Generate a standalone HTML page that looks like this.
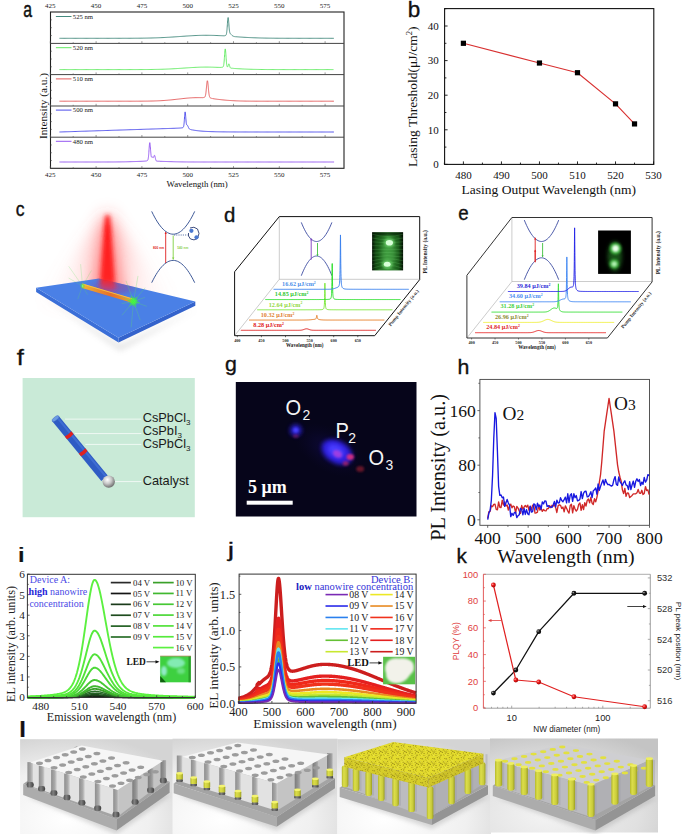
<!DOCTYPE html>
<html><head><meta charset="utf-8"><style>
html,body{margin:0;padding:0;background:#fff;}
svg{display:block;}
</style></head><body>
<svg width="685" height="834" viewBox="0 0 685 834">
<rect width="685" height="834" fill="#fff"/>
<rect x="50.5" y="12.0" width="293.5" height="156.3" fill="none" stroke="#222" stroke-width="1.1"/>
<line x1="50.50" y1="43.40" x2="344.00" y2="43.40" stroke="#444" stroke-width="1.0" />
<line x1="50.50" y1="74.60" x2="344.00" y2="74.60" stroke="#444" stroke-width="1.0" />
<line x1="50.50" y1="106.00" x2="344.00" y2="106.00" stroke="#444" stroke-width="1.0" />
<line x1="50.50" y1="137.20" x2="344.00" y2="137.20" stroke="#444" stroke-width="1.0" />
<line x1="50.30" y1="43.40" x2="50.30" y2="41.20" stroke="#555" stroke-width="0.6" />
<line x1="73.20" y1="43.40" x2="73.20" y2="42.20" stroke="#555" stroke-width="0.6" />
<line x1="96.10" y1="43.40" x2="96.10" y2="41.20" stroke="#555" stroke-width="0.6" />
<line x1="119.00" y1="43.40" x2="119.00" y2="42.20" stroke="#555" stroke-width="0.6" />
<line x1="141.90" y1="43.40" x2="141.90" y2="41.20" stroke="#555" stroke-width="0.6" />
<line x1="164.80" y1="43.40" x2="164.80" y2="42.20" stroke="#555" stroke-width="0.6" />
<line x1="187.70" y1="43.40" x2="187.70" y2="41.20" stroke="#555" stroke-width="0.6" />
<line x1="210.60" y1="43.40" x2="210.60" y2="42.20" stroke="#555" stroke-width="0.6" />
<line x1="233.50" y1="43.40" x2="233.50" y2="41.20" stroke="#555" stroke-width="0.6" />
<line x1="256.40" y1="43.40" x2="256.40" y2="42.20" stroke="#555" stroke-width="0.6" />
<line x1="279.30" y1="43.40" x2="279.30" y2="41.20" stroke="#555" stroke-width="0.6" />
<line x1="302.20" y1="43.40" x2="302.20" y2="42.20" stroke="#555" stroke-width="0.6" />
<line x1="325.10" y1="43.40" x2="325.10" y2="41.20" stroke="#555" stroke-width="0.6" />
<line x1="50.50" y1="19.85" x2="52.00" y2="19.85" stroke="#555" stroke-width="0.6" />
<line x1="50.50" y1="27.70" x2="52.00" y2="27.70" stroke="#555" stroke-width="0.6" />
<line x1="50.50" y1="35.55" x2="52.00" y2="35.55" stroke="#555" stroke-width="0.6" />
<line x1="50.30" y1="74.60" x2="50.30" y2="72.40" stroke="#555" stroke-width="0.6" />
<line x1="73.20" y1="74.60" x2="73.20" y2="73.40" stroke="#555" stroke-width="0.6" />
<line x1="96.10" y1="74.60" x2="96.10" y2="72.40" stroke="#555" stroke-width="0.6" />
<line x1="119.00" y1="74.60" x2="119.00" y2="73.40" stroke="#555" stroke-width="0.6" />
<line x1="141.90" y1="74.60" x2="141.90" y2="72.40" stroke="#555" stroke-width="0.6" />
<line x1="164.80" y1="74.60" x2="164.80" y2="73.40" stroke="#555" stroke-width="0.6" />
<line x1="187.70" y1="74.60" x2="187.70" y2="72.40" stroke="#555" stroke-width="0.6" />
<line x1="210.60" y1="74.60" x2="210.60" y2="73.40" stroke="#555" stroke-width="0.6" />
<line x1="233.50" y1="74.60" x2="233.50" y2="72.40" stroke="#555" stroke-width="0.6" />
<line x1="256.40" y1="74.60" x2="256.40" y2="73.40" stroke="#555" stroke-width="0.6" />
<line x1="279.30" y1="74.60" x2="279.30" y2="72.40" stroke="#555" stroke-width="0.6" />
<line x1="302.20" y1="74.60" x2="302.20" y2="73.40" stroke="#555" stroke-width="0.6" />
<line x1="325.10" y1="74.60" x2="325.10" y2="72.40" stroke="#555" stroke-width="0.6" />
<line x1="50.50" y1="51.20" x2="52.00" y2="51.20" stroke="#555" stroke-width="0.6" />
<line x1="50.50" y1="59.00" x2="52.00" y2="59.00" stroke="#555" stroke-width="0.6" />
<line x1="50.50" y1="66.80" x2="52.00" y2="66.80" stroke="#555" stroke-width="0.6" />
<line x1="50.30" y1="106.00" x2="50.30" y2="103.80" stroke="#555" stroke-width="0.6" />
<line x1="73.20" y1="106.00" x2="73.20" y2="104.80" stroke="#555" stroke-width="0.6" />
<line x1="96.10" y1="106.00" x2="96.10" y2="103.80" stroke="#555" stroke-width="0.6" />
<line x1="119.00" y1="106.00" x2="119.00" y2="104.80" stroke="#555" stroke-width="0.6" />
<line x1="141.90" y1="106.00" x2="141.90" y2="103.80" stroke="#555" stroke-width="0.6" />
<line x1="164.80" y1="106.00" x2="164.80" y2="104.80" stroke="#555" stroke-width="0.6" />
<line x1="187.70" y1="106.00" x2="187.70" y2="103.80" stroke="#555" stroke-width="0.6" />
<line x1="210.60" y1="106.00" x2="210.60" y2="104.80" stroke="#555" stroke-width="0.6" />
<line x1="233.50" y1="106.00" x2="233.50" y2="103.80" stroke="#555" stroke-width="0.6" />
<line x1="256.40" y1="106.00" x2="256.40" y2="104.80" stroke="#555" stroke-width="0.6" />
<line x1="279.30" y1="106.00" x2="279.30" y2="103.80" stroke="#555" stroke-width="0.6" />
<line x1="302.20" y1="106.00" x2="302.20" y2="104.80" stroke="#555" stroke-width="0.6" />
<line x1="325.10" y1="106.00" x2="325.10" y2="103.80" stroke="#555" stroke-width="0.6" />
<line x1="50.50" y1="82.45" x2="52.00" y2="82.45" stroke="#555" stroke-width="0.6" />
<line x1="50.50" y1="90.30" x2="52.00" y2="90.30" stroke="#555" stroke-width="0.6" />
<line x1="50.50" y1="98.15" x2="52.00" y2="98.15" stroke="#555" stroke-width="0.6" />
<line x1="50.30" y1="137.20" x2="50.30" y2="135.00" stroke="#555" stroke-width="0.6" />
<line x1="73.20" y1="137.20" x2="73.20" y2="136.00" stroke="#555" stroke-width="0.6" />
<line x1="96.10" y1="137.20" x2="96.10" y2="135.00" stroke="#555" stroke-width="0.6" />
<line x1="119.00" y1="137.20" x2="119.00" y2="136.00" stroke="#555" stroke-width="0.6" />
<line x1="141.90" y1="137.20" x2="141.90" y2="135.00" stroke="#555" stroke-width="0.6" />
<line x1="164.80" y1="137.20" x2="164.80" y2="136.00" stroke="#555" stroke-width="0.6" />
<line x1="187.70" y1="137.20" x2="187.70" y2="135.00" stroke="#555" stroke-width="0.6" />
<line x1="210.60" y1="137.20" x2="210.60" y2="136.00" stroke="#555" stroke-width="0.6" />
<line x1="233.50" y1="137.20" x2="233.50" y2="135.00" stroke="#555" stroke-width="0.6" />
<line x1="256.40" y1="137.20" x2="256.40" y2="136.00" stroke="#555" stroke-width="0.6" />
<line x1="279.30" y1="137.20" x2="279.30" y2="135.00" stroke="#555" stroke-width="0.6" />
<line x1="302.20" y1="137.20" x2="302.20" y2="136.00" stroke="#555" stroke-width="0.6" />
<line x1="325.10" y1="137.20" x2="325.10" y2="135.00" stroke="#555" stroke-width="0.6" />
<line x1="50.50" y1="113.80" x2="52.00" y2="113.80" stroke="#555" stroke-width="0.6" />
<line x1="50.50" y1="121.60" x2="52.00" y2="121.60" stroke="#555" stroke-width="0.6" />
<line x1="50.50" y1="129.40" x2="52.00" y2="129.40" stroke="#555" stroke-width="0.6" />
<line x1="50.30" y1="168.30" x2="50.30" y2="166.10" stroke="#555" stroke-width="0.6" />
<line x1="73.20" y1="168.30" x2="73.20" y2="167.10" stroke="#555" stroke-width="0.6" />
<line x1="96.10" y1="168.30" x2="96.10" y2="166.10" stroke="#555" stroke-width="0.6" />
<line x1="119.00" y1="168.30" x2="119.00" y2="167.10" stroke="#555" stroke-width="0.6" />
<line x1="141.90" y1="168.30" x2="141.90" y2="166.10" stroke="#555" stroke-width="0.6" />
<line x1="164.80" y1="168.30" x2="164.80" y2="167.10" stroke="#555" stroke-width="0.6" />
<line x1="187.70" y1="168.30" x2="187.70" y2="166.10" stroke="#555" stroke-width="0.6" />
<line x1="210.60" y1="168.30" x2="210.60" y2="167.10" stroke="#555" stroke-width="0.6" />
<line x1="233.50" y1="168.30" x2="233.50" y2="166.10" stroke="#555" stroke-width="0.6" />
<line x1="256.40" y1="168.30" x2="256.40" y2="167.10" stroke="#555" stroke-width="0.6" />
<line x1="279.30" y1="168.30" x2="279.30" y2="166.10" stroke="#555" stroke-width="0.6" />
<line x1="302.20" y1="168.30" x2="302.20" y2="167.10" stroke="#555" stroke-width="0.6" />
<line x1="325.10" y1="168.30" x2="325.10" y2="166.10" stroke="#555" stroke-width="0.6" />
<line x1="50.50" y1="144.97" x2="52.00" y2="144.97" stroke="#555" stroke-width="0.6" />
<line x1="50.50" y1="152.75" x2="52.00" y2="152.75" stroke="#555" stroke-width="0.6" />
<line x1="50.50" y1="160.53" x2="52.00" y2="160.53" stroke="#555" stroke-width="0.6" />
<text x="50.3" y="7.6" style="font-family:'Liberation Serif',serif;font-size:7.0px;font-weight:normal" fill="#222" text-anchor="middle" >425</text>
<text x="50.3" y="177.4" style="font-family:'Liberation Serif',serif;font-size:7.0px;font-weight:normal" fill="#222" text-anchor="middle" >425</text>
<text x="96.1" y="7.6" style="font-family:'Liberation Serif',serif;font-size:7.0px;font-weight:normal" fill="#222" text-anchor="middle" >450</text>
<text x="96.1" y="177.4" style="font-family:'Liberation Serif',serif;font-size:7.0px;font-weight:normal" fill="#222" text-anchor="middle" >450</text>
<text x="141.9" y="7.6" style="font-family:'Liberation Serif',serif;font-size:7.0px;font-weight:normal" fill="#222" text-anchor="middle" >475</text>
<text x="141.9" y="177.4" style="font-family:'Liberation Serif',serif;font-size:7.0px;font-weight:normal" fill="#222" text-anchor="middle" >475</text>
<text x="187.7" y="7.6" style="font-family:'Liberation Serif',serif;font-size:7.0px;font-weight:normal" fill="#222" text-anchor="middle" >500</text>
<text x="187.7" y="177.4" style="font-family:'Liberation Serif',serif;font-size:7.0px;font-weight:normal" fill="#222" text-anchor="middle" >500</text>
<text x="233.5" y="7.6" style="font-family:'Liberation Serif',serif;font-size:7.0px;font-weight:normal" fill="#222" text-anchor="middle" >525</text>
<text x="233.5" y="177.4" style="font-family:'Liberation Serif',serif;font-size:7.0px;font-weight:normal" fill="#222" text-anchor="middle" >525</text>
<text x="279.3" y="7.6" style="font-family:'Liberation Serif',serif;font-size:7.0px;font-weight:normal" fill="#222" text-anchor="middle" >550</text>
<text x="279.3" y="177.4" style="font-family:'Liberation Serif',serif;font-size:7.0px;font-weight:normal" fill="#222" text-anchor="middle" >550</text>
<text x="325.1" y="7.6" style="font-family:'Liberation Serif',serif;font-size:7.0px;font-weight:normal" fill="#222" text-anchor="middle" >575</text>
<text x="325.1" y="177.4" style="font-family:'Liberation Serif',serif;font-size:7.0px;font-weight:normal" fill="#222" text-anchor="middle" >575</text>
<text x="197.1" y="186.6" style="font-family:'Liberation Serif',serif;font-size:8.8px;font-weight:normal" fill="#111" text-anchor="middle" >Wavelength (nm)</text>
<text transform="translate(47.4,106) rotate(-90)" style="font-family:'Liberation Serif',serif;font-size:11.3px" fill="#111" text-anchor="middle">Intensity (a.u.)</text>
<line x1="55.90" y1="16.50" x2="71.50" y2="16.50" stroke="#2f7d6f" stroke-width="0.9" />
<text x="72.8" y="18.8" style="font-family:'Liberation Serif',serif;font-size:6.7px;font-weight:normal" fill="#222" text-anchor="start" >525 nm</text>
<path d="M59.46,38.30 L60.38,38.30 L61.29,38.30 L62.21,38.30 L63.12,38.30 L64.04,38.30 L64.96,38.30 L65.87,38.30 L66.79,38.30 L67.70,38.30 L68.62,38.30 L69.54,38.30 L70.45,38.30 L71.37,38.30 L72.28,38.30 L73.20,38.30 L74.12,38.30 L75.03,38.30 L75.95,38.30 L76.86,38.30 L77.78,38.30 L78.70,38.30 L79.61,38.30 L80.53,38.30 L81.44,38.30 L82.36,38.30 L83.28,38.30 L84.19,38.30 L85.11,38.30 L86.02,38.30 L86.94,38.30 L87.86,38.30 L88.77,38.30 L89.69,38.30 L90.60,38.30 L91.52,38.30 L92.44,38.30 L93.35,38.30 L94.27,38.30 L95.18,38.30 L96.10,38.30 L97.02,38.30 L97.93,38.30 L98.85,38.30 L99.76,38.30 L100.68,38.30 L101.60,38.30 L102.51,38.30 L103.43,38.30 L104.34,38.30 L105.26,38.30 L106.18,38.30 L107.09,38.30 L108.01,38.30 L108.92,38.30 L109.84,38.30 L110.76,38.30 L111.67,38.30 L112.59,38.30 L113.50,38.30 L114.42,38.29 L115.34,38.29 L116.25,38.29 L117.17,38.29 L118.08,38.29 L119.00,38.29 L119.92,38.29 L120.83,38.29 L121.75,38.29 L122.66,38.28 L123.58,38.28 L124.50,38.28 L125.41,38.28 L126.33,38.28 L127.24,38.27 L128.16,38.27 L129.08,38.27 L129.99,38.26 L130.91,38.26 L131.82,38.25 L132.74,38.25 L133.66,38.24 L134.57,38.24 L135.49,38.23 L136.40,38.22 L137.32,38.22 L138.24,38.21 L139.15,38.20 L140.07,38.19 L140.98,38.18 L141.90,38.17 L142.82,38.16 L143.73,38.14 L144.65,38.13 L145.56,38.11 L146.48,38.10 L147.40,38.08 L148.31,38.06 L149.23,38.04 L150.14,38.02 L151.06,38.00 L151.98,37.97 L152.89,37.95 L153.81,37.92 L154.72,37.89 L155.64,37.86 L156.56,37.83 L157.47,37.80 L158.39,37.76 L159.30,37.73 L160.22,37.69 L161.14,37.65 L162.05,37.61 L162.97,37.57 L163.88,37.52 L164.80,37.47 L165.72,37.43 L166.63,37.38 L167.55,37.32 L168.46,37.27 L169.38,37.22 L170.30,37.16 L171.21,37.10 L172.13,37.05 L173.04,36.99 L173.96,36.93 L174.88,36.86 L175.79,36.80 L176.71,36.74 L177.62,36.67 L178.54,36.61 L179.46,36.54 L180.37,36.48 L181.29,36.41 L182.20,36.35 L183.12,36.28 L184.04,36.22 L184.95,36.16 L185.87,36.09 L186.78,36.03 L187.70,35.97 L188.62,35.91 L189.53,35.86 L190.45,35.80 L191.36,35.75 L192.28,35.70 L193.20,35.65 L194.11,35.60 L195.03,35.56 L195.94,35.52 L196.86,35.48 L197.78,35.45 L198.69,35.42 L199.61,35.39 L200.52,35.36 L201.44,35.34 L202.36,35.32 L203.27,35.31 L204.19,35.30 L205.10,35.29 L206.02,35.29 L206.94,35.29 L207.85,35.30 L208.77,35.31 L209.68,35.32 L210.60,35.33 L211.52,35.35 L212.43,35.38 L213.35,35.40 L214.26,35.43 L215.18,35.46 L216.10,35.50 L217.01,35.53 L217.93,35.57 L218.84,35.61 L219.76,35.65 L220.68,35.68 L221.59,35.71 L222.51,35.74 L223.42,35.75 L223.52,35.75 L223.61,35.75 L223.70,35.74 L223.79,35.74 L223.88,35.74 L223.97,35.74 L224.07,35.73 L224.16,35.73 L224.25,35.72 L224.34,35.72 L224.43,35.71 L224.52,35.71 L224.61,35.70 L224.71,35.69 L224.80,35.68 L224.89,35.67 L224.98,35.65 L225.07,35.64 L225.16,35.62 L225.26,35.60 L225.35,35.57 L225.44,35.54 L225.53,35.51 L225.62,35.46 L225.71,35.40 L225.81,35.33 L225.90,35.24 L225.99,35.12 L226.08,34.97 L226.17,34.78 L226.26,34.54 L226.36,34.24 L226.45,33.87 L226.54,33.41 L226.63,32.86 L226.72,32.21 L226.81,31.44 L226.90,30.56 L227.00,29.56 L227.09,28.45 L227.18,27.26 L227.27,25.99 L227.36,24.68 L227.45,23.36 L227.55,22.07 L227.64,20.86 L227.73,19.78 L227.82,18.87 L227.91,18.17 L228.00,17.71 L228.10,17.52 L228.19,17.60 L228.28,17.94 L228.37,18.52 L228.46,19.32 L228.55,20.30 L228.65,21.40 L228.74,22.58 L228.83,23.80 L228.92,25.01 L229.01,26.19 L229.10,27.29 L229.19,28.31 L229.29,29.23 L229.38,30.05 L229.47,30.75 L229.56,31.35 L229.65,31.85 L229.74,32.27 L229.84,32.61 L229.93,32.89 L230.02,33.11 L230.11,33.29 L230.20,33.45 L230.29,33.57 L230.39,33.69 L230.48,33.79 L230.57,33.88 L230.66,33.97 L230.75,34.06 L230.84,34.14 L230.94,34.23 L231.03,34.32 L231.12,34.41 L231.21,34.51 L231.30,34.60 L231.39,34.70 L231.48,34.79 L231.58,34.89 L231.67,34.99 L231.76,35.08 L231.85,35.18 L231.94,35.27 L232.03,35.36 L232.13,35.44 L232.22,35.53 L232.31,35.61 L232.40,35.68 L232.49,35.76 L232.58,35.83 L232.68,35.89 L232.77,35.96 L232.86,36.01 L232.95,36.07 L233.04,36.12 L233.13,36.17 L233.23,36.21 L233.32,36.25 L233.41,36.29 L233.50,36.32 L233.59,36.35 L233.68,36.38 L233.77,36.41 L233.87,36.43 L233.96,36.46 L234.05,36.48 L234.14,36.50 L234.23,36.52 L234.32,36.53 L234.42,36.55 L234.51,36.56 L234.60,36.58 L234.69,36.59 L234.78,36.60 L234.87,36.61 L234.97,36.62 L235.06,36.63 L235.15,36.64 L235.24,36.65 L235.33,36.66 L235.42,36.67 L235.52,36.68 L235.61,36.69 L235.70,36.70 L235.79,36.70 L236.71,36.78 L237.62,36.85 L238.54,36.92 L239.45,36.99 L240.37,37.05 L241.29,37.11 L242.20,37.17 L243.12,37.23 L244.03,37.28 L244.95,37.34 L245.87,37.39 L246.78,37.44 L247.70,37.49 L248.61,37.54 L249.53,37.58 L250.45,37.62 L251.36,37.66 L252.28,37.70 L253.19,37.74 L254.11,37.78 L255.03,37.81 L255.94,37.84 L256.86,37.87 L257.77,37.90 L258.69,37.93 L259.61,37.96 L260.52,37.98 L261.44,38.01 L262.35,38.03 L263.27,38.05 L264.19,38.07 L265.10,38.09 L266.02,38.10 L266.93,38.12 L267.85,38.13 L268.77,38.15 L269.68,38.16 L270.60,38.17 L271.51,38.18 L272.43,38.19 L273.35,38.20 L274.26,38.21 L275.18,38.22 L276.09,38.23 L277.01,38.23 L277.93,38.24 L278.84,38.25 L279.76,38.25 L280.67,38.26 L281.59,38.26 L282.51,38.26 L283.42,38.27 L284.34,38.27 L285.25,38.27 L286.17,38.28 L287.09,38.28 L288.00,38.28 L288.92,38.28 L289.83,38.28 L290.75,38.29 L291.67,38.29 L292.58,38.29 L293.50,38.29 L294.41,38.29 L295.33,38.29 L296.25,38.29 L297.16,38.29 L298.08,38.29 L298.99,38.30 L299.91,38.30 L300.83,38.30 L301.74,38.30 L302.66,38.30 L303.57,38.30 L304.49,38.30 L305.41,38.30 L306.32,38.30 L307.24,38.30 L308.15,38.30 L309.07,38.30 L309.99,38.30 L310.90,38.30 L311.82,38.30 L312.73,38.30 L313.65,38.30 L314.57,38.30 L315.48,38.30 L316.40,38.30 L317.31,38.30 L318.23,38.30 L319.15,38.30 L320.06,38.30 L320.98,38.30 L321.89,38.30 L322.81,38.30 L323.73,38.30 L324.64,38.30 L325.56,38.30 L326.47,38.30 L327.39,38.30 L328.31,38.30 L329.22,38.30 L330.14,38.30 L331.05,38.30 L331.97,38.30 L332.89,38.30 L333.80,38.30" stroke="#2f7d6f" stroke-width="0.85" fill="none" stroke-linejoin="round" />
<line x1="55.90" y1="47.70" x2="71.50" y2="47.70" stroke="#4fe84f" stroke-width="0.9" />
<text x="72.8" y="50.0" style="font-family:'Liberation Serif',serif;font-size:6.7px;font-weight:normal" fill="#222" text-anchor="start" >520 nm</text>
<path d="M59.46,69.60 L60.38,69.60 L61.29,69.60 L62.21,69.60 L63.12,69.60 L64.04,69.60 L64.96,69.60 L65.87,69.60 L66.79,69.60 L67.70,69.60 L68.62,69.60 L69.54,69.60 L70.45,69.60 L71.37,69.60 L72.28,69.60 L73.20,69.60 L74.12,69.60 L75.03,69.60 L75.95,69.60 L76.86,69.60 L77.78,69.60 L78.70,69.60 L79.61,69.60 L80.53,69.60 L81.44,69.60 L82.36,69.60 L83.28,69.60 L84.19,69.60 L85.11,69.60 L86.02,69.60 L86.94,69.60 L87.86,69.60 L88.77,69.60 L89.69,69.60 L90.60,69.60 L91.52,69.60 L92.44,69.60 L93.35,69.60 L94.27,69.60 L95.18,69.60 L96.10,69.60 L97.02,69.60 L97.93,69.60 L98.85,69.60 L99.76,69.60 L100.68,69.60 L101.60,69.60 L102.51,69.60 L103.43,69.60 L104.34,69.60 L105.26,69.60 L106.18,69.60 L107.09,69.60 L108.01,69.60 L108.92,69.60 L109.84,69.60 L110.76,69.60 L111.67,69.60 L112.59,69.60 L113.50,69.60 L114.42,69.60 L115.34,69.60 L116.25,69.60 L117.17,69.60 L118.08,69.60 L119.00,69.60 L119.92,69.60 L120.83,69.60 L121.75,69.60 L122.66,69.60 L123.58,69.60 L124.50,69.60 L125.41,69.60 L126.33,69.60 L127.24,69.60 L128.16,69.59 L129.08,69.59 L129.99,69.59 L130.91,69.59 L131.82,69.59 L132.74,69.59 L133.66,69.59 L134.57,69.59 L135.49,69.58 L136.40,69.58 L137.32,69.58 L138.24,69.58 L139.15,69.57 L140.07,69.57 L140.98,69.57 L141.90,69.56 L142.82,69.56 L143.73,69.55 L144.65,69.55 L145.56,69.54 L146.48,69.54 L147.40,69.53 L148.31,69.52 L149.23,69.51 L150.14,69.50 L151.06,69.49 L151.98,69.48 L152.89,69.46 L153.81,69.45 L154.72,69.43 L155.64,69.42 L156.56,69.40 L157.47,69.38 L158.39,69.36 L159.30,69.34 L160.22,69.31 L161.14,69.29 L162.05,69.26 L162.97,69.23 L163.88,69.20 L164.80,69.17 L165.72,69.13 L166.63,69.10 L167.55,69.06 L168.46,69.02 L169.38,68.98 L170.30,68.93 L171.21,68.88 L172.13,68.84 L173.04,68.79 L173.96,68.74 L174.88,68.68 L175.79,68.63 L176.71,68.57 L177.62,68.51 L178.54,68.45 L179.46,68.39 L180.37,68.33 L181.29,68.27 L182.20,68.21 L183.12,68.14 L184.04,68.08 L184.95,68.02 L185.87,67.95 L186.78,67.89 L187.70,67.83 L188.62,67.77 L189.53,67.71 L190.45,67.65 L191.36,67.59 L192.28,67.54 L193.20,67.49 L194.11,67.44 L195.03,67.39 L195.94,67.34 L196.86,67.30 L197.78,67.26 L198.69,67.23 L199.61,67.20 L200.52,67.17 L201.44,67.15 L202.36,67.13 L203.27,67.11 L204.19,67.10 L205.10,67.09 L206.02,67.09 L206.94,67.09 L207.85,67.10 L208.77,67.10 L209.68,67.12 L210.60,67.13 L211.52,67.16 L212.43,67.18 L213.35,67.21 L214.26,67.24 L215.18,67.27 L216.10,67.30 L217.01,67.33 L217.93,67.37 L218.84,67.39 L219.76,67.41 L220.68,67.41 L220.77,67.41 L220.86,67.41 L220.95,67.41 L221.04,67.40 L221.13,67.40 L221.23,67.40 L221.32,67.39 L221.41,67.39 L221.50,67.38 L221.59,67.37 L221.68,67.36 L221.78,67.36 L221.87,67.35 L221.96,67.34 L222.05,67.32 L222.14,67.31 L222.23,67.29 L222.32,67.27 L222.42,67.25 L222.51,67.23 L222.60,67.20 L222.69,67.16 L222.78,67.11 L222.87,67.06 L222.97,66.98 L223.06,66.89 L223.15,66.77 L223.24,66.62 L223.33,66.43 L223.42,66.18 L223.52,65.88 L223.61,65.49 L223.70,65.02 L223.79,64.46 L223.88,63.78 L223.97,62.99 L224.07,62.08 L224.16,61.05 L224.25,59.92 L224.34,58.68 L224.43,57.38 L224.52,56.03 L224.61,54.68 L224.71,53.36 L224.80,52.13 L224.89,51.04 L224.98,50.14 L225.07,49.45 L225.16,49.03 L225.26,48.90 L225.35,49.05 L225.44,49.48 L225.53,50.17 L225.62,51.09 L225.71,52.20 L225.81,53.44 L225.90,54.76 L225.99,56.13 L226.08,57.49 L226.17,58.81 L226.26,60.05 L226.36,61.20 L226.45,62.24 L226.54,63.16 L226.63,63.96 L226.72,64.64 L226.81,65.22 L226.90,65.69 L227.00,66.07 L227.09,66.36 L227.18,66.59 L227.27,66.75 L227.36,66.85 L227.45,66.90 L227.55,66.89 L227.64,66.84 L227.73,66.74 L227.82,66.59 L227.91,66.39 L228.00,66.16 L228.10,65.89 L228.19,65.59 L228.28,65.27 L228.37,64.96 L228.46,64.66 L228.55,64.38 L228.65,64.15 L228.74,63.98 L228.83,63.89 L228.92,63.86 L229.01,63.92 L229.10,64.06 L229.19,64.27 L229.29,64.54 L229.38,64.85 L229.47,65.20 L229.56,65.56 L229.65,65.91 L229.74,66.26 L229.84,66.58 L229.93,66.87 L230.02,67.13 L230.11,67.35 L230.20,67.53 L230.29,67.68 L230.39,67.80 L230.48,67.90 L230.57,67.97 L230.66,68.03 L230.75,68.07 L230.84,68.11 L230.94,68.13 L231.03,68.15 L231.12,68.17 L231.21,68.18 L231.30,68.20 L231.39,68.21 L231.48,68.22 L231.58,68.23 L231.67,68.24 L231.76,68.25 L231.85,68.25 L231.94,68.26 L232.03,68.27 L232.13,68.28 L232.22,68.29 L232.31,68.30 L232.40,68.30 L232.49,68.31 L232.58,68.32 L232.68,68.33 L232.77,68.34 L232.86,68.34 L232.95,68.35 L233.04,68.36 L233.13,68.37 L233.23,68.37 L233.32,68.38 L233.41,68.39 L233.50,68.40 L233.59,68.40 L233.68,68.41 L233.77,68.42 L233.87,68.42 L233.96,68.43 L234.05,68.44 L234.14,68.45 L234.23,68.45 L234.32,68.46 L234.42,68.47 L234.51,68.47 L235.42,68.54 L236.34,68.60 L237.26,68.66 L238.17,68.72 L239.09,68.77 L240.00,68.82 L240.92,68.87 L241.84,68.92 L242.75,68.97 L243.67,69.01 L244.58,69.05 L245.50,69.09 L246.42,69.13 L247.33,69.16 L248.25,69.20 L249.16,69.23 L250.08,69.26 L251.00,69.29 L251.91,69.31 L252.83,69.34 L253.74,69.36 L254.66,69.38 L255.58,69.40 L256.49,69.42 L257.41,69.43 L258.32,69.45 L259.24,69.46 L260.16,69.48 L261.07,69.49 L261.99,69.50 L262.90,69.51 L263.82,69.52 L264.74,69.53 L265.65,69.53 L266.57,69.54 L267.48,69.55 L268.40,69.55 L269.32,69.56 L270.23,69.56 L271.15,69.57 L272.06,69.57 L272.98,69.57 L273.90,69.58 L274.81,69.58 L275.73,69.58 L276.64,69.58 L277.56,69.59 L278.48,69.59 L279.39,69.59 L280.31,69.59 L281.22,69.59 L282.14,69.59 L283.06,69.59 L283.97,69.59 L284.89,69.59 L285.80,69.60 L286.72,69.60 L287.64,69.60 L288.55,69.60 L289.47,69.60 L290.38,69.60 L291.30,69.60 L292.22,69.60 L293.13,69.60 L294.05,69.60 L294.96,69.60 L295.88,69.60 L296.80,69.60 L297.71,69.60 L298.63,69.60 L299.54,69.60 L300.46,69.60 L301.38,69.60 L302.29,69.60 L303.21,69.60 L304.12,69.60 L305.04,69.60 L305.96,69.60 L306.87,69.60 L307.79,69.60 L308.70,69.60 L309.62,69.60 L310.54,69.60 L311.45,69.60 L312.37,69.60 L313.28,69.60 L314.20,69.60 L315.12,69.60 L316.03,69.60 L316.95,69.60 L317.86,69.60 L318.78,69.60 L319.70,69.60 L320.61,69.60 L321.53,69.60 L322.44,69.60 L323.36,69.60 L324.28,69.60 L325.19,69.60 L326.11,69.60 L327.02,69.60 L327.94,69.60 L328.86,69.60 L329.77,69.60 L330.69,69.60 L331.60,69.60 L332.52,69.60 L333.44,69.60" stroke="#4fe84f" stroke-width="0.85" fill="none" stroke-linejoin="round" />
<line x1="55.90" y1="78.90" x2="71.50" y2="78.90" stroke="#e04848" stroke-width="0.9" />
<text x="72.8" y="81.2" style="font-family:'Liberation Serif',serif;font-size:6.7px;font-weight:normal" fill="#222" text-anchor="start" >510 nm</text>
<path d="M59.46,101.20 L60.38,101.20 L61.29,101.20 L62.21,101.20 L63.12,101.20 L64.04,101.20 L64.96,101.20 L65.87,101.20 L66.79,101.20 L67.70,101.20 L68.62,101.20 L69.54,101.20 L70.45,101.20 L71.37,101.20 L72.28,101.20 L73.20,101.20 L74.12,101.20 L75.03,101.20 L75.95,101.20 L76.86,101.20 L77.78,101.20 L78.70,101.20 L79.61,101.20 L80.53,101.20 L81.44,101.20 L82.36,101.20 L83.28,101.20 L84.19,101.20 L85.11,101.20 L86.02,101.20 L86.94,101.20 L87.86,101.20 L88.77,101.20 L89.69,101.20 L90.60,101.20 L91.52,101.20 L92.44,101.20 L93.35,101.20 L94.27,101.20 L95.18,101.20 L96.10,101.20 L97.02,101.20 L97.93,101.20 L98.85,101.20 L99.76,101.20 L100.68,101.20 L101.60,101.20 L102.51,101.20 L103.43,101.20 L104.34,101.20 L105.26,101.20 L106.18,101.20 L107.09,101.20 L108.01,101.20 L108.92,101.20 L109.84,101.20 L110.76,101.20 L111.67,101.20 L112.59,101.20 L113.50,101.20 L114.42,101.20 L115.34,101.20 L116.25,101.20 L117.17,101.20 L118.08,101.20 L119.00,101.20 L119.92,101.20 L120.83,101.20 L121.75,101.20 L122.66,101.20 L123.58,101.20 L124.50,101.20 L125.41,101.20 L126.33,101.20 L127.24,101.20 L128.16,101.20 L129.08,101.20 L129.99,101.19 L130.91,101.19 L131.82,101.19 L132.74,101.19 L133.66,101.19 L134.57,101.19 L135.49,101.19 L136.40,101.18 L137.32,101.18 L138.24,101.18 L139.15,101.17 L140.07,101.17 L140.98,101.17 L141.90,101.16 L142.82,101.15 L143.73,101.15 L144.65,101.14 L145.56,101.13 L146.48,101.12 L147.40,101.11 L148.31,101.09 L149.23,101.08 L150.14,101.06 L151.06,101.04 L151.98,101.02 L152.89,101.00 L153.81,100.98 L154.72,100.95 L155.64,100.92 L156.56,100.89 L157.47,100.85 L158.39,100.81 L159.30,100.77 L160.22,100.72 L161.14,100.67 L162.05,100.62 L162.97,100.56 L163.88,100.50 L164.80,100.44 L165.72,100.37 L166.63,100.30 L167.55,100.22 L168.46,100.14 L169.38,100.06 L170.30,99.97 L171.21,99.88 L172.13,99.79 L173.04,99.69 L173.96,99.59 L174.88,99.49 L175.79,99.39 L176.71,99.28 L177.62,99.18 L178.54,99.07 L179.46,98.96 L180.37,98.86 L181.29,98.75 L182.20,98.65 L183.12,98.55 L184.04,98.45 L184.95,98.35 L185.87,98.26 L186.78,98.18 L187.70,98.10 L188.62,98.02 L189.53,97.95 L190.45,97.89 L191.36,97.83 L192.28,97.78 L193.20,97.74 L194.11,97.71 L195.03,97.68 L195.94,97.66 L196.86,97.65 L197.78,97.64 L198.69,97.64 L199.61,97.64 L200.52,97.65 L201.44,97.65 L202.36,97.64 L202.45,97.63 L202.54,97.63 L202.63,97.63 L202.72,97.62 L202.81,97.62 L202.91,97.62 L203.00,97.61 L203.09,97.61 L203.18,97.60 L203.27,97.59 L203.36,97.58 L203.46,97.58 L203.55,97.57 L203.64,97.56 L203.73,97.54 L203.82,97.53 L203.91,97.51 L204.00,97.50 L204.10,97.47 L204.19,97.45 L204.28,97.42 L204.37,97.38 L204.46,97.34 L204.55,97.28 L204.65,97.21 L204.74,97.13 L204.83,97.03 L204.92,96.91 L205.01,96.75 L205.10,96.57 L205.20,96.35 L205.29,96.09 L205.38,95.78 L205.47,95.42 L205.56,95.00 L205.65,94.51 L205.75,93.96 L205.84,93.33 L205.93,92.64 L206.02,91.88 L206.11,91.05 L206.20,90.16 L206.29,89.23 L206.39,88.26 L206.48,87.27 L206.57,86.27 L206.66,85.29 L206.75,84.36 L206.84,83.48 L206.94,82.69 L207.03,82.01 L207.12,81.46 L207.21,81.06 L207.30,80.81 L207.39,80.73 L207.49,80.83 L207.58,81.09 L207.67,81.51 L207.76,82.08 L207.85,82.78 L207.94,83.58 L208.04,84.48 L208.13,85.43 L208.22,86.42 L208.31,87.44 L208.40,88.45 L208.49,89.43 L208.58,90.39 L208.68,91.29 L208.77,92.13 L208.86,92.91 L208.95,93.62 L209.04,94.26 L209.13,94.83 L209.23,95.34 L209.32,95.78 L209.41,96.16 L209.50,96.48 L209.59,96.76 L209.68,97.00 L209.78,97.19 L209.87,97.36 L209.96,97.50 L210.05,97.62 L210.14,97.72 L210.23,97.80 L210.33,97.88 L210.42,97.94 L210.51,97.99 L210.60,98.04 L210.69,98.08 L210.78,98.12 L210.87,98.15 L210.97,98.18 L211.06,98.21 L211.15,98.24 L211.24,98.27 L211.33,98.30 L211.42,98.32 L211.52,98.34 L211.61,98.37 L211.70,98.39 L211.79,98.41 L211.88,98.43 L211.97,98.45 L212.07,98.47 L212.16,98.49 L212.25,98.51 L212.34,98.53 L212.43,98.54 L212.52,98.56 L212.62,98.58 L212.71,98.59 L212.80,98.61 L212.89,98.63 L212.98,98.64 L213.90,98.79 L214.81,98.93 L215.73,99.06 L216.65,99.18 L217.56,99.30 L218.48,99.41 L219.39,99.52 L220.31,99.62 L221.23,99.72 L222.14,99.82 L223.06,99.92 L223.97,100.01 L224.89,100.09 L225.81,100.18 L226.72,100.26 L227.64,100.33 L228.55,100.40 L229.47,100.47 L230.39,100.53 L231.30,100.59 L232.22,100.65 L233.13,100.70 L234.05,100.75 L234.97,100.79 L235.88,100.83 L236.80,100.87 L237.71,100.90 L238.63,100.93 L239.55,100.96 L240.46,100.99 L241.38,101.01 L242.29,101.03 L243.21,101.05 L244.13,101.07 L245.04,101.09 L245.96,101.10 L246.87,101.11 L247.79,101.12 L248.71,101.13 L249.62,101.14 L250.54,101.15 L251.45,101.16 L252.37,101.16 L253.29,101.17 L254.20,101.17 L255.12,101.18 L256.03,101.18 L256.95,101.18 L257.87,101.18 L258.78,101.19 L259.70,101.19 L260.61,101.19 L261.53,101.19 L262.45,101.19 L263.36,101.19 L264.28,101.19 L265.19,101.19 L266.11,101.20 L267.03,101.20 L267.94,101.20 L268.86,101.20 L269.77,101.20 L270.69,101.20 L271.61,101.20 L272.52,101.20 L273.44,101.20 L274.35,101.20 L275.27,101.20 L276.19,101.20 L277.10,101.20 L278.02,101.20 L278.93,101.20 L279.85,101.20 L280.77,101.20 L281.68,101.20 L282.60,101.20 L283.51,101.20 L284.43,101.20 L285.35,101.20 L286.26,101.20 L287.18,101.20 L288.09,101.20 L289.01,101.20 L289.93,101.20 L290.84,101.20 L291.76,101.20 L292.67,101.20 L293.59,101.20 L294.51,101.20 L295.42,101.20 L296.34,101.20 L297.25,101.20 L298.17,101.20 L299.09,101.20 L300.00,101.20 L300.92,101.20 L301.83,101.20 L302.75,101.20 L303.67,101.20 L304.58,101.20 L305.50,101.20 L306.41,101.20 L307.33,101.20 L308.25,101.20 L309.16,101.20 L310.08,101.20 L310.99,101.20 L311.91,101.20 L312.83,101.20 L313.74,101.20 L314.66,101.20 L315.57,101.20 L316.49,101.20 L317.41,101.20 L318.32,101.20 L319.24,101.20 L320.15,101.20 L321.07,101.20 L321.99,101.20 L322.90,101.20 L323.82,101.20 L324.73,101.20 L325.65,101.20 L326.57,101.20 L327.48,101.20 L328.40,101.20 L329.31,101.20 L330.23,101.20 L331.15,101.20 L332.06,101.20 L332.98,101.20 L333.89,101.20" stroke="#e04848" stroke-width="0.85" fill="none" stroke-linejoin="round" />
<line x1="55.90" y1="110.10" x2="71.50" y2="110.10" stroke="#3838e8" stroke-width="0.9" />
<text x="72.8" y="112.4" style="font-family:'Liberation Serif',serif;font-size:6.7px;font-weight:normal" fill="#222" text-anchor="start" >500 nm</text>
<path d="M59.46,132.00 L60.38,131.97 L61.29,131.94 L62.21,131.91 L63.12,131.88 L64.04,131.85 L64.96,131.82 L65.87,131.79 L66.79,131.76 L67.70,131.74 L68.62,131.71 L69.54,131.68 L70.45,131.65 L71.37,131.62 L72.28,131.59 L73.20,131.56 L74.12,131.53 L75.03,131.50 L75.95,131.47 L76.86,131.44 L77.78,131.41 L78.70,131.38 L79.61,131.35 L80.53,131.32 L81.44,131.29 L82.36,131.26 L83.28,131.24 L84.19,131.21 L85.11,131.18 L86.02,131.15 L86.94,131.12 L87.86,131.09 L88.77,131.06 L89.69,131.03 L90.60,131.00 L91.52,130.97 L92.44,130.94 L93.35,130.91 L94.27,130.88 L95.18,130.85 L96.10,130.82 L97.02,130.79 L97.93,130.76 L98.85,130.73 L99.76,130.71 L100.68,130.68 L101.60,130.65 L102.51,130.62 L103.43,130.59 L104.34,130.56 L105.26,130.53 L106.18,130.50 L107.09,130.47 L108.01,130.44 L108.92,130.41 L109.84,130.38 L110.76,130.35 L111.67,130.32 L112.59,130.29 L113.50,130.26 L114.42,130.23 L115.34,130.21 L116.25,130.18 L117.17,130.15 L118.08,130.12 L119.00,130.09 L119.92,130.06 L120.83,130.03 L121.75,130.00 L122.66,129.97 L123.58,129.94 L124.50,129.91 L125.41,129.88 L126.33,129.85 L127.24,129.82 L128.16,129.79 L129.08,129.76 L129.99,129.73 L130.91,129.70 L131.82,129.68 L132.74,129.65 L133.66,129.62 L134.57,129.59 L135.49,129.56 L136.40,129.53 L137.32,129.50 L138.24,129.47 L139.15,129.44 L140.07,129.41 L140.98,129.38 L141.90,129.35 L142.82,129.32 L143.73,129.29 L144.65,129.26 L145.56,129.23 L146.48,129.20 L147.40,129.17 L148.31,129.15 L149.23,129.12 L150.14,129.09 L151.06,129.06 L151.98,129.03 L152.89,129.00 L153.81,128.97 L154.72,128.94 L155.64,128.91 L156.56,128.88 L157.47,128.85 L158.39,128.82 L159.30,128.79 L160.22,128.76 L161.14,128.73 L162.05,128.70 L162.97,128.67 L163.88,128.64 L164.80,128.61 L165.72,128.58 L166.63,128.55 L167.55,128.52 L168.46,128.49 L169.38,128.46 L170.30,128.43 L171.21,128.40 L172.13,128.37 L173.04,128.33 L173.96,128.30 L174.88,128.27 L175.79,128.23 L176.71,128.20 L177.62,128.16 L178.54,128.12 L179.46,128.07 L180.37,128.00 L180.46,128.00 L180.56,127.99 L180.65,127.98 L180.74,127.97 L180.83,127.97 L180.92,127.96 L181.01,127.95 L181.10,127.94 L181.20,127.93 L181.29,127.92 L181.38,127.91 L181.47,127.90 L181.56,127.88 L181.65,127.87 L181.75,127.86 L181.84,127.84 L181.93,127.83 L182.02,127.81 L182.11,127.80 L182.20,127.78 L182.30,127.76 L182.39,127.74 L182.48,127.71 L182.57,127.69 L182.66,127.66 L182.75,127.62 L182.85,127.58 L182.94,127.54 L183.03,127.48 L183.12,127.40 L183.21,127.30 L183.30,127.18 L183.39,127.02 L183.49,126.81 L183.58,126.53 L183.67,126.18 L183.76,125.74 L183.85,125.19 L183.94,124.52 L184.04,123.73 L184.13,122.80 L184.22,121.75 L184.31,120.58 L184.40,119.32 L184.49,118.01 L184.59,116.69 L184.68,115.42 L184.77,114.26 L184.86,113.26 L184.95,112.52 L185.04,112.06 L185.14,111.90 L185.23,112.04 L185.32,112.49 L185.41,113.20 L185.50,114.13 L185.59,115.22 L185.68,116.41 L185.78,117.63 L185.87,118.84 L185.96,119.98 L186.05,121.02 L186.14,121.93 L186.23,122.71 L186.33,123.36 L186.42,123.87 L186.51,124.26 L186.60,124.55 L186.69,124.75 L186.78,124.90 L186.88,124.99 L186.97,125.06 L187.06,125.11 L187.15,125.16 L187.24,125.21 L187.33,125.28 L187.43,125.37 L187.52,125.47 L187.61,125.60 L187.70,125.76 L187.79,125.93 L187.88,126.11 L187.97,126.32 L188.07,126.53 L188.16,126.75 L188.25,126.97 L188.34,127.19 L188.43,127.40 L188.52,127.61 L188.62,127.80 L188.71,127.99 L188.80,128.16 L188.89,128.32 L188.98,128.46 L189.07,128.60 L189.17,128.71 L189.26,128.82 L189.35,128.91 L189.44,128.99 L189.53,129.06 L189.62,129.13 L189.72,129.18 L189.81,129.23 L189.90,129.28 L189.99,129.32 L190.08,129.35 L190.17,129.39 L190.26,129.42 L190.36,129.45 L190.45,129.47 L190.54,129.50 L190.63,129.52 L190.72,129.55 L190.81,129.57 L190.91,129.59 L191.00,129.62 L191.09,129.64 L191.18,129.66 L191.27,129.68 L191.36,129.70 L191.46,129.72 L191.55,129.74 L191.64,129.76 L191.73,129.78 L191.82,129.80 L191.91,129.82 L192.01,129.84 L192.10,129.86 L192.19,129.88 L192.28,129.90 L192.37,129.91 L192.46,129.93 L192.55,129.95 L192.65,129.97 L192.74,129.98 L192.83,130.00 L193.75,130.17 L194.66,130.32 L195.58,130.45 L196.49,130.58 L197.41,130.69 L198.33,130.80 L199.24,130.90 L200.16,130.99 L201.07,131.07 L201.99,131.14 L202.91,131.21 L203.82,131.27 L204.74,131.33 L205.65,131.39 L206.57,131.43 L207.49,131.48 L208.40,131.52 L209.32,131.56 L210.23,131.59 L211.15,131.63 L212.07,131.66 L212.98,131.68 L213.90,131.71 L214.81,131.73 L215.73,131.75 L216.65,131.77 L217.56,131.79 L218.48,131.81 L219.39,131.82 L220.31,131.84 L221.23,131.85 L222.14,131.86 L223.06,131.87 L223.97,131.88 L224.89,131.89 L225.81,131.90 L226.72,131.91 L227.64,131.92 L228.55,131.92 L229.47,131.93 L230.39,131.93 L231.30,131.94 L232.22,131.94 L233.13,131.95 L234.05,131.95 L234.97,131.96 L235.88,131.96 L236.80,131.96 L237.71,131.97 L238.63,131.97 L239.55,131.97 L240.46,131.97 L241.38,131.98 L242.29,131.98 L243.21,131.98 L244.13,131.98 L245.04,131.98 L245.96,131.98 L246.87,131.98 L247.79,131.99 L248.71,131.99 L249.62,131.99 L250.54,131.99 L251.45,131.99 L252.37,131.99 L253.29,131.99 L254.20,131.99 L255.12,131.99 L256.03,131.99 L256.95,131.99 L257.87,131.99 L258.78,131.99 L259.70,132.00 L260.61,132.00 L261.53,132.00 L262.45,132.00 L263.36,132.00 L264.28,132.00 L265.19,132.00 L266.11,132.00 L267.03,132.00 L267.94,132.00 L268.86,132.00 L269.77,132.00 L270.69,132.00 L271.61,132.00 L272.52,132.00 L273.44,132.00 L274.35,132.00 L275.27,132.00 L276.19,132.00 L277.10,132.00 L278.02,132.00 L278.93,132.00 L279.85,132.00 L280.77,132.00 L281.68,132.00 L282.60,132.00 L283.51,132.00 L284.43,132.00 L285.35,132.00 L286.26,132.00 L287.18,132.00 L288.09,132.00 L289.01,132.00 L289.93,132.00 L290.84,132.00 L291.76,132.00 L292.67,132.00 L293.59,132.00 L294.51,132.00 L295.42,132.00 L296.34,132.00 L297.25,132.00 L298.17,132.00 L299.09,132.00 L300.00,132.00 L300.92,132.00 L301.83,132.00 L302.75,132.00 L303.67,132.00 L304.58,132.00 L305.50,132.00 L306.41,132.00 L307.33,132.00 L308.25,132.00 L309.16,132.00 L310.08,132.00 L310.99,132.00 L311.91,132.00 L312.83,132.00 L313.74,132.00 L314.66,132.00 L315.57,132.00 L316.49,132.00 L317.41,132.00 L318.32,132.00 L319.24,132.00 L320.15,132.00 L321.07,132.00 L321.99,132.00 L322.90,132.00 L323.82,132.00 L324.73,132.00 L325.65,132.00 L326.57,132.00 L327.48,132.00 L328.40,132.00 L329.31,132.00 L330.23,132.00 L331.15,132.00 L332.06,132.00 L332.98,132.00 L333.89,132.00" stroke="#3838e8" stroke-width="0.85" fill="none" stroke-linejoin="round" />
<line x1="55.90" y1="141.30" x2="71.50" y2="141.30" stroke="#8844ee" stroke-width="0.9" />
<text x="72.8" y="143.6" style="font-family:'Liberation Serif',serif;font-size:6.7px;font-weight:normal" fill="#222" text-anchor="start" >480 nm</text>
<path d="M59.46,162.00 L60.38,162.00 L61.29,162.00 L62.21,162.00 L63.12,162.00 L64.04,162.00 L64.96,162.00 L65.87,162.00 L66.79,162.00 L67.70,162.00 L68.62,162.00 L69.54,162.00 L70.45,162.00 L71.37,162.00 L72.28,162.00 L73.20,162.00 L74.12,162.00 L75.03,162.00 L75.95,162.00 L76.86,162.00 L77.78,162.00 L78.70,162.00 L79.61,162.00 L80.53,162.00 L81.44,162.00 L82.36,162.00 L83.28,162.00 L84.19,162.00 L85.11,162.00 L86.02,162.00 L86.94,162.00 L87.86,162.00 L88.77,162.00 L89.69,162.00 L90.60,162.00 L91.52,162.00 L92.44,162.00 L93.35,162.00 L94.27,162.00 L95.18,162.00 L96.10,162.00 L97.02,162.00 L97.93,162.00 L98.85,162.00 L99.76,162.00 L100.68,162.00 L101.60,162.00 L102.51,161.99 L103.43,161.99 L104.34,161.99 L105.26,161.99 L106.18,161.99 L107.09,161.99 L108.01,161.99 L108.92,161.98 L109.84,161.98 L110.76,161.98 L111.67,161.98 L112.59,161.97 L113.50,161.97 L114.42,161.96 L115.34,161.96 L116.25,161.95 L117.17,161.94 L118.08,161.93 L119.00,161.92 L119.92,161.91 L120.83,161.90 L121.75,161.89 L122.66,161.87 L123.58,161.86 L124.50,161.84 L125.41,161.82 L126.33,161.80 L127.24,161.78 L128.16,161.76 L129.08,161.73 L129.99,161.71 L130.91,161.68 L131.82,161.65 L132.74,161.62 L133.66,161.59 L134.57,161.56 L135.49,161.53 L136.40,161.49 L137.32,161.46 L138.24,161.42 L139.15,161.39 L140.07,161.35 L140.98,161.32 L141.90,161.28 L142.82,161.24 L143.73,161.19 L144.65,161.13 L144.74,161.12 L144.83,161.11 L144.92,161.10 L145.01,161.10 L145.11,161.09 L145.20,161.08 L145.29,161.07 L145.38,161.06 L145.47,161.05 L145.56,161.04 L145.66,161.03 L145.75,161.02 L145.84,161.01 L145.93,161.00 L146.02,160.98 L146.11,160.97 L146.21,160.95 L146.30,160.94 L146.39,160.92 L146.48,160.90 L146.57,160.89 L146.66,160.86 L146.75,160.84 L146.85,160.82 L146.94,160.79 L147.03,160.76 L147.12,160.72 L147.21,160.68 L147.30,160.63 L147.40,160.56 L147.49,160.48 L147.58,160.39 L147.67,160.27 L147.76,160.11 L147.85,159.92 L147.95,159.67 L148.04,159.36 L148.13,158.98 L148.22,158.52 L148.31,157.96 L148.40,157.30 L148.50,156.52 L148.59,155.63 L148.68,154.62 L148.77,153.50 L148.86,152.30 L148.95,151.02 L149.04,149.70 L149.14,148.37 L149.23,147.08 L149.32,145.87 L149.41,144.80 L149.50,143.90 L149.59,143.22 L149.69,142.79 L149.78,142.63 L149.87,142.75 L149.96,143.14 L150.05,143.77 L150.14,144.62 L150.24,145.64 L150.33,146.77 L150.42,147.99 L150.51,149.22 L150.60,150.44 L150.69,151.60 L150.79,152.67 L150.88,153.64 L150.97,154.48 L151.06,155.20 L151.15,155.78 L151.24,156.24 L151.33,156.59 L151.43,156.85 L151.52,157.01 L151.61,157.11 L151.70,157.15 L151.79,157.16 L151.88,157.15 L151.98,157.12 L152.07,157.10 L152.16,157.08 L152.25,157.08 L152.34,157.09 L152.43,157.12 L152.53,157.18 L152.62,157.24 L152.71,157.32 L152.80,157.40 L152.89,157.47 L152.98,157.54 L153.08,157.59 L153.17,157.61 L153.26,157.59 L153.35,157.54 L153.44,157.45 L153.53,157.31 L153.62,157.13 L153.72,156.92 L153.81,156.67 L153.90,156.42 L153.99,156.16 L154.08,155.91 L154.17,155.69 L154.27,155.52 L154.36,155.40 L154.45,155.34 L154.54,155.36 L154.63,155.45 L154.72,155.62 L154.82,155.86 L154.91,156.16 L155.00,156.51 L155.09,156.90 L155.18,157.32 L155.27,157.75 L155.37,158.17 L155.46,158.59 L155.55,158.98 L155.64,159.33 L155.73,159.66 L155.82,159.94 L155.91,160.19 L156.01,160.40 L156.10,160.57 L156.19,160.71 L156.28,160.83 L156.37,160.92 L156.46,160.99 L156.56,161.04 L156.65,161.08 L156.74,161.12 L156.83,161.14 L156.92,161.16 L157.01,161.17 L157.11,161.18 L157.20,161.19 L157.29,161.19 L157.38,161.20 L157.47,161.20 L157.56,161.21 L157.66,161.21 L157.75,161.22 L157.84,161.22 L157.93,161.22 L158.02,161.23 L158.11,161.23 L158.20,161.23 L158.30,161.24 L158.39,161.24 L158.48,161.24 L158.57,161.25 L158.66,161.25 L158.75,161.25 L158.85,161.26 L158.94,161.26 L159.03,161.26 L159.12,161.27 L159.21,161.27 L159.30,161.27 L159.40,161.28 L159.49,161.28 L159.58,161.28 L159.67,161.29 L159.76,161.29 L159.85,161.29 L159.95,161.30 L160.04,161.30 L160.95,161.33 L161.87,161.36 L162.78,161.40 L163.70,161.43 L164.62,161.46 L165.53,161.49 L166.45,161.52 L167.36,161.56 L168.28,161.59 L169.20,161.62 L170.11,161.65 L171.03,161.67 L171.94,161.70 L172.86,161.73 L173.78,161.75 L174.69,161.78 L175.61,161.80 L176.52,161.82 L177.44,161.84 L178.36,161.85 L179.27,161.87 L180.19,161.88 L181.10,161.90 L182.02,161.91 L182.94,161.92 L183.85,161.93 L184.77,161.94 L185.68,161.95 L186.60,161.95 L187.52,161.96 L188.43,161.97 L189.35,161.97 L190.26,161.98 L191.18,161.98 L192.10,161.98 L193.01,161.98 L193.93,161.99 L194.84,161.99 L195.76,161.99 L196.68,161.99 L197.59,161.99 L198.51,161.99 L199.42,161.99 L200.34,162.00 L201.26,162.00 L202.17,162.00 L203.09,162.00 L204.00,162.00 L204.92,162.00 L205.84,162.00 L206.75,162.00 L207.67,162.00 L208.58,162.00 L209.50,162.00 L210.42,162.00 L211.33,162.00 L212.25,162.00 L213.16,162.00 L214.08,162.00 L215.00,162.00 L215.91,162.00 L216.83,162.00 L217.74,162.00 L218.66,162.00 L219.58,162.00 L220.49,162.00 L221.41,162.00 L222.32,162.00 L223.24,162.00 L224.16,162.00 L225.07,162.00 L225.99,162.00 L226.90,162.00 L227.82,162.00 L228.74,162.00 L229.65,162.00 L230.57,162.00 L231.48,162.00 L232.40,162.00 L233.32,162.00 L234.23,162.00 L235.15,162.00 L236.06,162.00 L236.98,162.00 L237.90,162.00 L238.81,162.00 L239.73,162.00 L240.64,162.00 L241.56,162.00 L242.48,162.00 L243.39,162.00 L244.31,162.00 L245.22,162.00 L246.14,162.00 L247.06,162.00 L247.97,162.00 L248.89,162.00 L249.80,162.00 L250.72,162.00 L251.64,162.00 L252.55,162.00 L253.47,162.00 L254.38,162.00 L255.30,162.00 L256.22,162.00 L257.13,162.00 L258.05,162.00 L258.96,162.00 L259.88,162.00 L260.80,162.00 L261.71,162.00 L262.63,162.00 L263.54,162.00 L264.46,162.00 L265.38,162.00 L266.29,162.00 L267.21,162.00 L268.12,162.00 L269.04,162.00 L269.96,162.00 L270.87,162.00 L271.79,162.00 L272.70,162.00 L273.62,162.00 L274.54,162.00 L275.45,162.00 L276.37,162.00 L277.28,162.00 L278.20,162.00 L279.12,162.00 L280.03,162.00 L280.95,162.00 L281.86,162.00 L282.78,162.00 L283.70,162.00 L284.61,162.00 L285.53,162.00 L286.44,162.00 L287.36,162.00 L288.28,162.00 L289.19,162.00 L290.11,162.00 L291.02,162.00 L291.94,162.00 L292.86,162.00 L293.77,162.00 L294.69,162.00 L295.60,162.00 L296.52,162.00 L297.44,162.00 L298.35,162.00 L299.27,162.00 L300.18,162.00 L301.10,162.00 L302.02,162.00 L302.93,162.00 L303.85,162.00 L304.76,162.00 L305.68,162.00 L306.60,162.00 L307.51,162.00 L308.43,162.00 L309.34,162.00 L310.26,162.00 L311.18,162.00 L312.09,162.00 L313.01,162.00 L313.92,162.00 L314.84,162.00 L315.76,162.00 L316.67,162.00 L317.59,162.00 L318.50,162.00 L319.42,162.00 L320.34,162.00 L321.25,162.00 L322.17,162.00 L323.08,162.00 L324.00,162.00 L324.92,162.00 L325.83,162.00 L326.75,162.00 L327.66,162.00 L328.58,162.00 L329.50,162.00 L330.41,162.00 L331.33,162.00 L332.24,162.00 L333.16,162.00 L334.08,162.00" stroke="#8844ee" stroke-width="0.85" fill="none" stroke-linejoin="round" />
<rect x="444.6" y="8.6" width="209.19999999999993" height="155.8" fill="none" stroke="#111" stroke-width="1.1"/>
<line x1="444.38" y1="164.40" x2="444.38" y2="162.60" stroke="#111" stroke-width="0.9" />
<line x1="463.40" y1="164.40" x2="463.40" y2="161.40" stroke="#111" stroke-width="0.9" />
<line x1="482.41" y1="164.40" x2="482.41" y2="162.60" stroke="#111" stroke-width="0.9" />
<line x1="501.43" y1="164.40" x2="501.43" y2="161.40" stroke="#111" stroke-width="0.9" />
<line x1="520.44" y1="164.40" x2="520.44" y2="162.60" stroke="#111" stroke-width="0.9" />
<line x1="539.46" y1="164.40" x2="539.46" y2="161.40" stroke="#111" stroke-width="0.9" />
<line x1="558.48" y1="164.40" x2="558.48" y2="162.60" stroke="#111" stroke-width="0.9" />
<line x1="577.49" y1="164.40" x2="577.49" y2="161.40" stroke="#111" stroke-width="0.9" />
<line x1="596.50" y1="164.40" x2="596.50" y2="162.60" stroke="#111" stroke-width="0.9" />
<line x1="615.52" y1="164.40" x2="615.52" y2="161.40" stroke="#111" stroke-width="0.9" />
<line x1="634.53" y1="164.40" x2="634.53" y2="162.60" stroke="#111" stroke-width="0.9" />
<line x1="653.55" y1="164.40" x2="653.55" y2="161.40" stroke="#111" stroke-width="0.9" />
<line x1="444.60" y1="164.40" x2="447.60" y2="164.40" stroke="#111" stroke-width="0.9" />
<line x1="444.60" y1="147.10" x2="446.40" y2="147.10" stroke="#111" stroke-width="0.9" />
<line x1="444.60" y1="129.80" x2="447.60" y2="129.80" stroke="#111" stroke-width="0.9" />
<line x1="444.60" y1="112.50" x2="446.40" y2="112.50" stroke="#111" stroke-width="0.9" />
<line x1="444.60" y1="95.20" x2="447.60" y2="95.20" stroke="#111" stroke-width="0.9" />
<line x1="444.60" y1="77.90" x2="446.40" y2="77.90" stroke="#111" stroke-width="0.9" />
<line x1="444.60" y1="60.60" x2="447.60" y2="60.60" stroke="#111" stroke-width="0.9" />
<line x1="444.60" y1="43.30" x2="446.40" y2="43.30" stroke="#111" stroke-width="0.9" />
<line x1="444.60" y1="26.00" x2="447.60" y2="26.00" stroke="#111" stroke-width="0.9" />
<line x1="444.60" y1="8.70" x2="446.40" y2="8.70" stroke="#111" stroke-width="0.9" />
<text x="463.4" y="179.0" style="font-family:'Liberation Serif',serif;font-size:11px;font-weight:normal" fill="#111" text-anchor="middle" >480</text>
<text x="501.4" y="179.0" style="font-family:'Liberation Serif',serif;font-size:11px;font-weight:normal" fill="#111" text-anchor="middle" >490</text>
<text x="539.5" y="179.0" style="font-family:'Liberation Serif',serif;font-size:11px;font-weight:normal" fill="#111" text-anchor="middle" >500</text>
<text x="577.5" y="179.0" style="font-family:'Liberation Serif',serif;font-size:11px;font-weight:normal" fill="#111" text-anchor="middle" >510</text>
<text x="615.5" y="179.0" style="font-family:'Liberation Serif',serif;font-size:11px;font-weight:normal" fill="#111" text-anchor="middle" >520</text>
<text x="653.5" y="179.0" style="font-family:'Liberation Serif',serif;font-size:11px;font-weight:normal" fill="#111" text-anchor="middle" >530</text>
<text x="438.8" y="168.2" style="font-family:'Liberation Serif',serif;font-size:11px;font-weight:normal" fill="#111" text-anchor="end" >0</text>
<text x="438.8" y="133.6" style="font-family:'Liberation Serif',serif;font-size:11px;font-weight:normal" fill="#111" text-anchor="end" >10</text>
<text x="438.8" y="99.0" style="font-family:'Liberation Serif',serif;font-size:11px;font-weight:normal" fill="#111" text-anchor="end" >20</text>
<text x="438.8" y="64.4" style="font-family:'Liberation Serif',serif;font-size:11px;font-weight:normal" fill="#111" text-anchor="end" >30</text>
<text x="438.8" y="29.8" style="font-family:'Liberation Serif',serif;font-size:11px;font-weight:normal" fill="#111" text-anchor="end" >40</text>
<text x="548.8" y="194.2" style="font-family:'Liberation Serif',serif;font-size:13.5px;font-weight:normal" fill="#111" text-anchor="middle" >Lasing Output Wavelength (nm)</text>
<text transform="translate(416.8,96.7) rotate(-90)" style="font-family:'Liberation Serif',serif;font-size:13.5px" fill="#111" text-anchor="middle">Lasing Threshold(μJ/cm<tspan dy="-5" style="font-size:8.5px">2</tspan><tspan dy="5">)</tspan></text>
<path d="M463.40,43.30 L539.46,63.02 L577.49,72.71 L615.52,103.85 L634.53,123.92" stroke="#d83030" stroke-width="1.1" fill="none" stroke-linejoin="round" />
<rect x="460.80" y="40.70" width="5.2" height="5.2" fill="#000"/>
<rect x="536.86" y="60.42" width="5.2" height="5.2" fill="#000"/>
<rect x="574.89" y="70.11" width="5.2" height="5.2" fill="#000"/>
<rect x="612.92" y="101.25" width="5.2" height="5.2" fill="#000"/>
<rect x="631.93" y="121.32" width="5.2" height="5.2" fill="#000"/>
<defs>
<filter id="blur1" x="-50%" y="-50%" width="200%" height="200%"><feGaussianBlur stdDeviation="1"/></filter>
<filter id="blur2" x="-50%" y="-50%" width="200%" height="200%"><feGaussianBlur stdDeviation="2"/></filter>
<filter id="blur3" x="-50%" y="-50%" width="200%" height="200%"><feGaussianBlur stdDeviation="3"/></filter>
<filter id="blur5" x="-50%" y="-50%" width="200%" height="200%"><feGaussianBlur stdDeviation="5"/></filter>
<filter id="blur8" x="-50%" y="-50%" width="200%" height="200%"><feGaussianBlur stdDeviation="8"/></filter>
<linearGradient id="beamH" x1="0" y1="0" x2="1" y2="0">
 <stop offset="0" stop-color="#ff3030" stop-opacity="0"/>
 <stop offset="0.3" stop-color="#ff5050" stop-opacity="0.25"/>
 <stop offset="0.5" stop-color="#ff2020" stop-opacity="0.6"/>
 <stop offset="0.7" stop-color="#ff5050" stop-opacity="0.25"/>
 <stop offset="1" stop-color="#ff3030" stop-opacity="0"/>
</linearGradient>
<radialGradient id="greenGlow"><stop offset="0" stop-color="#a0ffa0"/><stop offset="0.3" stop-color="#40ff40" stop-opacity="0.9"/><stop offset="1" stop-color="#40ff40" stop-opacity="0"/></radialGradient>
<linearGradient id="wireC" x1="0" y1="0" x2="1" y2="0"><stop offset="0" stop-color="#f0b030"/><stop offset="0.5" stop-color="#e87020"/><stop offset="1" stop-color="#f0a020"/></linearGradient>
<radialGradient id="slabTint" cx="0.5" cy="0.5" r="0.5"><stop offset="0" stop-color="#a04070" stop-opacity="0.55"/><stop offset="1" stop-color="#a04070" stop-opacity="0"/></radialGradient>
</defs>
<defs>
<linearGradient id="coreV" x1="0" y1="0" x2="0" y2="1"><stop offset="0" stop-color="#ff2424" stop-opacity="0.9"/><stop offset="0.15" stop-color="#ff1818"/><stop offset="0.85" stop-color="#ff2020" stop-opacity="0.95"/><stop offset="1" stop-color="#e03060" stop-opacity="0.5"/></linearGradient>
<linearGradient id="hazeH" x1="0" y1="0" x2="1" y2="0">
 <stop offset="0" stop-color="#ff8080" stop-opacity="0"/>
 <stop offset="0.25" stop-color="#ff9898" stop-opacity="0.12"/>
 <stop offset="0.42" stop-color="#ff6060" stop-opacity="0.35"/>
 <stop offset="0.5" stop-color="#ff3030" stop-opacity="0.6"/>
 <stop offset="0.58" stop-color="#ff6060" stop-opacity="0.35"/>
 <stop offset="0.75" stop-color="#ff9898" stop-opacity="0.12"/>
 <stop offset="1" stop-color="#ff8080" stop-opacity="0"/>
</linearGradient>
<linearGradient id="wireG" x1="0" y1="0" x2="1" y2="0"><stop offset="0" stop-color="#f0b432"/><stop offset="0.55" stop-color="#e6702a"/><stop offset="1" stop-color="#f0a030"/></linearGradient>
<radialGradient id="purp" cx="0.5" cy="0.5" r="0.5"><stop offset="0" stop-color="#a04890" stop-opacity="0.8"/><stop offset="0.55" stop-color="#8050a8" stop-opacity="0.5"/><stop offset="1" stop-color="#7060c0" stop-opacity="0"/></radialGradient>
<radialGradient id="gg2"><stop offset="0" stop-color="#e0ffe0"/><stop offset="0.25" stop-color="#50ff50" stop-opacity="0.95"/><stop offset="1" stop-color="#30e030" stop-opacity="0"/></radialGradient>
</defs>
<path d="M40,294 L120,346 L198,308 L120,350 Z" fill="#888" opacity="0.35" filter="url(#blur3)"/>
<path d="M107.5,212 L40,305 L175,305 Z" fill="url(#hazeH)" filter="url(#blur8)"/>
<path d="M107.5,216 L86,296 L129,296 Z" fill="#ff4040" opacity="0.22" filter="url(#blur5)"/>
<path d="M36.1,287.7 L118.5,337.7 L118.5,342.5 L36.1,292 Z" fill="#3b6fd8"/>
<path d="M118.5,337.7 L195.3,301.6 L195.3,305.8 L118.5,342.5 Z" fill="#3463cc"/>
<path d="M36.1,287.7 L99,278.6 L195.3,301.6 L118.5,337.7 Z" fill="#4a80e6"/>
<clipPath id="slabClip"><path d="M36.1,287.7 L99,278.6 L195.3,301.6 L118.5,337.7 Z"/></clipPath>
<g clip-path="url(#slabClip)"><ellipse cx="113" cy="287" rx="28" ry="11" fill="url(#purp)"/></g>
<path d="M105,216 Q107.5,213.5 110,216 L115.5,289 Q107.5,293.5 99.5,289 Z" fill="url(#coreV)" filter="url(#blur2)"/>
<path d="M82.4,283.6 L134,298.9 L133.6,303.3 L82,288 Z" fill="url(#wireG)"/>
<path d="M82.4,284.0 L134,299.3" stroke="#f8c848" stroke-width="1.0" opacity="0.85"/>
<line x1="82.5" y1="286" x2="68.7" y2="266.3" stroke="#60e060" stroke-width="0.5" opacity="0.45"/>
<line x1="82.5" y1="286" x2="80.6" y2="264.1" stroke="#60e060" stroke-width="0.5" opacity="0.45"/>
<line x1="82.5" y1="286" x2="91.5" y2="270.4" stroke="#60e060" stroke-width="0.5" opacity="0.45"/>
<line x1="82.5" y1="286" x2="68.6" y2="278.0" stroke="#60e060" stroke-width="0.5" opacity="0.45"/>
<line x1="82.5" y1="286" x2="77.7" y2="299.2" stroke="#60e060" stroke-width="0.5" opacity="0.45"/>
<line x1="82.5" y1="286" x2="87.5" y2="294.7" stroke="#60e060" stroke-width="0.5" opacity="0.45"/>
<line x1="133.5" y1="301.5" x2="126.0" y2="280.8" stroke="#60e060" stroke-width="0.5" opacity="0.55"/>
<line x1="133.5" y1="301.5" x2="138.0" y2="275.9" stroke="#60e060" stroke-width="0.5" opacity="0.55"/>
<line x1="133.5" y1="301.5" x2="145.1" y2="287.7" stroke="#60e060" stroke-width="0.5" opacity="0.55"/>
<line x1="133.5" y1="301.5" x2="144.8" y2="297.4" stroke="#60e060" stroke-width="0.5" opacity="0.55"/>
<line x1="133.5" y1="301.5" x2="146.7" y2="306.3" stroke="#60e060" stroke-width="0.5" opacity="0.55"/>
<line x1="133.5" y1="301.5" x2="140.3" y2="320.3" stroke="#60e060" stroke-width="0.5" opacity="0.55"/>
<line x1="133.5" y1="301.5" x2="131.2" y2="327.4" stroke="#60e060" stroke-width="0.5" opacity="0.55"/>
<line x1="133.5" y1="301.5" x2="121.9" y2="315.3" stroke="#60e060" stroke-width="0.5" opacity="0.55"/>
<line x1="133.5" y1="301.5" x2="121.7" y2="303.6" stroke="#60e060" stroke-width="0.5" opacity="0.55"/>
<line x1="133.5" y1="301.5" x2="120.3" y2="296.7" stroke="#60e060" stroke-width="0.5" opacity="0.55"/>
<line x1="133.5" y1="301.5" x2="124.1" y2="298.1" stroke="#60e060" stroke-width="0.5" opacity="0.55"/>
<circle cx="82.5" cy="286" r="3" fill="url(#gg2)" opacity="0.7"/>
<circle cx="133.5" cy="301.5" r="5" fill="url(#gg2)"/>
<line x1="133.5" y1="301.5" x2="139.4" y2="302.5" stroke="#40f040" stroke-width="0.9" opacity="0.8"/>
<line x1="133.5" y1="301.5" x2="136.6" y2="304.1" stroke="#40f040" stroke-width="0.9" opacity="0.8"/>
<line x1="133.5" y1="301.5" x2="135.6" y2="307.1" stroke="#40f040" stroke-width="0.9" opacity="0.8"/>
<line x1="133.5" y1="301.5" x2="132.8" y2="305.4" stroke="#40f040" stroke-width="0.9" opacity="0.8"/>
<line x1="133.5" y1="301.5" x2="129.6" y2="306.1" stroke="#40f040" stroke-width="0.9" opacity="0.8"/>
<line x1="133.5" y1="301.5" x2="129.7" y2="302.9" stroke="#40f040" stroke-width="0.9" opacity="0.8"/>
<line x1="133.5" y1="301.5" x2="127.6" y2="300.5" stroke="#40f040" stroke-width="0.9" opacity="0.8"/>
<line x1="133.5" y1="301.5" x2="130.4" y2="298.9" stroke="#40f040" stroke-width="0.9" opacity="0.8"/>
<line x1="133.5" y1="301.5" x2="131.4" y2="295.9" stroke="#40f040" stroke-width="0.9" opacity="0.8"/>
<line x1="133.5" y1="301.5" x2="134.2" y2="297.6" stroke="#40f040" stroke-width="0.9" opacity="0.8"/>
<line x1="133.5" y1="301.5" x2="137.4" y2="296.9" stroke="#40f040" stroke-width="0.9" opacity="0.8"/>
<line x1="133.5" y1="301.5" x2="137.3" y2="300.1" stroke="#40f040" stroke-width="0.9" opacity="0.8"/>
<path d="M151.70,211.40 L153.13,214.34 L154.57,217.07 L156.00,219.61 L157.43,221.94 L158.87,224.07 L160.30,225.99 L161.73,227.71 L163.17,229.23 L164.60,230.55 L166.03,231.67 L167.47,232.58 L168.90,233.29 L170.33,233.79 L171.77,234.10 L173.20,234.20 L174.63,234.10 L176.07,233.79 L177.50,233.29 L178.93,232.58 L180.37,231.67 L181.80,230.55 L183.23,229.23 L184.67,227.71 L186.10,225.99 L187.53,224.07 L188.97,221.94 L190.40,219.61 L191.83,217.07 L193.27,214.34 L194.70,211.40" stroke="#3f5a98" stroke-width="1.0" fill="none" stroke-linejoin="round" />
<path d="M151.70,282.70 L153.13,279.83 L154.57,277.15 L156.00,274.67 L157.43,272.39 L158.87,270.31 L160.30,268.43 L161.73,266.74 L163.17,265.26 L164.60,263.97 L166.03,262.88 L167.47,261.99 L168.90,261.29 L170.33,260.80 L171.77,260.50 L173.20,260.40 L174.63,260.50 L176.07,260.80 L177.50,261.29 L178.93,261.99 L180.37,262.88 L181.80,263.97 L183.23,265.26 L184.67,266.74 L186.10,268.43 L187.53,270.31 L188.97,272.39 L190.40,274.67 L191.83,277.15 L193.27,279.83 L194.70,282.70" stroke="#3f5a98" stroke-width="1.0" fill="none" stroke-linejoin="round" />
<line x1="165.7" y1="263" x2="165.7" y2="232" stroke="#e02020" stroke-width="0.9"/>
<path d="M164.57999999999998,233.92 L165.7,232 L166.82,233.92 Z" fill="#e02020"/>
<line x1="173.2" y1="235.5" x2="173.2" y2="259.5" stroke="#80d040" stroke-width="0.9"/>
<path d="M172.07999999999998,257.58 L173.2,259.5 L174.32,257.58 Z" fill="#80d040"/>
<line x1="174" y1="235" x2="187.6" y2="235" stroke="#3f5a98" stroke-width="0.8" stroke-dasharray="1.2,1"/>
<path d="M190,228 Q194,226 197.5,229 Q200.5,233 197.5,238.5 Q194,241 190.5,239 Q187.5,236 188.5,233" fill="none" stroke="#2a3a70" stroke-width="0.9"/>
<circle cx="191.4" cy="230.8" r="2.1" fill="#4a78d0"/><circle cx="196.5" cy="237.3" r="2.1" fill="#4a78d0"/>
<text x="158.5" y="248.8" style="font-family:'Liberation Sans',sans-serif;font-size:3.2px;font-weight:bold" fill="#e02020" text-anchor="middle" >800 nm</text>
<text x="182.8" y="248.8" style="font-family:'Liberation Sans',sans-serif;font-size:3.2px;font-weight:bold" fill="#90d050" text-anchor="middle" >540 nm</text>
<line x1="279.30" y1="216.60" x2="279.30" y2="279.30" stroke="#aaa" stroke-width="0.6" />
<line x1="279.30" y1="279.30" x2="419.70" y2="279.30" stroke="#aaa" stroke-width="0.6" />
<line x1="279.30" y1="279.30" x2="234.60" y2="335.70" stroke="#aaa" stroke-width="0.6" />
<path d="M419.70,279.60 L419.70,216.60 L279.30,216.60 L234.60,271.80 L234.60,335.70 L374.70,335.70 L419.70,279.60" stroke="#111" stroke-width="1.0" fill="none" stroke-linejoin="round" />
<line x1="237.30" y1="335.70" x2="237.30" y2="337.20" stroke="#111" stroke-width="0.6" />
<text x="237.3" y="342.0" style="font-family:'Liberation Serif',serif;font-size:4.2px;font-weight:bold" fill="#222" text-anchor="middle" >400</text>
<line x1="261.40" y1="335.70" x2="261.40" y2="337.20" stroke="#111" stroke-width="0.6" />
<text x="261.4" y="342.0" style="font-family:'Liberation Serif',serif;font-size:4.2px;font-weight:bold" fill="#222" text-anchor="middle" >450</text>
<line x1="285.50" y1="335.70" x2="285.50" y2="337.20" stroke="#111" stroke-width="0.6" />
<text x="285.5" y="342.0" style="font-family:'Liberation Serif',serif;font-size:4.2px;font-weight:bold" fill="#222" text-anchor="middle" >500</text>
<line x1="309.60" y1="335.70" x2="309.60" y2="337.20" stroke="#111" stroke-width="0.6" />
<text x="309.6" y="342.0" style="font-family:'Liberation Serif',serif;font-size:4.2px;font-weight:bold" fill="#222" text-anchor="middle" >550</text>
<line x1="333.70" y1="335.70" x2="333.70" y2="337.20" stroke="#111" stroke-width="0.6" />
<text x="333.7" y="342.0" style="font-family:'Liberation Serif',serif;font-size:4.2px;font-weight:bold" fill="#222" text-anchor="middle" >600</text>
<line x1="357.80" y1="335.70" x2="357.80" y2="337.20" stroke="#111" stroke-width="0.6" />
<text x="357.8" y="342.0" style="font-family:'Liberation Serif',serif;font-size:4.2px;font-weight:bold" fill="#222" text-anchor="middle" >650</text>
<text x="304.8" y="346.9" style="font-family:'Liberation Serif',serif;font-size:5.1px;font-weight:bold" fill="#222" text-anchor="middle" >Wavelength (nm)</text>
<path d="M301.30,222.40 L302.32,224.86 L303.34,227.15 L304.36,229.28 L305.38,231.23 L306.40,233.01 L307.42,234.62 L308.44,236.07 L309.46,237.34 L310.48,238.44 L311.50,239.38 L312.52,240.14 L313.54,240.74 L314.56,241.16 L315.58,241.42 L316.60,241.50 L317.62,241.42 L318.64,241.16 L319.66,240.74 L320.68,240.14 L321.70,239.38 L322.72,238.44 L323.74,237.34 L324.76,236.07 L325.78,234.62 L326.80,233.01 L327.82,231.23 L328.84,229.28 L329.86,227.15 L330.88,224.86 L331.90,222.40" stroke="#3a4aa0" stroke-width="0.9" fill="none" stroke-linejoin="round" />
<path d="M301.30,275.70 L302.32,273.16 L303.34,270.80 L304.36,268.61 L305.38,266.59 L306.40,264.76 L307.42,263.09 L308.44,261.60 L309.46,260.29 L310.48,259.15 L311.50,258.19 L312.52,257.40 L313.54,256.79 L314.56,256.35 L315.58,256.09 L316.60,256.00 L317.62,256.09 L318.64,256.35 L319.66,256.79 L320.68,257.40 L321.70,258.19 L322.72,259.15 L323.74,260.29 L324.76,261.60 L325.78,263.09 L326.80,264.76 L327.82,266.59 L328.84,268.61 L329.86,270.80 L330.88,273.16 L331.90,275.70" stroke="#3a4aa0" stroke-width="0.9" fill="none" stroke-linejoin="round" />
<line x1="311.2" y1="259.6" x2="311.2" y2="238.5" stroke="#7a3ac0" stroke-width="0.9"/>
<path d="M310.15,240.3 L311.2,238.5 L312.25,240.3 Z" fill="#7a3ac0"/>
<line x1="317.5" y1="243" x2="317.5" y2="256" stroke="#40c040" stroke-width="0.9"/>
<path d="M316.45,254.2 L317.5,256 L318.55,254.2 Z" fill="#40c040"/>
<defs><linearGradient id="dimg" x1="0" y1="0" x2="1" y2="0"><stop offset="0" stop-color="#041004"/><stop offset="0.12" stop-color="#124a12"/><stop offset="0.5" stop-color="#2e862e"/><stop offset="0.85" stop-color="#1a5a1a"/><stop offset="1" stop-color="#031003"/></linearGradient>
<clipPath id="dclip"><rect x="372.1" y="232.2" width="31" height="38.2"/></clipPath></defs>
<rect x="372.1" y="232.2" width="31.0" height="38.19999999999999" fill="url(#dimg)"/>
<g clip-path="url(#dclip)">
<rect x="372.1" y="232.2" width="31.0" height="3" fill="#020802" opacity="0.7" filter="url(#blur1)"/>
<ellipse cx="388.6" cy="253.2" rx="7" ry="17" fill="#50b050" opacity="0.55" filter="url(#blur2)"/>
<path d="M372.1,234.2 Q387.6,238.7 403.1,234.2" stroke="#80e080" stroke-width="0.55" fill="none" opacity="0.35"/>
<path d="M372.1,238.0 Q387.6,241.3 403.1,238.0" stroke="#80e080" stroke-width="0.55" fill="none" opacity="0.35"/>
<path d="M372.1,241.8 Q387.6,243.9 403.1,241.8" stroke="#80e080" stroke-width="0.55" fill="none" opacity="0.35"/>
<path d="M372.1,245.6 Q387.6,246.5 403.1,245.6" stroke="#80e080" stroke-width="0.55" fill="none" opacity="0.35"/>
<path d="M372.1,249.4 Q387.6,249.1 403.1,249.4" stroke="#80e080" stroke-width="0.55" fill="none" opacity="0.35"/>
<path d="M372.1,253.2 Q387.6,251.7 403.1,253.2" stroke="#80e080" stroke-width="0.55" fill="none" opacity="0.35"/>
<path d="M372.1,257.0 Q387.6,254.3 403.1,257.0" stroke="#80e080" stroke-width="0.55" fill="none" opacity="0.35"/>
<path d="M372.1,260.8 Q387.6,256.9 403.1,260.8" stroke="#80e080" stroke-width="0.55" fill="none" opacity="0.35"/>
<path d="M372.1,264.6 Q387.6,259.5 403.1,264.6" stroke="#80e080" stroke-width="0.55" fill="none" opacity="0.35"/>
<path d="M372.1,268.4 Q387.6,262.1 403.1,268.4" stroke="#80e080" stroke-width="0.55" fill="none" opacity="0.35"/>
<path d="M372.1,272.2 Q387.6,264.7 403.1,272.2" stroke="#80e080" stroke-width="0.55" fill="none" opacity="0.35"/>
<ellipse cx="389.40000000000003" cy="242.79999999999998" rx="5.2" ry="4.2" fill="#70d070" opacity="0.8" filter="url(#blur1)"/>
<ellipse cx="387.20000000000005" cy="264.3" rx="5.2" ry="4.0" fill="#70d070" opacity="0.8" filter="url(#blur1)"/>
<ellipse cx="389.40000000000003" cy="242.79999999999998" rx="3.6" ry="2.8" fill="#d8ffd8"/>
<ellipse cx="387.20000000000005" cy="264.3" rx="3.4" ry="2.5" fill="#d8ffd8"/>
</g>
<text transform="translate(427.0,251.79999999999998) rotate(-90)" style="font-family:'Liberation Serif',serif;font-size:5.6px;font-weight:bold" fill="#222" text-anchor="middle">PL Intensity  (a.u.)</text>
<text transform="translate(404.8,308.8) rotate(308.7)" style="font-family:'Liberation Serif',serif;font-size:5.0px;font-weight:bold" fill="#333" text-anchor="middle">Pump Intensity (a.u.)</text>
<path d="M240.80,330.30 L241.50,330.30 L242.20,330.30 L242.90,330.30 L243.60,330.30 L244.30,330.30 L245.00,330.30 L245.70,330.30 L246.40,330.30 L247.10,330.30 L247.80,330.30 L248.50,330.30 L249.20,330.30 L249.90,330.30 L250.60,330.30 L251.30,330.30 L252.00,330.30 L252.70,330.30 L253.40,330.30 L254.10,330.30 L254.80,330.30 L255.50,330.30 L256.20,330.30 L256.90,330.30 L257.60,330.30 L258.30,330.30 L259.00,330.30 L259.70,330.30 L260.40,330.30 L261.10,330.30 L261.80,330.30 L262.50,330.30 L263.20,330.30 L263.90,330.30 L264.60,330.30 L265.30,330.30 L266.00,330.30 L266.70,330.30 L267.40,330.30 L268.10,330.30 L268.80,330.30 L269.50,330.30 L270.20,330.30 L270.90,330.30 L271.60,330.30 L272.30,330.30 L273.00,330.30 L273.70,330.30 L274.40,330.30 L275.10,330.30 L275.80,330.30 L276.50,330.30 L277.20,330.30 L277.90,330.30 L278.60,330.30 L279.30,330.30 L280.00,330.30 L280.70,330.30 L281.40,330.30 L282.10,330.30 L282.80,330.30 L283.50,330.30 L284.20,330.30 L284.90,330.30 L285.60,330.30 L286.30,330.30 L287.00,330.30 L287.70,330.30 L288.40,330.30 L289.10,330.30 L289.80,330.30 L290.50,330.30 L291.20,330.30 L291.90,330.30 L292.60,330.30 L293.30,330.30 L294.00,330.30 L294.70,330.30 L295.40,330.30 L296.10,330.30 L296.80,330.30 L297.50,330.30 L298.20,330.30 L298.90,330.29 L299.60,330.28 L300.30,330.25 L301.00,330.19 L301.70,330.10 L302.40,329.95 L303.10,329.75 L303.80,329.50 L304.50,329.24 L305.20,329.01 L305.90,328.85 L306.60,328.80 L307.30,328.88 L308.00,329.06 L308.70,329.31 L309.40,329.57 L310.10,329.80 L310.80,329.99 L311.50,330.12 L312.20,330.21 L312.90,330.26 L313.60,330.28 L314.30,330.29 L315.00,330.30 L315.70,330.30 L316.40,330.30 L317.10,330.30 L317.80,330.30 L318.50,330.30 L319.20,330.30 L319.90,330.30 L320.60,330.30 L321.30,330.30 L322.00,330.30 L322.70,330.30 L323.40,330.30 L324.10,330.30 L324.80,330.30 L325.50,330.30 L326.20,330.30 L326.90,330.30 L327.60,330.30 L328.30,330.30 L329.00,330.30 L329.70,330.30 L330.40,330.30 L331.10,330.30 L331.80,330.30 L332.50,330.30 L333.20,330.30 L333.90,330.30 L334.60,330.30 L335.30,330.30 L336.00,330.30 L336.70,330.30 L337.40,330.30 L338.10,330.30 L338.80,330.30 L339.50,330.30 L340.20,330.30 L340.90,330.30 L341.60,330.30 L342.30,330.30 L343.00,330.30 L343.70,330.30 L344.40,330.30 L345.10,330.30 L345.80,330.30 L346.50,330.30 L347.20,330.30 L347.90,330.30 L348.60,330.30 L349.30,330.30 L350.00,330.30 L350.70,330.30 L351.40,330.30 L352.10,330.30 L352.80,330.30 L353.50,330.30 L354.20,330.30 L354.90,330.30 L355.60,330.30 L356.30,330.30 L357.00,330.30 L357.70,330.30 L358.40,330.30 L359.10,330.30 L359.80,330.30 L360.50,330.30 L361.20,330.30 L361.90,330.30 L362.60,330.30 L363.30,330.30 L364.00,330.30 L364.70,330.30 L365.40,330.30 L366.10,330.30 L366.80,330.30 L367.50,330.30 L368.20,330.30 L368.90,330.30 L369.60,330.30 L370.30,330.30 L371.00,330.30 L371.70,330.30 L372.40,330.30 L373.10,330.30 L373.80,330.30 L374.50,330.30 L375.20,330.30 L375.90,330.30" stroke="#e02828" stroke-width="1.0" fill="none" stroke-linejoin="round" />
<text x="253.3" y="327.0" style="font-family:'Liberation Serif',serif;font-size:6.2px;font-weight:bold" fill="#e02020">8.28 μJ/cm<tspan dy="-2.2" style="font-size:3.8px">2</tspan></text>
<path d="M249.00,320.05 L249.70,320.05 L250.40,320.05 L251.10,320.05 L251.80,320.05 L252.50,320.05 L253.20,320.05 L253.90,320.05 L254.60,320.05 L255.30,320.05 L256.00,320.05 L256.70,320.05 L257.40,320.05 L258.10,320.05 L258.80,320.05 L259.50,320.05 L260.20,320.05 L260.90,320.05 L261.60,320.05 L262.30,320.05 L263.00,320.05 L263.70,320.05 L264.40,320.05 L265.10,320.05 L265.80,320.05 L266.50,320.05 L267.20,320.05 L267.90,320.05 L268.60,320.05 L269.30,320.05 L270.00,320.05 L270.70,320.05 L271.40,320.05 L272.10,320.05 L272.80,320.05 L273.50,320.05 L274.20,320.05 L274.90,320.05 L275.60,320.05 L276.30,320.05 L277.00,320.05 L277.70,320.05 L278.40,320.05 L279.10,320.05 L279.80,320.05 L280.50,320.05 L281.20,320.05 L281.90,320.05 L282.60,320.05 L283.30,320.05 L284.00,320.05 L284.70,320.05 L285.40,320.05 L286.10,320.05 L286.80,320.05 L287.50,320.05 L288.20,320.05 L288.90,320.05 L289.60,320.05 L290.30,320.05 L291.00,320.05 L291.70,320.05 L292.40,320.05 L293.10,320.05 L293.80,320.05 L294.50,320.05 L295.20,320.05 L295.90,320.05 L296.60,320.05 L297.30,320.05 L298.00,320.05 L298.70,320.05 L299.40,320.05 L300.10,320.05 L300.80,320.05 L301.50,320.05 L302.20,320.04 L302.90,320.04 L303.60,320.04 L304.30,320.04 L305.00,320.03 L305.70,320.02 L306.40,320.00 L307.10,319.98 L307.80,319.95 L308.50,319.92 L309.20,319.87 L309.90,319.82 L310.60,319.75 L311.30,319.68 L312.00,319.61 L312.70,319.53 L313.40,319.46 L314.10,319.38 L314.80,319.27 L314.88,319.26 L314.96,319.24 L315.04,319.22 L315.12,319.20 L315.20,319.17 L315.28,319.15 L315.36,319.12 L315.44,319.08 L315.52,319.04 L315.60,318.99 L315.68,318.93 L315.76,318.87 L315.84,318.78 L315.92,318.69 L316.00,318.57 L316.08,318.42 L316.16,318.24 L316.24,318.01 L316.32,317.73 L316.40,317.38 L316.48,316.96 L316.56,316.49 L316.64,315.99 L316.72,315.56 L316.80,315.32 L316.88,315.34 L316.96,315.61 L317.04,316.06 L317.12,316.57 L317.20,317.05 L317.28,317.47 L317.36,317.82 L317.44,318.10 L317.52,318.33 L317.60,318.52 L317.68,318.67 L317.76,318.79 L317.84,318.90 L317.92,318.99 L318.00,319.06 L318.08,319.12 L318.16,319.18 L318.24,319.23 L318.32,319.27 L318.40,319.31 L318.48,319.34 L318.56,319.37 L318.64,319.40 L318.72,319.43 L318.80,319.45 L318.88,319.47 L318.96,319.49 L319.04,319.51 L319.12,319.53 L319.20,319.54 L319.28,319.56 L319.98,319.68 L320.68,319.76 L321.38,319.83 L322.08,319.89 L322.78,319.93 L323.48,319.97 L324.18,319.99 L324.88,320.01 L325.58,320.02 L326.28,320.03 L326.98,320.04 L327.68,320.04 L328.38,320.04 L329.08,320.04 L329.78,320.04 L330.48,320.05 L331.18,320.05 L331.88,320.05 L332.58,320.05 L333.28,320.05 L333.98,320.05 L334.68,320.05 L335.38,320.05 L336.08,320.05 L336.78,320.05 L337.48,320.05 L338.18,320.05 L338.88,320.05 L339.58,320.05 L340.28,320.05 L340.98,320.05 L341.68,320.05 L342.38,320.05 L343.08,320.05 L343.78,320.05 L344.48,320.05 L345.18,320.05 L345.88,320.05 L346.58,320.05 L347.28,320.05 L347.98,320.05 L348.68,320.05 L349.38,320.05 L350.08,320.05 L350.78,320.05 L351.48,320.05 L352.18,320.05 L352.88,320.05 L353.58,320.05 L354.28,320.05 L354.98,320.05 L355.68,320.05 L356.38,320.05 L357.08,320.05 L357.78,320.05 L358.48,320.05 L359.18,320.05 L359.88,320.05 L360.58,320.05 L361.28,320.05 L361.98,320.05 L362.68,320.05 L363.38,320.05 L364.08,320.05 L364.78,320.05 L365.48,320.05 L366.18,320.05 L366.88,320.05 L367.58,320.05 L368.28,320.05 L368.98,320.05 L369.68,320.05 L370.38,320.05 L371.08,320.05 L371.78,320.05 L372.48,320.05 L373.18,320.05 L373.88,320.05 L374.58,320.05 L375.28,320.05 L375.98,320.05 L376.68,320.05 L377.38,320.05 L378.08,320.05 L378.78,320.05 L379.48,320.05 L380.18,320.05 L380.88,320.05 L381.58,320.05 L382.28,320.05 L382.98,320.05 L383.68,320.05 L384.38,320.05" stroke="#e8802a" stroke-width="1.0" fill="none" stroke-linejoin="round" />
<text x="260.7" y="316.8" style="font-family:'Liberation Serif',serif;font-size:6.2px;font-weight:bold" fill="#e08030">10.32 μJ/cm<tspan dy="-2.2" style="font-size:3.8px">2</tspan></text>
<path d="M257.20,309.80 L257.90,309.80 L258.60,309.80 L259.30,309.80 L260.00,309.80 L260.70,309.80 L261.40,309.80 L262.10,309.80 L262.80,309.80 L263.50,309.80 L264.20,309.80 L264.90,309.80 L265.60,309.80 L266.30,309.80 L267.00,309.80 L267.70,309.80 L268.40,309.80 L269.10,309.80 L269.80,309.80 L270.50,309.80 L271.20,309.80 L271.90,309.80 L272.60,309.80 L273.30,309.80 L274.00,309.80 L274.70,309.80 L275.40,309.80 L276.10,309.80 L276.80,309.80 L277.50,309.80 L278.20,309.80 L278.90,309.80 L279.60,309.80 L280.30,309.80 L281.00,309.80 L281.70,309.80 L282.40,309.80 L283.10,309.80 L283.80,309.80 L284.50,309.80 L285.20,309.80 L285.90,309.80 L286.60,309.80 L287.30,309.80 L288.00,309.80 L288.70,309.80 L289.40,309.80 L290.10,309.80 L290.80,309.80 L291.50,309.80 L292.20,309.80 L292.90,309.80 L293.60,309.80 L294.30,309.80 L295.00,309.80 L295.70,309.80 L296.40,309.80 L297.10,309.80 L297.80,309.80 L298.50,309.80 L299.20,309.80 L299.90,309.80 L300.60,309.80 L301.30,309.80 L302.00,309.80 L302.70,309.80 L303.40,309.80 L304.10,309.80 L304.80,309.80 L305.50,309.79 L306.20,309.79 L306.90,309.79 L307.60,309.79 L308.30,309.79 L309.00,309.79 L309.70,309.79 L310.40,309.79 L311.10,309.79 L311.80,309.79 L312.50,309.79 L313.20,309.79 L313.90,309.78 L314.60,309.78 L315.30,309.78 L316.00,309.78 L316.70,309.77 L317.40,309.77 L318.10,309.76 L318.80,309.75 L319.50,309.73 L320.20,309.71 L320.90,309.68 L321.60,309.63 L322.30,309.52 L323.00,309.28 L323.08,309.23 L323.16,309.18 L323.24,309.12 L323.32,309.05 L323.40,308.97 L323.48,308.88 L323.56,308.77 L323.64,308.64 L323.72,308.48 L323.80,308.30 L323.88,308.06 L323.96,307.78 L324.04,307.41 L324.12,306.95 L324.20,306.34 L324.28,305.53 L324.36,304.42 L324.44,302.88 L324.52,300.69 L324.60,297.57 L324.68,293.30 L324.76,288.13 L324.84,283.78 L324.92,283.11 L325.00,286.68 L325.08,291.87 L325.16,296.48 L325.24,299.91 L325.32,302.33 L325.40,304.03 L325.48,305.25 L325.56,306.13 L325.64,306.79 L325.72,307.29 L325.80,307.68 L325.88,307.99 L325.96,308.23 L326.04,308.43 L326.12,308.60 L326.20,308.74 L326.28,308.85 L326.36,308.95 L326.44,309.03 L326.52,309.10 L326.60,309.17 L326.68,309.22 L326.76,309.27 L326.84,309.31 L326.92,309.35 L327.00,309.38 L327.08,309.41 L327.16,309.44 L327.24,309.46 L327.32,309.48 L328.02,309.61 L328.72,309.67 L329.42,309.71 L330.12,309.73 L330.82,309.75 L331.52,309.76 L332.22,309.76 L332.92,309.77 L333.62,309.78 L334.32,309.78 L335.02,309.78 L335.72,309.78 L336.42,309.79 L337.12,309.79 L337.82,309.79 L338.52,309.79 L339.22,309.79 L339.92,309.79 L340.62,309.79 L341.32,309.79 L342.02,309.79 L342.72,309.79 L343.42,309.79 L344.12,309.79 L344.82,309.80 L345.52,309.80 L346.22,309.80 L346.92,309.80 L347.62,309.80 L348.32,309.80 L349.02,309.80 L349.72,309.80 L350.42,309.80 L351.12,309.80 L351.82,309.80 L352.52,309.80 L353.22,309.80 L353.92,309.80 L354.62,309.80 L355.32,309.80 L356.02,309.80 L356.72,309.80 L357.42,309.80 L358.12,309.80 L358.82,309.80 L359.52,309.80 L360.22,309.80 L360.92,309.80 L361.62,309.80 L362.32,309.80 L363.02,309.80 L363.72,309.80 L364.42,309.80 L365.12,309.80 L365.82,309.80 L366.52,309.80 L367.22,309.80 L367.92,309.80 L368.62,309.80 L369.32,309.80 L370.02,309.80 L370.72,309.80 L371.42,309.80 L372.12,309.80 L372.82,309.80 L373.52,309.80 L374.22,309.80 L374.92,309.80 L375.62,309.80 L376.32,309.80 L377.02,309.80 L377.72,309.80 L378.42,309.80 L379.12,309.80 L379.82,309.80 L380.52,309.80 L381.22,309.80 L381.92,309.80 L382.62,309.80 L383.32,309.80 L384.02,309.80 L384.72,309.80 L385.42,309.80 L386.12,309.80 L386.82,309.80 L387.52,309.80 L388.22,309.80 L388.92,309.80 L389.62,309.80 L390.32,309.80 L391.02,309.80 L391.72,309.80 L392.42,309.80" stroke="#80e840" stroke-width="1.0" fill="none" stroke-linejoin="round" />
<text x="268.7" y="306.5" style="font-family:'Liberation Serif',serif;font-size:6.2px;font-weight:bold" fill="#90d840">12.64 μJ/cm<tspan dy="-2.2" style="font-size:3.8px">2</tspan></text>
<path d="M265.40,299.55 L266.10,299.55 L266.80,299.55 L267.50,299.55 L268.20,299.55 L268.90,299.55 L269.60,299.55 L270.30,299.55 L271.00,299.55 L271.70,299.55 L272.40,299.55 L273.10,299.55 L273.80,299.55 L274.50,299.55 L275.20,299.55 L275.90,299.55 L276.60,299.55 L277.30,299.55 L278.00,299.55 L278.70,299.55 L279.40,299.55 L280.10,299.55 L280.80,299.55 L281.50,299.55 L282.20,299.55 L282.90,299.55 L283.60,299.55 L284.30,299.55 L285.00,299.55 L285.70,299.55 L286.40,299.55 L287.10,299.55 L287.80,299.55 L288.50,299.55 L289.20,299.55 L289.90,299.55 L290.60,299.55 L291.30,299.55 L292.00,299.55 L292.70,299.55 L293.40,299.55 L294.10,299.55 L294.80,299.55 L295.50,299.55 L296.20,299.55 L296.90,299.55 L297.60,299.55 L298.30,299.55 L299.00,299.55 L299.70,299.55 L300.40,299.55 L301.10,299.55 L301.80,299.55 L302.50,299.55 L303.20,299.55 L303.90,299.55 L304.60,299.55 L305.30,299.55 L306.00,299.55 L306.70,299.55 L307.40,299.55 L308.10,299.55 L308.80,299.55 L309.50,299.55 L310.20,299.54 L310.90,299.54 L311.60,299.54 L312.30,299.54 L313.00,299.54 L313.70,299.54 L314.40,299.54 L315.10,299.54 L315.80,299.54 L316.50,299.54 L317.20,299.54 L317.90,299.54 L318.60,299.54 L319.30,299.53 L320.00,299.53 L320.70,299.53 L321.40,299.53 L322.10,299.52 L322.80,299.52 L323.50,299.52 L324.20,299.51 L324.90,299.50 L325.60,299.49 L326.30,299.48 L327.00,299.46 L327.70,299.42 L328.40,299.37 L329.10,299.29 L329.80,299.12 L330.50,298.70 L330.58,298.62 L330.66,298.52 L330.74,298.41 L330.82,298.29 L330.90,298.13 L330.98,297.96 L331.06,297.74 L331.14,297.48 L331.22,297.16 L331.30,296.76 L331.38,296.25 L331.46,295.60 L331.54,294.75 L331.62,293.62 L331.70,292.07 L331.78,289.90 L331.86,286.82 L331.94,282.45 L332.02,276.48 L332.10,269.42 L332.18,263.83 L332.26,263.52 L332.34,268.76 L332.42,275.84 L332.50,281.95 L332.58,286.47 L332.66,289.65 L332.74,291.89 L332.82,293.49 L332.90,294.66 L332.98,295.53 L333.06,296.20 L333.14,296.71 L333.22,297.12 L333.30,297.45 L333.38,297.72 L333.46,297.94 L333.54,298.12 L333.62,298.27 L333.70,298.40 L333.78,298.52 L333.86,298.61 L333.94,298.69 L334.02,298.77 L334.10,298.83 L334.18,298.89 L334.26,298.94 L334.34,298.98 L334.42,299.02 L334.50,299.06 L334.58,299.09 L334.66,299.12 L335.36,299.29 L336.06,299.38 L336.76,299.43 L337.46,299.46 L338.16,299.48 L338.86,299.49 L339.56,299.50 L340.26,299.51 L340.96,299.52 L341.66,299.52 L342.36,299.52 L343.06,299.53 L343.76,299.53 L344.46,299.53 L345.16,299.53 L345.86,299.54 L346.56,299.54 L347.26,299.54 L347.96,299.54 L348.66,299.54 L349.36,299.54 L350.06,299.54 L350.76,299.54 L351.46,299.54 L352.16,299.54 L352.86,299.54 L353.56,299.54 L354.26,299.54 L354.96,299.55 L355.66,299.55 L356.36,299.55 L357.06,299.55 L357.76,299.55 L358.46,299.55 L359.16,299.55 L359.86,299.55 L360.56,299.55 L361.26,299.55 L361.96,299.55 L362.66,299.55 L363.36,299.55 L364.06,299.55 L364.76,299.55 L365.46,299.55 L366.16,299.55 L366.86,299.55 L367.56,299.55 L368.26,299.55 L368.96,299.55 L369.66,299.55 L370.36,299.55 L371.06,299.55 L371.76,299.55 L372.46,299.55 L373.16,299.55 L373.86,299.55 L374.56,299.55 L375.26,299.55 L375.96,299.55 L376.66,299.55 L377.36,299.55 L378.06,299.55 L378.76,299.55 L379.46,299.55 L380.16,299.55 L380.86,299.55 L381.56,299.55 L382.26,299.55 L382.96,299.55 L383.66,299.55 L384.36,299.55 L385.06,299.55 L385.76,299.55 L386.46,299.55 L387.16,299.55 L387.86,299.55 L388.56,299.55 L389.26,299.55 L389.96,299.55 L390.66,299.55 L391.36,299.55 L392.06,299.55 L392.76,299.55 L393.46,299.55 L394.16,299.55 L394.86,299.55 L395.56,299.55 L396.26,299.55 L396.96,299.55 L397.66,299.55 L398.36,299.55 L399.06,299.55 L399.76,299.55 L400.46,299.55" stroke="#30e030" stroke-width="1.0" fill="none" stroke-linejoin="round" />
<text x="274.8" y="296.2" style="font-family:'Liberation Serif',serif;font-size:6.2px;font-weight:bold" fill="#30c830">14.85 μJ/cm<tspan dy="-2.2" style="font-size:3.8px">2</tspan></text>
<path d="M273.60,289.30 L274.30,289.30 L275.00,289.30 L275.70,289.30 L276.40,289.30 L277.10,289.30 L277.80,289.30 L278.50,289.30 L279.20,289.30 L279.90,289.30 L280.60,289.30 L281.30,289.30 L282.00,289.30 L282.70,289.30 L283.40,289.30 L284.10,289.30 L284.80,289.30 L285.50,289.30 L286.20,289.30 L286.90,289.30 L287.60,289.30 L288.30,289.30 L289.00,289.30 L289.70,289.30 L290.40,289.30 L291.10,289.30 L291.80,289.30 L292.50,289.30 L293.20,289.30 L293.90,289.30 L294.60,289.30 L295.30,289.30 L296.00,289.30 L296.70,289.30 L297.40,289.30 L298.10,289.30 L298.80,289.30 L299.50,289.30 L300.20,289.30 L300.90,289.30 L301.60,289.30 L302.30,289.30 L303.00,289.30 L303.70,289.30 L304.40,289.30 L305.10,289.30 L305.80,289.30 L306.50,289.30 L307.20,289.30 L307.90,289.30 L308.60,289.30 L309.30,289.30 L310.00,289.30 L310.70,289.29 L311.40,289.29 L312.10,289.29 L312.80,289.29 L313.50,289.29 L314.20,289.29 L314.90,289.29 L315.60,289.29 L316.30,289.29 L317.00,289.29 L317.70,289.29 L318.40,289.29 L319.10,289.29 L319.80,289.29 L320.50,289.29 L321.20,289.29 L321.90,289.29 L322.60,289.29 L323.30,289.28 L324.00,289.28 L324.70,289.28 L325.40,289.28 L326.10,289.28 L326.80,289.28 L327.50,289.27 L328.20,289.27 L328.90,289.26 L329.60,289.24 L330.30,289.22 L331.00,289.17 L331.70,289.11 L332.40,289.01 L333.10,288.87 L333.80,288.69 L334.50,288.47 L335.20,288.22 L335.90,287.95 L336.60,287.68 L337.30,287.41 L338.00,287.08 L338.70,286.45 L338.78,286.33 L338.86,286.19 L338.94,286.03 L339.02,285.84 L339.10,285.62 L339.18,285.36 L339.26,285.05 L339.34,284.67 L339.42,284.20 L339.50,283.63 L339.58,282.91 L339.66,282.00 L339.74,280.82 L339.82,279.27 L339.90,277.20 L339.98,274.38 L340.06,270.49 L340.14,265.10 L340.22,257.81 L340.30,248.74 L340.38,239.72 L340.46,234.93 L340.54,237.66 L340.62,245.97 L340.70,255.38 L340.78,263.31 L340.86,269.29 L340.94,273.63 L341.02,276.78 L341.10,279.09 L341.18,280.83 L341.26,282.15 L341.34,283.18 L341.42,283.99 L341.50,284.64 L341.58,285.18 L341.66,285.62 L341.74,285.99 L341.82,286.31 L341.90,286.57 L341.98,286.81 L342.06,287.01 L342.14,287.19 L342.22,287.34 L342.30,287.48 L342.38,287.61 L342.46,287.72 L342.54,287.82 L342.62,287.92 L342.70,288.00 L342.78,288.08 L342.86,288.15 L342.94,288.22 L343.64,288.63 L344.34,288.86 L345.04,289.01 L345.74,289.10 L346.44,289.15 L347.14,289.19 L347.84,289.21 L348.54,289.23 L349.24,289.24 L349.94,289.25 L350.64,289.26 L351.34,289.26 L352.04,289.27 L352.74,289.27 L353.44,289.27 L354.14,289.28 L354.84,289.28 L355.54,289.28 L356.24,289.28 L356.94,289.28 L357.64,289.28 L358.34,289.29 L359.04,289.29 L359.74,289.29 L360.44,289.29 L361.14,289.29 L361.84,289.29 L362.54,289.29 L363.24,289.29 L363.94,289.29 L364.64,289.29 L365.34,289.29 L366.04,289.29 L366.74,289.29 L367.44,289.29 L368.14,289.29 L368.84,289.29 L369.54,289.29 L370.24,289.29 L370.94,289.30 L371.64,289.30 L372.34,289.30 L373.04,289.30 L373.74,289.30 L374.44,289.30 L375.14,289.30 L375.84,289.30 L376.54,289.30 L377.24,289.30 L377.94,289.30 L378.64,289.30 L379.34,289.30 L380.04,289.30 L380.74,289.30 L381.44,289.30 L382.14,289.30 L382.84,289.30 L383.54,289.30 L384.24,289.30 L384.94,289.30 L385.64,289.30 L386.34,289.30 L387.04,289.30 L387.74,289.30 L388.44,289.30 L389.14,289.30 L389.84,289.30 L390.54,289.30 L391.24,289.30 L391.94,289.30 L392.64,289.30 L393.34,289.30 L394.04,289.30 L394.74,289.30 L395.44,289.30 L396.14,289.30 L396.84,289.30 L397.54,289.30 L398.24,289.30 L398.94,289.30 L399.64,289.30 L400.34,289.30 L401.04,289.30 L401.74,289.30 L402.44,289.30 L403.14,289.30 L403.84,289.30 L404.54,289.30 L405.24,289.30 L405.94,289.30 L406.64,289.30 L407.34,289.30 L408.04,289.30 L408.74,289.30" stroke="#3c82ee" stroke-width="1.0" fill="none" stroke-linejoin="round" />
<text x="282.1" y="286.0" style="font-family:'Liberation Serif',serif;font-size:6.2px;font-weight:bold" fill="#4a8ee8">16.62 μJ/cm<tspan dy="-2.2" style="font-size:3.8px">2</tspan></text>
<line x1="511.90" y1="217.50" x2="511.90" y2="281.50" stroke="#aaa" stroke-width="0.6" />
<line x1="511.90" y1="281.50" x2="652.10" y2="281.50" stroke="#aaa" stroke-width="0.6" />
<line x1="511.90" y1="281.50" x2="466.90" y2="338.00" stroke="#aaa" stroke-width="0.6" />
<path d="M652.10,281.90 L652.10,217.50 L511.90,217.50 L466.90,275.30 L466.90,338.00 L607.40,338.00 L652.10,281.90" stroke="#333" stroke-width="1.0" fill="none" stroke-linejoin="round" />
<line x1="471.60" y1="338.00" x2="471.60" y2="339.50" stroke="#333" stroke-width="0.6" />
<text x="471.6" y="344.3" style="font-family:'Liberation Serif',serif;font-size:4.2px;font-weight:bold" fill="#222" text-anchor="middle" >400</text>
<line x1="495.05" y1="338.00" x2="495.05" y2="339.50" stroke="#333" stroke-width="0.6" />
<text x="495.1" y="344.3" style="font-family:'Liberation Serif',serif;font-size:4.2px;font-weight:bold" fill="#222" text-anchor="middle" >450</text>
<line x1="518.50" y1="338.00" x2="518.50" y2="339.50" stroke="#333" stroke-width="0.6" />
<text x="518.5" y="344.3" style="font-family:'Liberation Serif',serif;font-size:4.2px;font-weight:bold" fill="#222" text-anchor="middle" >500</text>
<line x1="541.95" y1="338.00" x2="541.95" y2="339.50" stroke="#333" stroke-width="0.6" />
<text x="542.0" y="344.3" style="font-family:'Liberation Serif',serif;font-size:4.2px;font-weight:bold" fill="#222" text-anchor="middle" >550</text>
<line x1="565.40" y1="338.00" x2="565.40" y2="339.50" stroke="#333" stroke-width="0.6" />
<text x="565.4" y="344.3" style="font-family:'Liberation Serif',serif;font-size:4.2px;font-weight:bold" fill="#222" text-anchor="middle" >600</text>
<line x1="588.85" y1="338.00" x2="588.85" y2="339.50" stroke="#333" stroke-width="0.6" />
<text x="588.9" y="344.3" style="font-family:'Liberation Serif',serif;font-size:4.2px;font-weight:bold" fill="#222" text-anchor="middle" >650</text>
<text x="537.0" y="349.2" style="font-family:'Liberation Serif',serif;font-size:5.1px;font-weight:bold" fill="#222" text-anchor="middle" >Wavelength (nm)</text>
<path d="M524.30,220.10 L525.45,222.86 L526.59,225.43 L527.74,227.80 L528.89,229.99 L530.03,231.99 L531.18,233.80 L532.33,235.41 L533.47,236.84 L534.62,238.08 L535.77,239.12 L536.91,239.98 L538.06,240.64 L539.21,241.12 L540.35,241.40 L541.50,241.50 L542.65,241.40 L543.79,241.12 L544.94,240.64 L546.09,239.98 L547.23,239.12 L548.38,238.08 L549.53,236.84 L550.67,235.41 L551.82,233.80 L552.97,231.99 L554.11,229.99 L555.26,227.80 L556.41,225.43 L557.55,222.86 L558.70,220.10" stroke="#3a4aa0" stroke-width="0.9" fill="none" stroke-linejoin="round" />
<path d="M524.30,279.70 L525.45,276.88 L526.59,274.25 L527.74,271.82 L528.89,269.58 L530.03,267.53 L531.18,265.68 L532.33,264.03 L533.47,262.57 L534.62,261.30 L535.77,260.23 L536.91,259.36 L538.06,258.68 L539.21,258.19 L540.35,257.90 L541.50,257.80 L542.65,257.90 L543.79,258.19 L544.94,258.68 L546.09,259.36 L547.23,260.23 L548.38,261.30 L549.53,262.57 L550.67,264.03 L551.82,265.68 L552.97,267.53 L554.11,269.58 L555.26,271.82 L556.41,274.25 L557.55,276.88 L558.70,279.70" stroke="#3a4aa0" stroke-width="0.9" fill="none" stroke-linejoin="round" />
<line x1="535.2" y1="262.2" x2="535.2" y2="237.7" stroke="#e02020" stroke-width="0.9"/>
<path d="M534.1500000000001,239.5 L535.2,237.7 L536.25,239.5 Z" fill="#e02020"/>
<line x1="535.2" y1="262.2" x2="535.2" y2="249.95" stroke="#e02020" stroke-width="0.9"/>
<path d="M534.1500000000001,251.75 L535.2,249.95 L536.25,251.75 Z" fill="#e02020"/>
<line x1="542.6" y1="243" x2="542.6" y2="257" stroke="#40c040" stroke-width="0.9"/>
<path d="M541.5500000000001,255.2 L542.6,257 L543.65,255.2 Z" fill="#40c040"/>
<rect x="598.1" y="230.5" width="32.799999999999955" height="43.39999999999998" fill="#000"/>
<ellipse cx="614.8" cy="256.5" rx="7" ry="15" fill="#2a8a2a" opacity="0.6" filter="url(#blur2)"/>
<circle cx="615.5" cy="248.5" r="6" fill="#40c040" opacity="0.8" filter="url(#blur1)"/>
<circle cx="614.2" cy="264.0" r="5" fill="#40c040" opacity="0.7" filter="url(#blur1)"/>
<circle cx="615.5" cy="248.5" r="3.4" fill="#e8ffe8" filter="url(#blur1)"/>
<circle cx="614.2" cy="264.0" r="2.8" fill="#b0f0b0" filter="url(#blur1)"/>
<text transform="translate(659.8,252.7) rotate(-90)" style="font-family:'Liberation Serif',serif;font-size:5.6px;font-weight:bold" fill="#222" text-anchor="middle">PL Intensity  (a.u.)</text>
<text transform="translate(637.4,311.1) rotate(308.5)" style="font-family:'Liberation Serif',serif;font-size:5.0px;font-weight:bold" fill="#333" text-anchor="middle">Pump Intensity (a.u.)</text>
<path d="M475.10,332.70 L475.80,332.70 L476.50,332.70 L477.20,332.70 L477.90,332.70 L478.60,332.70 L479.30,332.70 L480.00,332.70 L480.70,332.70 L481.40,332.70 L482.10,332.70 L482.80,332.70 L483.50,332.70 L484.20,332.70 L484.90,332.70 L485.60,332.70 L486.30,332.70 L487.00,332.70 L487.70,332.70 L488.40,332.70 L489.10,332.70 L489.80,332.70 L490.50,332.70 L491.20,332.70 L491.90,332.70 L492.60,332.70 L493.30,332.70 L494.00,332.70 L494.70,332.70 L495.40,332.70 L496.10,332.70 L496.80,332.70 L497.50,332.70 L498.20,332.70 L498.90,332.70 L499.60,332.70 L500.30,332.70 L501.00,332.70 L501.70,332.70 L502.40,332.70 L503.10,332.70 L503.80,332.70 L504.50,332.70 L505.20,332.70 L505.90,332.70 L506.60,332.70 L507.30,332.70 L508.00,332.70 L508.70,332.70 L509.40,332.70 L510.10,332.70 L510.80,332.70 L511.50,332.70 L512.20,332.70 L512.90,332.70 L513.60,332.70 L514.30,332.70 L515.00,332.70 L515.70,332.70 L516.40,332.70 L517.10,332.70 L517.80,332.70 L518.50,332.70 L519.20,332.70 L519.90,332.70 L520.60,332.70 L521.30,332.70 L522.00,332.70 L522.70,332.70 L523.40,332.70 L524.10,332.70 L524.80,332.70 L525.50,332.70 L526.20,332.70 L526.90,332.70 L527.60,332.69 L528.30,332.68 L529.00,332.67 L529.70,332.65 L530.40,332.61 L531.10,332.55 L531.80,332.45 L532.50,332.32 L533.20,332.15 L533.90,331.93 L534.60,331.68 L535.30,331.40 L536.00,331.12 L536.70,330.86 L537.40,330.66 L538.10,330.53 L538.80,330.50 L539.50,330.57 L540.20,330.73 L540.90,330.95 L541.60,331.22 L542.30,331.51 L543.00,331.78 L543.70,332.02 L544.40,332.22 L545.10,332.38 L545.80,332.49 L546.50,332.57 L547.20,332.62 L547.90,332.66 L548.60,332.68 L549.30,332.69 L550.00,332.69 L550.70,332.70 L551.40,332.70 L552.10,332.70 L552.80,332.70 L553.50,332.70 L554.20,332.70 L554.90,332.70 L555.60,332.70 L556.30,332.70 L557.00,332.70 L557.70,332.70 L558.40,332.70 L559.10,332.70 L559.80,332.70 L560.50,332.70 L561.20,332.70 L561.90,332.70 L562.60,332.70 L563.30,332.70 L564.00,332.70 L564.70,332.70 L565.40,332.70 L566.10,332.70 L566.80,332.70 L567.50,332.70 L568.20,332.70 L568.90,332.70 L569.60,332.70 L570.30,332.70 L571.00,332.70 L571.70,332.70 L572.40,332.70 L573.10,332.70 L573.80,332.70 L574.50,332.70 L575.20,332.70 L575.90,332.70 L576.60,332.70 L577.30,332.70 L578.00,332.70 L578.70,332.70 L579.40,332.70 L580.10,332.70 L580.80,332.70 L581.50,332.70 L582.20,332.70 L582.90,332.70 L583.60,332.70 L584.30,332.70 L585.00,332.70 L585.70,332.70 L586.40,332.70 L587.10,332.70 L587.80,332.70 L588.50,332.70 L589.20,332.70 L589.90,332.70 L590.60,332.70 L591.30,332.70 L592.00,332.70 L592.70,332.70 L593.40,332.70 L594.10,332.70 L594.80,332.70 L595.50,332.70 L596.20,332.70 L596.90,332.70 L597.60,332.70 L598.30,332.70 L599.00,332.70 L599.70,332.70 L600.40,332.70 L601.10,332.70 L601.80,332.70 L602.50,332.70 L603.20,332.70 L603.90,332.70 L604.60,332.70 L605.30,332.70 L606.00,332.70" stroke="#e83030" stroke-width="1.0" fill="none" stroke-linejoin="round" />
<text x="486.2" y="329.0" style="font-family:'Liberation Serif',serif;font-size:6.2px;font-weight:bold" fill="#e02828">24.84 μJ/cm<tspan dy="-2.2" style="font-size:3.8px">2</tspan></text>
<path d="M483.30,322.40 L484.00,322.40 L484.70,322.40 L485.40,322.40 L486.10,322.40 L486.80,322.40 L487.50,322.40 L488.20,322.40 L488.90,322.40 L489.60,322.40 L490.30,322.40 L491.00,322.40 L491.70,322.40 L492.40,322.40 L493.10,322.40 L493.80,322.40 L494.50,322.40 L495.20,322.40 L495.90,322.40 L496.60,322.40 L497.30,322.40 L498.00,322.40 L498.70,322.40 L499.40,322.40 L500.10,322.40 L500.80,322.40 L501.50,322.40 L502.20,322.40 L502.90,322.40 L503.60,322.40 L504.30,322.40 L505.00,322.40 L505.70,322.40 L506.40,322.40 L507.10,322.40 L507.80,322.40 L508.50,322.40 L509.20,322.40 L509.90,322.40 L510.60,322.40 L511.30,322.40 L512.00,322.40 L512.70,322.40 L513.40,322.40 L514.10,322.40 L514.80,322.40 L515.50,322.40 L516.20,322.40 L516.90,322.40 L517.60,322.40 L518.30,322.40 L519.00,322.40 L519.70,322.40 L520.40,322.40 L521.10,322.40 L521.80,322.40 L522.50,322.40 L523.20,322.40 L523.90,322.40 L524.60,322.40 L525.30,322.40 L526.00,322.40 L526.70,322.40 L527.40,322.40 L528.10,322.40 L528.80,322.40 L529.50,322.40 L530.20,322.40 L530.90,322.40 L531.60,322.40 L532.30,322.40 L533.00,322.40 L533.70,322.40 L534.40,322.39 L535.10,322.39 L535.80,322.38 L536.50,322.37 L537.20,322.34 L537.90,322.31 L538.60,322.25 L539.30,322.17 L540.00,322.06 L540.70,321.90 L541.40,321.70 L542.10,321.46 L542.80,321.17 L543.50,320.85 L544.20,320.51 L544.90,320.18 L545.60,319.88 L546.30,319.63 L547.00,319.47 L547.70,319.40 L548.40,319.44 L549.10,319.57 L549.80,319.80 L550.50,320.08 L551.20,320.41 L551.90,320.75 L552.60,321.07 L553.30,321.37 L554.00,321.63 L554.70,321.85 L555.40,322.01 L556.10,322.14 L556.80,322.23 L557.50,322.29 L558.20,322.34 L558.90,322.36 L559.60,322.38 L560.30,322.39 L561.00,322.39 L561.70,322.40 L562.40,322.40 L563.10,322.40 L563.80,322.40 L564.50,322.40 L565.20,322.40 L565.90,322.40 L566.60,322.40 L567.30,322.40 L568.00,322.40 L568.70,322.40 L569.40,322.40 L570.10,322.40 L570.80,322.40 L571.50,322.40 L572.20,322.40 L572.90,322.40 L573.60,322.40 L574.30,322.40 L575.00,322.40 L575.70,322.40 L576.40,322.40 L577.10,322.40 L577.80,322.40 L578.50,322.40 L579.20,322.40 L579.90,322.40 L580.60,322.40 L581.30,322.40 L582.00,322.40 L582.70,322.40 L583.40,322.40 L584.10,322.40 L584.80,322.40 L585.50,322.40 L586.20,322.40 L586.90,322.40 L587.60,322.40 L588.30,322.40 L589.00,322.40 L589.70,322.40 L590.40,322.40 L591.10,322.40 L591.80,322.40 L592.50,322.40 L593.20,322.40 L593.90,322.40 L594.60,322.40 L595.30,322.40 L596.00,322.40 L596.70,322.40 L597.40,322.40 L598.10,322.40 L598.80,322.40 L599.50,322.40 L600.20,322.40 L600.90,322.40 L601.60,322.40 L602.30,322.40 L603.00,322.40 L603.70,322.40 L604.40,322.40 L605.10,322.40 L605.80,322.40 L606.50,322.40 L607.20,322.40 L607.90,322.40 L608.60,322.40 L609.30,322.40 L610.00,322.40 L610.70,322.40 L611.40,322.40 L612.10,322.40 L612.80,322.40 L613.50,322.40 L614.20,322.40" stroke="#f0f040" stroke-width="1.0" fill="none" stroke-linejoin="round" />
<text x="495.0" y="318.7" style="font-family:'Liberation Serif',serif;font-size:6.2px;font-weight:bold" fill="#8a8a30">26.96 μJ/cm<tspan dy="-2.2" style="font-size:3.8px">2</tspan></text>
<path d="M491.50,312.10 L492.20,312.10 L492.90,312.10 L493.60,312.10 L494.30,312.10 L495.00,312.10 L495.70,312.10 L496.40,312.10 L497.10,312.10 L497.80,312.10 L498.50,312.10 L499.20,312.10 L499.90,312.10 L500.60,312.10 L501.30,312.10 L502.00,312.10 L502.70,312.10 L503.40,312.10 L504.10,312.10 L504.80,312.10 L505.50,312.10 L506.20,312.10 L506.90,312.10 L507.60,312.10 L508.30,312.10 L509.00,312.10 L509.70,312.10 L510.40,312.10 L511.10,312.10 L511.80,312.10 L512.50,312.10 L513.20,312.10 L513.90,312.10 L514.60,312.10 L515.30,312.10 L516.00,312.10 L516.70,312.10 L517.40,312.10 L518.10,312.10 L518.80,312.10 L519.50,312.10 L520.20,312.10 L520.90,312.10 L521.60,312.10 L522.30,312.10 L523.00,312.10 L523.70,312.10 L524.40,312.10 L525.10,312.10 L525.80,312.10 L526.50,312.10 L527.20,312.10 L527.90,312.10 L528.60,312.10 L529.30,312.10 L530.00,312.10 L530.70,312.10 L531.40,312.10 L532.10,312.10 L532.80,312.10 L533.50,312.10 L534.20,312.10 L534.90,312.10 L535.60,312.10 L536.30,312.10 L537.00,312.10 L537.70,312.09 L538.40,312.09 L539.10,312.09 L539.80,312.09 L540.50,312.09 L541.20,312.09 L541.90,312.09 L542.60,312.08 L543.30,312.07 L544.00,312.06 L544.70,312.02 L545.40,311.97 L546.10,311.88 L546.80,311.75 L547.50,311.56 L548.20,311.30 L548.90,310.95 L549.60,310.53 L550.30,310.04 L551.00,309.52 L551.70,309.01 L552.40,308.56 L553.10,308.22 L553.80,308.02 L554.50,307.99 L555.20,308.10 L555.90,308.30 L556.60,308.44 L556.68,308.44 L556.76,308.42 L556.84,308.40 L556.92,308.37 L557.00,308.32 L557.08,308.25 L557.16,308.16 L557.24,308.04 L557.32,307.88 L557.40,307.67 L557.48,307.40 L557.56,307.04 L557.64,306.56 L557.72,305.92 L557.80,305.05 L557.88,303.84 L557.96,302.16 L558.04,299.78 L558.12,296.47 L558.20,292.12 L558.28,287.28 L558.36,283.81 L558.44,284.03 L558.52,287.80 L558.60,292.77 L558.68,297.15 L558.76,300.49 L558.84,302.91 L558.92,304.66 L559.00,305.94 L559.08,306.90 L559.16,307.63 L559.24,308.20 L559.32,308.66 L559.40,309.03 L559.48,309.33 L559.56,309.59 L559.64,309.81 L559.72,309.99 L559.80,310.16 L559.88,310.30 L559.96,310.43 L560.04,310.54 L560.12,310.64 L560.20,310.73 L560.28,310.82 L560.36,310.90 L560.44,310.97 L560.52,311.03 L560.60,311.09 L560.68,311.15 L560.76,311.20 L561.46,311.54 L562.16,311.75 L562.86,311.88 L563.56,311.96 L564.26,312.00 L564.96,312.03 L565.66,312.05 L566.36,312.06 L567.06,312.07 L567.76,312.07 L568.46,312.08 L569.16,312.08 L569.86,312.08 L570.56,312.09 L571.26,312.09 L571.96,312.09 L572.66,312.09 L573.36,312.09 L574.06,312.09 L574.76,312.09 L575.46,312.09 L576.16,312.09 L576.86,312.09 L577.56,312.09 L578.26,312.09 L578.96,312.09 L579.66,312.10 L580.36,312.10 L581.06,312.10 L581.76,312.10 L582.46,312.10 L583.16,312.10 L583.86,312.10 L584.56,312.10 L585.26,312.10 L585.96,312.10 L586.66,312.10 L587.36,312.10 L588.06,312.10 L588.76,312.10 L589.46,312.10 L590.16,312.10 L590.86,312.10 L591.56,312.10 L592.26,312.10 L592.96,312.10 L593.66,312.10 L594.36,312.10 L595.06,312.10 L595.76,312.10 L596.46,312.10 L597.16,312.10 L597.86,312.10 L598.56,312.10 L599.26,312.10 L599.96,312.10 L600.66,312.10 L601.36,312.10 L602.06,312.10 L602.76,312.10 L603.46,312.10 L604.16,312.10 L604.86,312.10 L605.56,312.10 L606.26,312.10 L606.96,312.10 L607.66,312.10 L608.36,312.10 L609.06,312.10 L609.76,312.10 L610.46,312.10 L611.16,312.10 L611.86,312.10 L612.56,312.10 L613.26,312.10 L613.96,312.10 L614.66,312.10 L615.36,312.10 L616.06,312.10 L616.76,312.10 L617.46,312.10 L618.16,312.10 L618.86,312.10 L619.56,312.10 L620.26,312.10 L620.96,312.10 L621.66,312.10 L622.36,312.10" stroke="#40e040" stroke-width="1.0" fill="none" stroke-linejoin="round" />
<text x="500.5" y="308.4" style="font-family:'Liberation Serif',serif;font-size:6.2px;font-weight:bold" fill="#40d040">31.28 μJ/cm<tspan dy="-2.2" style="font-size:3.8px">2</tspan></text>
<path d="M499.70,301.80 L500.40,301.80 L501.10,301.80 L501.80,301.80 L502.50,301.80 L503.20,301.80 L503.90,301.80 L504.60,301.80 L505.30,301.80 L506.00,301.80 L506.70,301.80 L507.40,301.80 L508.10,301.80 L508.80,301.80 L509.50,301.80 L510.20,301.80 L510.90,301.80 L511.60,301.80 L512.30,301.80 L513.00,301.80 L513.70,301.80 L514.40,301.80 L515.10,301.80 L515.80,301.80 L516.50,301.80 L517.20,301.80 L517.90,301.80 L518.60,301.80 L519.30,301.80 L520.00,301.80 L520.70,301.80 L521.40,301.80 L522.10,301.80 L522.80,301.80 L523.50,301.80 L524.20,301.80 L524.90,301.80 L525.60,301.80 L526.30,301.80 L527.00,301.80 L527.70,301.80 L528.40,301.80 L529.10,301.80 L529.80,301.80 L530.50,301.80 L531.20,301.80 L531.90,301.80 L532.60,301.80 L533.30,301.80 L534.00,301.80 L534.70,301.80 L535.40,301.80 L536.10,301.80 L536.80,301.80 L537.50,301.80 L538.20,301.80 L538.90,301.80 L539.60,301.80 L540.30,301.80 L541.00,301.79 L541.70,301.79 L542.40,301.79 L543.10,301.79 L543.80,301.79 L544.50,301.79 L545.20,301.79 L545.90,301.79 L546.60,301.79 L547.30,301.79 L548.00,301.79 L548.70,301.79 L549.40,301.79 L550.10,301.79 L550.80,301.78 L551.50,301.78 L552.20,301.78 L552.90,301.76 L553.60,301.75 L554.30,301.72 L555.00,301.67 L555.70,301.60 L556.40,301.49 L557.10,301.33 L557.80,301.13 L558.50,300.88 L559.20,300.58 L559.90,300.25 L560.60,299.91 L561.30,299.60 L562.00,299.33 L562.70,299.13 L563.40,299.01 L564.10,298.92 L564.80,298.73 L564.88,298.69 L564.96,298.64 L565.04,298.58 L565.12,298.51 L565.20,298.43 L565.28,298.33 L565.36,298.21 L565.44,298.06 L565.52,297.89 L565.60,297.67 L565.68,297.41 L565.76,297.09 L565.84,296.68 L565.92,296.17 L566.00,295.51 L566.08,294.66 L566.16,293.53 L566.24,292.02 L566.32,289.95 L566.40,287.08 L566.48,283.06 L566.56,277.49 L566.64,270.24 L566.72,262.32 L566.80,256.94 L566.88,257.71 L566.96,264.07 L567.04,272.11 L567.12,279.10 L567.20,284.38 L567.28,288.19 L567.36,290.93 L567.44,292.94 L567.52,294.42 L567.60,295.55 L567.68,296.43 L567.76,297.12 L567.84,297.67 L567.92,298.13 L568.00,298.50 L568.08,298.82 L568.16,299.09 L568.24,299.32 L568.32,299.52 L568.40,299.69 L568.48,299.85 L568.56,299.98 L568.64,300.10 L568.72,300.22 L568.80,300.31 L568.88,300.41 L568.96,300.49 L569.04,300.56 L569.12,300.63 L569.20,300.70 L569.90,301.11 L570.60,301.35 L571.30,301.50 L572.00,301.60 L572.70,301.66 L573.40,301.70 L574.10,301.72 L574.80,301.74 L575.50,301.75 L576.20,301.76 L576.90,301.77 L577.60,301.77 L578.30,301.77 L579.00,301.78 L579.70,301.78 L580.40,301.78 L581.10,301.78 L581.80,301.78 L582.50,301.79 L583.20,301.79 L583.90,301.79 L584.60,301.79 L585.30,301.79 L586.00,301.79 L586.70,301.79 L587.40,301.79 L588.10,301.79 L588.80,301.79 L589.50,301.79 L590.20,301.79 L590.90,301.79 L591.60,301.79 L592.30,301.79 L593.00,301.79 L593.70,301.80 L594.40,301.80 L595.10,301.80 L595.80,301.80 L596.50,301.80 L597.20,301.80 L597.90,301.80 L598.60,301.80 L599.30,301.80 L600.00,301.80 L600.70,301.80 L601.40,301.80 L602.10,301.80 L602.80,301.80 L603.50,301.80 L604.20,301.80 L604.90,301.80 L605.60,301.80 L606.30,301.80 L607.00,301.80 L607.70,301.80 L608.40,301.80 L609.10,301.80 L609.80,301.80 L610.50,301.80 L611.20,301.80 L611.90,301.80 L612.60,301.80 L613.30,301.80 L614.00,301.80 L614.70,301.80 L615.40,301.80 L616.10,301.80 L616.80,301.80 L617.50,301.80 L618.20,301.80 L618.90,301.80 L619.60,301.80 L620.30,301.80 L621.00,301.80 L621.70,301.80 L622.40,301.80 L623.10,301.80 L623.80,301.80 L624.50,301.80 L625.20,301.80 L625.90,301.80 L626.60,301.80 L627.30,301.80 L628.00,301.80 L628.70,301.80 L629.40,301.80 L630.10,301.80 L630.80,301.80" stroke="#4a8ef4" stroke-width="1.0" fill="none" stroke-linejoin="round" />
<text x="509.0" y="298.1" style="font-family:'Liberation Serif',serif;font-size:6.2px;font-weight:bold" fill="#4a8ef0">34.60 μJ/cm<tspan dy="-2.2" style="font-size:3.8px">2</tspan></text>
<path d="M507.90,291.50 L508.60,291.50 L509.30,291.50 L510.00,291.50 L510.70,291.50 L511.40,291.50 L512.10,291.50 L512.80,291.50 L513.50,291.50 L514.20,291.50 L514.90,291.50 L515.60,291.50 L516.30,291.50 L517.00,291.50 L517.70,291.50 L518.40,291.50 L519.10,291.50 L519.80,291.50 L520.50,291.50 L521.20,291.50 L521.90,291.50 L522.60,291.50 L523.30,291.50 L524.00,291.50 L524.70,291.50 L525.40,291.50 L526.10,291.50 L526.80,291.50 L527.50,291.50 L528.20,291.50 L528.90,291.50 L529.60,291.50 L530.30,291.50 L531.00,291.50 L531.70,291.50 L532.40,291.50 L533.10,291.50 L533.80,291.50 L534.50,291.50 L535.20,291.50 L535.90,291.50 L536.60,291.50 L537.30,291.50 L538.00,291.50 L538.70,291.50 L539.40,291.50 L540.10,291.50 L540.80,291.50 L541.50,291.50 L542.20,291.50 L542.90,291.50 L543.60,291.49 L544.30,291.49 L545.00,291.49 L545.70,291.49 L546.40,291.49 L547.10,291.49 L547.80,291.49 L548.50,291.49 L549.20,291.49 L549.90,291.49 L550.60,291.49 L551.30,291.49 L552.00,291.49 L552.70,291.49 L553.40,291.49 L554.10,291.49 L554.80,291.49 L555.50,291.49 L556.20,291.49 L556.90,291.48 L557.60,291.48 L558.30,291.48 L559.00,291.48 L559.70,291.48 L560.40,291.47 L561.10,291.46 L561.80,291.45 L562.50,291.42 L563.20,291.38 L563.90,291.29 L564.60,291.15 L565.30,290.93 L566.00,290.61 L566.70,290.18 L567.40,289.64 L568.10,289.03 L568.80,288.41 L569.50,287.84 L570.20,287.41 L570.90,287.15 L571.60,287.05 L572.30,287.00 L572.38,286.98 L572.46,286.96 L572.54,286.93 L572.62,286.90 L572.70,286.85 L572.78,286.79 L572.86,286.72 L572.94,286.63 L573.02,286.53 L573.10,286.39 L573.18,286.23 L573.26,286.02 L573.34,285.77 L573.42,285.45 L573.50,285.06 L573.58,284.56 L573.66,283.94 L573.74,283.13 L573.82,282.09 L573.90,280.72 L573.98,278.89 L574.06,276.40 L574.14,272.96 L574.22,268.15 L574.30,261.41 L574.38,252.30 L574.46,241.24 L574.54,231.23 L574.62,227.84 L574.70,233.65 L574.78,244.56 L574.86,255.37 L574.94,263.96 L575.02,270.25 L575.10,274.77 L575.18,278.05 L575.26,280.46 L575.34,282.28 L575.42,283.67 L575.50,284.76 L575.58,285.63 L575.66,286.34 L575.74,286.92 L575.82,287.40 L575.90,287.81 L575.98,288.16 L576.06,288.46 L576.14,288.72 L576.22,288.95 L576.30,289.15 L576.38,289.33 L576.46,289.49 L576.54,289.64 L576.62,289.77 L576.70,289.88 L576.78,289.99 L576.86,290.09 L576.94,290.18 L577.02,290.26 L577.72,290.77 L578.42,291.04 L579.12,291.20 L579.82,291.29 L580.52,291.35 L581.22,291.38 L581.92,291.41 L582.62,291.42 L583.32,291.44 L584.02,291.44 L584.72,291.45 L585.42,291.46 L586.12,291.46 L586.82,291.47 L587.52,291.47 L588.22,291.47 L588.92,291.48 L589.62,291.48 L590.32,291.48 L591.02,291.48 L591.72,291.48 L592.42,291.48 L593.12,291.49 L593.82,291.49 L594.52,291.49 L595.22,291.49 L595.92,291.49 L596.62,291.49 L597.32,291.49 L598.02,291.49 L598.72,291.49 L599.42,291.49 L600.12,291.49 L600.82,291.49 L601.52,291.49 L602.22,291.49 L602.92,291.49 L603.62,291.49 L604.32,291.49 L605.02,291.49 L605.72,291.49 L606.42,291.50 L607.12,291.50 L607.82,291.50 L608.52,291.50 L609.22,291.50 L609.92,291.50 L610.62,291.50 L611.32,291.50 L612.02,291.50 L612.72,291.50 L613.42,291.50 L614.12,291.50 L614.82,291.50 L615.52,291.50 L616.22,291.50 L616.92,291.50 L617.62,291.50 L618.32,291.50 L619.02,291.50 L619.72,291.50 L620.42,291.50 L621.12,291.50 L621.82,291.50 L622.52,291.50 L623.22,291.50 L623.92,291.50 L624.62,291.50 L625.32,291.50 L626.02,291.50 L626.72,291.50 L627.42,291.50 L628.12,291.50 L628.82,291.50 L629.52,291.50 L630.22,291.50 L630.92,291.50 L631.62,291.50 L632.32,291.50 L633.02,291.50 L633.72,291.50 L634.42,291.50 L635.12,291.50 L635.82,291.50 L636.52,291.50 L637.22,291.50 L637.92,291.50 L638.62,291.50" stroke="#2828e8" stroke-width="1.0" fill="none" stroke-linejoin="round" />
<text x="516.7" y="287.8" style="font-family:'Liberation Serif',serif;font-size:6.2px;font-weight:bold" fill="#2a2ad8">39.84 μJ/cm<tspan dy="-2.2" style="font-size:3.8px">2</tspan></text>
<defs>
<radialGradient id="sphere" cx="0.4" cy="0.35" r="0.65"><stop offset="0" stop-color="#ffffff"/><stop offset="0.5" stop-color="#c8c8c8"/><stop offset="1" stop-color="#707070"/></radialGradient>
<radialGradient id="blueSpot"><stop offset="0" stop-color="#5050ff"/><stop offset="0.45" stop-color="#3020e0" stop-opacity="0.8"/><stop offset="1" stop-color="#2010a0" stop-opacity="0"/></radialGradient>
<radialGradient id="redSpot"><stop offset="0" stop-color="#ff3060" stop-opacity="0.9"/><stop offset="1" stop-color="#c02040" stop-opacity="0"/></radialGradient>
<radialGradient id="haze"><stop offset="0" stop-color="#2a1a90" stop-opacity="0.5"/><stop offset="0.5" stop-color="#1a1070" stop-opacity="0.25"/><stop offset="1" stop-color="#100840" stop-opacity="0"/></radialGradient>
<linearGradient id="wireF" x1="0" y1="0" x2="1" y2="0"><stop offset="0" stop-color="#2a55b8"/><stop offset="0.45" stop-color="#3a6ad0"/><stop offset="1" stop-color="#2448a8"/></linearGradient>
</defs>
<rect x="22.6" y="378" width="172.2" height="139.2" fill="#c9ead7"/>
<line x1="65.00" y1="419.10" x2="141.30" y2="419.10" stroke="#f4fbf6" stroke-width="0.9" />
<line x1="74.70" y1="433.60" x2="141.30" y2="433.60" stroke="#f4fbf6" stroke-width="0.9" />
<line x1="85.30" y1="444.40" x2="141.30" y2="444.40" stroke="#f4fbf6" stroke-width="0.9" />
<line x1="115.00" y1="481.60" x2="141.30" y2="481.60" stroke="#f4fbf6" stroke-width="0.9" />
<g transform="translate(55.5,418.7) rotate(50.53)">
<rect x="0" y="-4.2" width="77.1" height="8.4" fill="#2f5cc4"/>
<rect x="0" y="-3.2" width="77.1" height="2.2" fill="#4a78dc" opacity="0.6"/>
<path d="M19.7,-4.2 L23.3,-4.2 Q24.3,0 23.3,4.2 L19.7,4.2 Q20.7,0 19.7,-4.2 Z" fill="#e02020"/>
<path d="M41.7,-4.2 L45.3,-4.2 Q46.3,0 45.3,4.2 L41.7,4.2 Q42.7,0 41.7,-4.2 Z" fill="#e02020"/>
<ellipse cx="0" cy="0" rx="1.8" ry="4.2" fill="#6c9be2" stroke="#3a64c0" stroke-width="0.4"/>
</g>
<circle cx="108.7" cy="481.6" r="6.2" fill="url(#sphere)"/>
<text x="142.7" y="422.3" style="font-family:'Liberation Sans',sans-serif;font-size:12.8px" fill="#1a1a1a">CsPbCl<tspan dy="3" style="font-size:8px">3</tspan></text>
<text x="142.7" y="435.0" style="font-family:'Liberation Sans',sans-serif;font-size:12.8px" fill="#1a1a1a">CsPbI<tspan dy="3" style="font-size:8px">3</tspan></text>
<text x="142.7" y="448.4" style="font-family:'Liberation Sans',sans-serif;font-size:12.8px" fill="#1a1a1a">CsPbCl<tspan dy="3" style="font-size:8px">3</tspan></text>
<text x="142.7" y="484.8" style="font-family:'Liberation Sans',sans-serif;font-size:12.8px" fill="#1a1a1a">Catalyst</text>
<rect x="235.8" y="382" width="180.7" height="134.5" fill="#06051a"/>
<ellipse cx="330" cy="450" rx="40" ry="22" fill="url(#haze)" opacity="0.6" transform="rotate(30 330 450)"/>
<circle cx="295.8" cy="430.3" r="6" fill="#2a20d8" opacity="0.85" filter="url(#blur2)"/>
<circle cx="295.8" cy="430.1" r="2.6" fill="#4a40ff" filter="url(#blur1)"/>
<ellipse cx="295.8" cy="436" rx="3" ry="1.8" fill="#a02070" opacity="0.5" filter="url(#blur1)"/>
<ellipse cx="337" cy="452" rx="16.5" ry="11" fill="#3020f0" opacity="0.9" transform="rotate(30 337 452)" filter="url(#blur2)"/>
<ellipse cx="336" cy="451" rx="9" ry="6" fill="#4a3cff" transform="rotate(30 336 451)" filter="url(#blur2)"/>
<ellipse cx="337.5" cy="454" rx="5" ry="3.5" fill="#c040d8" opacity="0.7" transform="rotate(30 337.5 454)" filter="url(#blur1)"/>
<ellipse cx="350.3" cy="457" rx="3.8" ry="3" fill="#e83080" opacity="0.85" filter="url(#blur1)"/>
<ellipse cx="345.7" cy="463.4" rx="3" ry="2.4" fill="#d02860" opacity="0.6" filter="url(#blur1)"/>
<ellipse cx="360.2" cy="468.9" rx="4" ry="3" fill="#a02030" opacity="0.6" filter="url(#blur1)"/>
<text transform="translate(285.4,415) scale(0.9,1)" style="font-family:'Liberation Sans',sans-serif;font-size:22.3px" fill="#f4f4f4">O</text>
<text transform="translate(302.6,420.4) scale(0.9,1)" style="font-family:'Liberation Sans',sans-serif;font-size:15.5px" fill="#f4f4f4">2</text>
<text transform="translate(335.4,437.7) scale(0.9,1)" style="font-family:'Liberation Sans',sans-serif;font-size:22.3px" fill="#f4f4f4">P</text>
<text transform="translate(348.2,442.9) scale(0.9,1)" style="font-family:'Liberation Sans',sans-serif;font-size:15.5px" fill="#f4f4f4">2</text>
<text transform="translate(368.4,464.8) scale(0.9,1)" style="font-family:'Liberation Sans',sans-serif;font-size:22.3px" fill="#f4f4f4">O</text>
<text transform="translate(385.4,470.0) scale(0.9,1)" style="font-family:'Liberation Sans',sans-serif;font-size:15.5px" fill="#f4f4f4">3</text>
<text x="248.1" y="493" style="font-family:'Liberation Serif',serif;font-size:18px;font-weight:bold" fill="#fff">5 μm</text>
<rect x="246.7" y="500.7" width="46" height="4" fill="#fff"/>
<rect x="479.9" y="379.4" width="169.60000000000002" height="145.89999999999998" fill="none" stroke="#444" stroke-width="0.9"/>
<line x1="477.40" y1="519.80" x2="479.90" y2="519.80" stroke="#444" stroke-width="0.8" />
<line x1="478.40" y1="492.50" x2="479.90" y2="492.50" stroke="#444" stroke-width="0.8" />
<line x1="477.40" y1="465.20" x2="479.90" y2="465.20" stroke="#444" stroke-width="0.8" />
<line x1="478.40" y1="437.90" x2="479.90" y2="437.90" stroke="#444" stroke-width="0.8" />
<line x1="477.40" y1="410.60" x2="479.90" y2="410.60" stroke="#444" stroke-width="0.8" />
<line x1="478.40" y1="383.30" x2="479.90" y2="383.30" stroke="#444" stroke-width="0.8" />
<line x1="487.70" y1="525.30" x2="487.70" y2="527.80" stroke="#444" stroke-width="0.8" />
<line x1="507.93" y1="525.30" x2="507.93" y2="526.80" stroke="#444" stroke-width="0.8" />
<line x1="528.15" y1="525.30" x2="528.15" y2="527.80" stroke="#444" stroke-width="0.8" />
<line x1="548.38" y1="525.30" x2="548.38" y2="526.80" stroke="#444" stroke-width="0.8" />
<line x1="568.60" y1="525.30" x2="568.60" y2="527.80" stroke="#444" stroke-width="0.8" />
<line x1="588.83" y1="525.30" x2="588.83" y2="526.80" stroke="#444" stroke-width="0.8" />
<line x1="609.05" y1="525.30" x2="609.05" y2="527.80" stroke="#444" stroke-width="0.8" />
<line x1="629.27" y1="525.30" x2="629.27" y2="526.80" stroke="#444" stroke-width="0.8" />
<line x1="649.50" y1="525.30" x2="649.50" y2="527.80" stroke="#444" stroke-width="0.8" />
<text x="475.8" y="525.8" style="font-family:'Liberation Serif',serif;font-size:17.6px;font-weight:normal" fill="#111" text-anchor="end" >0</text>
<text x="475.8" y="471.2" style="font-family:'Liberation Serif',serif;font-size:17.6px;font-weight:normal" fill="#111" text-anchor="end" >80</text>
<text x="475.8" y="416.6" style="font-family:'Liberation Serif',serif;font-size:17.6px;font-weight:normal" fill="#111" text-anchor="end" >160</text>
<text x="487.7" y="544.2" style="font-family:'Liberation Serif',serif;font-size:17.6px;font-weight:normal" fill="#111" text-anchor="middle" >400</text>
<text x="528.1" y="544.2" style="font-family:'Liberation Serif',serif;font-size:17.6px;font-weight:normal" fill="#111" text-anchor="middle" >500</text>
<text x="568.6" y="544.2" style="font-family:'Liberation Serif',serif;font-size:17.6px;font-weight:normal" fill="#111" text-anchor="middle" >600</text>
<text x="609.0" y="544.2" style="font-family:'Liberation Serif',serif;font-size:17.6px;font-weight:normal" fill="#111" text-anchor="middle" >700</text>
<text x="649.5" y="544.2" style="font-family:'Liberation Serif',serif;font-size:17.6px;font-weight:normal" fill="#111" text-anchor="middle" >800</text>
<text x="566.0" y="562.9" style="font-family:'Liberation Serif',serif;font-size:19.8px;font-weight:normal" fill="#111" text-anchor="middle" >Wavelength (nm)</text>
<text transform="translate(445.3,467.4) rotate(-90)" style="font-family:'Liberation Serif',serif;font-size:20.3px" fill="#111" text-anchor="middle">PL Intensity (a.u.)</text>
<text x="502.6" y="419.6" style="font-family:'Liberation Serif',serif;font-size:19.3px" fill="#111">O<tspan style="font-size:15.5px">2</tspan></text>
<text x="614.0" y="409.8" style="font-family:'Liberation Serif',serif;font-size:19.3px" fill="#111">O<tspan style="font-size:15.5px">3</tspan></text>
<path d="M487.70,518.43 L488.91,511.61 L490.13,511.48 L491.34,505.92 L492.55,506.66 L493.77,504.36 L494.98,504.08 L496.19,509.37 L497.41,509.80 L498.62,501.86 L499.83,507.31 L501.05,507.48 L502.26,500.14 L503.48,505.09 L504.69,501.93 L505.90,505.92 L507.12,504.91 L508.33,510.13 L509.54,506.04 L510.76,504.18 L511.97,507.75 L513.18,505.94 L514.40,506.88 L515.61,512.95 L516.82,506.43 L518.04,508.06 L519.25,510.86 L520.46,513.47 L521.68,505.52 L522.89,509.31 L524.11,506.98 L525.32,505.48 L526.53,507.09 L527.75,505.14 L528.96,510.20 L530.17,506.35 L531.39,509.78 L532.60,505.12 L533.81,505.69 L535.03,513.18 L536.24,512.85 L537.45,512.10 L538.67,504.98 L539.88,510.07 L541.09,508.27 L542.31,511.41 L543.52,509.47 L544.73,510.64 L545.95,510.95 L547.16,508.68 L548.38,508.66 L549.59,505.58 L550.80,507.67 L552.02,505.28 L553.23,505.95 L554.44,504.63 L555.66,507.66 L556.87,512.48 L558.08,505.79 L559.30,504.77 L560.51,505.31 L561.72,508.49 L562.94,507.08 L564.15,511.85 L565.36,505.89 L566.58,508.33 L567.79,511.06 L569.00,513.15 L570.22,505.57 L571.43,504.24 L572.64,512.82 L573.86,505.73 L575.07,509.04 L576.29,511.10 L577.50,509.31 L578.71,504.35 L579.93,502.94 L581.14,510.44 L582.35,504.57 L583.57,509.59 L584.78,502.73 L585.99,506.02 L587.21,500.34 L588.42,498.97 L589.63,502.82 L590.85,497.29 L592.06,503.05 L593.27,504.46 L594.49,498.64 L595.70,501.85 L596.91,497.34 L598.13,490.82 L599.34,482.26 L600.56,474.58 L601.77,461.79 L602.98,446.43 L604.20,431.07 L605.41,422.88 L606.62,414.69 L607.84,406.50 L609.05,398.31 L610.26,406.50 L611.48,414.69 L612.69,422.88 L613.90,431.07 L615.12,442.34 L616.33,453.60 L617.54,464.86 L618.76,472.02 L619.97,477.14 L621.18,481.21 L622.40,489.85 L623.61,493.62 L624.83,488.41 L626.04,496.38 L627.25,492.90 L628.47,493.08 L629.68,497.63 L630.89,496.43 L632.11,495.45 L633.32,493.86 L634.53,493.91 L635.75,493.84 L636.96,492.85 L638.17,489.38 L639.39,493.12 L640.60,493.43 L641.81,490.26 L643.03,494.46 L644.24,493.45 L645.46,486.57 L646.67,490.52 L647.88,489.85 L649.10,494.57" stroke="#d02828" stroke-width="1.35" fill="none" stroke-linejoin="round" />
<path d="M487.70,519.66 L488.91,512.97 L490.13,510.16 L491.34,500.30 L492.55,475.67 L493.77,438.57 L494.98,412.60 L496.19,418.39 L497.41,451.02 L498.62,486.36 L499.83,495.38 L501.05,494.93 L502.26,497.81 L503.48,497.02 L504.69,506.44 L505.90,503.12 L507.12,499.41 L508.33,503.08 L509.54,505.05 L510.76,516.67 L511.97,513.27 L513.18,515.40 L514.40,512.56 L515.61,512.27 L516.82,517.63 L518.04,515.68 L519.25,514.75 L520.46,508.34 L521.68,509.45 L522.89,514.92 L524.11,508.50 L525.32,514.46 L526.53,509.56 L527.75,513.92 L528.96,514.77 L530.17,506.10 L531.39,512.07 L532.60,511.65 L533.81,503.96 L535.03,504.66 L536.24,509.87 L537.45,503.09 L538.67,506.76 L539.88,505.08 L541.09,509.24 L542.31,501.85 L543.52,503.88 L544.73,500.89 L545.95,501.23 L547.16,506.55 L548.38,505.60 L549.59,507.11 L550.80,506.94 L552.02,507.35 L553.23,504.74 L554.44,501.50 L555.66,506.87 L556.87,500.06 L558.08,502.96 L559.30,502.86 L560.51,497.65 L561.72,500.48 L562.94,501.66 L564.15,499.68 L565.36,497.15 L566.58,502.94 L567.79,493.77 L569.00,502.47 L570.22,495.13 L571.43,493.83 L572.64,501.33 L573.86,493.78 L575.07,497.70 L576.29,495.56 L577.50,500.90 L578.71,500.44 L579.93,499.05 L581.14,491.55 L582.35,498.69 L583.57,493.24 L584.78,491.47 L585.99,491.25 L587.21,496.86 L588.42,496.65 L589.63,494.63 L590.85,491.69 L592.06,497.52 L593.27,490.85 L594.49,489.84 L595.70,487.97 L596.91,494.20 L598.13,483.87 L599.34,490.40 L600.56,486.38 L601.77,483.08 L602.98,479.89 L604.20,485.16 L605.41,479.32 L606.62,482.68 L607.84,484.65 L609.05,484.35 L610.26,485.43 L611.48,486.12 L612.69,485.19 L613.90,479.77 L615.12,476.58 L616.33,484.30 L617.54,485.37 L618.76,476.88 L619.97,481.69 L621.18,483.39 L622.40,485.48 L623.61,482.55 L624.83,480.81 L626.04,484.82 L627.25,485.63 L628.47,489.60 L629.68,481.56 L630.89,489.59 L632.11,484.78 L633.32,481.08 L634.53,487.43 L635.75,481.28 L636.96,478.78 L638.17,481.43 L639.39,479.51 L640.60,485.61 L641.81,482.07 L643.03,484.39 L644.24,477.33 L645.46,482.18 L646.67,480.25 L647.88,474.63 L649.10,475.62" stroke="#1818e0" stroke-width="1.35" fill="none" stroke-linejoin="round" />
<defs>
<radialGradient id="ballR" cx="0.35" cy="0.35" r="0.7"><stop offset="0" stop-color="#ffb0b0"/><stop offset="0.35" stop-color="#f02020"/><stop offset="1" stop-color="#a00000"/></radialGradient>
<radialGradient id="ballK" cx="0.35" cy="0.35" r="0.7"><stop offset="0" stop-color="#c0c0c0"/><stop offset="0.35" stop-color="#202020"/><stop offset="1" stop-color="#000"/></radialGradient>
<radialGradient id="ledA" cx="0.45" cy="0.4" r="0.6"><stop offset="0" stop-color="#a0f0d0"/><stop offset="0.5" stop-color="#60e080"/><stop offset="1" stop-color="#30b030"/></radialGradient>
</defs>
<path d="M27.62,697.50 L28.40,697.50 L29.17,697.50 L29.94,697.50 L30.71,697.50 L31.49,697.50 L32.26,697.50 L33.03,697.50 L33.80,697.50 L34.58,697.50 L35.35,697.50 L36.12,697.50 L36.90,697.49 L37.67,697.49 L38.44,697.49 L39.21,697.49 L39.99,697.49 L40.76,697.49 L41.53,697.49 L42.31,697.49 L43.08,697.49 L43.85,697.49 L44.62,697.49 L45.40,697.49 L46.17,697.49 L46.94,697.49 L47.72,697.49 L48.49,697.49 L49.26,697.49 L50.03,697.49 L50.81,697.49 L51.58,697.49 L52.35,697.49 L53.12,697.49 L53.90,697.49 L54.67,697.49 L55.44,697.49 L56.22,697.49 L56.99,697.49 L57.76,697.49 L58.53,697.49 L59.31,697.49 L60.08,697.49 L60.85,697.49 L61.63,697.48 L62.40,697.48 L63.17,697.48 L63.94,697.48 L64.72,697.48 L65.49,697.48 L66.26,697.48 L67.04,697.48 L67.81,697.47 L68.58,697.47 L69.35,697.47 L70.13,697.47 L70.90,697.46 L71.67,697.46 L72.44,697.45 L73.22,697.45 L73.99,697.44 L74.76,697.44 L75.54,697.43 L76.31,697.42 L77.08,697.41 L77.85,697.40 L78.63,697.39 L79.40,697.38 L80.17,697.36 L80.95,697.35 L81.72,697.33 L82.49,697.32 L83.26,697.30 L84.04,697.28 L84.81,697.26 L85.58,697.24 L86.36,697.23 L87.13,697.21 L87.90,697.19 L88.67,697.17 L89.45,697.15 L90.22,697.14 L90.99,697.12 L91.76,697.11 L92.54,697.10 L93.31,697.09 L94.08,697.09 L94.86,697.09 L95.63,697.09 L96.40,697.09 L97.17,697.10 L97.95,697.11 L98.72,697.12 L99.49,697.13 L100.27,697.14 L101.04,697.15 L101.81,697.16 L102.58,697.18 L103.36,697.19 L104.13,697.21 L104.90,697.22 L105.68,697.24 L106.45,697.25 L107.22,697.27 L107.99,697.28 L108.77,697.29 L109.54,697.31 L110.31,697.32 L111.08,697.33 L111.86,697.35 L112.63,697.36 L113.40,697.37 L114.18,697.38 L114.95,697.39 L115.72,697.40 L116.49,697.41 L117.27,697.41 L118.04,697.42 L118.81,697.43 L119.59,697.43 L120.36,697.44 L121.13,697.44 L121.90,697.45 L122.68,697.45 L123.45,697.46 L124.22,697.46 L125.00,697.46 L125.77,697.47 L126.54,697.47 L127.31,697.47 L128.09,697.47 L128.86,697.47 L129.63,697.48 L130.40,697.48 L131.18,697.48 L131.95,697.48 L132.72,697.48 L133.50,697.48 L134.27,697.48 L135.04,697.48 L135.81,697.48 L136.59,697.48 L137.36,697.49 L138.13,697.49 L138.91,697.49 L139.68,697.49 L140.45,697.49 L141.22,697.49 L142.00,697.49 L142.77,697.49 L143.54,697.49 L144.32,697.49 L145.09,697.49 L145.86,697.49 L146.63,697.49 L147.41,697.49 L148.18,697.49 L148.95,697.49 L149.72,697.49 L150.50,697.49 L151.27,697.49 L152.04,697.49 L152.82,697.49 L153.59,697.49 L154.36,697.49 L155.13,697.49 L155.91,697.49 L156.68,697.49 L157.45,697.49 L158.23,697.49 L159.00,697.49 L159.77,697.49 L160.54,697.49 L161.32,697.49 L162.09,697.49 L162.86,697.49 L163.64,697.49 L164.41,697.49 L165.18,697.49 L165.95,697.49 L166.73,697.49 L167.50,697.49 L168.27,697.49 L169.04,697.49 L169.82,697.50 L170.59,697.50 L171.36,697.50 L172.14,697.50 L172.91,697.50 L173.68,697.50 L174.45,697.50 L175.23,697.50 L176.00,697.50 L176.77,697.50 L177.55,697.50 L178.32,697.50 L179.09,697.50 L179.86,697.50 L180.64,697.50 L181.41,697.50 L182.18,697.50 L182.96,697.50 L183.73,697.50 L184.50,697.50 L185.27,697.50 L186.05,697.50 L186.82,697.50 L187.59,697.50 L188.36,697.50 L189.14,697.50 L189.91,697.50 L190.68,697.50 L191.46,697.50 L192.23,697.50 L193.00,697.50 L193.77,697.50 L194.55,697.50" stroke="#2a2a2a" stroke-width="1.5" fill="none" stroke-linejoin="round" />
<path d="M27.62,697.49 L28.40,697.49 L29.17,697.49 L29.94,697.49 L30.71,697.49 L31.49,697.49 L32.26,697.49 L33.03,697.49 L33.80,697.49 L34.58,697.49 L35.35,697.49 L36.12,697.49 L36.90,697.49 L37.67,697.49 L38.44,697.49 L39.21,697.49 L39.99,697.49 L40.76,697.49 L41.53,697.48 L42.31,697.48 L43.08,697.48 L43.85,697.48 L44.62,697.48 L45.40,697.48 L46.17,697.48 L46.94,697.48 L47.72,697.48 L48.49,697.48 L49.26,697.48 L50.03,697.48 L50.81,697.48 L51.58,697.48 L52.35,697.48 L53.12,697.48 L53.90,697.48 L54.67,697.47 L55.44,697.47 L56.22,697.47 L56.99,697.47 L57.76,697.47 L58.53,697.47 L59.31,697.47 L60.08,697.47 L60.85,697.46 L61.63,697.46 L62.40,697.46 L63.17,697.46 L63.94,697.46 L64.72,697.45 L65.49,697.45 L66.26,697.45 L67.04,697.44 L67.81,697.44 L68.58,697.43 L69.35,697.42 L70.13,697.42 L70.90,697.41 L71.67,697.40 L72.44,697.39 L73.22,697.37 L73.99,697.36 L74.76,697.34 L75.54,697.32 L76.31,697.30 L77.08,697.28 L77.85,697.25 L78.63,697.22 L79.40,697.19 L80.17,697.16 L80.95,697.12 L81.72,697.09 L82.49,697.04 L83.26,697.00 L84.04,696.96 L84.81,696.91 L85.58,696.86 L86.36,696.81 L87.13,696.76 L87.90,696.72 L88.67,696.67 L89.45,696.63 L90.22,696.59 L90.99,696.55 L91.76,696.52 L92.54,696.50 L93.31,696.48 L94.08,696.47 L94.86,696.47 L95.63,696.48 L96.40,696.48 L97.17,696.50 L97.95,696.52 L98.72,696.54 L99.49,696.56 L100.27,696.59 L101.04,696.62 L101.81,696.66 L102.58,696.69 L103.36,696.73 L104.13,696.76 L104.90,696.80 L105.68,696.84 L106.45,696.88 L107.22,696.91 L107.99,696.95 L108.77,696.99 L109.54,697.02 L110.31,697.05 L111.08,697.09 L111.86,697.12 L112.63,697.15 L113.40,697.17 L114.18,697.20 L114.95,697.22 L115.72,697.25 L116.49,697.27 L117.27,697.29 L118.04,697.30 L118.81,697.32 L119.59,697.34 L120.36,697.35 L121.13,697.36 L121.90,697.37 L122.68,697.38 L123.45,697.39 L124.22,697.40 L125.00,697.41 L125.77,697.42 L126.54,697.42 L127.31,697.43 L128.09,697.43 L128.86,697.44 L129.63,697.44 L130.40,697.44 L131.18,697.45 L131.95,697.45 L132.72,697.45 L133.50,697.45 L134.27,697.46 L135.04,697.46 L135.81,697.46 L136.59,697.46 L137.36,697.46 L138.13,697.46 L138.91,697.47 L139.68,697.47 L140.45,697.47 L141.22,697.47 L142.00,697.47 L142.77,697.47 L143.54,697.47 L144.32,697.47 L145.09,697.47 L145.86,697.47 L146.63,697.48 L147.41,697.48 L148.18,697.48 L148.95,697.48 L149.72,697.48 L150.50,697.48 L151.27,697.48 L152.04,697.48 L152.82,697.48 L153.59,697.48 L154.36,697.48 L155.13,697.48 L155.91,697.48 L156.68,697.48 L157.45,697.48 L158.23,697.48 L159.00,697.48 L159.77,697.48 L160.54,697.48 L161.32,697.48 L162.09,697.48 L162.86,697.49 L163.64,697.49 L164.41,697.49 L165.18,697.49 L165.95,697.49 L166.73,697.49 L167.50,697.49 L168.27,697.49 L169.04,697.49 L169.82,697.49 L170.59,697.49 L171.36,697.49 L172.14,697.49 L172.91,697.49 L173.68,697.49 L174.45,697.49 L175.23,697.49 L176.00,697.49 L176.77,697.49 L177.55,697.49 L178.32,697.49 L179.09,697.49 L179.86,697.49 L180.64,697.49 L181.41,697.49 L182.18,697.49 L182.96,697.49 L183.73,697.49 L184.50,697.49 L185.27,697.49 L186.05,697.49 L186.82,697.49 L187.59,697.49 L188.36,697.49 L189.14,697.49 L189.91,697.49 L190.68,697.49 L191.46,697.49 L192.23,697.49 L193.00,697.49 L193.77,697.49 L194.55,697.49" stroke="#141414" stroke-width="1.5" fill="none" stroke-linejoin="round" />
<path d="M27.62,697.48 L28.40,697.48 L29.17,697.48 L29.94,697.48 L30.71,697.48 L31.49,697.48 L32.26,697.48 L33.03,697.48 L33.80,697.48 L34.58,697.48 L35.35,697.48 L36.12,697.48 L36.90,697.48 L37.67,697.48 L38.44,697.48 L39.21,697.48 L39.99,697.47 L40.76,697.47 L41.53,697.47 L42.31,697.47 L43.08,697.47 L43.85,697.47 L44.62,697.47 L45.40,697.47 L46.17,697.47 L46.94,697.47 L47.72,697.47 L48.49,697.46 L49.26,697.46 L50.03,697.46 L50.81,697.46 L51.58,697.46 L52.35,697.46 L53.12,697.46 L53.90,697.46 L54.67,697.45 L55.44,697.45 L56.22,697.45 L56.99,697.45 L57.76,697.45 L58.53,697.44 L59.31,697.44 L60.08,697.44 L60.85,697.44 L61.63,697.43 L62.40,697.43 L63.17,697.42 L63.94,697.42 L64.72,697.41 L65.49,697.41 L66.26,697.40 L67.04,697.39 L67.81,697.38 L68.58,697.37 L69.35,697.36 L70.13,697.35 L70.90,697.33 L71.67,697.32 L72.44,697.30 L73.22,697.27 L73.99,697.25 L74.76,697.22 L75.54,697.18 L76.31,697.14 L77.08,697.10 L77.85,697.06 L78.63,697.00 L79.40,696.95 L80.17,696.89 L80.95,696.82 L81.72,696.75 L82.49,696.68 L83.26,696.60 L84.04,696.52 L84.81,696.44 L85.58,696.35 L86.36,696.26 L87.13,696.18 L87.90,696.09 L88.67,696.01 L89.45,695.93 L90.22,695.86 L90.99,695.80 L91.76,695.74 L92.54,695.70 L93.31,695.67 L94.08,695.65 L94.86,695.65 L95.63,695.66 L96.40,695.67 L97.17,695.70 L97.95,695.73 L98.72,695.77 L99.49,695.81 L100.27,695.86 L101.04,695.92 L101.81,695.98 L102.58,696.04 L103.36,696.11 L104.13,696.17 L104.90,696.24 L105.68,696.31 L106.45,696.38 L107.22,696.44 L107.99,696.51 L108.77,696.57 L109.54,696.64 L110.31,696.70 L111.08,696.75 L111.86,696.81 L112.63,696.86 L113.40,696.91 L114.18,696.96 L114.95,697.00 L115.72,697.04 L116.49,697.08 L117.27,697.11 L118.04,697.15 L118.81,697.18 L119.59,697.20 L120.36,697.23 L121.13,697.25 L121.90,697.27 L122.68,697.29 L123.45,697.31 L124.22,697.32 L125.00,697.33 L125.77,697.35 L126.54,697.36 L127.31,697.37 L128.09,697.38 L128.86,697.38 L129.63,697.39 L130.40,697.40 L131.18,697.40 L131.95,697.41 L132.72,697.41 L133.50,697.42 L134.27,697.42 L135.04,697.42 L135.81,697.43 L136.59,697.43 L137.36,697.43 L138.13,697.44 L138.91,697.44 L139.68,697.44 L140.45,697.44 L141.22,697.44 L142.00,697.45 L142.77,697.45 L143.54,697.45 L144.32,697.45 L145.09,697.45 L145.86,697.45 L146.63,697.46 L147.41,697.46 L148.18,697.46 L148.95,697.46 L149.72,697.46 L150.50,697.46 L151.27,697.46 L152.04,697.46 L152.82,697.46 L153.59,697.46 L154.36,697.47 L155.13,697.47 L155.91,697.47 L156.68,697.47 L157.45,697.47 L158.23,697.47 L159.00,697.47 L159.77,697.47 L160.54,697.47 L161.32,697.47 L162.09,697.47 L162.86,697.47 L163.64,697.47 L164.41,697.47 L165.18,697.47 L165.95,697.48 L166.73,697.48 L167.50,697.48 L168.27,697.48 L169.04,697.48 L169.82,697.48 L170.59,697.48 L171.36,697.48 L172.14,697.48 L172.91,697.48 L173.68,697.48 L174.45,697.48 L175.23,697.48 L176.00,697.48 L176.77,697.48 L177.55,697.48 L178.32,697.48 L179.09,697.48 L179.86,697.48 L180.64,697.48 L181.41,697.48 L182.18,697.48 L182.96,697.48 L183.73,697.48 L184.50,697.48 L185.27,697.48 L186.05,697.48 L186.82,697.49 L187.59,697.49 L188.36,697.49 L189.14,697.49 L189.91,697.49 L190.68,697.49 L191.46,697.49 L192.23,697.49 L193.00,697.49 L193.77,697.49 L194.55,697.49" stroke="#1a3a1a" stroke-width="1.5" fill="none" stroke-linejoin="round" />
<path d="M27.62,697.47 L28.40,697.47 L29.17,697.47 L29.94,697.47 L30.71,697.47 L31.49,697.47 L32.26,697.47 L33.03,697.47 L33.80,697.47 L34.58,697.47 L35.35,697.47 L36.12,697.47 L36.90,697.46 L37.67,697.46 L38.44,697.46 L39.21,697.46 L39.99,697.46 L40.76,697.46 L41.53,697.46 L42.31,697.46 L43.08,697.46 L43.85,697.45 L44.62,697.45 L45.40,697.45 L46.17,697.45 L46.94,697.45 L47.72,697.45 L48.49,697.44 L49.26,697.44 L50.03,697.44 L50.81,697.44 L51.58,697.44 L52.35,697.44 L53.12,697.43 L53.90,697.43 L54.67,697.43 L55.44,697.42 L56.22,697.42 L56.99,697.42 L57.76,697.42 L58.53,697.41 L59.31,697.41 L60.08,697.40 L60.85,697.40 L61.63,697.39 L62.40,697.39 L63.17,697.38 L63.94,697.37 L64.72,697.37 L65.49,697.36 L66.26,697.35 L67.04,697.33 L67.81,697.32 L68.58,697.30 L69.35,697.29 L70.13,697.27 L70.90,697.24 L71.67,697.21 L72.44,697.18 L73.22,697.15 L73.99,697.10 L74.76,697.06 L75.54,697.01 L76.31,696.95 L77.08,696.88 L77.85,696.81 L78.63,696.73 L79.40,696.64 L80.17,696.55 L80.95,696.45 L81.72,696.34 L82.49,696.22 L83.26,696.10 L84.04,695.98 L84.81,695.84 L85.58,695.71 L86.36,695.58 L87.13,695.44 L87.90,695.31 L88.67,695.18 L89.45,695.06 L90.22,694.95 L90.99,694.85 L91.76,694.77 L92.54,694.70 L93.31,694.65 L94.08,694.63 L94.86,694.62 L95.63,694.63 L96.40,694.66 L97.17,694.69 L97.95,694.74 L98.72,694.81 L99.49,694.88 L100.27,694.96 L101.04,695.04 L101.81,695.14 L102.58,695.23 L103.36,695.33 L104.13,695.44 L104.90,695.54 L105.68,695.65 L106.45,695.75 L107.22,695.86 L107.99,695.96 L108.77,696.06 L109.54,696.16 L110.31,696.25 L111.08,696.34 L111.86,696.43 L112.63,696.51 L113.40,696.58 L114.18,696.66 L114.95,696.72 L115.72,696.79 L116.49,696.85 L117.27,696.90 L118.04,696.95 L118.81,697.00 L119.59,697.04 L120.36,697.08 L121.13,697.11 L121.90,697.14 L122.68,697.17 L123.45,697.20 L124.22,697.22 L125.00,697.24 L125.77,697.26 L126.54,697.28 L127.31,697.29 L128.09,697.31 L128.86,697.32 L129.63,697.33 L130.40,697.34 L131.18,697.35 L131.95,697.36 L132.72,697.37 L133.50,697.37 L134.27,697.38 L135.04,697.38 L135.81,697.39 L136.59,697.39 L137.36,697.40 L138.13,697.40 L138.91,697.40 L139.68,697.41 L140.45,697.41 L141.22,697.41 L142.00,697.42 L142.77,697.42 L143.54,697.42 L144.32,697.42 L145.09,697.43 L145.86,697.43 L146.63,697.43 L147.41,697.43 L148.18,697.43 L148.95,697.44 L149.72,697.44 L150.50,697.44 L151.27,697.44 L152.04,697.44 L152.82,697.44 L153.59,697.45 L154.36,697.45 L155.13,697.45 L155.91,697.45 L156.68,697.45 L157.45,697.45 L158.23,697.45 L159.00,697.45 L159.77,697.45 L160.54,697.46 L161.32,697.46 L162.09,697.46 L162.86,697.46 L163.64,697.46 L164.41,697.46 L165.18,697.46 L165.95,697.46 L166.73,697.46 L167.50,697.46 L168.27,697.46 L169.04,697.46 L169.82,697.47 L170.59,697.47 L171.36,697.47 L172.14,697.47 L172.91,697.47 L173.68,697.47 L174.45,697.47 L175.23,697.47 L176.00,697.47 L176.77,697.47 L177.55,697.47 L178.32,697.47 L179.09,697.47 L179.86,697.47 L180.64,697.47 L181.41,697.47 L182.18,697.47 L182.96,697.47 L183.73,697.48 L184.50,697.48 L185.27,697.48 L186.05,697.48 L186.82,697.48 L187.59,697.48 L188.36,697.48 L189.14,697.48 L189.91,697.48 L190.68,697.48 L191.46,697.48 L192.23,697.48 L193.00,697.48 L193.77,697.48 L194.55,697.48" stroke="#1e4c1e" stroke-width="1.5" fill="none" stroke-linejoin="round" />
<path d="M27.62,697.46 L28.40,697.46 L29.17,697.46 L29.94,697.46 L30.71,697.46 L31.49,697.45 L32.26,697.45 L33.03,697.45 L33.80,697.45 L34.58,697.45 L35.35,697.45 L36.12,697.45 L36.90,697.45 L37.67,697.44 L38.44,697.44 L39.21,697.44 L39.99,697.44 L40.76,697.44 L41.53,697.44 L42.31,697.44 L43.08,697.43 L43.85,697.43 L44.62,697.43 L45.40,697.43 L46.17,697.42 L46.94,697.42 L47.72,697.42 L48.49,697.42 L49.26,697.41 L50.03,697.41 L50.81,697.41 L51.58,697.41 L52.35,697.40 L53.12,697.40 L53.90,697.40 L54.67,697.39 L55.44,697.39 L56.22,697.38 L56.99,697.38 L57.76,697.37 L58.53,697.37 L59.31,697.36 L60.08,697.36 L60.85,697.35 L61.63,697.34 L62.40,697.33 L63.17,697.32 L63.94,697.31 L64.72,697.30 L65.49,697.29 L66.26,697.27 L67.04,697.25 L67.81,697.23 L68.58,697.21 L69.35,697.18 L70.13,697.15 L70.90,697.11 L71.67,697.07 L72.44,697.02 L73.22,696.97 L73.99,696.91 L74.76,696.84 L75.54,696.76 L76.31,696.67 L77.08,696.57 L77.85,696.46 L78.63,696.34 L79.40,696.21 L80.17,696.07 L80.95,695.92 L81.72,695.76 L82.49,695.58 L83.26,695.40 L84.04,695.21 L84.81,695.02 L85.58,694.82 L86.36,694.61 L87.13,694.41 L87.90,694.21 L88.67,694.02 L89.45,693.84 L90.22,693.67 L90.99,693.52 L91.76,693.40 L92.54,693.30 L93.31,693.23 L94.08,693.19 L94.86,693.18 L95.63,693.20 L96.40,693.24 L97.17,693.29 L97.95,693.37 L98.72,693.46 L99.49,693.56 L100.27,693.68 L101.04,693.81 L101.81,693.95 L102.58,694.10 L103.36,694.25 L104.13,694.41 L104.90,694.57 L105.68,694.72 L106.45,694.88 L107.22,695.04 L107.99,695.19 L108.77,695.34 L109.54,695.49 L110.31,695.63 L111.08,695.76 L111.86,695.89 L112.63,696.01 L113.40,696.12 L114.18,696.23 L114.95,696.33 L115.72,696.43 L116.49,696.52 L117.27,696.60 L118.04,696.67 L118.81,696.74 L119.59,696.81 L120.36,696.86 L121.13,696.92 L121.90,696.97 L122.68,697.01 L123.45,697.05 L124.22,697.08 L125.00,697.11 L125.77,697.14 L126.54,697.17 L127.31,697.19 L128.09,697.21 L128.86,697.23 L129.63,697.25 L130.40,697.26 L131.18,697.28 L131.95,697.29 L132.72,697.30 L133.50,697.31 L134.27,697.32 L135.04,697.32 L135.81,697.33 L136.59,697.34 L137.36,697.35 L138.13,697.35 L138.91,697.36 L139.68,697.36 L140.45,697.37 L141.22,697.37 L142.00,697.37 L142.77,697.38 L143.54,697.38 L144.32,697.39 L145.09,697.39 L145.86,697.39 L146.63,697.40 L147.41,697.40 L148.18,697.40 L148.95,697.40 L149.72,697.41 L150.50,697.41 L151.27,697.41 L152.04,697.41 L152.82,697.42 L153.59,697.42 L154.36,697.42 L155.13,697.42 L155.91,697.42 L156.68,697.43 L157.45,697.43 L158.23,697.43 L159.00,697.43 L159.77,697.43 L160.54,697.43 L161.32,697.43 L162.09,697.44 L162.86,697.44 L163.64,697.44 L164.41,697.44 L165.18,697.44 L165.95,697.44 L166.73,697.44 L167.50,697.44 L168.27,697.45 L169.04,697.45 L169.82,697.45 L170.59,697.45 L171.36,697.45 L172.14,697.45 L172.91,697.45 L173.68,697.45 L174.45,697.45 L175.23,697.45 L176.00,697.46 L176.77,697.46 L177.55,697.46 L178.32,697.46 L179.09,697.46 L179.86,697.46 L180.64,697.46 L181.41,697.46 L182.18,697.46 L182.96,697.46 L183.73,697.46 L184.50,697.46 L185.27,697.46 L186.05,697.46 L186.82,697.47 L187.59,697.47 L188.36,697.47 L189.14,697.47 L189.91,697.47 L190.68,697.47 L191.46,697.47 L192.23,697.47 L193.00,697.47 L193.77,697.47 L194.55,697.47" stroke="#246224" stroke-width="1.5" fill="none" stroke-linejoin="round" />
<path d="M27.62,697.44 L28.40,697.44 L29.17,697.44 L29.94,697.44 L30.71,697.44 L31.49,697.44 L32.26,697.43 L33.03,697.43 L33.80,697.43 L34.58,697.43 L35.35,697.43 L36.12,697.43 L36.90,697.42 L37.67,697.42 L38.44,697.42 L39.21,697.42 L39.99,697.41 L40.76,697.41 L41.53,697.41 L42.31,697.41 L43.08,697.40 L43.85,697.40 L44.62,697.40 L45.40,697.40 L46.17,697.39 L46.94,697.39 L47.72,697.39 L48.49,697.38 L49.26,697.38 L50.03,697.37 L50.81,697.37 L51.58,697.37 L52.35,697.36 L53.12,697.36 L53.90,697.35 L54.67,697.35 L55.44,697.34 L56.22,697.33 L56.99,697.33 L57.76,697.32 L58.53,697.31 L59.31,697.30 L60.08,697.29 L60.85,697.28 L61.63,697.27 L62.40,697.26 L63.17,697.25 L63.94,697.23 L64.72,697.21 L65.49,697.19 L66.26,697.17 L67.04,697.14 L67.81,697.12 L68.58,697.08 L69.35,697.04 L70.13,697.00 L70.90,696.94 L71.67,696.89 L72.44,696.82 L73.22,696.74 L73.99,696.65 L74.76,696.55 L75.54,696.44 L76.31,696.31 L77.08,696.17 L77.85,696.02 L78.63,695.85 L79.40,695.66 L80.17,695.46 L80.95,695.24 L81.72,695.01 L82.49,694.76 L83.26,694.50 L84.04,694.23 L84.81,693.95 L85.58,693.67 L86.36,693.38 L87.13,693.09 L87.90,692.81 L88.67,692.53 L89.45,692.27 L90.22,692.03 L90.99,691.82 L91.76,691.64 L92.54,691.50 L93.31,691.40 L94.08,691.34 L94.86,691.33 L95.63,691.36 L96.40,691.41 L97.17,691.49 L97.95,691.60 L98.72,691.73 L99.49,691.88 L100.27,692.05 L101.04,692.23 L101.81,692.43 L102.58,692.64 L103.36,692.86 L104.13,693.08 L104.90,693.31 L105.68,693.53 L106.45,693.76 L107.22,693.98 L107.99,694.20 L108.77,694.41 L109.54,694.62 L110.31,694.82 L111.08,695.01 L111.86,695.20 L112.63,695.37 L113.40,695.53 L114.18,695.69 L114.95,695.84 L115.72,695.97 L116.49,696.10 L117.27,696.21 L118.04,696.32 L118.81,696.42 L119.59,696.51 L120.36,696.59 L121.13,696.67 L121.90,696.74 L122.68,696.80 L123.45,696.85 L124.22,696.90 L125.00,696.95 L125.77,696.99 L126.54,697.03 L127.31,697.06 L128.09,697.09 L128.86,697.11 L129.63,697.14 L130.40,697.16 L131.18,697.18 L131.95,697.20 L132.72,697.21 L133.50,697.23 L134.27,697.24 L135.04,697.25 L135.81,697.26 L136.59,697.27 L137.36,697.28 L138.13,697.29 L138.91,697.30 L139.68,697.30 L140.45,697.31 L141.22,697.32 L142.00,697.32 L142.77,697.33 L143.54,697.33 L144.32,697.34 L145.09,697.34 L145.86,697.35 L146.63,697.35 L147.41,697.35 L148.18,697.36 L148.95,697.36 L149.72,697.37 L150.50,697.37 L151.27,697.37 L152.04,697.38 L152.82,697.38 L153.59,697.38 L154.36,697.39 L155.13,697.39 L155.91,697.39 L156.68,697.39 L157.45,697.40 L158.23,697.40 L159.00,697.40 L159.77,697.40 L160.54,697.40 L161.32,697.41 L162.09,697.41 L162.86,697.41 L163.64,697.41 L164.41,697.41 L165.18,697.42 L165.95,697.42 L166.73,697.42 L167.50,697.42 L168.27,697.42 L169.04,697.42 L169.82,697.43 L170.59,697.43 L171.36,697.43 L172.14,697.43 L172.91,697.43 L173.68,697.43 L174.45,697.43 L175.23,697.44 L176.00,697.44 L176.77,697.44 L177.55,697.44 L178.32,697.44 L179.09,697.44 L179.86,697.44 L180.64,697.44 L181.41,697.44 L182.18,697.44 L182.96,697.45 L183.73,697.45 L184.50,697.45 L185.27,697.45 L186.05,697.45 L186.82,697.45 L187.59,697.45 L188.36,697.45 L189.14,697.45 L189.91,697.45 L190.68,697.45 L191.46,697.45 L192.23,697.46 L193.00,697.46 L193.77,697.46 L194.55,697.46" stroke="#2a6e2a" stroke-width="1.5" fill="none" stroke-linejoin="round" />
<path d="M27.62,697.42 L28.40,697.42 L29.17,697.42 L29.94,697.41 L30.71,697.41 L31.49,697.41 L32.26,697.41 L33.03,697.41 L33.80,697.40 L34.58,697.40 L35.35,697.40 L36.12,697.40 L36.90,697.39 L37.67,697.39 L38.44,697.39 L39.21,697.38 L39.99,697.38 L40.76,697.38 L41.53,697.37 L42.31,697.37 L43.08,697.37 L43.85,697.36 L44.62,697.36 L45.40,697.35 L46.17,697.35 L46.94,697.34 L47.72,697.34 L48.49,697.33 L49.26,697.33 L50.03,697.32 L50.81,697.32 L51.58,697.31 L52.35,697.31 L53.12,697.30 L53.90,697.29 L54.67,697.28 L55.44,697.27 L56.22,697.27 L56.99,697.26 L57.76,697.25 L58.53,697.24 L59.31,697.22 L60.08,697.21 L60.85,697.20 L61.63,697.18 L62.40,697.16 L63.17,697.14 L63.94,697.12 L64.72,697.10 L65.49,697.07 L66.26,697.04 L67.04,697.00 L67.81,696.96 L68.58,696.91 L69.35,696.86 L70.13,696.80 L70.90,696.72 L71.67,696.64 L72.44,696.54 L73.22,696.44 L73.99,696.31 L74.76,696.17 L75.54,696.02 L76.31,695.84 L77.08,695.64 L77.85,695.43 L78.63,695.19 L79.40,694.93 L80.17,694.65 L80.95,694.34 L81.72,694.01 L82.49,693.67 L83.26,693.31 L84.04,692.93 L84.81,692.53 L85.58,692.13 L86.36,691.73 L87.13,691.32 L87.90,690.93 L88.67,690.54 L89.45,690.18 L90.22,689.85 L90.99,689.55 L91.76,689.30 L92.54,689.09 L93.31,688.95 L94.08,688.88 L94.86,688.86 L95.63,688.90 L96.40,688.97 L97.17,689.08 L97.95,689.23 L98.72,689.42 L99.49,689.63 L100.27,689.87 L101.04,690.13 L101.81,690.41 L102.58,690.70 L103.36,691.00 L104.13,691.31 L104.90,691.63 L105.68,691.95 L106.45,692.26 L107.22,692.57 L107.99,692.88 L108.77,693.18 L109.54,693.47 L110.31,693.75 L111.08,694.02 L111.86,694.28 L112.63,694.52 L113.40,694.75 L114.18,694.97 L114.95,695.17 L115.72,695.36 L116.49,695.54 L117.27,695.70 L118.04,695.85 L118.81,695.99 L119.59,696.11 L120.36,696.23 L121.13,696.34 L121.90,696.43 L122.68,696.52 L123.45,696.60 L124.22,696.67 L125.00,696.73 L125.77,696.79 L126.54,696.84 L127.31,696.88 L128.09,696.92 L128.86,696.96 L129.63,696.99 L130.40,697.02 L131.18,697.05 L131.95,697.07 L132.72,697.10 L133.50,697.12 L134.27,697.13 L135.04,697.15 L135.81,697.16 L136.59,697.18 L137.36,697.19 L138.13,697.20 L138.91,697.21 L139.68,697.22 L140.45,697.23 L141.22,697.24 L142.00,697.25 L142.77,697.26 L143.54,697.26 L144.32,697.27 L145.09,697.28 L145.86,697.28 L146.63,697.29 L147.41,697.30 L148.18,697.30 L148.95,697.31 L149.72,697.31 L150.50,697.32 L151.27,697.32 L152.04,697.33 L152.82,697.33 L153.59,697.34 L154.36,697.34 L155.13,697.34 L155.91,697.35 L156.68,697.35 L157.45,697.35 L158.23,697.36 L159.00,697.36 L159.77,697.36 L160.54,697.37 L161.32,697.37 L162.09,697.37 L162.86,697.38 L163.64,697.38 L164.41,697.38 L165.18,697.38 L165.95,697.39 L166.73,697.39 L167.50,697.39 L168.27,697.39 L169.04,697.39 L169.82,697.40 L170.59,697.40 L171.36,697.40 L172.14,697.40 L172.91,697.40 L173.68,697.41 L174.45,697.41 L175.23,697.41 L176.00,697.41 L176.77,697.41 L177.55,697.41 L178.32,697.42 L179.09,697.42 L179.86,697.42 L180.64,697.42 L181.41,697.42 L182.18,697.42 L182.96,697.42 L183.73,697.43 L184.50,697.43 L185.27,697.43 L186.05,697.43 L186.82,697.43 L187.59,697.43 L188.36,697.43 L189.14,697.43 L189.91,697.43 L190.68,697.44 L191.46,697.44 L192.23,697.44 L193.00,697.44 L193.77,697.44 L194.55,697.44" stroke="#3aa02a" stroke-width="1.9" fill="none" stroke-linejoin="round" />
<path d="M27.62,697.39 L28.40,697.39 L29.17,697.39 L29.94,697.39 L30.71,697.38 L31.49,697.38 L32.26,697.38 L33.03,697.38 L33.80,697.37 L34.58,697.37 L35.35,697.37 L36.12,697.36 L36.90,697.36 L37.67,697.36 L38.44,697.35 L39.21,697.35 L39.99,697.34 L40.76,697.34 L41.53,697.33 L42.31,697.33 L43.08,697.33 L43.85,697.32 L44.62,697.31 L45.40,697.31 L46.17,697.30 L46.94,697.30 L47.72,697.29 L48.49,697.28 L49.26,697.28 L50.03,697.27 L50.81,697.26 L51.58,697.25 L52.35,697.24 L53.12,697.24 L53.90,697.23 L54.67,697.22 L55.44,697.21 L56.22,697.19 L56.99,697.18 L57.76,697.17 L58.53,697.15 L59.31,697.14 L60.08,697.12 L60.85,697.10 L61.63,697.08 L62.40,697.06 L63.17,697.03 L63.94,697.01 L64.72,696.97 L65.49,696.94 L66.26,696.90 L67.04,696.85 L67.81,696.79 L68.58,696.73 L69.35,696.66 L70.13,696.58 L70.90,696.48 L71.67,696.37 L72.44,696.25 L73.22,696.11 L73.99,695.94 L74.76,695.76 L75.54,695.56 L76.31,695.33 L77.08,695.07 L77.85,694.79 L78.63,694.47 L79.40,694.13 L80.17,693.76 L80.95,693.36 L81.72,692.94 L82.49,692.48 L83.26,692.01 L84.04,691.51 L84.81,691.00 L85.58,690.47 L86.36,689.94 L87.13,689.41 L87.90,688.89 L88.67,688.39 L89.45,687.91 L90.22,687.48 L90.99,687.09 L91.76,686.76 L92.54,686.49 L93.31,686.31 L94.08,686.21 L94.86,686.19 L95.63,686.23 L96.40,686.33 L97.17,686.48 L97.95,686.68 L98.72,686.91 L99.49,687.19 L100.27,687.50 L101.04,687.85 L101.81,688.21 L102.58,688.59 L103.36,688.99 L104.13,689.40 L104.90,689.81 L105.68,690.23 L106.45,690.64 L107.22,691.05 L107.99,691.45 L108.77,691.84 L109.54,692.22 L110.31,692.59 L111.08,692.94 L111.86,693.28 L112.63,693.60 L113.40,693.90 L114.18,694.18 L114.95,694.45 L115.72,694.70 L116.49,694.93 L117.27,695.14 L118.04,695.34 L118.81,695.52 L119.59,695.69 L120.36,695.84 L121.13,695.97 L121.90,696.10 L122.68,696.21 L123.45,696.32 L124.22,696.41 L125.00,696.49 L125.77,696.57 L126.54,696.63 L127.31,696.69 L128.09,696.75 L128.86,696.79 L129.63,696.84 L130.40,696.88 L131.18,696.91 L131.95,696.94 L132.72,696.97 L133.50,697.00 L134.27,697.02 L135.04,697.04 L135.81,697.06 L136.59,697.08 L137.36,697.09 L138.13,697.11 L138.91,697.12 L139.68,697.14 L140.45,697.15 L141.22,697.16 L142.00,697.17 L142.77,697.18 L143.54,697.19 L144.32,697.20 L145.09,697.21 L145.86,697.22 L146.63,697.23 L147.41,697.23 L148.18,697.24 L148.95,697.25 L149.72,697.25 L150.50,697.26 L151.27,697.27 L152.04,697.27 L152.82,697.28 L153.59,697.28 L154.36,697.29 L155.13,697.29 L155.91,697.30 L156.68,697.30 L157.45,697.31 L158.23,697.31 L159.00,697.32 L159.77,697.32 L160.54,697.33 L161.32,697.33 L162.09,697.33 L162.86,697.34 L163.64,697.34 L164.41,697.34 L165.18,697.35 L165.95,697.35 L166.73,697.35 L167.50,697.36 L168.27,697.36 L169.04,697.36 L169.82,697.36 L170.59,697.37 L171.36,697.37 L172.14,697.37 L172.91,697.37 L173.68,697.38 L174.45,697.38 L175.23,697.38 L176.00,697.38 L176.77,697.39 L177.55,697.39 L178.32,697.39 L179.09,697.39 L179.86,697.39 L180.64,697.40 L181.41,697.40 L182.18,697.40 L182.96,697.40 L183.73,697.40 L184.50,697.40 L185.27,697.41 L186.05,697.41 L186.82,697.41 L187.59,697.41 L188.36,697.41 L189.14,697.41 L189.91,697.41 L190.68,697.42 L191.46,697.42 L192.23,697.42 L193.00,697.42 L193.77,697.42 L194.55,697.42" stroke="#40b830" stroke-width="1.9" fill="none" stroke-linejoin="round" />
<path d="M27.62,697.34 L28.40,697.33 L29.17,697.33 L29.94,697.33 L30.71,697.32 L31.49,697.32 L32.26,697.31 L33.03,697.31 L33.80,697.30 L34.58,697.30 L35.35,697.29 L36.12,697.29 L36.90,697.28 L37.67,697.28 L38.44,697.27 L39.21,697.26 L39.99,697.26 L40.76,697.25 L41.53,697.24 L42.31,697.24 L43.08,697.23 L43.85,697.22 L44.62,697.21 L45.40,697.20 L46.17,697.20 L46.94,697.19 L47.72,697.18 L48.49,697.17 L49.26,697.16 L50.03,697.14 L50.81,697.13 L51.58,697.12 L52.35,697.11 L53.12,697.09 L53.90,697.08 L54.67,697.06 L55.44,697.04 L56.22,697.03 L56.99,697.01 L57.76,696.99 L58.53,696.97 L59.31,696.94 L60.08,696.92 L60.85,696.89 L61.63,696.85 L62.40,696.82 L63.17,696.78 L63.94,696.74 L64.72,696.69 L65.49,696.63 L66.26,696.57 L67.04,696.49 L67.81,696.41 L68.58,696.31 L69.35,696.20 L70.13,696.07 L70.90,695.93 L71.67,695.76 L72.44,695.57 L73.22,695.35 L73.99,695.10 L74.76,694.81 L75.54,694.50 L76.31,694.14 L77.08,693.74 L77.85,693.31 L78.63,692.82 L79.40,692.30 L80.17,691.72 L80.95,691.11 L81.72,690.45 L82.49,689.75 L83.26,689.01 L84.04,688.24 L84.81,687.45 L85.58,686.64 L86.36,685.82 L87.13,685.00 L87.90,684.20 L88.67,683.42 L89.45,682.69 L90.22,682.01 L90.99,681.41 L91.76,680.90 L92.54,680.49 L93.31,680.20 L94.08,680.05 L94.86,680.02 L95.63,680.09 L96.40,680.24 L97.17,680.47 L97.95,680.77 L98.72,681.14 L99.49,681.57 L100.27,682.05 L101.04,682.58 L101.81,683.14 L102.58,683.74 L103.36,684.35 L104.13,684.98 L104.90,685.62 L105.68,686.26 L106.45,686.90 L107.22,687.53 L107.99,688.15 L108.77,688.76 L109.54,689.34 L110.31,689.91 L111.08,690.45 L111.86,690.97 L112.63,691.47 L113.40,691.93 L114.18,692.37 L114.95,692.78 L115.72,693.17 L116.49,693.52 L117.27,693.85 L118.04,694.16 L118.81,694.44 L119.59,694.70 L120.36,694.93 L121.13,695.14 L121.90,695.34 L122.68,695.51 L123.45,695.67 L124.22,695.81 L125.00,695.94 L125.77,696.06 L126.54,696.16 L127.31,696.25 L128.09,696.33 L128.86,696.41 L129.63,696.48 L130.40,696.54 L131.18,696.59 L131.95,696.64 L132.72,696.68 L133.50,696.72 L134.27,696.76 L135.04,696.79 L135.81,696.82 L136.59,696.85 L137.36,696.87 L138.13,696.90 L138.91,696.92 L139.68,696.94 L140.45,696.96 L141.22,696.98 L142.00,696.99 L142.77,697.01 L143.54,697.02 L144.32,697.04 L145.09,697.05 L145.86,697.06 L146.63,697.08 L147.41,697.09 L148.18,697.10 L148.95,697.11 L149.72,697.12 L150.50,697.13 L151.27,697.14 L152.04,697.15 L152.82,697.16 L153.59,697.17 L154.36,697.17 L155.13,697.18 L155.91,697.19 L156.68,697.20 L157.45,697.20 L158.23,697.21 L159.00,697.22 L159.77,697.22 L160.54,697.23 L161.32,697.24 L162.09,697.24 L162.86,697.25 L163.64,697.25 L164.41,697.26 L165.18,697.26 L165.95,697.27 L166.73,697.27 L167.50,697.28 L168.27,697.28 L169.04,697.29 L169.82,697.29 L170.59,697.29 L171.36,697.30 L172.14,697.30 L172.91,697.31 L173.68,697.31 L174.45,697.31 L175.23,697.32 L176.00,697.32 L176.77,697.32 L177.55,697.33 L178.32,697.33 L179.09,697.33 L179.86,697.34 L180.64,697.34 L181.41,697.34 L182.18,697.34 L182.96,697.35 L183.73,697.35 L184.50,697.35 L185.27,697.35 L186.05,697.36 L186.82,697.36 L187.59,697.36 L188.36,697.36 L189.14,697.37 L189.91,697.37 L190.68,697.37 L191.46,697.37 L192.23,697.37 L193.00,697.38 L193.77,697.38 L194.55,697.38" stroke="#46c834" stroke-width="1.9" fill="none" stroke-linejoin="round" />
<path d="M27.62,697.22 L28.40,697.22 L29.17,697.21 L29.94,697.20 L30.71,697.20 L31.49,697.19 L32.26,697.18 L33.03,697.17 L33.80,697.16 L34.58,697.16 L35.35,697.15 L36.12,697.14 L36.90,697.13 L37.67,697.12 L38.44,697.11 L39.21,697.10 L39.99,697.09 L40.76,697.08 L41.53,697.06 L42.31,697.05 L43.08,697.04 L43.85,697.03 L44.62,697.01 L45.40,697.00 L46.17,696.98 L46.94,696.96 L47.72,696.95 L48.49,696.93 L49.26,696.91 L50.03,696.89 L50.81,696.87 L51.58,696.85 L52.35,696.83 L53.12,696.80 L53.90,696.78 L54.67,696.75 L55.44,696.72 L56.22,696.69 L56.99,696.66 L57.76,696.63 L58.53,696.59 L59.31,696.55 L60.08,696.50 L60.85,696.45 L61.63,696.40 L62.40,696.34 L63.17,696.27 L63.94,696.20 L64.72,696.11 L65.49,696.02 L66.26,695.91 L67.04,695.78 L67.81,695.64 L68.58,695.47 L69.35,695.29 L70.13,695.07 L70.90,694.82 L71.67,694.53 L72.44,694.20 L73.22,693.83 L73.99,693.40 L74.76,692.92 L75.54,692.38 L76.31,691.77 L77.08,691.09 L77.85,690.34 L78.63,689.52 L79.40,688.62 L80.17,687.64 L80.95,686.59 L81.72,685.47 L82.49,684.27 L83.26,683.02 L84.04,681.71 L84.81,680.36 L85.58,678.97 L86.36,677.57 L87.13,676.18 L87.90,674.81 L88.67,673.48 L89.45,672.23 L90.22,671.08 L90.99,670.05 L91.76,669.17 L92.54,668.48 L93.31,667.99 L94.08,667.73 L94.86,667.68 L95.63,667.80 L96.40,668.06 L97.17,668.45 L97.95,668.96 L98.72,669.59 L99.49,670.33 L100.27,671.15 L101.04,672.05 L101.81,673.01 L102.58,674.02 L103.36,675.07 L104.13,676.15 L104.90,677.24 L105.68,678.33 L106.45,679.42 L107.22,680.50 L107.99,681.55 L108.77,682.59 L109.54,683.59 L110.31,684.55 L111.08,685.48 L111.86,686.37 L112.63,687.21 L113.40,688.00 L114.18,688.75 L114.95,689.45 L115.72,690.11 L116.49,690.72 L117.27,691.28 L118.04,691.80 L118.81,692.28 L119.59,692.72 L120.36,693.11 L121.13,693.48 L121.90,693.81 L122.68,694.11 L123.45,694.38 L124.22,694.62 L125.00,694.84 L125.77,695.04 L126.54,695.21 L127.31,695.37 L128.09,695.51 L128.86,695.64 L129.63,695.75 L130.40,695.86 L131.18,695.95 L131.95,696.03 L132.72,696.11 L133.50,696.17 L134.27,696.23 L135.04,696.29 L135.81,696.34 L136.59,696.39 L137.36,696.43 L138.13,696.47 L138.91,696.51 L139.68,696.54 L140.45,696.58 L141.22,696.61 L142.00,696.64 L142.77,696.66 L143.54,696.69 L144.32,696.71 L145.09,696.74 L145.86,696.76 L146.63,696.78 L147.41,696.80 L148.18,696.82 L148.95,696.84 L149.72,696.85 L150.50,696.87 L151.27,696.89 L152.04,696.90 L152.82,696.92 L153.59,696.93 L154.36,696.94 L155.13,696.96 L155.91,696.97 L156.68,696.98 L157.45,697.00 L158.23,697.01 L159.00,697.02 L159.77,697.03 L160.54,697.04 L161.32,697.05 L162.09,697.06 L162.86,697.07 L163.64,697.08 L164.41,697.09 L165.18,697.10 L165.95,697.10 L166.73,697.11 L167.50,697.12 L168.27,697.13 L169.04,697.14 L169.82,697.14 L170.59,697.15 L171.36,697.16 L172.14,697.16 L172.91,697.17 L173.68,697.18 L174.45,697.18 L175.23,697.19 L176.00,697.19 L176.77,697.20 L177.55,697.20 L178.32,697.21 L179.09,697.21 L179.86,697.22 L180.64,697.22 L181.41,697.23 L182.18,697.23 L182.96,697.24 L183.73,697.24 L184.50,697.25 L185.27,697.25 L186.05,697.26 L186.82,697.26 L187.59,697.26 L188.36,697.27 L189.14,697.27 L189.91,697.27 L190.68,697.28 L191.46,697.28 L192.23,697.28 L193.00,697.29 L193.77,697.29 L194.55,697.29" stroke="#4cd838" stroke-width="1.9" fill="none" stroke-linejoin="round" />
<path d="M27.62,697.10 L28.40,697.09 L29.17,697.08 L29.94,697.07 L30.71,697.06 L31.49,697.05 L32.26,697.04 L33.03,697.03 L33.80,697.01 L34.58,697.00 L35.35,696.99 L36.12,696.98 L36.90,696.96 L37.67,696.95 L38.44,696.93 L39.21,696.92 L39.99,696.90 L40.76,696.89 L41.53,696.87 L42.31,696.85 L43.08,696.83 L43.85,696.81 L44.62,696.79 L45.40,696.77 L46.17,696.75 L46.94,696.72 L47.72,696.70 L48.49,696.67 L49.26,696.65 L50.03,696.62 L50.81,696.59 L51.58,696.56 L52.35,696.53 L53.12,696.49 L53.90,696.45 L54.67,696.42 L55.44,696.37 L56.22,696.33 L56.99,696.28 L57.76,696.23 L58.53,696.18 L59.31,696.12 L60.08,696.05 L60.85,695.98 L61.63,695.91 L62.40,695.82 L63.17,695.72 L63.94,695.61 L64.72,695.49 L65.49,695.35 L66.26,695.20 L67.04,695.01 L67.81,694.81 L68.58,694.57 L69.35,694.29 L70.13,693.98 L70.90,693.61 L71.67,693.20 L72.44,692.72 L73.22,692.18 L73.99,691.56 L74.76,690.86 L75.54,690.08 L76.31,689.20 L77.08,688.22 L77.85,687.14 L78.63,685.94 L79.40,684.64 L80.17,683.23 L80.95,681.70 L81.72,680.07 L82.49,678.34 L83.26,676.53 L84.04,674.63 L84.81,672.67 L85.58,670.67 L86.36,668.64 L87.13,666.62 L87.90,664.64 L88.67,662.72 L89.45,660.90 L90.22,659.23 L90.99,657.74 L91.76,656.48 L92.54,655.47 L93.31,654.77 L94.08,654.38 L94.86,654.31 L95.63,654.49 L96.40,654.86 L97.17,655.42 L97.95,656.17 L98.72,657.08 L99.49,658.14 L100.27,659.34 L101.04,660.64 L101.81,662.03 L102.58,663.50 L103.36,665.02 L104.13,666.57 L104.90,668.15 L105.68,669.74 L106.45,671.31 L107.22,672.87 L107.99,674.41 L108.77,675.90 L109.54,677.35 L110.31,678.75 L111.08,680.09 L111.86,681.38 L112.63,682.59 L113.40,683.74 L114.18,684.83 L114.95,685.85 L115.72,686.79 L116.49,687.68 L117.27,688.49 L118.04,689.24 L118.81,689.94 L119.59,690.57 L120.36,691.15 L121.13,691.68 L121.90,692.15 L122.68,692.59 L123.45,692.98 L124.22,693.33 L125.00,693.65 L125.77,693.93 L126.54,694.19 L127.31,694.42 L128.09,694.62 L128.86,694.80 L129.63,694.97 L130.40,695.12 L131.18,695.25 L131.95,695.37 L132.72,695.48 L133.50,695.58 L134.27,695.67 L135.04,695.75 L135.81,695.82 L136.59,695.89 L137.36,695.95 L138.13,696.01 L138.91,696.07 L139.68,696.12 L140.45,696.16 L141.22,696.21 L142.00,696.25 L142.77,696.29 L143.54,696.32 L144.32,696.36 L145.09,696.39 L145.86,696.42 L146.63,696.45 L147.41,696.48 L148.18,696.51 L148.95,696.54 L149.72,696.56 L150.50,696.59 L151.27,696.61 L152.04,696.63 L152.82,696.65 L153.59,696.68 L154.36,696.70 L155.13,696.71 L155.91,696.73 L156.68,696.75 L157.45,696.77 L158.23,696.79 L159.00,696.80 L159.77,696.82 L160.54,696.83 L161.32,696.85 L162.09,696.86 L162.86,696.88 L163.64,696.89 L164.41,696.90 L165.18,696.91 L165.95,696.93 L166.73,696.94 L167.50,696.95 L168.27,696.96 L169.04,696.97 L169.82,696.98 L170.59,696.99 L171.36,697.00 L172.14,697.01 L172.91,697.02 L173.68,697.03 L174.45,697.04 L175.23,697.05 L176.00,697.06 L176.77,697.06 L177.55,697.07 L178.32,697.08 L179.09,697.09 L179.86,697.09 L180.64,697.10 L181.41,697.11 L182.18,697.11 L182.96,697.12 L183.73,697.13 L184.50,697.13 L185.27,697.14 L186.05,697.15 L186.82,697.15 L187.59,697.16 L188.36,697.16 L189.14,697.17 L189.91,697.17 L190.68,697.18 L191.46,697.18 L192.23,697.19 L193.00,697.19 L193.77,697.20 L194.55,697.20" stroke="#52e23a" stroke-width="1.9" fill="none" stroke-linejoin="round" />
<path d="M27.62,696.88 L28.40,696.86 L29.17,696.85 L29.94,696.83 L30.71,696.82 L31.49,696.80 L32.26,696.78 L33.03,696.77 L33.80,696.75 L34.58,696.73 L35.35,696.71 L36.12,696.69 L36.90,696.67 L37.67,696.65 L38.44,696.62 L39.21,696.60 L39.99,696.58 L40.76,696.55 L41.53,696.52 L42.31,696.50 L43.08,696.47 L43.85,696.44 L44.62,696.40 L45.40,696.37 L46.17,696.34 L46.94,696.30 L47.72,696.26 L48.49,696.22 L49.26,696.18 L50.03,696.14 L50.81,696.09 L51.58,696.04 L52.35,695.99 L53.12,695.94 L53.90,695.88 L54.67,695.82 L55.44,695.76 L56.22,695.69 L56.99,695.62 L57.76,695.54 L58.53,695.45 L59.31,695.36 L60.08,695.26 L60.85,695.15 L61.63,695.03 L62.40,694.90 L63.17,694.75 L63.94,694.58 L64.72,694.39 L65.49,694.18 L66.26,693.93 L67.04,693.65 L67.81,693.33 L68.58,692.96 L69.35,692.54 L70.13,692.05 L70.90,691.49 L71.67,690.84 L72.44,690.10 L73.22,689.26 L73.99,688.31 L74.76,687.23 L75.54,686.02 L76.31,684.65 L77.08,683.14 L77.85,681.46 L78.63,679.62 L79.40,677.60 L80.17,675.41 L80.95,673.05 L81.72,670.53 L82.49,667.85 L83.26,665.04 L84.04,662.10 L84.81,659.07 L85.58,655.97 L86.36,652.84 L87.13,649.71 L87.90,646.64 L88.67,643.67 L89.45,640.86 L90.22,638.27 L90.99,635.97 L91.76,634.01 L92.54,632.46 L93.31,631.36 L94.08,630.76 L94.86,630.67 L95.63,630.93 L96.40,631.51 L97.17,632.38 L97.95,633.54 L98.72,634.95 L99.49,636.59 L100.27,638.44 L101.04,640.45 L101.81,642.61 L102.58,644.88 L103.36,647.23 L104.13,649.64 L104.90,652.08 L105.68,654.53 L106.45,656.97 L107.22,659.39 L107.99,661.76 L108.77,664.07 L109.54,666.32 L110.31,668.48 L111.08,670.56 L111.86,672.55 L112.63,674.43 L113.40,676.21 L114.18,677.89 L114.95,679.46 L115.72,680.93 L116.49,682.30 L117.27,683.56 L118.04,684.72 L118.81,685.80 L119.59,686.78 L120.36,687.67 L121.13,688.49 L121.90,689.23 L122.68,689.90 L123.45,690.50 L124.22,691.05 L125.00,691.54 L125.77,691.98 L126.54,692.37 L127.31,692.73 L128.09,693.04 L128.86,693.33 L129.63,693.58 L130.40,693.81 L131.18,694.02 L131.95,694.21 L132.72,694.37 L133.50,694.53 L134.27,694.66 L135.04,694.79 L135.81,694.90 L136.59,695.01 L137.36,695.11 L138.13,695.20 L138.91,695.28 L139.68,695.36 L140.45,695.43 L141.22,695.50 L142.00,695.56 L142.77,695.62 L143.54,695.68 L144.32,695.73 L145.09,695.79 L145.86,695.83 L146.63,695.88 L147.41,695.93 L148.18,695.97 L148.95,696.01 L149.72,696.05 L150.50,696.09 L151.27,696.12 L152.04,696.16 L152.82,696.19 L153.59,696.22 L154.36,696.25 L155.13,696.28 L155.91,696.31 L156.68,696.34 L157.45,696.37 L158.23,696.39 L159.00,696.42 L159.77,696.44 L160.54,696.47 L161.32,696.49 L162.09,696.51 L162.86,696.53 L163.64,696.55 L164.41,696.57 L165.18,696.59 L165.95,696.61 L166.73,696.63 L167.50,696.65 L168.27,696.67 L169.04,696.68 L169.82,696.70 L170.59,696.71 L171.36,696.73 L172.14,696.74 L172.91,696.76 L173.68,696.77 L174.45,696.79 L175.23,696.80 L176.00,696.81 L176.77,696.82 L177.55,696.84 L178.32,696.85 L179.09,696.86 L179.86,696.87 L180.64,696.88 L181.41,696.89 L182.18,696.90 L182.96,696.91 L183.73,696.92 L184.50,696.93 L185.27,696.94 L186.05,696.95 L186.82,696.96 L187.59,696.97 L188.36,696.98 L189.14,696.99 L189.91,696.99 L190.68,697.00 L191.46,697.01 L192.23,697.02 L193.00,697.02 L193.77,697.03 L194.55,697.04" stroke="#56ea3c" stroke-width="1.9" fill="none" stroke-linejoin="round" />
<path d="M27.62,696.40 L28.40,696.38 L29.17,696.35 L29.94,696.33 L30.71,696.30 L31.49,696.27 L32.26,696.24 L33.03,696.21 L33.80,696.18 L34.58,696.14 L35.35,696.11 L36.12,696.07 L36.90,696.04 L37.67,696.00 L38.44,695.96 L39.21,695.92 L39.99,695.87 L40.76,695.83 L41.53,695.78 L42.31,695.73 L43.08,695.68 L43.85,695.63 L44.62,695.57 L45.40,695.51 L46.17,695.45 L46.94,695.39 L47.72,695.32 L48.49,695.25 L49.26,695.18 L50.03,695.10 L50.81,695.02 L51.58,694.94 L52.35,694.85 L53.12,694.75 L53.90,694.65 L54.67,694.55 L55.44,694.44 L56.22,694.32 L56.99,694.19 L57.76,694.05 L58.53,693.90 L59.31,693.74 L60.08,693.56 L60.85,693.37 L61.63,693.16 L62.40,692.92 L63.17,692.66 L63.94,692.37 L64.72,692.03 L65.49,691.65 L66.26,691.22 L67.04,690.73 L67.81,690.16 L68.58,689.51 L69.35,688.76 L70.13,687.90 L70.90,686.91 L71.67,685.78 L72.44,684.48 L73.22,683.01 L73.99,681.33 L74.76,679.43 L75.54,677.29 L76.31,674.89 L77.08,672.22 L77.85,669.27 L78.63,666.02 L79.40,662.47 L80.17,658.62 L80.95,654.47 L81.72,650.03 L82.49,645.32 L83.26,640.37 L84.04,635.20 L84.81,629.87 L85.58,624.41 L86.36,618.90 L87.13,613.40 L87.90,607.99 L88.67,602.76 L89.45,597.81 L90.22,593.26 L90.99,589.20 L91.76,585.76 L92.54,583.03 L93.31,581.10 L94.08,580.04 L94.86,579.87 L95.63,580.34 L96.40,581.35 L97.17,582.89 L97.95,584.92 L98.72,587.41 L99.49,590.30 L100.27,593.55 L101.04,597.10 L101.81,600.89 L102.58,604.88 L103.36,609.02 L104.13,613.26 L104.90,617.56 L105.68,621.88 L106.45,626.17 L107.22,630.42 L107.99,634.60 L108.77,638.67 L109.54,642.62 L110.31,646.43 L111.08,650.09 L111.86,653.58 L112.63,656.90 L113.40,660.03 L114.18,662.99 L114.95,665.75 L115.72,668.34 L116.49,670.74 L117.27,672.96 L118.04,675.01 L118.81,676.90 L119.59,678.63 L120.36,680.20 L121.13,681.64 L121.90,682.94 L122.68,684.12 L123.45,685.18 L124.22,686.14 L125.00,687.00 L125.77,687.78 L126.54,688.47 L127.31,689.10 L128.09,689.66 L128.86,690.16 L129.63,690.61 L130.40,691.01 L131.18,691.37 L131.95,691.70 L132.72,692.00 L133.50,692.26 L134.27,692.51 L135.04,692.73 L135.81,692.93 L136.59,693.12 L137.36,693.29 L138.13,693.45 L138.91,693.59 L139.68,693.73 L140.45,693.86 L141.22,693.98 L142.00,694.09 L142.77,694.20 L143.54,694.30 L144.32,694.39 L145.09,694.48 L145.86,694.57 L146.63,694.65 L147.41,694.73 L148.18,694.81 L148.95,694.88 L149.72,694.95 L150.50,695.01 L151.27,695.08 L152.04,695.14 L152.82,695.20 L153.59,695.25 L154.36,695.31 L155.13,695.36 L155.91,695.41 L156.68,695.46 L157.45,695.51 L158.23,695.55 L159.00,695.60 L159.77,695.64 L160.54,695.68 L161.32,695.72 L162.09,695.76 L162.86,695.80 L163.64,695.84 L164.41,695.87 L165.18,695.90 L165.95,695.94 L166.73,695.97 L167.50,696.00 L168.27,696.03 L169.04,696.06 L169.82,696.09 L170.59,696.12 L171.36,696.14 L172.14,696.17 L172.91,696.19 L173.68,696.22 L174.45,696.24 L175.23,696.27 L176.00,696.29 L176.77,696.31 L177.55,696.33 L178.32,696.35 L179.09,696.37 L179.86,696.39 L180.64,696.41 L181.41,696.43 L182.18,696.45 L182.96,696.47 L183.73,696.49 L184.50,696.50 L185.27,696.52 L186.05,696.53 L186.82,696.55 L187.59,696.57 L188.36,696.58 L189.14,696.60 L189.91,696.61 L190.68,696.62 L191.46,696.64 L192.23,696.65 L193.00,696.66 L193.77,696.68 L194.55,696.69" stroke="#5cf040" stroke-width="1.9" fill="none" stroke-linejoin="round" />
<rect x="27.4" y="574.3" width="167.9" height="123.20000000000005" fill="none" stroke="#333" stroke-width="1"/>
<line x1="27.40" y1="697.50" x2="29.60" y2="697.50" stroke="#333" stroke-width="0.8" />
<line x1="27.40" y1="687.22" x2="28.70" y2="687.22" stroke="#333" stroke-width="0.8" />
<line x1="27.40" y1="676.93" x2="29.60" y2="676.93" stroke="#333" stroke-width="0.8" />
<line x1="27.40" y1="666.64" x2="28.70" y2="666.64" stroke="#333" stroke-width="0.8" />
<line x1="27.40" y1="656.36" x2="29.60" y2="656.36" stroke="#333" stroke-width="0.8" />
<line x1="27.40" y1="646.08" x2="28.70" y2="646.08" stroke="#333" stroke-width="0.8" />
<line x1="27.40" y1="635.79" x2="29.60" y2="635.79" stroke="#333" stroke-width="0.8" />
<line x1="27.40" y1="625.50" x2="28.70" y2="625.50" stroke="#333" stroke-width="0.8" />
<line x1="27.40" y1="615.22" x2="29.60" y2="615.22" stroke="#333" stroke-width="0.8" />
<line x1="27.40" y1="604.93" x2="28.70" y2="604.93" stroke="#333" stroke-width="0.8" />
<line x1="27.40" y1="594.65" x2="29.60" y2="594.65" stroke="#333" stroke-width="0.8" />
<line x1="27.40" y1="584.37" x2="28.70" y2="584.37" stroke="#333" stroke-width="0.8" />
<line x1="27.40" y1="574.08" x2="29.60" y2="574.08" stroke="#333" stroke-width="0.8" />
<line x1="40.76" y1="697.50" x2="40.76" y2="695.30" stroke="#333" stroke-width="0.8" />
<line x1="53.64" y1="697.50" x2="53.64" y2="696.20" stroke="#333" stroke-width="0.8" />
<line x1="66.52" y1="697.50" x2="66.52" y2="696.20" stroke="#333" stroke-width="0.8" />
<line x1="79.40" y1="697.50" x2="79.40" y2="695.30" stroke="#333" stroke-width="0.8" />
<line x1="92.28" y1="697.50" x2="92.28" y2="696.20" stroke="#333" stroke-width="0.8" />
<line x1="105.16" y1="697.50" x2="105.16" y2="696.20" stroke="#333" stroke-width="0.8" />
<line x1="118.04" y1="697.50" x2="118.04" y2="695.30" stroke="#333" stroke-width="0.8" />
<line x1="130.92" y1="697.50" x2="130.92" y2="696.20" stroke="#333" stroke-width="0.8" />
<line x1="143.80" y1="697.50" x2="143.80" y2="696.20" stroke="#333" stroke-width="0.8" />
<line x1="156.68" y1="697.50" x2="156.68" y2="695.30" stroke="#333" stroke-width="0.8" />
<line x1="169.56" y1="697.50" x2="169.56" y2="696.20" stroke="#333" stroke-width="0.8" />
<line x1="182.44" y1="697.50" x2="182.44" y2="696.20" stroke="#333" stroke-width="0.8" />
<line x1="195.32" y1="697.50" x2="195.32" y2="695.30" stroke="#333" stroke-width="0.8" />
<text x="24.8" y="701.4" style="font-family:'Liberation Serif',serif;font-size:11.3px;font-weight:normal" fill="#222" text-anchor="end" >0</text>
<text x="24.8" y="680.8" style="font-family:'Liberation Serif',serif;font-size:11.3px;font-weight:normal" fill="#222" text-anchor="end" >1</text>
<text x="24.8" y="660.3" style="font-family:'Liberation Serif',serif;font-size:11.3px;font-weight:normal" fill="#222" text-anchor="end" >2</text>
<text x="24.8" y="639.7" style="font-family:'Liberation Serif',serif;font-size:11.3px;font-weight:normal" fill="#222" text-anchor="end" >3</text>
<text x="24.8" y="619.1" style="font-family:'Liberation Serif',serif;font-size:11.3px;font-weight:normal" fill="#222" text-anchor="end" >4</text>
<text x="24.8" y="598.5" style="font-family:'Liberation Serif',serif;font-size:11.3px;font-weight:normal" fill="#222" text-anchor="end" >5</text>
<text x="24.8" y="578.0" style="font-family:'Liberation Serif',serif;font-size:11.3px;font-weight:normal" fill="#222" text-anchor="end" >6</text>
<text x="40.8" y="709.9" style="font-family:'Liberation Serif',serif;font-size:11.3px;font-weight:normal" fill="#222" text-anchor="middle" >480</text>
<text x="79.4" y="709.9" style="font-family:'Liberation Serif',serif;font-size:11.3px;font-weight:normal" fill="#222" text-anchor="middle" >510</text>
<text x="118.0" y="709.9" style="font-family:'Liberation Serif',serif;font-size:11.3px;font-weight:normal" fill="#222" text-anchor="middle" >540</text>
<text x="156.7" y="709.9" style="font-family:'Liberation Serif',serif;font-size:11.3px;font-weight:normal" fill="#222" text-anchor="middle" >570</text>
<text x="195.3" y="709.9" style="font-family:'Liberation Serif',serif;font-size:11.3px;font-weight:normal" fill="#222" text-anchor="middle" >600</text>
<text x="111.5" y="720.7" style="font-family:'Liberation Serif',serif;font-size:12px;font-weight:normal" fill="#222" text-anchor="middle" >Emission wavelength (nm)</text>
<text transform="translate(14.5,644) rotate(-90)" style="font-family:'Liberation Serif',serif;font-size:12.2px" fill="#222" text-anchor="middle">EL intensity (arb. units)</text>
<text x="29.8" y="583.3" style="font-family:'Liberation Serif',serif;font-size:10px" fill="#4a4ae6">Device A:</text>
<text x="28.6" y="595.3" style="font-family:'Liberation Serif',serif;font-size:10px" fill="#4a4ae6"><tspan style="font-weight:bold" fill="#2525d8">high</tspan> nanowire</text>
<text x="29.4" y="607.3" style="font-family:'Liberation Serif',serif;font-size:10px" fill="#4a4ae6">concentration</text>
<line x1="110.80" y1="582.60" x2="130.90" y2="582.60" stroke="#2a2a2a" stroke-width="1.7" />
<text x="133.0" y="585.6" style="font-family:'Liberation Serif',serif;font-size:8.8px;font-weight:normal" fill="#222" text-anchor="start" >04 V</text>
<line x1="110.80" y1="593.48" x2="130.90" y2="593.48" stroke="#141414" stroke-width="1.7" />
<text x="133.0" y="596.5" style="font-family:'Liberation Serif',serif;font-size:8.8px;font-weight:normal" fill="#222" text-anchor="start" >05 V</text>
<line x1="110.80" y1="604.36" x2="130.90" y2="604.36" stroke="#1a3a1a" stroke-width="1.7" />
<text x="133.0" y="607.4" style="font-family:'Liberation Serif',serif;font-size:8.8px;font-weight:normal" fill="#222" text-anchor="start" >06 V</text>
<line x1="110.80" y1="615.24" x2="130.90" y2="615.24" stroke="#1e4c1e" stroke-width="1.7" />
<text x="133.0" y="618.2" style="font-family:'Liberation Serif',serif;font-size:8.8px;font-weight:normal" fill="#222" text-anchor="start" >07 V</text>
<line x1="110.80" y1="626.12" x2="130.90" y2="626.12" stroke="#246224" stroke-width="1.7" />
<text x="133.0" y="629.1" style="font-family:'Liberation Serif',serif;font-size:8.8px;font-weight:normal" fill="#222" text-anchor="start" >08 V</text>
<line x1="110.80" y1="637.00" x2="130.90" y2="637.00" stroke="#2a6e2a" stroke-width="1.7" />
<text x="133.0" y="640.0" style="font-family:'Liberation Serif',serif;font-size:8.8px;font-weight:normal" fill="#222" text-anchor="start" >09 V</text>
<line x1="153.00" y1="582.60" x2="173.70" y2="582.60" stroke="#3aa02a" stroke-width="1.7" />
<text x="175.4" y="585.6" style="font-family:'Liberation Serif',serif;font-size:8.8px;font-weight:normal" fill="#222" text-anchor="start" >10 V</text>
<line x1="153.00" y1="593.43" x2="173.70" y2="593.43" stroke="#40b830" stroke-width="1.7" />
<text x="175.4" y="596.4" style="font-family:'Liberation Serif',serif;font-size:8.8px;font-weight:normal" fill="#222" text-anchor="start" >11 V</text>
<line x1="153.00" y1="604.26" x2="173.70" y2="604.26" stroke="#46c834" stroke-width="1.7" />
<text x="175.4" y="607.3" style="font-family:'Liberation Serif',serif;font-size:8.8px;font-weight:normal" fill="#222" text-anchor="start" >12 V</text>
<line x1="153.00" y1="615.09" x2="173.70" y2="615.09" stroke="#4cd838" stroke-width="1.7" />
<text x="175.4" y="618.1" style="font-family:'Liberation Serif',serif;font-size:8.8px;font-weight:normal" fill="#222" text-anchor="start" >13 V</text>
<line x1="153.00" y1="625.92" x2="173.70" y2="625.92" stroke="#52e23a" stroke-width="1.7" />
<text x="175.4" y="628.9" style="font-family:'Liberation Serif',serif;font-size:8.8px;font-weight:normal" fill="#222" text-anchor="start" >14 V</text>
<line x1="153.00" y1="636.75" x2="173.70" y2="636.75" stroke="#56ea3c" stroke-width="1.7" />
<text x="175.4" y="639.8" style="font-family:'Liberation Serif',serif;font-size:8.8px;font-weight:normal" fill="#222" text-anchor="start" >15 V</text>
<line x1="153.00" y1="647.58" x2="173.70" y2="647.58" stroke="#5cf040" stroke-width="1.7" />
<text x="175.4" y="650.6" style="font-family:'Liberation Serif',serif;font-size:8.8px;font-weight:normal" fill="#222" text-anchor="start" >16 V</text>
<text x="126.5" y="665" style="font-family:'Liberation Serif',serif;font-size:9.4px;font-weight:bold" fill="#111">LED</text>
<line x1="146.50" y1="661.80" x2="157.50" y2="661.80" stroke="#111" stroke-width="0.8" />
<path d="M159.5,661.8 L155.5,660.2 L155.5,663.4 Z" fill="#111"/>
<rect x="160.2" y="655.9" width="30.6" height="26.4" fill="#3ed040"/>
<ellipse cx="176" cy="663" rx="9" ry="5" fill="#90f0c8" opacity="0.85" filter="url(#blur1)"/>
<ellipse cx="164" cy="671" rx="3" ry="5" fill="#a0f0e0" opacity="0.85" filter="url(#blur1)"/>
<ellipse cx="181" cy="671" rx="4" ry="3" fill="#80e8a0" opacity="0.7" filter="url(#blur1)"/>
<path d="M160.2,676 L166,682.3 L160.2,682.3 Z" fill="#106010"/>
<rect x="188.5" y="656" width="2.3" height="26.3" fill="#208a20" opacity="0.7"/>
<line x1="160.2" y1="656.1" x2="190.8" y2="656.1" stroke="#e07070" stroke-width="0.6"/>
<path d="M238.37,698.36 L238.71,698.28 L239.04,698.19 L239.38,698.10 L239.71,698.01 L240.05,697.92 L240.38,697.83 L240.72,697.73 L241.05,697.63 L241.39,697.53 L241.72,697.43 L242.06,697.32 L242.39,697.21 L242.73,697.10 L243.06,696.99 L243.40,696.87 L243.73,696.74 L244.07,696.62 L244.41,696.49 L244.74,696.35 L245.08,696.21 L245.41,696.06 L245.75,695.91 L246.08,695.76 L246.42,695.59 L246.75,695.42 L247.09,695.25 L247.42,695.07 L247.76,694.88 L248.09,694.68 L248.43,694.48 L248.76,694.27 L249.10,694.05 L249.43,693.82 L249.77,693.58 L250.11,693.34 L250.44,693.08 L250.78,692.82 L251.11,692.55 L251.45,692.27 L251.78,691.98 L252.12,691.68 L252.45,691.37 L252.79,691.06 L253.12,690.74 L253.46,690.40 L253.79,690.07 L254.13,689.72 L254.46,689.37 L254.80,689.01 L255.13,688.64 L255.47,688.28 L255.81,687.90 L256.14,687.53 L256.48,687.15 L256.81,686.77 L257.15,684.57 L257.48,684.19 L257.82,683.81 L258.15,683.43 L258.49,683.05 L258.82,682.67 L259.16,684.12 L259.49,683.75 L259.83,683.40 L260.16,683.04 L260.50,682.70 L260.84,682.36 L261.17,682.03 L261.51,681.70 L261.84,681.39 L262.18,681.09 L262.51,680.79 L262.85,680.50 L263.18,680.22 L263.52,679.95 L263.85,679.69 L264.19,679.44 L264.52,679.19 L264.86,678.94 L265.19,678.70 L265.53,678.46 L265.86,678.22 L266.20,677.97 L266.54,677.72 L266.87,677.46 L267.21,677.18 L267.54,676.88 L267.88,676.56 L268.21,676.19 L268.55,675.77 L268.88,675.29 L269.22,674.73 L269.55,674.07 L269.89,673.30 L270.22,672.37 L270.56,671.28 L270.89,669.98 L271.23,668.45 L271.56,666.64 L271.90,664.53 L272.24,662.07 L272.57,659.25 L272.91,656.01 L273.24,652.36 L273.58,648.27 L273.91,643.74 L274.25,638.79 L274.58,633.43 L274.92,627.72 L275.25,621.73 L275.59,615.53 L275.92,609.26 L276.26,603.05 L276.59,597.09 L276.93,591.58 L277.26,586.74 L277.60,582.82 L277.94,580.04 L278.27,578.55 L278.61,578.42 L278.94,579.41 L279.28,581.42 L279.61,584.36 L279.95,588.07 L280.28,592.42 L280.62,597.22 L280.95,602.34 L281.29,607.64 L281.62,612.99 L281.96,618.29 L282.29,623.47 L282.63,628.44 L282.96,633.17 L283.30,637.62 L283.64,641.74 L283.97,645.54 L284.31,649.00 L284.64,652.13 L284.98,654.92 L285.31,657.40 L285.65,659.58 L285.98,661.49 L286.32,663.13 L286.65,664.55 L286.99,665.76 L287.32,666.78 L287.66,667.64 L287.99,668.36 L288.33,668.95 L288.66,669.44 L289.00,669.84 L289.34,670.17 L289.67,670.43 L290.01,670.64 L290.34,670.80 L290.68,670.93 L291.01,671.03 L291.35,671.09 L291.68,671.14 L292.02,671.17 L292.35,671.18 L292.69,671.18 L293.02,671.16 L293.36,671.14 L293.69,671.10 L294.03,671.06 L294.37,671.01 L294.70,670.95 L295.04,670.89 L295.37,670.82 L295.71,670.75 L296.04,670.67 L296.38,670.59 L296.71,670.51 L297.05,670.42 L297.38,670.33 L297.72,670.23 L298.05,670.14 L298.39,670.04 L298.72,669.94 L299.06,669.84 L299.39,669.74 L299.73,669.64 L300.07,669.53 L300.40,669.43 L300.74,669.32 L301.07,669.21 L301.41,669.10 L301.74,669.00 L302.08,668.89 L302.41,668.78 L302.75,668.67 L303.08,668.56 L303.42,668.45 L303.75,668.35 L304.09,668.24 L304.42,668.13 L304.76,668.02 L305.09,667.92 L305.43,667.81 L305.77,667.71 L306.10,667.60 L306.44,667.50 L306.77,667.40 L307.11,667.30 L307.44,667.20 L307.78,667.10 L308.11,667.00 L308.45,666.90 L308.78,666.81 L309.12,666.71 L309.45,666.62 L309.79,666.53 L310.12,666.44 L310.46,666.35 L310.79,666.27 L311.13,666.18 L311.47,666.10 L311.80,666.01 L312.14,665.93 L312.47,665.85 L312.81,665.78 L313.14,665.70 L313.48,665.63 L313.81,665.56 L314.15,665.49 L314.48,665.42 L314.82,665.35 L315.15,665.29 L315.49,665.23 L315.82,665.17 L316.16,665.11 L316.49,665.05 L316.83,665.00 L317.17,664.95 L317.50,664.90 L317.84,664.85 L318.17,664.80 L318.51,664.76 L318.84,664.72 L319.18,664.68 L319.51,664.64 L319.85,664.60 L320.18,664.57 L320.52,664.54 L320.85,664.51 L321.19,664.49 L321.52,664.46 L321.86,664.44 L322.19,664.42 L322.53,664.40 L322.87,664.39 L323.20,664.38 L323.54,664.37 L323.87,664.36 L324.21,664.35 L324.54,664.35 L324.88,664.35 L325.21,664.35 L325.55,664.36 L325.88,664.36 L326.22,664.37 L326.55,664.38 L326.89,664.39 L327.22,664.40 L327.56,664.41 L327.90,664.42 L328.23,664.44 L328.57,664.46 L328.90,664.47 L329.24,664.49 L329.57,664.51 L329.91,664.53 L330.24,664.56 L330.58,664.58 L330.91,664.61 L331.25,664.63 L331.58,664.66 L331.92,664.69 L332.25,664.72 L332.59,664.75 L332.92,664.78 L333.26,664.82 L333.60,664.85 L333.93,664.89 L334.27,664.93 L334.60,664.97 L334.94,665.01 L335.27,665.05 L335.61,665.10 L335.94,665.14 L336.28,665.19 L336.61,665.23 L336.95,665.28 L337.28,665.33 L337.62,665.38 L337.95,665.44 L338.29,665.49 L338.62,665.54 L338.96,665.60 L339.30,665.66 L339.63,665.72 L339.97,665.78 L340.30,665.84 L340.64,665.90 L340.97,665.96 L341.31,666.03 L341.64,666.09 L341.98,666.16 L342.31,666.23 L342.65,666.30 L342.98,666.37 L343.32,666.44 L343.65,666.51 L343.99,666.59 L344.32,666.66 L344.66,666.74 L345.00,666.82 L345.33,666.90 L345.67,666.97 L346.00,667.06 L346.34,667.14 L346.67,667.22 L347.01,667.30 L347.34,667.39 L347.68,667.48 L348.01,667.56 L348.35,667.65 L348.68,667.74 L349.02,667.83 L349.35,667.92 L349.69,668.02 L350.02,668.11 L350.36,668.20 L350.70,668.30 L351.03,668.40 L351.37,668.49 L351.70,668.59 L352.04,668.69 L352.37,668.79 L352.71,668.89 L353.04,669.00 L353.38,669.10 L353.71,669.20 L354.05,669.31 L354.38,669.41 L354.72,669.52 L355.05,669.63 L355.39,669.74 L355.72,669.84 L356.06,669.95 L356.40,670.07 L356.73,670.18 L357.07,670.29 L357.40,670.40 L357.74,670.52 L358.07,670.63 L358.41,670.75 L358.74,670.86 L359.08,670.98 L359.41,671.10 L359.75,671.22 L360.08,671.34 L360.42,671.46 L360.75,671.58 L361.09,671.70 L361.43,671.82 L361.76,671.94 L362.10,672.07 L362.43,672.19 L362.77,672.32 L363.10,672.44 L363.44,672.57 L363.77,672.69 L364.11,672.82 L364.44,672.95 L364.78,673.08 L365.11,673.20 L365.45,673.33 L365.78,673.46 L366.12,673.59 L366.45,673.72 L366.79,673.85 L367.13,673.99 L367.46,674.12 L367.80,674.25 L368.13,674.38 L368.47,674.52 L368.80,674.65 L369.14,674.78 L369.47,674.92 L369.81,675.05 L370.14,675.19 L370.48,675.32 L370.81,675.46 L371.15,675.60 L371.48,675.73 L371.82,675.87 L372.15,676.01 L372.49,676.15 L372.83,676.28 L373.16,676.42 L373.50,676.56 L373.83,676.70 L374.17,676.84 L374.50,676.98 L374.84,677.11 L375.17,677.25 L375.51,677.39 L375.84,677.53 L376.18,677.67 L376.51,677.81 L376.85,677.95 L377.18,678.09 L377.52,678.23 L377.85,678.38 L378.19,678.52 L378.53,678.66 L378.86,678.80 L379.20,678.94 L379.53,679.08 L379.87,679.22 L380.20,679.36 L380.54,679.50 L380.87,679.64 L381.21,679.78 L381.54,679.93 L381.88,680.07 L382.21,680.21 L382.55,680.35 L382.88,680.49 L383.22,680.63 L383.55,680.77 L383.89,680.91 L384.23,681.05 L384.56,681.19 L384.90,681.33 L385.23,681.47 L385.57,681.61 L385.90,681.75 L386.24,681.89 L386.57,682.03 L386.91,682.17 L387.24,682.31 L387.58,682.45 L387.91,682.59 L388.25,682.73 L388.58,682.87 L388.92,683.01 L389.25,683.15 L389.59,683.29 L389.93,683.42 L390.26,683.56 L390.60,683.70 L390.93,683.84 L391.27,683.97 L391.60,684.11 L391.94,684.24 L392.27,684.38 L392.61,684.52 L392.94,684.65 L393.28,684.79 L393.61,684.92 L393.95,685.06 L394.28,685.19 L394.62,685.32 L394.96,685.46 L395.29,685.59 L395.63,685.72 L395.96,685.85 L396.30,685.99 L396.63,686.12 L396.97,686.25 L397.30,686.38 L397.64,686.51 L397.97,686.64 L398.31,686.77 L398.64,686.90 L398.98,687.03 L399.31,687.16 L399.65,687.28 L399.98,687.41 L400.32,687.54 L400.66,687.66 L400.99,687.79 L401.33,687.92 L401.66,688.04 L402.00,688.16 L402.33,688.29 L402.67,688.41 L403.00,688.54 L403.34,688.66 L403.67,688.78 L404.01,688.90 L404.34,689.02 L404.68,689.14 L405.01,689.26 L405.35,689.38 L405.68,689.50 L406.02,689.62 L406.36,689.74 L406.69,689.85 L407.03,689.97 L407.36,690.09 L407.70,690.20 L408.03,690.32 L408.37,690.43 L408.70,690.55 L409.04,690.66 L409.37,690.77 L409.71,690.89 L410.04,691.00 L410.38,691.11 L410.71,691.22 L411.05,691.33 L411.38,691.44 L411.72,691.55 L412.06,691.65 L412.39,691.76 L412.73,691.87 L413.06,691.98 L413.40,692.08 L413.73,692.19 L414.07,692.29 L414.40,692.40 L414.74,692.50 L415.07,692.60 L415.41,692.70 L415.74,692.81 L416.08,692.91" stroke="#cc1e1e" stroke-width="3.4" fill="none" stroke-linejoin="round" />
<path d="M238.37,699.83 L238.71,699.77 L239.04,699.71 L239.38,699.65 L239.71,699.59 L240.05,699.52 L240.38,699.46 L240.72,699.39 L241.05,699.32 L241.39,699.25 L241.72,699.18 L242.06,699.11 L242.39,699.03 L242.73,698.95 L243.06,698.87 L243.40,698.79 L243.73,698.70 L244.07,698.62 L244.41,698.52 L244.74,698.43 L245.08,698.33 L245.41,698.23 L245.75,698.12 L246.08,698.02 L246.42,697.90 L246.75,697.78 L247.09,697.66 L247.42,697.54 L247.76,697.40 L248.09,697.27 L248.43,697.13 L248.76,696.98 L249.10,696.82 L249.43,696.67 L249.77,696.50 L250.11,696.33 L250.44,696.15 L250.78,695.97 L251.11,695.78 L251.45,695.59 L251.78,695.38 L252.12,695.18 L252.45,694.96 L252.79,694.74 L253.12,694.52 L253.46,694.29 L253.79,694.05 L254.13,693.81 L254.46,693.57 L254.80,693.32 L255.13,693.06 L255.47,692.81 L255.81,692.55 L256.14,692.29 L256.48,692.02 L256.81,691.76 L257.15,689.68 L257.48,689.41 L257.82,689.14 L258.15,688.88 L258.49,688.62 L258.82,688.36 L259.16,689.92 L259.49,689.66 L259.83,689.41 L260.16,689.17 L260.50,688.93 L260.84,688.69 L261.17,688.46 L261.51,688.24 L261.84,688.02 L262.18,687.81 L262.51,687.61 L262.85,687.41 L263.18,687.22 L263.52,687.03 L263.85,686.85 L264.19,686.67 L264.52,686.50 L264.86,686.33 L265.19,686.17 L265.53,686.00 L265.86,685.84 L266.20,685.67 L266.54,685.50 L266.87,685.33 L267.21,685.14 L267.54,684.93 L267.88,684.71 L268.21,684.46 L268.55,684.18 L268.88,683.86 L269.22,683.48 L269.55,683.04 L269.89,682.51 L270.22,681.89 L270.56,681.15 L270.89,680.27 L271.23,679.23 L271.56,678.01 L271.90,676.59 L272.24,674.93 L272.57,673.01 L272.91,670.83 L273.24,668.35 L273.58,665.59 L273.91,662.52 L274.25,659.17 L274.58,655.55 L274.92,651.69 L275.25,647.63 L275.59,643.44 L275.92,639.19 L276.26,634.99 L276.59,630.96 L276.93,627.23 L277.26,623.96 L277.60,621.30 L277.94,619.42 L278.27,618.41 L278.61,618.32 L278.94,618.99 L279.28,620.35 L279.61,622.33 L279.95,624.84 L280.28,627.78 L280.62,631.03 L280.95,634.49 L281.29,638.07 L281.62,641.68 L281.96,645.27 L282.29,648.76 L282.63,652.13 L282.96,655.32 L283.30,658.33 L283.64,661.11 L283.97,663.68 L284.31,666.02 L284.64,668.13 L284.98,670.02 L285.31,671.69 L285.65,673.16 L285.98,674.45 L286.32,675.56 L286.65,676.51 L286.99,677.32 L287.32,678.01 L287.66,678.59 L287.99,679.07 L288.33,679.47 L288.66,679.80 L289.00,680.06 L289.34,680.28 L289.67,680.46 L290.01,680.59 L290.34,680.70 L290.68,680.78 L291.01,680.84 L291.35,680.88 L291.68,680.91 L292.02,680.93 L292.35,680.93 L292.69,680.92 L293.02,680.91 L293.36,680.89 L293.69,680.86 L294.03,680.83 L294.37,680.79 L294.70,680.75 L295.04,680.70 L295.37,680.65 L295.71,680.60 L296.04,680.54 L296.38,680.49 L296.71,680.43 L297.05,680.36 L297.38,680.30 L297.72,680.23 L298.05,680.16 L298.39,680.09 L298.72,680.02 L299.06,679.95 L299.39,679.88 L299.73,679.81 L300.07,679.73 L300.40,679.66 L300.74,679.58 L301.07,679.51 L301.41,679.43 L301.74,679.35 L302.08,679.28 L302.41,679.20 L302.75,679.12 L303.08,679.05 L303.42,678.97 L303.75,678.89 L304.09,678.82 L304.42,678.74 L304.76,678.67 L305.09,678.59 L305.43,678.52 L305.77,678.45 L306.10,678.37 L306.44,678.30 L306.77,678.23 L307.11,678.16 L307.44,678.09 L307.78,678.02 L308.11,677.95 L308.45,677.88 L308.78,677.81 L309.12,677.75 L309.45,677.68 L309.79,677.62 L310.12,677.56 L310.46,677.49 L310.79,677.43 L311.13,677.37 L311.47,677.31 L311.80,677.26 L312.14,677.20 L312.47,677.14 L312.81,677.09 L313.14,677.04 L313.48,676.99 L313.81,676.93 L314.15,676.89 L314.48,676.84 L314.82,676.79 L315.15,676.75 L315.49,676.70 L315.82,676.66 L316.16,676.62 L316.49,676.58 L316.83,676.54 L317.17,676.51 L317.50,676.47 L317.84,676.44 L318.17,676.40 L318.51,676.37 L318.84,676.34 L319.18,676.32 L319.51,676.29 L319.85,676.27 L320.18,676.24 L320.52,676.22 L320.85,676.20 L321.19,676.18 L321.52,676.17 L321.86,676.15 L322.19,676.14 L322.53,676.13 L322.87,676.12 L323.20,676.11 L323.54,676.10 L323.87,676.09 L324.21,676.09 L324.54,676.09 L324.88,676.09 L325.21,676.09 L325.55,676.09 L325.88,676.09 L326.22,676.10 L326.55,676.11 L326.89,676.11 L327.22,676.12 L327.56,676.13 L327.90,676.14 L328.23,676.15 L328.57,676.16 L328.90,676.17 L329.24,676.18 L329.57,676.20 L329.91,676.21 L330.24,676.23 L330.58,676.25 L330.91,676.26 L331.25,676.28 L331.58,676.30 L331.92,676.32 L332.25,676.34 L332.59,676.36 L332.92,676.39 L333.26,676.41 L333.60,676.44 L333.93,676.46 L334.27,676.49 L334.60,676.52 L334.94,676.55 L335.27,676.57 L335.61,676.60 L335.94,676.64 L336.28,676.67 L336.61,676.70 L336.95,676.73 L337.28,676.77 L337.62,676.81 L337.95,676.84 L338.29,676.88 L338.62,676.92 L338.96,676.96 L339.30,677.00 L339.63,677.04 L339.97,677.08 L340.30,677.12 L340.64,677.16 L340.97,677.21 L341.31,677.25 L341.64,677.30 L341.98,677.35 L342.31,677.39 L342.65,677.44 L342.98,677.49 L343.32,677.54 L343.65,677.59 L343.99,677.64 L344.32,677.70 L344.66,677.75 L345.00,677.80 L345.33,677.86 L345.67,677.91 L346.00,677.97 L346.34,678.03 L346.67,678.09 L347.01,678.14 L347.34,678.20 L347.68,678.26 L348.01,678.33 L348.35,678.39 L348.68,678.45 L349.02,678.51 L349.35,678.58 L349.69,678.64 L350.02,678.71 L350.36,678.77 L350.70,678.84 L351.03,678.91 L351.37,678.97 L351.70,679.04 L352.04,679.11 L352.37,679.18 L352.71,679.25 L353.04,679.32 L353.38,679.40 L353.71,679.47 L354.05,679.54 L354.38,679.62 L354.72,679.69 L355.05,679.77 L355.39,679.84 L355.72,679.92 L356.06,679.99 L356.40,680.07 L356.73,680.15 L357.07,680.23 L357.40,680.31 L357.74,680.39 L358.07,680.47 L358.41,680.55 L358.74,680.63 L359.08,680.71 L359.41,680.79 L359.75,680.88 L360.08,680.96 L360.42,681.04 L360.75,681.13 L361.09,681.21 L361.43,681.30 L361.76,681.38 L362.10,681.47 L362.43,681.55 L362.77,681.64 L363.10,681.73 L363.44,681.82 L363.77,681.91 L364.11,681.99 L364.44,682.08 L364.78,682.17 L365.11,682.26 L365.45,682.35 L365.78,682.44 L366.12,682.53 L366.45,682.62 L366.79,682.72 L367.13,682.81 L367.46,682.90 L367.80,682.99 L368.13,683.08 L368.47,683.18 L368.80,683.27 L369.14,683.36 L369.47,683.46 L369.81,683.55 L370.14,683.65 L370.48,683.74 L370.81,683.84 L371.15,683.93 L371.48,684.03 L371.82,684.12 L372.15,684.22 L372.49,684.31 L372.83,684.41 L373.16,684.51 L373.50,684.60 L373.83,684.70 L374.17,684.80 L374.50,684.89 L374.84,684.99 L375.17,685.09 L375.51,685.19 L375.84,685.28 L376.18,685.38 L376.51,685.48 L376.85,685.58 L377.18,685.68 L377.52,685.77 L377.85,685.87 L378.19,685.97 L378.53,686.07 L378.86,686.17 L379.20,686.26 L379.53,686.36 L379.87,686.46 L380.20,686.56 L380.54,686.66 L380.87,686.76 L381.21,686.86 L381.54,686.95 L381.88,687.05 L382.21,687.15 L382.55,687.25 L382.88,687.35 L383.22,687.45 L383.55,687.54 L383.89,687.64 L384.23,687.74 L384.56,687.84 L384.90,687.94 L385.23,688.03 L385.57,688.13 L385.90,688.23 L386.24,688.33 L386.57,688.43 L386.91,688.52 L387.24,688.62 L387.58,688.72 L387.91,688.82 L388.25,688.91 L388.58,689.01 L388.92,689.11 L389.25,689.20 L389.59,689.30 L389.93,689.39 L390.26,689.49 L390.60,689.59 L390.93,689.68 L391.27,689.78 L391.60,689.87 L391.94,689.97 L392.27,690.06 L392.61,690.16 L392.94,690.25 L393.28,690.35 L393.61,690.44 L393.95,690.53 L394.28,690.63 L394.62,690.72 L394.96,690.81 L395.29,690.91 L395.63,691.00 L395.96,691.09 L396.30,691.18 L396.63,691.28 L396.97,691.37 L397.30,691.46 L397.64,691.55 L397.97,691.64 L398.31,691.73 L398.64,691.82 L398.98,691.91 L399.31,692.00 L399.65,692.09 L399.98,692.18 L400.32,692.27 L400.66,692.36 L400.99,692.44 L401.33,692.53 L401.66,692.62 L402.00,692.70 L402.33,692.79 L402.67,692.88 L403.00,692.96 L403.34,693.05 L403.67,693.13 L404.01,693.22 L404.34,693.30 L404.68,693.39 L405.01,693.47 L405.35,693.55 L405.68,693.64 L406.02,693.72 L406.36,693.80 L406.69,693.88 L407.03,693.97 L407.36,694.05 L407.70,694.13 L408.03,694.21 L408.37,694.29 L408.70,694.37 L409.04,694.45 L409.37,694.53 L409.71,694.60 L410.04,694.68 L410.38,694.76 L410.71,694.84 L411.05,694.91 L411.38,694.99 L411.72,695.07 L412.06,695.14 L412.39,695.22 L412.73,695.29 L413.06,695.37 L413.40,695.44 L413.73,695.51 L414.07,695.59 L414.40,695.66 L414.74,695.73 L415.07,695.80 L415.41,695.87 L415.74,695.94 L416.08,696.01" stroke="#e42020" stroke-width="3.4" fill="none" stroke-linejoin="round" />
<path d="M238.37,700.37 L238.71,700.32 L239.04,700.27 L239.38,700.22 L239.71,700.16 L240.05,700.11 L240.38,700.05 L240.72,700.00 L241.05,699.94 L241.39,699.88 L241.72,699.82 L242.06,699.76 L242.39,699.69 L242.73,699.63 L243.06,699.56 L243.40,699.49 L243.73,699.42 L244.07,699.34 L244.41,699.27 L244.74,699.19 L245.08,699.11 L245.41,699.02 L245.75,698.93 L246.08,698.84 L246.42,698.74 L246.75,698.65 L247.09,698.54 L247.42,698.44 L247.76,698.33 L248.09,698.21 L248.43,698.09 L248.76,697.97 L249.10,697.84 L249.43,697.71 L249.77,697.57 L250.11,697.42 L250.44,697.27 L250.78,697.12 L251.11,696.96 L251.45,696.80 L251.78,696.63 L252.12,696.45 L252.45,696.27 L252.79,696.09 L253.12,695.90 L253.46,695.71 L253.79,695.51 L254.13,695.30 L254.46,695.10 L254.80,694.89 L255.13,694.68 L255.47,694.46 L255.81,694.24 L256.14,694.02 L256.48,693.80 L256.81,693.58 L257.15,691.54 L257.48,691.31 L257.82,691.09 L258.15,690.87 L258.49,690.65 L258.82,690.43 L259.16,692.02 L259.49,691.81 L259.83,691.60 L260.16,691.39 L260.50,691.19 L260.84,690.99 L261.17,690.80 L261.51,690.61 L261.84,690.42 L262.18,690.24 L262.51,690.07 L262.85,689.90 L263.18,689.74 L263.52,689.58 L263.85,689.42 L264.19,689.27 L264.52,689.12 L264.86,688.98 L265.19,688.84 L265.53,688.69 L265.86,688.55 L266.20,688.41 L266.54,688.26 L266.87,688.10 L267.21,687.94 L267.54,687.76 L267.88,687.56 L268.21,687.34 L268.55,687.10 L268.88,686.81 L269.22,686.48 L269.55,686.09 L269.89,685.62 L270.22,685.08 L270.56,684.42 L270.89,683.65 L271.23,682.74 L271.56,681.67 L271.90,680.41 L272.24,678.95 L272.57,677.27 L272.91,675.34 L273.24,673.17 L273.58,670.74 L273.91,668.04 L274.25,665.10 L274.58,661.91 L274.92,658.52 L275.25,654.95 L275.59,651.27 L275.92,647.54 L276.26,643.85 L276.59,640.30 L276.93,637.02 L277.26,634.15 L277.60,631.82 L277.94,630.16 L278.27,629.28 L278.61,629.20 L278.94,629.79 L279.28,630.99 L279.61,632.74 L279.95,634.95 L280.28,637.53 L280.62,640.39 L280.95,643.44 L281.29,646.59 L281.62,649.77 L281.96,652.93 L282.29,656.01 L282.63,658.97 L282.96,661.78 L283.30,664.43 L283.64,666.88 L283.97,669.14 L284.31,671.20 L284.64,673.06 L284.98,674.73 L285.31,676.20 L285.65,677.50 L285.98,678.63 L286.32,679.62 L286.65,680.46 L286.99,681.18 L287.32,681.79 L287.66,682.30 L287.99,682.73 L288.33,683.09 L288.66,683.38 L289.00,683.62 L289.34,683.82 L289.67,683.97 L290.01,684.10 L290.34,684.20 L290.68,684.28 L291.01,684.33 L291.35,684.38 L291.68,684.41 L292.02,684.42 L292.35,684.43 L292.69,684.43 L293.02,684.43 L293.36,684.41 L293.69,684.39 L294.03,684.37 L294.37,684.34 L294.70,684.31 L295.04,684.27 L295.37,684.23 L295.71,684.19 L296.04,684.15 L296.38,684.10 L296.71,684.05 L297.05,684.00 L297.38,683.95 L297.72,683.90 L298.05,683.84 L298.39,683.79 L298.72,683.73 L299.06,683.67 L299.39,683.61 L299.73,683.55 L300.07,683.49 L300.40,683.43 L300.74,683.37 L301.07,683.30 L301.41,683.24 L301.74,683.18 L302.08,683.12 L302.41,683.05 L302.75,682.99 L303.08,682.93 L303.42,682.86 L303.75,682.80 L304.09,682.74 L304.42,682.68 L304.76,682.61 L305.09,682.55 L305.43,682.49 L305.77,682.43 L306.10,682.37 L306.44,682.31 L306.77,682.25 L307.11,682.19 L307.44,682.13 L307.78,682.08 L308.11,682.02 L308.45,681.96 L308.78,681.91 L309.12,681.85 L309.45,681.80 L309.79,681.74 L310.12,681.69 L310.46,681.64 L310.79,681.59 L311.13,681.54 L311.47,681.49 L311.80,681.44 L312.14,681.40 L312.47,681.35 L312.81,681.30 L313.14,681.26 L313.48,681.22 L313.81,681.18 L314.15,681.14 L314.48,681.10 L314.82,681.06 L315.15,681.02 L315.49,680.98 L315.82,680.95 L316.16,680.91 L316.49,680.88 L316.83,680.85 L317.17,680.82 L317.50,680.79 L317.84,680.76 L318.17,680.74 L318.51,680.71 L318.84,680.69 L319.18,680.66 L319.51,680.64 L319.85,680.62 L320.18,680.60 L320.52,680.58 L320.85,680.57 L321.19,680.55 L321.52,680.54 L321.86,680.53 L322.19,680.51 L322.53,680.50 L322.87,680.50 L323.20,680.49 L323.54,680.48 L323.87,680.48 L324.21,680.48 L324.54,680.47 L324.88,680.47 L325.21,680.47 L325.55,680.48 L325.88,680.48 L326.22,680.48 L326.55,680.49 L326.89,680.49 L327.22,680.50 L327.56,680.51 L327.90,680.52 L328.23,680.53 L328.57,680.53 L328.90,680.55 L329.24,680.56 L329.57,680.57 L329.91,680.58 L330.24,680.59 L330.58,680.61 L330.91,680.62 L331.25,680.64 L331.58,680.65 L331.92,680.67 L332.25,680.69 L332.59,680.71 L332.92,680.73 L333.26,680.75 L333.60,680.77 L333.93,680.79 L334.27,680.81 L334.60,680.84 L334.94,680.86 L335.27,680.89 L335.61,680.91 L335.94,680.94 L336.28,680.96 L336.61,680.99 L336.95,681.02 L337.28,681.05 L337.62,681.08 L337.95,681.11 L338.29,681.14 L338.62,681.17 L338.96,681.21 L339.30,681.24 L339.63,681.27 L339.97,681.31 L340.30,681.34 L340.64,681.38 L340.97,681.42 L341.31,681.46 L341.64,681.49 L341.98,681.53 L342.31,681.57 L342.65,681.61 L342.98,681.66 L343.32,681.70 L343.65,681.74 L343.99,681.78 L344.32,681.83 L344.66,681.87 L345.00,681.92 L345.33,681.96 L345.67,682.01 L346.00,682.06 L346.34,682.11 L346.67,682.15 L347.01,682.20 L347.34,682.25 L347.68,682.30 L348.01,682.35 L348.35,682.41 L348.68,682.46 L349.02,682.51 L349.35,682.56 L349.69,682.62 L350.02,682.67 L350.36,682.73 L350.70,682.78 L351.03,682.84 L351.37,682.90 L351.70,682.96 L352.04,683.01 L352.37,683.07 L352.71,683.13 L353.04,683.19 L353.38,683.25 L353.71,683.31 L354.05,683.37 L354.38,683.44 L354.72,683.50 L355.05,683.56 L355.39,683.63 L355.72,683.69 L356.06,683.75 L356.40,683.82 L356.73,683.88 L357.07,683.95 L357.40,684.02 L357.74,684.08 L358.07,684.15 L358.41,684.22 L358.74,684.29 L359.08,684.35 L359.41,684.42 L359.75,684.49 L360.08,684.56 L360.42,684.63 L360.75,684.70 L361.09,684.77 L361.43,684.85 L361.76,684.92 L362.10,684.99 L362.43,685.06 L362.77,685.13 L363.10,685.21 L363.44,685.28 L363.77,685.36 L364.11,685.43 L364.44,685.50 L364.78,685.58 L365.11,685.65 L365.45,685.73 L365.78,685.81 L366.12,685.88 L366.45,685.96 L366.79,686.03 L367.13,686.11 L367.46,686.19 L367.80,686.27 L368.13,686.34 L368.47,686.42 L368.80,686.50 L369.14,686.58 L369.47,686.66 L369.81,686.74 L370.14,686.82 L370.48,686.89 L370.81,686.97 L371.15,687.05 L371.48,687.13 L371.82,687.21 L372.15,687.29 L372.49,687.37 L372.83,687.46 L373.16,687.54 L373.50,687.62 L373.83,687.70 L374.17,687.78 L374.50,687.86 L374.84,687.94 L375.17,688.02 L375.51,688.10 L375.84,688.19 L376.18,688.27 L376.51,688.35 L376.85,688.43 L377.18,688.51 L377.52,688.60 L377.85,688.68 L378.19,688.76 L378.53,688.84 L378.86,688.93 L379.20,689.01 L379.53,689.09 L379.87,689.17 L380.20,689.26 L380.54,689.34 L380.87,689.42 L381.21,689.50 L381.54,689.59 L381.88,689.67 L382.21,689.75 L382.55,689.83 L382.88,689.92 L383.22,690.00 L383.55,690.08 L383.89,690.16 L384.23,690.25 L384.56,690.33 L384.90,690.41 L385.23,690.49 L385.57,690.57 L385.90,690.66 L386.24,690.74 L386.57,690.82 L386.91,690.90 L387.24,690.98 L387.58,691.06 L387.91,691.15 L388.25,691.23 L388.58,691.31 L388.92,691.39 L389.25,691.47 L389.59,691.55 L389.93,691.63 L390.26,691.71 L390.60,691.79 L390.93,691.87 L391.27,691.95 L391.60,692.03 L391.94,692.11 L392.27,692.19 L392.61,692.27 L392.94,692.35 L393.28,692.43 L393.61,692.51 L393.95,692.59 L394.28,692.67 L394.62,692.74 L394.96,692.82 L395.29,692.90 L395.63,692.98 L395.96,693.05 L396.30,693.13 L396.63,693.21 L396.97,693.28 L397.30,693.36 L397.64,693.44 L397.97,693.51 L398.31,693.59 L398.64,693.66 L398.98,693.74 L399.31,693.81 L399.65,693.89 L399.98,693.96 L400.32,694.04 L400.66,694.11 L400.99,694.19 L401.33,694.26 L401.66,694.33 L402.00,694.41 L402.33,694.48 L402.67,694.55 L403.00,694.62 L403.34,694.69 L403.67,694.76 L404.01,694.84 L404.34,694.91 L404.68,694.98 L405.01,695.05 L405.35,695.12 L405.68,695.19 L406.02,695.26 L406.36,695.33 L406.69,695.39 L407.03,695.46 L407.36,695.53 L407.70,695.60 L408.03,695.66 L408.37,695.73 L408.70,695.80 L409.04,695.86 L409.37,695.93 L409.71,696.00 L410.04,696.06 L410.38,696.13 L410.71,696.19 L411.05,696.26 L411.38,696.32 L411.72,696.38 L412.06,696.45 L412.39,696.51 L412.73,696.57 L413.06,696.63 L413.40,696.70 L413.73,696.76 L414.07,696.82 L414.40,696.88 L414.74,696.94 L415.07,697.00 L415.41,697.06 L415.74,697.12 L416.08,697.18" stroke="#f0281a" stroke-width="3.4" fill="none" stroke-linejoin="round" />
<path d="M238.37,700.81 L238.71,700.76 L239.04,700.72 L239.38,700.68 L239.71,700.63 L240.05,700.59 L240.38,700.54 L240.72,700.49 L241.05,700.45 L241.39,700.40 L241.72,700.34 L242.06,700.29 L242.39,700.24 L242.73,700.18 L243.06,700.12 L243.40,700.07 L243.73,700.00 L244.07,699.94 L244.41,699.88 L244.74,699.81 L245.08,699.74 L245.41,699.67 L245.75,699.59 L246.08,699.52 L246.42,699.44 L246.75,699.35 L247.09,699.27 L247.42,699.18 L247.76,699.08 L248.09,698.98 L248.43,698.88 L248.76,698.78 L249.10,698.67 L249.43,698.56 L249.77,698.44 L250.11,698.32 L250.44,698.19 L250.78,698.06 L251.11,697.93 L251.45,697.79 L251.78,697.65 L252.12,697.50 L252.45,697.35 L252.79,697.19 L253.12,697.03 L253.46,696.87 L253.79,696.70 L254.13,696.53 L254.46,696.36 L254.80,696.18 L255.13,696.00 L255.47,695.82 L255.81,695.63 L256.14,695.44 L256.48,695.26 L256.81,695.07 L257.15,694.88 L257.48,694.69 L257.82,694.50 L258.15,694.31 L258.49,694.12 L258.82,693.94 L259.16,693.75 L259.49,693.57 L259.83,693.39 L260.16,693.21 L260.50,693.04 L260.84,692.87 L261.17,692.70 L261.51,692.54 L261.84,692.38 L262.18,692.23 L262.51,692.08 L262.85,691.93 L263.18,691.79 L263.52,691.65 L263.85,691.52 L264.19,691.39 L264.52,691.26 L264.86,691.13 L265.19,691.00 L265.53,690.87 L265.86,690.75 L266.20,690.62 L266.54,690.48 L266.87,690.34 L267.21,690.19 L267.54,690.03 L267.88,689.85 L268.21,689.65 L268.55,689.42 L268.88,689.16 L269.22,688.85 L269.55,688.49 L269.89,688.07 L270.22,687.56 L270.56,686.96 L270.89,686.26 L271.23,685.42 L271.56,684.44 L271.90,683.28 L272.24,681.95 L272.57,680.41 L272.91,678.65 L273.24,676.66 L273.58,674.43 L273.91,671.97 L274.25,669.27 L274.58,666.36 L274.92,663.25 L275.25,659.99 L275.59,656.62 L275.92,653.21 L276.26,649.83 L276.59,646.59 L276.93,643.60 L277.26,640.97 L277.60,638.84 L277.94,637.33 L278.27,636.53 L278.61,636.46 L278.94,637.00 L279.28,638.10 L279.61,639.71 L279.95,641.74 L280.28,644.11 L280.62,646.73 L280.95,649.52 L281.29,652.41 L281.62,655.33 L281.96,658.22 L282.29,661.04 L282.63,663.76 L282.96,666.34 L283.30,668.77 L283.64,671.02 L283.97,673.10 L284.31,674.99 L284.64,676.70 L284.98,678.23 L285.31,679.59 L285.65,680.78 L285.98,681.83 L286.32,682.73 L286.65,683.51 L286.99,684.18 L287.32,684.74 L287.66,685.22 L287.99,685.62 L288.33,685.96 L288.66,686.23 L289.00,686.46 L289.34,686.65 L289.67,686.80 L290.01,686.92 L290.34,687.02 L290.68,687.10 L291.01,687.16 L291.35,687.21 L291.68,687.24 L292.02,687.27 L292.35,687.28 L292.69,687.29 L293.02,687.29 L293.36,687.29 L293.69,687.28 L294.03,687.26 L294.37,687.25 L294.70,687.22 L295.04,687.20 L295.37,687.17 L295.71,687.14 L296.04,687.11 L296.38,687.07 L296.71,687.04 L297.05,687.00 L297.38,686.96 L297.72,686.92 L298.05,686.87 L298.39,686.83 L298.72,686.78 L299.06,686.74 L299.39,686.69 L299.73,686.64 L300.07,686.59 L300.40,686.54 L300.74,686.49 L301.07,686.44 L301.41,686.39 L301.74,686.34 L302.08,686.29 L302.41,686.24 L302.75,686.19 L303.08,686.14 L303.42,686.09 L303.75,686.04 L304.09,685.98 L304.42,685.93 L304.76,685.88 L305.09,685.83 L305.43,685.78 L305.77,685.73 L306.10,685.68 L306.44,685.63 L306.77,685.58 L307.11,685.54 L307.44,685.49 L307.78,685.44 L308.11,685.39 L308.45,685.35 L308.78,685.30 L309.12,685.26 L309.45,685.21 L309.79,685.17 L310.12,685.12 L310.46,685.08 L310.79,685.04 L311.13,685.00 L311.47,684.96 L311.80,684.92 L312.14,684.88 L312.47,684.84 L312.81,684.81 L313.14,684.77 L313.48,684.73 L313.81,684.70 L314.15,684.67 L314.48,684.63 L314.82,684.60 L315.15,684.57 L315.49,684.54 L315.82,684.51 L316.16,684.48 L316.49,684.46 L316.83,684.43 L317.17,684.40 L317.50,684.38 L317.84,684.36 L318.17,684.34 L318.51,684.31 L318.84,684.29 L319.18,684.28 L319.51,684.26 L319.85,684.24 L320.18,684.23 L320.52,684.21 L320.85,684.20 L321.19,684.18 L321.52,684.17 L321.86,684.16 L322.19,684.15 L322.53,684.15 L322.87,684.14 L323.20,684.13 L323.54,684.13 L323.87,684.13 L324.21,684.12 L324.54,684.12 L324.88,684.12 L325.21,684.12 L325.55,684.13 L325.88,684.13 L326.22,684.13 L326.55,684.14 L326.89,684.14 L327.22,684.15 L327.56,684.15 L327.90,684.16 L328.23,684.17 L328.57,684.18 L328.90,684.18 L329.24,684.19 L329.57,684.20 L329.91,684.21 L330.24,684.23 L330.58,684.24 L330.91,684.25 L331.25,684.26 L331.58,684.28 L331.92,684.29 L332.25,684.31 L332.59,684.32 L332.92,684.34 L333.26,684.36 L333.60,684.37 L333.93,684.39 L334.27,684.41 L334.60,684.43 L334.94,684.45 L335.27,684.47 L335.61,684.49 L335.94,684.52 L336.28,684.54 L336.61,684.56 L336.95,684.59 L337.28,684.61 L337.62,684.64 L337.95,684.66 L338.29,684.69 L338.62,684.72 L338.96,684.74 L339.30,684.77 L339.63,684.80 L339.97,684.83 L340.30,684.86 L340.64,684.89 L340.97,684.92 L341.31,684.95 L341.64,684.99 L341.98,685.02 L342.31,685.05 L342.65,685.09 L342.98,685.12 L343.32,685.16 L343.65,685.19 L343.99,685.23 L344.32,685.27 L344.66,685.30 L345.00,685.34 L345.33,685.38 L345.67,685.42 L346.00,685.46 L346.34,685.50 L346.67,685.54 L347.01,685.58 L347.34,685.62 L347.68,685.67 L348.01,685.71 L348.35,685.75 L348.68,685.80 L349.02,685.84 L349.35,685.89 L349.69,685.93 L350.02,685.98 L350.36,686.02 L350.70,686.07 L351.03,686.12 L351.37,686.17 L351.70,686.21 L352.04,686.26 L352.37,686.31 L352.71,686.36 L353.04,686.41 L353.38,686.46 L353.71,686.51 L354.05,686.57 L354.38,686.62 L354.72,686.67 L355.05,686.72 L355.39,686.78 L355.72,686.83 L356.06,686.88 L356.40,686.94 L356.73,686.99 L357.07,687.05 L357.40,687.10 L357.74,687.16 L358.07,687.22 L358.41,687.27 L358.74,687.33 L359.08,687.39 L359.41,687.45 L359.75,687.50 L360.08,687.56 L360.42,687.62 L360.75,687.68 L361.09,687.74 L361.43,687.80 L361.76,687.86 L362.10,687.92 L362.43,687.98 L362.77,688.04 L363.10,688.10 L363.44,688.17 L363.77,688.23 L364.11,688.29 L364.44,688.35 L364.78,688.42 L365.11,688.48 L365.45,688.54 L365.78,688.61 L366.12,688.67 L366.45,688.73 L366.79,688.80 L367.13,688.86 L367.46,688.93 L367.80,688.99 L368.13,689.06 L368.47,689.12 L368.80,689.19 L369.14,689.26 L369.47,689.32 L369.81,689.39 L370.14,689.45 L370.48,689.52 L370.81,689.59 L371.15,689.65 L371.48,689.72 L371.82,689.79 L372.15,689.86 L372.49,689.92 L372.83,689.99 L373.16,690.06 L373.50,690.13 L373.83,690.19 L374.17,690.26 L374.50,690.33 L374.84,690.40 L375.17,690.47 L375.51,690.54 L375.84,690.60 L376.18,690.67 L376.51,690.74 L376.85,690.81 L377.18,690.88 L377.52,690.95 L377.85,691.02 L378.19,691.09 L378.53,691.16 L378.86,691.22 L379.20,691.29 L379.53,691.36 L379.87,691.43 L380.20,691.50 L380.54,691.57 L380.87,691.64 L381.21,691.71 L381.54,691.78 L381.88,691.85 L382.21,691.92 L382.55,691.99 L382.88,692.06 L383.22,692.12 L383.55,692.19 L383.89,692.26 L384.23,692.33 L384.56,692.40 L384.90,692.47 L385.23,692.54 L385.57,692.61 L385.90,692.68 L386.24,692.74 L386.57,692.81 L386.91,692.88 L387.24,692.95 L387.58,693.02 L387.91,693.09 L388.25,693.16 L388.58,693.22 L388.92,693.29 L389.25,693.36 L389.59,693.43 L389.93,693.49 L390.26,693.56 L390.60,693.63 L390.93,693.70 L391.27,693.76 L391.60,693.83 L391.94,693.90 L392.27,693.96 L392.61,694.03 L392.94,694.10 L393.28,694.16 L393.61,694.23 L393.95,694.30 L394.28,694.36 L394.62,694.43 L394.96,694.49 L395.29,694.56 L395.63,694.62 L395.96,694.69 L396.30,694.75 L396.63,694.82 L396.97,694.88 L397.30,694.95 L397.64,695.01 L397.97,695.07 L398.31,695.14 L398.64,695.20 L398.98,695.26 L399.31,695.33 L399.65,695.39 L399.98,695.45 L400.32,695.51 L400.66,695.58 L400.99,695.64 L401.33,695.70 L401.66,695.76 L402.00,695.82 L402.33,695.88 L402.67,695.94 L403.00,696.00 L403.34,696.06 L403.67,696.12 L404.01,696.18 L404.34,696.24 L404.68,696.30 L405.01,696.36 L405.35,696.42 L405.68,696.48 L406.02,696.54 L406.36,696.59 L406.69,696.65 L407.03,696.71 L407.36,696.76 L407.70,696.82 L408.03,696.88 L408.37,696.93 L408.70,696.99 L409.04,697.05 L409.37,697.10 L409.71,697.16 L410.04,697.21 L410.38,697.27 L410.71,697.32 L411.05,697.37 L411.38,697.43 L411.72,697.48 L412.06,697.53 L412.39,697.59 L412.73,697.64 L413.06,697.69 L413.40,697.74 L413.73,697.79 L414.07,697.85 L414.40,697.90 L414.74,697.95 L415.07,698.00 L415.41,698.05 L415.74,698.10 L416.08,698.15" stroke="#f0321c" stroke-width="3.4" fill="none" stroke-linejoin="round" />
<path d="M238.37,701.36 L238.71,701.33 L239.04,701.30 L239.38,701.27 L239.71,701.23 L240.05,701.20 L240.38,701.16 L240.72,701.12 L241.05,701.09 L241.39,701.05 L241.72,701.01 L242.06,700.97 L242.39,700.93 L242.73,700.88 L243.06,700.84 L243.40,700.80 L243.73,700.75 L244.07,700.70 L244.41,700.65 L244.74,700.60 L245.08,700.55 L245.41,700.49 L245.75,700.43 L246.08,700.37 L246.42,700.31 L246.75,700.25 L247.09,700.18 L247.42,700.11 L247.76,700.04 L248.09,699.97 L248.43,699.89 L248.76,699.81 L249.10,699.73 L249.43,699.64 L249.77,699.55 L250.11,699.46 L250.44,699.36 L250.78,699.26 L251.11,699.16 L251.45,699.05 L251.78,698.94 L252.12,698.83 L252.45,698.72 L252.79,698.60 L253.12,698.47 L253.46,698.35 L253.79,698.22 L254.13,698.09 L254.46,697.95 L254.80,697.82 L255.13,697.68 L255.47,697.54 L255.81,697.40 L256.14,697.25 L256.48,697.11 L256.81,696.96 L257.15,696.82 L257.48,696.67 L257.82,696.52 L258.15,696.38 L258.49,696.23 L258.82,696.08 L259.16,695.94 L259.49,695.80 L259.83,695.66 L260.16,695.52 L260.50,695.38 L260.84,695.25 L261.17,695.11 L261.51,694.98 L261.84,694.86 L262.18,694.73 L262.51,694.61 L262.85,694.49 L263.18,694.37 L263.52,694.26 L263.85,694.14 L264.19,694.03 L264.52,693.92 L264.86,693.81 L265.19,693.70 L265.53,693.58 L265.86,693.47 L266.20,693.35 L266.54,693.23 L266.87,693.10 L267.21,692.96 L267.54,692.80 L267.88,692.63 L268.21,692.44 L268.55,692.23 L268.88,691.97 L269.22,691.68 L269.55,691.34 L269.89,690.94 L270.22,690.46 L270.56,689.89 L270.89,689.22 L271.23,688.42 L271.56,687.49 L271.90,686.40 L272.24,685.14 L272.57,683.68 L272.91,682.02 L273.24,680.14 L273.58,678.04 L273.91,675.71 L274.25,673.17 L274.58,670.42 L274.92,667.49 L275.25,664.41 L275.59,661.24 L275.92,658.02 L276.26,654.84 L276.59,651.79 L276.93,648.97 L277.26,646.49 L277.60,644.49 L277.94,643.07 L278.27,642.32 L278.61,642.27 L278.94,642.79 L279.28,643.84 L279.61,645.36 L279.95,647.29 L280.28,649.54 L280.62,652.02 L280.95,654.67 L281.29,657.41 L281.62,660.18 L281.96,662.92 L282.29,665.60 L282.63,668.18 L282.96,670.63 L283.30,672.93 L283.64,675.07 L283.97,677.05 L284.31,678.85 L284.64,680.47 L284.98,681.93 L285.31,683.23 L285.65,684.38 L285.98,685.38 L286.32,686.25 L286.65,687.00 L286.99,687.65 L287.32,688.20 L287.66,688.67 L287.99,689.06 L288.33,689.39 L288.66,689.67 L289.00,689.91 L289.34,690.10 L289.67,690.26 L290.01,690.39 L290.34,690.50 L290.68,690.59 L291.01,690.67 L291.35,690.73 L291.68,690.78 L292.02,690.82 L292.35,690.85 L292.69,690.88 L293.02,690.89 L293.36,690.91 L293.69,690.91 L294.03,690.92 L294.37,690.92 L294.70,690.91 L295.04,690.91 L295.37,690.90 L295.71,690.88 L296.04,690.87 L296.38,690.85 L296.71,690.83 L297.05,690.81 L297.38,690.79 L297.72,690.77 L298.05,690.74 L298.39,690.71 L298.72,690.69 L299.06,690.66 L299.39,690.63 L299.73,690.60 L300.07,690.57 L300.40,690.54 L300.74,690.50 L301.07,690.47 L301.41,690.44 L301.74,690.40 L302.08,690.37 L302.41,690.34 L302.75,690.30 L303.08,690.27 L303.42,690.23 L303.75,690.20 L304.09,690.16 L304.42,690.13 L304.76,690.09 L305.09,690.06 L305.43,690.02 L305.77,689.99 L306.10,689.95 L306.44,689.92 L306.77,689.88 L307.11,689.85 L307.44,689.82 L307.78,689.78 L308.11,689.75 L308.45,689.72 L308.78,689.68 L309.12,689.65 L309.45,689.62 L309.79,689.59 L310.12,689.56 L310.46,689.53 L310.79,689.50 L311.13,689.47 L311.47,689.44 L311.80,689.41 L312.14,689.39 L312.47,689.36 L312.81,689.33 L313.14,689.31 L313.48,689.28 L313.81,689.26 L314.15,689.23 L314.48,689.21 L314.82,689.19 L315.15,689.16 L315.49,689.14 L315.82,689.12 L316.16,689.10 L316.49,689.08 L316.83,689.06 L317.17,689.05 L317.50,689.03 L317.84,689.01 L318.17,689.00 L318.51,688.98 L318.84,688.97 L319.18,688.96 L319.51,688.94 L319.85,688.93 L320.18,688.92 L320.52,688.91 L320.85,688.90 L321.19,688.89 L321.52,688.88 L321.86,688.88 L322.19,688.87 L322.53,688.87 L322.87,688.86 L323.20,688.86 L323.54,688.85 L323.87,688.85 L324.21,688.85 L324.54,688.85 L324.88,688.85 L325.21,688.85 L325.55,688.86 L325.88,688.86 L326.22,688.86 L326.55,688.87 L326.89,688.87 L327.22,688.87 L327.56,688.88 L327.90,688.89 L328.23,688.89 L328.57,688.90 L328.90,688.90 L329.24,688.91 L329.57,688.92 L329.91,688.93 L330.24,688.94 L330.58,688.95 L330.91,688.96 L331.25,688.97 L331.58,688.98 L331.92,688.99 L332.25,689.00 L332.59,689.01 L332.92,689.03 L333.26,689.04 L333.60,689.05 L333.93,689.07 L334.27,689.08 L334.60,689.10 L334.94,689.11 L335.27,689.13 L335.61,689.14 L335.94,689.16 L336.28,689.18 L336.61,689.20 L336.95,689.21 L337.28,689.23 L337.62,689.25 L337.95,689.27 L338.29,689.29 L338.62,689.31 L338.96,689.33 L339.30,689.36 L339.63,689.38 L339.97,689.40 L340.30,689.42 L340.64,689.45 L340.97,689.47 L341.31,689.49 L341.64,689.52 L341.98,689.54 L342.31,689.57 L342.65,689.59 L342.98,689.62 L343.32,689.65 L343.65,689.67 L343.99,689.70 L344.32,689.73 L344.66,689.76 L345.00,689.79 L345.33,689.82 L345.67,689.85 L346.00,689.88 L346.34,689.91 L346.67,689.94 L347.01,689.97 L347.34,690.00 L347.68,690.03 L348.01,690.06 L348.35,690.10 L348.68,690.13 L349.02,690.16 L349.35,690.20 L349.69,690.23 L350.02,690.27 L350.36,690.30 L350.70,690.34 L351.03,690.37 L351.37,690.41 L351.70,690.44 L352.04,690.48 L352.37,690.52 L352.71,690.56 L353.04,690.59 L353.38,690.63 L353.71,690.67 L354.05,690.71 L354.38,690.75 L354.72,690.79 L355.05,690.83 L355.39,690.87 L355.72,690.91 L356.06,690.95 L356.40,690.99 L356.73,691.03 L357.07,691.07 L357.40,691.11 L357.74,691.16 L358.07,691.20 L358.41,691.24 L358.74,691.28 L359.08,691.33 L359.41,691.37 L359.75,691.42 L360.08,691.46 L360.42,691.50 L360.75,691.55 L361.09,691.59 L361.43,691.64 L361.76,691.68 L362.10,691.73 L362.43,691.77 L362.77,691.82 L363.10,691.87 L363.44,691.91 L363.77,691.96 L364.11,692.01 L364.44,692.05 L364.78,692.10 L365.11,692.15 L365.45,692.20 L365.78,692.24 L366.12,692.29 L366.45,692.34 L366.79,692.39 L367.13,692.44 L367.46,692.49 L367.80,692.53 L368.13,692.58 L368.47,692.63 L368.80,692.68 L369.14,692.73 L369.47,692.78 L369.81,692.83 L370.14,692.88 L370.48,692.93 L370.81,692.98 L371.15,693.03 L371.48,693.08 L371.82,693.13 L372.15,693.18 L372.49,693.23 L372.83,693.28 L373.16,693.33 L373.50,693.39 L373.83,693.44 L374.17,693.49 L374.50,693.54 L374.84,693.59 L375.17,693.64 L375.51,693.69 L375.84,693.74 L376.18,693.80 L376.51,693.85 L376.85,693.90 L377.18,693.95 L377.52,694.00 L377.85,694.05 L378.19,694.11 L378.53,694.16 L378.86,694.21 L379.20,694.26 L379.53,694.31 L379.87,694.37 L380.20,694.42 L380.54,694.47 L380.87,694.52 L381.21,694.57 L381.54,694.63 L381.88,694.68 L382.21,694.73 L382.55,694.78 L382.88,694.83 L383.22,694.89 L383.55,694.94 L383.89,694.99 L384.23,695.04 L384.56,695.09 L384.90,695.14 L385.23,695.20 L385.57,695.25 L385.90,695.30 L386.24,695.35 L386.57,695.40 L386.91,695.45 L387.24,695.51 L387.58,695.56 L387.91,695.61 L388.25,695.66 L388.58,695.71 L388.92,695.76 L389.25,695.81 L389.59,695.86 L389.93,695.91 L390.26,695.96 L390.60,696.02 L390.93,696.07 L391.27,696.12 L391.60,696.17 L391.94,696.22 L392.27,696.27 L392.61,696.32 L392.94,696.37 L393.28,696.42 L393.61,696.47 L393.95,696.52 L394.28,696.56 L394.62,696.61 L394.96,696.66 L395.29,696.71 L395.63,696.76 L395.96,696.81 L396.30,696.86 L396.63,696.91 L396.97,696.95 L397.30,697.00 L397.64,697.05 L397.97,697.10 L398.31,697.15 L398.64,697.19 L398.98,697.24 L399.31,697.29 L399.65,697.34 L399.98,697.38 L400.32,697.43 L400.66,697.48 L400.99,697.52 L401.33,697.57 L401.66,697.61 L402.00,697.66 L402.33,697.71 L402.67,697.75 L403.00,697.80 L403.34,697.84 L403.67,697.89 L404.01,697.93 L404.34,697.98 L404.68,698.02 L405.01,698.06 L405.35,698.11 L405.68,698.15 L406.02,698.20 L406.36,698.24 L406.69,698.28 L407.03,698.33 L407.36,698.37 L407.70,698.41 L408.03,698.45 L408.37,698.50 L408.70,698.54 L409.04,698.58 L409.37,698.62 L409.71,698.66 L410.04,698.70 L410.38,698.74 L410.71,698.78 L411.05,698.83 L411.38,698.87 L411.72,698.91 L412.06,698.95 L412.39,698.99 L412.73,699.02 L413.06,699.06 L413.40,699.10 L413.73,699.14 L414.07,699.18 L414.40,699.22 L414.74,699.26 L415.07,699.29 L415.41,699.33 L415.74,699.37 L416.08,699.41" stroke="#e88a22" stroke-width="2.6" fill="none" stroke-linejoin="round" />
<path d="M238.37,701.77 L238.71,701.75 L239.04,701.72 L239.38,701.70 L239.71,701.67 L240.05,701.64 L240.38,701.61 L240.72,701.59 L241.05,701.56 L241.39,701.53 L241.72,701.50 L242.06,701.47 L242.39,701.43 L242.73,701.40 L243.06,701.37 L243.40,701.33 L243.73,701.29 L244.07,701.26 L244.41,701.22 L244.74,701.18 L245.08,701.14 L245.41,701.09 L245.75,701.05 L246.08,701.00 L246.42,700.96 L246.75,700.91 L247.09,700.85 L247.42,700.80 L247.76,700.75 L248.09,700.69 L248.43,700.63 L248.76,700.57 L249.10,700.50 L249.43,700.43 L249.77,700.36 L250.11,700.29 L250.44,700.22 L250.78,700.14 L251.11,700.06 L251.45,699.98 L251.78,699.89 L252.12,699.81 L252.45,699.72 L252.79,699.62 L253.12,699.53 L253.46,699.43 L253.79,699.33 L254.13,699.23 L254.46,699.12 L254.80,699.02 L255.13,698.91 L255.47,698.80 L255.81,698.69 L256.14,698.58 L256.48,698.47 L256.81,698.35 L257.15,698.24 L257.48,698.12 L257.82,698.01 L258.15,697.89 L258.49,697.78 L258.82,697.67 L259.16,697.55 L259.49,697.44 L259.83,697.33 L260.16,697.22 L260.50,697.11 L260.84,697.01 L261.17,696.90 L261.51,696.80 L261.84,696.70 L262.18,696.60 L262.51,696.50 L262.85,696.41 L263.18,696.31 L263.52,696.22 L263.85,696.13 L264.19,696.04 L264.52,695.95 L264.86,695.86 L265.19,695.76 L265.53,695.67 L265.86,695.58 L266.20,695.48 L266.54,695.37 L266.87,695.26 L267.21,695.15 L267.54,695.02 L267.88,694.87 L268.21,694.71 L268.55,694.53 L268.88,694.32 L269.22,694.07 L269.55,693.78 L269.89,693.44 L270.22,693.03 L270.56,692.55 L270.89,691.99 L271.23,691.32 L271.56,690.53 L271.90,689.61 L272.24,688.54 L272.57,687.31 L272.91,685.91 L273.24,684.33 L273.58,682.56 L273.91,680.60 L274.25,678.45 L274.58,676.13 L274.92,673.67 L275.25,671.07 L275.59,668.40 L275.92,665.69 L276.26,663.01 L276.59,660.44 L276.93,658.06 L277.26,655.98 L277.60,654.29 L277.94,653.10 L278.27,652.47 L278.61,652.43 L278.94,652.87 L279.28,653.76 L279.61,655.04 L279.95,656.67 L280.28,658.57 L280.62,660.67 L280.95,662.90 L281.29,665.21 L281.62,667.55 L281.96,669.87 L282.29,672.13 L282.63,674.30 L282.96,676.37 L283.30,678.32 L283.64,680.13 L283.97,681.80 L284.31,683.32 L284.64,684.70 L284.98,685.93 L285.31,687.03 L285.65,688.00 L285.98,688.85 L286.32,689.59 L286.65,690.23 L286.99,690.78 L287.32,691.25 L287.66,691.65 L287.99,691.98 L288.33,692.27 L288.66,692.51 L289.00,692.71 L289.34,692.88 L289.67,693.02 L290.01,693.13 L290.34,693.23 L290.68,693.31 L291.01,693.38 L291.35,693.44 L291.68,693.48 L292.02,693.52 L292.35,693.55 L292.69,693.58 L293.02,693.60 L293.36,693.61 L293.69,693.63 L294.03,693.63 L294.37,693.64 L294.70,693.64 L295.04,693.64 L295.37,693.63 L295.71,693.63 L296.04,693.62 L296.38,693.61 L296.71,693.60 L297.05,693.59 L297.38,693.57 L297.72,693.56 L298.05,693.54 L298.39,693.52 L298.72,693.50 L299.06,693.48 L299.39,693.46 L299.73,693.44 L300.07,693.42 L300.40,693.40 L300.74,693.37 L301.07,693.35 L301.41,693.33 L301.74,693.30 L302.08,693.28 L302.41,693.25 L302.75,693.23 L303.08,693.20 L303.42,693.18 L303.75,693.15 L304.09,693.12 L304.42,693.10 L304.76,693.07 L305.09,693.05 L305.43,693.02 L305.77,693.00 L306.10,692.97 L306.44,692.94 L306.77,692.92 L307.11,692.89 L307.44,692.87 L307.78,692.84 L308.11,692.82 L308.45,692.79 L308.78,692.77 L309.12,692.75 L309.45,692.72 L309.79,692.70 L310.12,692.68 L310.46,692.65 L310.79,692.63 L311.13,692.61 L311.47,692.59 L311.80,692.57 L312.14,692.55 L312.47,692.53 L312.81,692.51 L313.14,692.49 L313.48,692.47 L313.81,692.45 L314.15,692.43 L314.48,692.41 L314.82,692.40 L315.15,692.38 L315.49,692.36 L315.82,692.35 L316.16,692.33 L316.49,692.32 L316.83,692.31 L317.17,692.29 L317.50,692.28 L317.84,692.27 L318.17,692.26 L318.51,692.24 L318.84,692.23 L319.18,692.22 L319.51,692.21 L319.85,692.21 L320.18,692.20 L320.52,692.19 L320.85,692.18 L321.19,692.18 L321.52,692.17 L321.86,692.17 L322.19,692.16 L322.53,692.16 L322.87,692.15 L323.20,692.15 L323.54,692.15 L323.87,692.15 L324.21,692.15 L324.54,692.15 L324.88,692.15 L325.21,692.15 L325.55,692.15 L325.88,692.15 L326.22,692.16 L326.55,692.16 L326.89,692.16 L327.22,692.17 L327.56,692.17 L327.90,692.18 L328.23,692.18 L328.57,692.19 L328.90,692.19 L329.24,692.20 L329.57,692.20 L329.91,692.21 L330.24,692.22 L330.58,692.23 L330.91,692.23 L331.25,692.24 L331.58,692.25 L331.92,692.26 L332.25,692.27 L332.59,692.28 L332.92,692.29 L333.26,692.30 L333.60,692.31 L333.93,692.32 L334.27,692.33 L334.60,692.34 L334.94,692.35 L335.27,692.37 L335.61,692.38 L335.94,692.39 L336.28,692.41 L336.61,692.42 L336.95,692.43 L337.28,692.45 L337.62,692.46 L337.95,692.48 L338.29,692.49 L338.62,692.51 L338.96,692.53 L339.30,692.54 L339.63,692.56 L339.97,692.58 L340.30,692.59 L340.64,692.61 L340.97,692.63 L341.31,692.65 L341.64,692.67 L341.98,692.69 L342.31,692.71 L342.65,692.73 L342.98,692.75 L343.32,692.77 L343.65,692.79 L343.99,692.81 L344.32,692.83 L344.66,692.85 L345.00,692.88 L345.33,692.90 L345.67,692.92 L346.00,692.94 L346.34,692.97 L346.67,692.99 L347.01,693.02 L347.34,693.04 L347.68,693.06 L348.01,693.09 L348.35,693.11 L348.68,693.14 L349.02,693.17 L349.35,693.19 L349.69,693.22 L350.02,693.24 L350.36,693.27 L350.70,693.30 L351.03,693.33 L351.37,693.35 L351.70,693.38 L352.04,693.41 L352.37,693.44 L352.71,693.47 L353.04,693.50 L353.38,693.53 L353.71,693.56 L354.05,693.59 L354.38,693.62 L354.72,693.65 L355.05,693.68 L355.39,693.71 L355.72,693.74 L356.06,693.77 L356.40,693.80 L356.73,693.83 L357.07,693.87 L357.40,693.90 L357.74,693.93 L358.07,693.96 L358.41,694.00 L358.74,694.03 L359.08,694.06 L359.41,694.10 L359.75,694.13 L360.08,694.16 L360.42,694.20 L360.75,694.23 L361.09,694.27 L361.43,694.30 L361.76,694.34 L362.10,694.37 L362.43,694.41 L362.77,694.44 L363.10,694.48 L363.44,694.51 L363.77,694.55 L364.11,694.59 L364.44,694.62 L364.78,694.66 L365.11,694.69 L365.45,694.73 L365.78,694.77 L366.12,694.80 L366.45,694.84 L366.79,694.88 L367.13,694.92 L367.46,694.95 L367.80,694.99 L368.13,695.03 L368.47,695.07 L368.80,695.10 L369.14,695.14 L369.47,695.18 L369.81,695.22 L370.14,695.26 L370.48,695.30 L370.81,695.33 L371.15,695.37 L371.48,695.41 L371.82,695.45 L372.15,695.49 L372.49,695.53 L372.83,695.57 L373.16,695.61 L373.50,695.65 L373.83,695.69 L374.17,695.73 L374.50,695.76 L374.84,695.80 L375.17,695.84 L375.51,695.88 L375.84,695.92 L376.18,695.96 L376.51,696.00 L376.85,696.04 L377.18,696.08 L377.52,696.12 L377.85,696.16 L378.19,696.20 L378.53,696.24 L378.86,696.28 L379.20,696.32 L379.53,696.36 L379.87,696.40 L380.20,696.44 L380.54,696.48 L380.87,696.52 L381.21,696.56 L381.54,696.60 L381.88,696.64 L382.21,696.68 L382.55,696.72 L382.88,696.76 L383.22,696.80 L383.55,696.84 L383.89,696.88 L384.23,696.92 L384.56,696.96 L384.90,697.00 L385.23,697.04 L385.57,697.08 L385.90,697.12 L386.24,697.16 L386.57,697.20 L386.91,697.24 L387.24,697.28 L387.58,697.32 L387.91,697.36 L388.25,697.40 L388.58,697.44 L388.92,697.48 L389.25,697.51 L389.59,697.55 L389.93,697.59 L390.26,697.63 L390.60,697.67 L390.93,697.71 L391.27,697.75 L391.60,697.79 L391.94,697.83 L392.27,697.86 L392.61,697.90 L392.94,697.94 L393.28,697.98 L393.61,698.02 L393.95,698.06 L394.28,698.09 L394.62,698.13 L394.96,698.17 L395.29,698.21 L395.63,698.24 L395.96,698.28 L396.30,698.32 L396.63,698.36 L396.97,698.39 L397.30,698.43 L397.64,698.47 L397.97,698.50 L398.31,698.54 L398.64,698.58 L398.98,698.61 L399.31,698.65 L399.65,698.69 L399.98,698.72 L400.32,698.76 L400.66,698.79 L400.99,698.83 L401.33,698.87 L401.66,698.90 L402.00,698.94 L402.33,698.97 L402.67,699.01 L403.00,699.04 L403.34,699.08 L403.67,699.11 L404.01,699.15 L404.34,699.18 L404.68,699.21 L405.01,699.25 L405.35,699.28 L405.68,699.32 L406.02,699.35 L406.36,699.38 L406.69,699.42 L407.03,699.45 L407.36,699.48 L407.70,699.51 L408.03,699.55 L408.37,699.58 L408.70,699.61 L409.04,699.64 L409.37,699.68 L409.71,699.71 L410.04,699.74 L410.38,699.77 L410.71,699.80 L411.05,699.83 L411.38,699.86 L411.72,699.90 L412.06,699.93 L412.39,699.96 L412.73,699.99 L413.06,700.02 L413.40,700.05 L413.73,700.08 L414.07,700.11 L414.40,700.14 L414.74,700.16 L415.07,700.19 L415.41,700.22 L415.74,700.25 L416.08,700.28" stroke="#ece824" stroke-width="2.6" fill="none" stroke-linejoin="round" />
<path d="M238.37,702.08 L238.71,702.06 L239.04,702.04 L239.38,702.02 L239.71,702.00 L240.05,701.98 L240.38,701.95 L240.72,701.93 L241.05,701.91 L241.39,701.88 L241.72,701.86 L242.06,701.84 L242.39,701.81 L242.73,701.78 L243.06,701.76 L243.40,701.73 L243.73,701.70 L244.07,701.67 L244.41,701.64 L244.74,701.61 L245.08,701.58 L245.41,701.54 L245.75,701.51 L246.08,701.47 L246.42,701.44 L246.75,701.40 L247.09,701.36 L247.42,701.31 L247.76,701.27 L248.09,701.22 L248.43,701.18 L248.76,701.13 L249.10,701.08 L249.43,701.03 L249.77,700.97 L250.11,700.91 L250.44,700.86 L250.78,700.80 L251.11,700.73 L251.45,700.67 L251.78,700.60 L252.12,700.53 L252.45,700.46 L252.79,700.39 L253.12,700.31 L253.46,700.24 L253.79,700.16 L254.13,700.08 L254.46,700.00 L254.80,699.91 L255.13,699.83 L255.47,699.74 L255.81,699.66 L256.14,699.57 L256.48,699.48 L256.81,699.39 L257.15,699.30 L257.48,699.21 L257.82,699.12 L258.15,699.02 L258.49,698.93 L258.82,698.84 L259.16,698.75 L259.49,698.66 L259.83,698.57 L260.16,698.48 L260.50,698.40 L260.84,698.31 L261.17,698.23 L261.51,698.14 L261.84,698.06 L262.18,697.98 L262.51,697.89 L262.85,697.81 L263.18,697.73 L263.52,697.65 L263.85,697.58 L264.19,697.50 L264.52,697.42 L264.86,697.34 L265.19,697.26 L265.53,697.17 L265.86,697.09 L266.20,697.00 L266.54,696.90 L266.87,696.80 L267.21,696.69 L267.54,696.57 L267.88,696.43 L268.21,696.28 L268.55,696.11 L268.88,695.91 L269.22,695.68 L269.55,695.41 L269.89,695.09 L270.22,694.71 L270.56,694.26 L270.89,693.72 L271.23,693.10 L271.56,692.36 L271.90,691.50 L272.24,690.50 L272.57,689.35 L272.91,688.04 L273.24,686.56 L273.58,684.90 L273.91,683.07 L274.25,681.07 L274.58,678.90 L274.92,676.60 L275.25,674.18 L275.59,671.68 L275.92,669.15 L276.26,666.65 L276.59,664.24 L276.93,662.03 L277.26,660.08 L277.60,658.51 L277.94,657.40 L278.27,656.82 L278.61,656.78 L278.94,657.20 L279.28,658.03 L279.61,659.24 L279.95,660.77 L280.28,662.54 L280.62,664.51 L280.95,666.61 L281.29,668.77 L281.62,670.96 L281.96,673.13 L282.29,675.25 L282.63,677.29 L282.96,679.24 L283.30,681.06 L283.64,682.76 L283.97,684.33 L284.31,685.76 L284.64,687.05 L284.98,688.21 L285.31,689.25 L285.65,690.16 L285.98,690.97 L286.32,691.66 L286.65,692.27 L286.99,692.79 L287.32,693.24 L287.66,693.62 L287.99,693.94 L288.33,694.22 L288.66,694.45 L289.00,694.65 L289.34,694.81 L289.67,694.95 L290.01,695.07 L290.34,695.17 L290.68,695.25 L291.01,695.33 L291.35,695.39 L291.68,695.44 L292.02,695.48 L292.35,695.52 L292.69,695.55 L293.02,695.58 L293.36,695.60 L293.69,695.62 L294.03,695.64 L294.37,695.65 L294.70,695.66 L295.04,695.67 L295.37,695.67 L295.71,695.67 L296.04,695.67 L296.38,695.67 L296.71,695.67 L297.05,695.67 L297.38,695.66 L297.72,695.65 L298.05,695.65 L298.39,695.64 L298.72,695.63 L299.06,695.62 L299.39,695.60 L299.73,695.59 L300.07,695.58 L300.40,695.57 L300.74,695.55 L301.07,695.54 L301.41,695.52 L301.74,695.51 L302.08,695.49 L302.41,695.47 L302.75,695.46 L303.08,695.44 L303.42,695.42 L303.75,695.40 L304.09,695.39 L304.42,695.37 L304.76,695.35 L305.09,695.33 L305.43,695.32 L305.77,695.30 L306.10,695.28 L306.44,695.26 L306.77,695.25 L307.11,695.23 L307.44,695.21 L307.78,695.19 L308.11,695.18 L308.45,695.16 L308.78,695.14 L309.12,695.12 L309.45,695.11 L309.79,695.09 L310.12,695.07 L310.46,695.06 L310.79,695.04 L311.13,695.03 L311.47,695.01 L311.80,695.00 L312.14,694.98 L312.47,694.97 L312.81,694.95 L313.14,694.94 L313.48,694.92 L313.81,694.91 L314.15,694.90 L314.48,694.89 L314.82,694.87 L315.15,694.86 L315.49,694.85 L315.82,694.84 L316.16,694.83 L316.49,694.82 L316.83,694.81 L317.17,694.80 L317.50,694.79 L317.84,694.78 L318.17,694.77 L318.51,694.76 L318.84,694.76 L319.18,694.75 L319.51,694.74 L319.85,694.74 L320.18,694.73 L320.52,694.73 L320.85,694.72 L321.19,694.72 L321.52,694.71 L321.86,694.71 L322.19,694.71 L322.53,694.70 L322.87,694.70 L323.20,694.70 L323.54,694.70 L323.87,694.70 L324.21,694.70 L324.54,694.70 L324.88,694.70 L325.21,694.70 L325.55,694.70 L325.88,694.71 L326.22,694.71 L326.55,694.71 L326.89,694.71 L327.22,694.72 L327.56,694.72 L327.90,694.72 L328.23,694.73 L328.57,694.73 L328.90,694.74 L329.24,694.74 L329.57,694.75 L329.91,694.75 L330.24,694.76 L330.58,694.76 L330.91,694.77 L331.25,694.78 L331.58,694.78 L331.92,694.79 L332.25,694.80 L332.59,694.81 L332.92,694.81 L333.26,694.82 L333.60,694.83 L333.93,694.84 L334.27,694.85 L334.60,694.86 L334.94,694.87 L335.27,694.88 L335.61,694.89 L335.94,694.90 L336.28,694.91 L336.61,694.92 L336.95,694.93 L337.28,694.94 L337.62,694.95 L337.95,694.96 L338.29,694.98 L338.62,694.99 L338.96,695.00 L339.30,695.01 L339.63,695.03 L339.97,695.04 L340.30,695.05 L340.64,695.07 L340.97,695.08 L341.31,695.10 L341.64,695.11 L341.98,695.13 L342.31,695.14 L342.65,695.16 L342.98,695.17 L343.32,695.19 L343.65,695.20 L343.99,695.22 L344.32,695.24 L344.66,695.25 L345.00,695.27 L345.33,695.29 L345.67,695.31 L346.00,695.32 L346.34,695.34 L346.67,695.36 L347.01,695.38 L347.34,695.40 L347.68,695.42 L348.01,695.44 L348.35,695.46 L348.68,695.48 L349.02,695.50 L349.35,695.52 L349.69,695.54 L350.02,695.56 L350.36,695.58 L350.70,695.60 L351.03,695.62 L351.37,695.64 L351.70,695.66 L352.04,695.68 L352.37,695.71 L352.71,695.73 L353.04,695.75 L353.38,695.77 L353.71,695.80 L354.05,695.82 L354.38,695.84 L354.72,695.87 L355.05,695.89 L355.39,695.91 L355.72,695.94 L356.06,695.96 L356.40,695.99 L356.73,696.01 L357.07,696.03 L357.40,696.06 L357.74,696.08 L358.07,696.11 L358.41,696.13 L358.74,696.16 L359.08,696.19 L359.41,696.21 L359.75,696.24 L360.08,696.26 L360.42,696.29 L360.75,696.32 L361.09,696.34 L361.43,696.37 L361.76,696.40 L362.10,696.42 L362.43,696.45 L362.77,696.48 L363.10,696.50 L363.44,696.53 L363.77,696.56 L364.11,696.59 L364.44,696.62 L364.78,696.64 L365.11,696.67 L365.45,696.70 L365.78,696.73 L366.12,696.76 L366.45,696.78 L366.79,696.81 L367.13,696.84 L367.46,696.87 L367.80,696.90 L368.13,696.93 L368.47,696.96 L368.80,696.99 L369.14,697.02 L369.47,697.05 L369.81,697.07 L370.14,697.10 L370.48,697.13 L370.81,697.16 L371.15,697.19 L371.48,697.22 L371.82,697.25 L372.15,697.28 L372.49,697.31 L372.83,697.34 L373.16,697.37 L373.50,697.40 L373.83,697.43 L374.17,697.46 L374.50,697.49 L374.84,697.52 L375.17,697.55 L375.51,697.58 L375.84,697.61 L376.18,697.65 L376.51,697.68 L376.85,697.71 L377.18,697.74 L377.52,697.77 L377.85,697.80 L378.19,697.83 L378.53,697.86 L378.86,697.89 L379.20,697.92 L379.53,697.95 L379.87,697.98 L380.20,698.01 L380.54,698.04 L380.87,698.07 L381.21,698.10 L381.54,698.14 L381.88,698.17 L382.21,698.20 L382.55,698.23 L382.88,698.26 L383.22,698.29 L383.55,698.32 L383.89,698.35 L384.23,698.38 L384.56,698.41 L384.90,698.44 L385.23,698.47 L385.57,698.50 L385.90,698.53 L386.24,698.56 L386.57,698.59 L386.91,698.62 L387.24,698.66 L387.58,698.69 L387.91,698.72 L388.25,698.75 L388.58,698.78 L388.92,698.81 L389.25,698.84 L389.59,698.87 L389.93,698.90 L390.26,698.93 L390.60,698.96 L390.93,698.99 L391.27,699.02 L391.60,699.05 L391.94,699.08 L392.27,699.10 L392.61,699.13 L392.94,699.16 L393.28,699.19 L393.61,699.22 L393.95,699.25 L394.28,699.28 L394.62,699.31 L394.96,699.34 L395.29,699.37 L395.63,699.40 L395.96,699.43 L396.30,699.45 L396.63,699.48 L396.97,699.51 L397.30,699.54 L397.64,699.57 L397.97,699.60 L398.31,699.62 L398.64,699.65 L398.98,699.68 L399.31,699.71 L399.65,699.74 L399.98,699.76 L400.32,699.79 L400.66,699.82 L400.99,699.85 L401.33,699.87 L401.66,699.90 L402.00,699.93 L402.33,699.95 L402.67,699.98 L403.00,700.01 L403.34,700.03 L403.67,700.06 L404.01,700.09 L404.34,700.11 L404.68,700.14 L405.01,700.17 L405.35,700.19 L405.68,700.22 L406.02,700.24 L406.36,700.27 L406.69,700.29 L407.03,700.32 L407.36,700.35 L407.70,700.37 L408.03,700.40 L408.37,700.42 L408.70,700.45 L409.04,700.47 L409.37,700.49 L409.71,700.52 L410.04,700.54 L410.38,700.57 L410.71,700.59 L411.05,700.62 L411.38,700.64 L411.72,700.66 L412.06,700.69 L412.39,700.71 L412.73,700.73 L413.06,700.76 L413.40,700.78 L413.73,700.80 L414.07,700.82 L414.40,700.85 L414.74,700.87 L415.07,700.89 L415.41,700.91 L415.74,700.94 L416.08,700.96" stroke="#c8e830" stroke-width="2.6" fill="none" stroke-linejoin="round" />
<path d="M238.37,702.34 L238.71,702.32 L239.04,702.30 L239.38,702.29 L239.71,702.27 L240.05,702.26 L240.38,702.24 L240.72,702.22 L241.05,702.21 L241.39,702.19 L241.72,702.17 L242.06,702.15 L242.39,702.13 L242.73,702.11 L243.06,702.09 L243.40,702.07 L243.73,702.05 L244.07,702.02 L244.41,702.00 L244.74,701.98 L245.08,701.95 L245.41,701.92 L245.75,701.90 L246.08,701.87 L246.42,701.84 L246.75,701.81 L247.09,701.78 L247.42,701.75 L247.76,701.71 L248.09,701.68 L248.43,701.64 L248.76,701.61 L249.10,701.57 L249.43,701.53 L249.77,701.48 L250.11,701.44 L250.44,701.40 L250.78,701.35 L251.11,701.30 L251.45,701.25 L251.78,701.20 L252.12,701.15 L252.45,701.09 L252.79,701.04 L253.12,700.98 L253.46,700.92 L253.79,700.86 L254.13,700.80 L254.46,700.74 L254.80,700.67 L255.13,700.61 L255.47,700.54 L255.81,700.47 L256.14,700.40 L256.48,700.34 L256.81,700.27 L257.15,700.19 L257.48,700.12 L257.82,700.05 L258.15,699.98 L258.49,699.91 L258.82,699.84 L259.16,699.77 L259.49,699.69 L259.83,699.62 L260.16,699.55 L260.50,699.48 L260.84,699.41 L261.17,699.34 L261.51,699.27 L261.84,699.20 L262.18,699.14 L262.51,699.07 L262.85,699.00 L263.18,698.93 L263.52,698.86 L263.85,698.79 L264.19,698.72 L264.52,698.65 L264.86,698.58 L265.19,698.51 L265.53,698.43 L265.86,698.35 L266.20,698.27 L266.54,698.18 L266.87,698.08 L267.21,697.98 L267.54,697.86 L267.88,697.73 L268.21,697.59 L268.55,697.42 L268.88,697.23 L269.22,697.00 L269.55,696.74 L269.89,696.43 L270.22,696.06 L270.56,695.63 L270.89,695.12 L271.23,694.51 L271.56,693.80 L271.90,692.98 L272.24,692.02 L272.57,690.91 L272.91,689.65 L273.24,688.23 L273.58,686.64 L273.91,684.88 L274.25,682.96 L274.58,680.88 L274.92,678.67 L275.25,676.35 L275.59,673.95 L275.92,671.53 L276.26,669.13 L276.59,666.83 L276.93,664.70 L277.26,662.84 L277.60,661.34 L277.94,660.27 L278.27,659.72 L278.61,659.69 L278.94,660.09 L279.28,660.90 L279.61,662.06 L279.95,663.53 L280.28,665.24 L280.62,667.14 L280.95,669.15 L281.29,671.24 L281.62,673.35 L281.96,675.44 L282.29,677.48 L282.63,679.44 L282.96,681.31 L283.30,683.07 L283.64,684.71 L283.97,686.22 L284.31,687.60 L284.64,688.85 L284.98,689.98 L285.31,690.98 L285.65,691.86 L285.98,692.64 L286.32,693.32 L286.65,693.91 L286.99,694.42 L287.32,694.86 L287.66,695.23 L287.99,695.55 L288.33,695.82 L288.66,696.05 L289.00,696.25 L289.34,696.42 L289.67,696.56 L290.01,696.68 L290.34,696.79 L290.68,696.88 L291.01,696.96 L291.35,697.02 L291.68,697.08 L292.02,697.13 L292.35,697.18 L292.69,697.22 L293.02,697.25 L293.36,697.28 L293.69,697.31 L294.03,697.33 L294.37,697.35 L294.70,697.37 L295.04,697.38 L295.37,697.40 L295.71,697.41 L296.04,697.41 L296.38,697.42 L296.71,697.43 L297.05,697.43 L297.38,697.43 L297.72,697.44 L298.05,697.44 L298.39,697.43 L298.72,697.43 L299.06,697.43 L299.39,697.43 L299.73,697.42 L300.07,697.42 L300.40,697.41 L300.74,697.40 L301.07,697.40 L301.41,697.39 L301.74,697.38 L302.08,697.37 L302.41,697.37 L302.75,697.36 L303.08,697.35 L303.42,697.34 L303.75,697.33 L304.09,697.32 L304.42,697.31 L304.76,697.30 L305.09,697.29 L305.43,697.28 L305.77,697.26 L306.10,697.25 L306.44,697.24 L306.77,697.23 L307.11,697.22 L307.44,697.21 L307.78,697.20 L308.11,697.19 L308.45,697.18 L308.78,697.17 L309.12,697.15 L309.45,697.14 L309.79,697.13 L310.12,697.12 L310.46,697.11 L310.79,697.10 L311.13,697.09 L311.47,697.08 L311.80,697.07 L312.14,697.06 L312.47,697.05 L312.81,697.04 L313.14,697.03 L313.48,697.03 L313.81,697.02 L314.15,697.01 L314.48,697.00 L314.82,696.99 L315.15,696.98 L315.49,696.98 L315.82,696.97 L316.16,696.96 L316.49,696.95 L316.83,696.95 L317.17,696.94 L317.50,696.94 L317.84,696.93 L318.17,696.93 L318.51,696.92 L318.84,696.92 L319.18,696.91 L319.51,696.91 L319.85,696.90 L320.18,696.90 L320.52,696.90 L320.85,696.89 L321.19,696.89 L321.52,696.89 L321.86,696.89 L322.19,696.88 L322.53,696.88 L322.87,696.88 L323.20,696.88 L323.54,696.88 L323.87,696.88 L324.21,696.88 L324.54,696.88 L324.88,696.88 L325.21,696.89 L325.55,696.89 L325.88,696.89 L326.22,696.89 L326.55,696.89 L326.89,696.90 L327.22,696.90 L327.56,696.90 L327.90,696.91 L328.23,696.91 L328.57,696.91 L328.90,696.92 L329.24,696.92 L329.57,696.92 L329.91,696.93 L330.24,696.93 L330.58,696.94 L330.91,696.94 L331.25,696.95 L331.58,696.95 L331.92,696.96 L332.25,696.96 L332.59,696.97 L332.92,696.98 L333.26,696.98 L333.60,696.99 L333.93,697.00 L334.27,697.00 L334.60,697.01 L334.94,697.02 L335.27,697.02 L335.61,697.03 L335.94,697.04 L336.28,697.05 L336.61,697.06 L336.95,697.06 L337.28,697.07 L337.62,697.08 L337.95,697.09 L338.29,697.10 L338.62,697.11 L338.96,697.12 L339.30,697.13 L339.63,697.14 L339.97,697.15 L340.30,697.16 L340.64,697.17 L340.97,697.18 L341.31,697.19 L341.64,697.20 L341.98,697.21 L342.31,697.23 L342.65,697.24 L342.98,697.25 L343.32,697.26 L343.65,697.27 L343.99,697.29 L344.32,697.30 L344.66,697.31 L345.00,697.32 L345.33,697.34 L345.67,697.35 L346.00,697.36 L346.34,697.38 L346.67,697.39 L347.01,697.40 L347.34,697.42 L347.68,697.43 L348.01,697.45 L348.35,697.46 L348.68,697.48 L349.02,697.49 L349.35,697.51 L349.69,697.52 L350.02,697.54 L350.36,697.55 L350.70,697.57 L351.03,697.58 L351.37,697.60 L351.70,697.62 L352.04,697.63 L352.37,697.65 L352.71,697.66 L353.04,697.68 L353.38,697.70 L353.71,697.71 L354.05,697.73 L354.38,697.75 L354.72,697.77 L355.05,697.78 L355.39,697.80 L355.72,697.82 L356.06,697.84 L356.40,697.86 L356.73,697.87 L357.07,697.89 L357.40,697.91 L357.74,697.93 L358.07,697.95 L358.41,697.97 L358.74,697.99 L359.08,698.00 L359.41,698.02 L359.75,698.04 L360.08,698.06 L360.42,698.08 L360.75,698.10 L361.09,698.12 L361.43,698.14 L361.76,698.16 L362.10,698.18 L362.43,698.20 L362.77,698.22 L363.10,698.24 L363.44,698.26 L363.77,698.28 L364.11,698.30 L364.44,698.32 L364.78,698.34 L365.11,698.36 L365.45,698.39 L365.78,698.41 L366.12,698.43 L366.45,698.45 L366.79,698.47 L367.13,698.49 L367.46,698.51 L367.80,698.53 L368.13,698.56 L368.47,698.58 L368.80,698.60 L369.14,698.62 L369.47,698.64 L369.81,698.66 L370.14,698.69 L370.48,698.71 L370.81,698.73 L371.15,698.75 L371.48,698.77 L371.82,698.80 L372.15,698.82 L372.49,698.84 L372.83,698.86 L373.16,698.88 L373.50,698.91 L373.83,698.93 L374.17,698.95 L374.50,698.97 L374.84,699.00 L375.17,699.02 L375.51,699.04 L375.84,699.06 L376.18,699.09 L376.51,699.11 L376.85,699.13 L377.18,699.15 L377.52,699.18 L377.85,699.20 L378.19,699.22 L378.53,699.25 L378.86,699.27 L379.20,699.29 L379.53,699.31 L379.87,699.34 L380.20,699.36 L380.54,699.38 L380.87,699.40 L381.21,699.43 L381.54,699.45 L381.88,699.47 L382.21,699.50 L382.55,699.52 L382.88,699.54 L383.22,699.56 L383.55,699.59 L383.89,699.61 L384.23,699.63 L384.56,699.65 L384.90,699.68 L385.23,699.70 L385.57,699.72 L385.90,699.74 L386.24,699.77 L386.57,699.79 L386.91,699.81 L387.24,699.83 L387.58,699.86 L387.91,699.88 L388.25,699.90 L388.58,699.92 L388.92,699.95 L389.25,699.97 L389.59,699.99 L389.93,700.01 L390.26,700.04 L390.60,700.06 L390.93,700.08 L391.27,700.10 L391.60,700.12 L391.94,700.15 L392.27,700.17 L392.61,700.19 L392.94,700.21 L393.28,700.23 L393.61,700.25 L393.95,700.28 L394.28,700.30 L394.62,700.32 L394.96,700.34 L395.29,700.36 L395.63,700.38 L395.96,700.40 L396.30,700.43 L396.63,700.45 L396.97,700.47 L397.30,700.49 L397.64,700.51 L397.97,700.53 L398.31,700.55 L398.64,700.57 L398.98,700.59 L399.31,700.61 L399.65,700.63 L399.98,700.66 L400.32,700.68 L400.66,700.70 L400.99,700.72 L401.33,700.74 L401.66,700.76 L402.00,700.78 L402.33,700.80 L402.67,700.82 L403.00,700.84 L403.34,700.86 L403.67,700.88 L404.01,700.90 L404.34,700.91 L404.68,700.93 L405.01,700.95 L405.35,700.97 L405.68,700.99 L406.02,701.01 L406.36,701.03 L406.69,701.05 L407.03,701.07 L407.36,701.09 L407.70,701.10 L408.03,701.12 L408.37,701.14 L408.70,701.16 L409.04,701.18 L409.37,701.20 L409.71,701.21 L410.04,701.23 L410.38,701.25 L410.71,701.27 L411.05,701.29 L411.38,701.30 L411.72,701.32 L412.06,701.34 L412.39,701.36 L412.73,701.37 L413.06,701.39 L413.40,701.41 L413.73,701.42 L414.07,701.44 L414.40,701.46 L414.74,701.47 L415.07,701.49 L415.41,701.51 L415.74,701.52 L416.08,701.54" stroke="#64c034" stroke-width="2.6" fill="none" stroke-linejoin="round" />
<path d="M238.37,702.50 L238.71,702.49 L239.04,702.48 L239.38,702.46 L239.71,702.45 L240.05,702.44 L240.38,702.42 L240.72,702.41 L241.05,702.40 L241.39,702.38 L241.72,702.37 L242.06,702.35 L242.39,702.33 L242.73,702.32 L243.06,702.30 L243.40,702.28 L243.73,702.27 L244.07,702.25 L244.41,702.23 L244.74,702.21 L245.08,702.19 L245.41,702.17 L245.75,702.15 L246.08,702.12 L246.42,702.10 L246.75,702.08 L247.09,702.05 L247.42,702.03 L247.76,702.00 L248.09,701.97 L248.43,701.94 L248.76,701.91 L249.10,701.88 L249.43,701.85 L249.77,701.82 L250.11,701.78 L250.44,701.75 L250.78,701.71 L251.11,701.67 L251.45,701.63 L251.78,701.59 L252.12,701.55 L252.45,701.50 L252.79,701.46 L253.12,701.41 L253.46,701.36 L253.79,701.32 L254.13,701.27 L254.46,701.21 L254.80,701.16 L255.13,701.11 L255.47,701.05 L255.81,701.00 L256.14,700.94 L256.48,700.89 L256.81,700.83 L257.15,700.77 L257.48,700.71 L257.82,700.65 L258.15,700.59 L258.49,700.52 L258.82,700.46 L259.16,700.40 L259.49,700.34 L259.83,700.27 L260.16,700.21 L260.50,700.14 L260.84,700.08 L261.17,700.01 L261.51,699.94 L261.84,699.88 L262.18,699.81 L262.51,699.74 L262.85,699.67 L263.18,699.60 L263.52,699.52 L263.85,699.45 L264.19,699.37 L264.52,699.29 L264.86,699.21 L265.19,699.12 L265.53,699.03 L265.86,698.93 L266.20,698.82 L266.54,698.71 L266.87,698.59 L267.21,698.45 L267.54,698.30 L267.88,698.14 L268.21,697.95 L268.55,697.73 L268.88,697.48 L269.22,697.18 L269.55,696.84 L269.89,696.43 L270.22,695.95 L270.56,695.39 L270.89,694.72 L271.23,693.93 L271.56,693.01 L271.90,691.93 L272.24,690.68 L272.57,689.25 L272.91,687.62 L273.24,685.77 L273.58,683.71 L273.91,681.42 L274.25,678.93 L274.58,676.24 L274.92,673.37 L275.25,670.36 L275.59,667.26 L275.92,664.12 L276.26,661.01 L276.59,658.03 L276.93,655.28 L277.26,652.87 L277.60,650.93 L277.94,649.56 L278.27,648.84 L278.61,648.81 L278.94,649.35 L279.28,650.40 L279.61,651.92 L279.95,653.84 L280.28,656.07 L280.62,658.54 L280.95,661.17 L281.29,663.88 L281.62,666.63 L281.96,669.36 L282.29,672.02 L282.63,674.58 L282.96,677.02 L283.30,679.32 L283.64,681.46 L283.97,683.43 L284.31,685.24 L284.64,686.87 L284.98,688.35 L285.31,689.66 L285.65,690.83 L285.98,691.85 L286.32,692.75 L286.65,693.53 L286.99,694.21 L287.32,694.79 L287.66,695.29 L287.99,695.72 L288.33,696.09 L288.66,696.41 L289.00,696.68 L289.34,696.92 L289.67,697.12 L290.01,697.30 L290.34,697.45 L290.68,697.58 L291.01,697.70 L291.35,697.80 L291.68,697.90 L292.02,697.98 L292.35,698.06 L292.69,698.12 L293.02,698.18 L293.36,698.24 L293.69,698.29 L294.03,698.34 L294.37,698.38 L294.70,698.42 L295.04,698.45 L295.37,698.49 L295.71,698.52 L296.04,698.54 L296.38,698.57 L296.71,698.59 L297.05,698.61 L297.38,698.63 L297.72,698.65 L298.05,698.67 L298.39,698.68 L298.72,698.69 L299.06,698.70 L299.39,698.71 L299.73,698.72 L300.07,698.73 L300.40,698.74 L300.74,698.75 L301.07,698.75 L301.41,698.76 L301.74,698.76 L302.08,698.76 L302.41,698.77 L302.75,698.77 L303.08,698.77 L303.42,698.77 L303.75,698.77 L304.09,698.77 L304.42,698.77 L304.76,698.77 L305.09,698.77 L305.43,698.77 L305.77,698.77 L306.10,698.76 L306.44,698.76 L306.77,698.76 L307.11,698.76 L307.44,698.75 L307.78,698.75 L308.11,698.75 L308.45,698.74 L308.78,698.74 L309.12,698.74 L309.45,698.73 L309.79,698.73 L310.12,698.73 L310.46,698.72 L310.79,698.72 L311.13,698.72 L311.47,698.71 L311.80,698.71 L312.14,698.70 L312.47,698.70 L312.81,698.70 L313.14,698.69 L313.48,698.69 L313.81,698.69 L314.15,698.68 L314.48,698.68 L314.82,698.68 L315.15,698.67 L315.49,698.67 L315.82,698.67 L316.16,698.67 L316.49,698.66 L316.83,698.66 L317.17,698.66 L317.50,698.66 L317.84,698.66 L318.17,698.65 L318.51,698.65 L318.84,698.65 L319.18,698.65 L319.51,698.65 L319.85,698.65 L320.18,698.65 L320.52,698.65 L320.85,698.64 L321.19,698.64 L321.52,698.64 L321.86,698.64 L322.19,698.65 L322.53,698.65 L322.87,698.65 L323.20,698.65 L323.54,698.65 L323.87,698.65 L324.21,698.65 L324.54,698.65 L324.88,698.66 L325.21,698.66 L325.55,698.66 L325.88,698.66 L326.22,698.67 L326.55,698.67 L326.89,698.67 L327.22,698.67 L327.56,698.68 L327.90,698.68 L328.23,698.68 L328.57,698.69 L328.90,698.69 L329.24,698.70 L329.57,698.70 L329.91,698.70 L330.24,698.71 L330.58,698.71 L330.91,698.72 L331.25,698.72 L331.58,698.72 L331.92,698.73 L332.25,698.73 L332.59,698.74 L332.92,698.74 L333.26,698.75 L333.60,698.75 L333.93,698.76 L334.27,698.77 L334.60,698.77 L334.94,698.78 L335.27,698.78 L335.61,698.79 L335.94,698.80 L336.28,698.80 L336.61,698.81 L336.95,698.81 L337.28,698.82 L337.62,698.83 L337.95,698.84 L338.29,698.84 L338.62,698.85 L338.96,698.86 L339.30,698.86 L339.63,698.87 L339.97,698.88 L340.30,698.89 L340.64,698.90 L340.97,698.90 L341.31,698.91 L341.64,698.92 L341.98,698.93 L342.31,698.94 L342.65,698.95 L342.98,698.95 L343.32,698.96 L343.65,698.97 L343.99,698.98 L344.32,698.99 L344.66,699.00 L345.00,699.01 L345.33,699.02 L345.67,699.03 L346.00,699.04 L346.34,699.05 L346.67,699.06 L347.01,699.07 L347.34,699.08 L347.68,699.09 L348.01,699.10 L348.35,699.11 L348.68,699.12 L349.02,699.13 L349.35,699.14 L349.69,699.15 L350.02,699.17 L350.36,699.18 L350.70,699.19 L351.03,699.20 L351.37,699.21 L351.70,699.22 L352.04,699.23 L352.37,699.25 L352.71,699.26 L353.04,699.27 L353.38,699.28 L353.71,699.30 L354.05,699.31 L354.38,699.32 L354.72,699.33 L355.05,699.35 L355.39,699.36 L355.72,699.37 L356.06,699.38 L356.40,699.40 L356.73,699.41 L357.07,699.42 L357.40,699.44 L357.74,699.45 L358.07,699.46 L358.41,699.48 L358.74,699.49 L359.08,699.50 L359.41,699.52 L359.75,699.53 L360.08,699.55 L360.42,699.56 L360.75,699.57 L361.09,699.59 L361.43,699.60 L361.76,699.62 L362.10,699.63 L362.43,699.64 L362.77,699.66 L363.10,699.67 L363.44,699.69 L363.77,699.70 L364.11,699.72 L364.44,699.73 L364.78,699.75 L365.11,699.76 L365.45,699.78 L365.78,699.79 L366.12,699.81 L366.45,699.82 L366.79,699.84 L367.13,699.85 L367.46,699.87 L367.80,699.88 L368.13,699.90 L368.47,699.91 L368.80,699.93 L369.14,699.94 L369.47,699.96 L369.81,699.98 L370.14,699.99 L370.48,700.01 L370.81,700.02 L371.15,700.04 L371.48,700.05 L371.82,700.07 L372.15,700.09 L372.49,700.10 L372.83,700.12 L373.16,700.13 L373.50,700.15 L373.83,700.16 L374.17,700.18 L374.50,700.20 L374.84,700.21 L375.17,700.23 L375.51,700.24 L375.84,700.26 L376.18,700.28 L376.51,700.29 L376.85,700.31 L377.18,700.33 L377.52,700.34 L377.85,700.36 L378.19,700.37 L378.53,700.39 L378.86,700.41 L379.20,700.42 L379.53,700.44 L379.87,700.45 L380.20,700.47 L380.54,700.49 L380.87,700.50 L381.21,700.52 L381.54,700.54 L381.88,700.55 L382.21,700.57 L382.55,700.58 L382.88,700.60 L383.22,700.62 L383.55,700.63 L383.89,700.65 L384.23,700.66 L384.56,700.68 L384.90,700.70 L385.23,700.71 L385.57,700.73 L385.90,700.74 L386.24,700.76 L386.57,700.78 L386.91,700.79 L387.24,700.81 L387.58,700.82 L387.91,700.84 L388.25,700.86 L388.58,700.87 L388.92,700.89 L389.25,700.90 L389.59,700.92 L389.93,700.94 L390.26,700.95 L390.60,700.97 L390.93,700.98 L391.27,701.00 L391.60,701.01 L391.94,701.03 L392.27,701.04 L392.61,701.06 L392.94,701.08 L393.28,701.09 L393.61,701.11 L393.95,701.12 L394.28,701.14 L394.62,701.15 L394.96,701.17 L395.29,701.18 L395.63,701.20 L395.96,701.21 L396.30,701.23 L396.63,701.24 L396.97,701.26 L397.30,701.27 L397.64,701.29 L397.97,701.30 L398.31,701.32 L398.64,701.33 L398.98,701.35 L399.31,701.36 L399.65,701.38 L399.98,701.39 L400.32,701.41 L400.66,701.42 L400.99,701.43 L401.33,701.45 L401.66,701.46 L402.00,701.48 L402.33,701.49 L402.67,701.51 L403.00,701.52 L403.34,701.53 L403.67,701.55 L404.01,701.56 L404.34,701.57 L404.68,701.59 L405.01,701.60 L405.35,701.62 L405.68,701.63 L406.02,701.64 L406.36,701.66 L406.69,701.67 L407.03,701.68 L407.36,701.70 L407.70,701.71 L408.03,701.72 L408.37,701.74 L408.70,701.75 L409.04,701.76 L409.37,701.77 L409.71,701.79 L410.04,701.80 L410.38,701.81 L410.71,701.83 L411.05,701.84 L411.38,701.85 L411.72,701.86 L412.06,701.88 L412.39,701.89 L412.73,701.90 L413.06,701.91 L413.40,701.92 L413.73,701.94 L414.07,701.95 L414.40,701.96 L414.74,701.97 L415.07,701.98 L415.41,701.99 L415.74,702.01 L416.08,702.02" stroke="#62e6f2" stroke-width="2.6" fill="none" stroke-linejoin="round" />
<path d="M238.37,702.66 L238.71,702.65 L239.04,702.64 L239.38,702.63 L239.71,702.62 L240.05,702.61 L240.38,702.60 L240.72,702.59 L241.05,702.58 L241.39,702.57 L241.72,702.56 L242.06,702.55 L242.39,702.53 L242.73,702.52 L243.06,702.51 L243.40,702.50 L243.73,702.48 L244.07,702.47 L244.41,702.45 L244.74,702.44 L245.08,702.42 L245.41,702.41 L245.75,702.39 L246.08,702.37 L246.42,702.36 L246.75,702.34 L247.09,702.32 L247.42,702.30 L247.76,702.28 L248.09,702.26 L248.43,702.23 L248.76,702.21 L249.10,702.19 L249.43,702.16 L249.77,702.14 L250.11,702.11 L250.44,702.08 L250.78,702.06 L251.11,702.03 L251.45,702.00 L251.78,701.96 L252.12,701.93 L252.45,701.90 L252.79,701.86 L253.12,701.83 L253.46,701.79 L253.79,701.76 L254.13,701.72 L254.46,701.68 L254.80,701.64 L255.13,701.60 L255.47,701.55 L255.81,701.51 L256.14,701.47 L256.48,701.42 L256.81,701.38 L257.15,701.33 L257.48,701.28 L257.82,701.24 L258.15,701.19 L258.49,701.14 L258.82,701.09 L259.16,701.04 L259.49,700.99 L259.83,700.93 L260.16,700.88 L260.50,700.83 L260.84,700.77 L261.17,700.72 L261.51,700.66 L261.84,700.61 L262.18,700.55 L262.51,700.49 L262.85,700.43 L263.18,700.36 L263.52,700.30 L263.85,700.23 L264.19,700.16 L264.52,700.09 L264.86,700.01 L265.19,699.93 L265.53,699.84 L265.86,699.75 L266.20,699.66 L266.54,699.55 L266.87,699.44 L267.21,699.31 L267.54,699.17 L267.88,699.01 L268.21,698.83 L268.55,698.62 L268.88,698.39 L269.22,698.11 L269.55,697.78 L269.89,697.40 L270.22,696.94 L270.56,696.41 L270.89,695.78 L271.23,695.03 L271.56,694.16 L271.90,693.14 L272.24,691.96 L272.57,690.61 L272.91,689.06 L273.24,687.32 L273.58,685.37 L273.91,683.22 L274.25,680.86 L274.58,678.32 L274.92,675.61 L275.25,672.77 L275.59,669.84 L275.92,666.88 L276.26,663.94 L276.59,661.13 L276.93,658.54 L277.26,656.27 L277.60,654.43 L277.94,653.14 L278.27,652.47 L278.61,652.44 L278.94,652.95 L279.28,653.95 L279.61,655.39 L279.95,657.20 L280.28,659.31 L280.62,661.64 L280.95,664.13 L281.29,666.70 L281.62,669.30 L281.96,671.87 L282.29,674.39 L282.63,676.81 L282.96,679.12 L283.30,681.29 L283.64,683.32 L283.97,685.19 L284.31,686.90 L284.64,688.45 L284.98,689.84 L285.31,691.09 L285.65,692.20 L285.98,693.17 L286.32,694.02 L286.65,694.76 L286.99,695.41 L287.32,695.96 L287.66,696.44 L287.99,696.85 L288.33,697.21 L288.66,697.51 L289.00,697.78 L289.34,698.00 L289.67,698.20 L290.01,698.37 L290.34,698.52 L290.68,698.65 L291.01,698.76 L291.35,698.87 L291.68,698.96 L292.02,699.04 L292.35,699.12 L292.69,699.19 L293.02,699.25 L293.36,699.31 L293.69,699.36 L294.03,699.41 L294.37,699.46 L294.70,699.50 L295.04,699.53 L295.37,699.57 L295.71,699.60 L296.04,699.63 L296.38,699.66 L296.71,699.69 L297.05,699.71 L297.38,699.74 L297.72,699.76 L298.05,699.78 L298.39,699.79 L298.72,699.81 L299.06,699.83 L299.39,699.84 L299.73,699.85 L300.07,699.87 L300.40,699.88 L300.74,699.89 L301.07,699.90 L301.41,699.90 L301.74,699.91 L302.08,699.92 L302.41,699.93 L302.75,699.93 L303.08,699.94 L303.42,699.94 L303.75,699.95 L304.09,699.95 L304.42,699.95 L304.76,699.96 L305.09,699.96 L305.43,699.96 L305.77,699.96 L306.10,699.97 L306.44,699.97 L306.77,699.97 L307.11,699.97 L307.44,699.97 L307.78,699.97 L308.11,699.97 L308.45,699.97 L308.78,699.97 L309.12,699.97 L309.45,699.97 L309.79,699.97 L310.12,699.97 L310.46,699.97 L310.79,699.97 L311.13,699.97 L311.47,699.97 L311.80,699.97 L312.14,699.97 L312.47,699.97 L312.81,699.96 L313.14,699.96 L313.48,699.96 L313.81,699.96 L314.15,699.96 L314.48,699.96 L314.82,699.96 L315.15,699.96 L315.49,699.96 L315.82,699.96 L316.16,699.96 L316.49,699.96 L316.83,699.96 L317.17,699.96 L317.50,699.95 L317.84,699.95 L318.17,699.95 L318.51,699.95 L318.84,699.95 L319.18,699.95 L319.51,699.95 L319.85,699.95 L320.18,699.96 L320.52,699.96 L320.85,699.96 L321.19,699.96 L321.52,699.96 L321.86,699.96 L322.19,699.96 L322.53,699.96 L322.87,699.96 L323.20,699.96 L323.54,699.97 L323.87,699.97 L324.21,699.97 L324.54,699.97 L324.88,699.97 L325.21,699.97 L325.55,699.98 L325.88,699.98 L326.22,699.98 L326.55,699.98 L326.89,699.99 L327.22,699.99 L327.56,699.99 L327.90,700.00 L328.23,700.00 L328.57,700.00 L328.90,700.00 L329.24,700.01 L329.57,700.01 L329.91,700.01 L330.24,700.02 L330.58,700.02 L330.91,700.02 L331.25,700.03 L331.58,700.03 L331.92,700.04 L332.25,700.04 L332.59,700.04 L332.92,700.05 L333.26,700.05 L333.60,700.06 L333.93,700.06 L334.27,700.06 L334.60,700.07 L334.94,700.07 L335.27,700.08 L335.61,700.08 L335.94,700.09 L336.28,700.09 L336.61,700.10 L336.95,700.10 L337.28,700.11 L337.62,700.11 L337.95,700.12 L338.29,700.12 L338.62,700.13 L338.96,700.13 L339.30,700.14 L339.63,700.14 L339.97,700.15 L340.30,700.16 L340.64,700.16 L340.97,700.17 L341.31,700.17 L341.64,700.18 L341.98,700.19 L342.31,700.19 L342.65,700.20 L342.98,700.20 L343.32,700.21 L343.65,700.22 L343.99,700.22 L344.32,700.23 L344.66,700.24 L345.00,700.24 L345.33,700.25 L345.67,700.26 L346.00,700.27 L346.34,700.27 L346.67,700.28 L347.01,700.29 L347.34,700.29 L347.68,700.30 L348.01,700.31 L348.35,700.32 L348.68,700.32 L349.02,700.33 L349.35,700.34 L349.69,700.35 L350.02,700.36 L350.36,700.36 L350.70,700.37 L351.03,700.38 L351.37,700.39 L351.70,700.40 L352.04,700.41 L352.37,700.41 L352.71,700.42 L353.04,700.43 L353.38,700.44 L353.71,700.45 L354.05,700.46 L354.38,700.47 L354.72,700.48 L355.05,700.48 L355.39,700.49 L355.72,700.50 L356.06,700.51 L356.40,700.52 L356.73,700.53 L357.07,700.54 L357.40,700.55 L357.74,700.56 L358.07,700.57 L358.41,700.58 L358.74,700.59 L359.08,700.60 L359.41,700.61 L359.75,700.62 L360.08,700.63 L360.42,700.64 L360.75,700.65 L361.09,700.66 L361.43,700.67 L361.76,700.68 L362.10,700.69 L362.43,700.70 L362.77,700.71 L363.10,700.72 L363.44,700.73 L363.77,700.74 L364.11,700.75 L364.44,700.76 L364.78,700.77 L365.11,700.78 L365.45,700.79 L365.78,700.80 L366.12,700.81 L366.45,700.82 L366.79,700.83 L367.13,700.84 L367.46,700.85 L367.80,700.87 L368.13,700.88 L368.47,700.89 L368.80,700.90 L369.14,700.91 L369.47,700.92 L369.81,700.93 L370.14,700.94 L370.48,700.95 L370.81,700.96 L371.15,700.98 L371.48,700.99 L371.82,701.00 L372.15,701.01 L372.49,701.02 L372.83,701.03 L373.16,701.04 L373.50,701.05 L373.83,701.06 L374.17,701.08 L374.50,701.09 L374.84,701.10 L375.17,701.11 L375.51,701.12 L375.84,701.13 L376.18,701.14 L376.51,701.15 L376.85,701.17 L377.18,701.18 L377.52,701.19 L377.85,701.20 L378.19,701.21 L378.53,701.22 L378.86,701.23 L379.20,701.25 L379.53,701.26 L379.87,701.27 L380.20,701.28 L380.54,701.29 L380.87,701.30 L381.21,701.31 L381.54,701.33 L381.88,701.34 L382.21,701.35 L382.55,701.36 L382.88,701.37 L383.22,701.38 L383.55,701.39 L383.89,701.40 L384.23,701.42 L384.56,701.43 L384.90,701.44 L385.23,701.45 L385.57,701.46 L385.90,701.47 L386.24,701.48 L386.57,701.50 L386.91,701.51 L387.24,701.52 L387.58,701.53 L387.91,701.54 L388.25,701.55 L388.58,701.56 L388.92,701.57 L389.25,701.58 L389.59,701.60 L389.93,701.61 L390.26,701.62 L390.60,701.63 L390.93,701.64 L391.27,701.65 L391.60,701.66 L391.94,701.67 L392.27,701.68 L392.61,701.69 L392.94,701.71 L393.28,701.72 L393.61,701.73 L393.95,701.74 L394.28,701.75 L394.62,701.76 L394.96,701.77 L395.29,701.78 L395.63,701.79 L395.96,701.80 L396.30,701.81 L396.63,701.82 L396.97,701.83 L397.30,701.84 L397.64,701.85 L397.97,701.87 L398.31,701.88 L398.64,701.89 L398.98,701.90 L399.31,701.91 L399.65,701.92 L399.98,701.93 L400.32,701.94 L400.66,701.95 L400.99,701.96 L401.33,701.97 L401.66,701.98 L402.00,701.99 L402.33,702.00 L402.67,702.01 L403.00,702.02 L403.34,702.03 L403.67,702.04 L404.01,702.05 L404.34,702.06 L404.68,702.07 L405.01,702.08 L405.35,702.08 L405.68,702.09 L406.02,702.10 L406.36,702.11 L406.69,702.12 L407.03,702.13 L407.36,702.14 L407.70,702.15 L408.03,702.16 L408.37,702.17 L408.70,702.18 L409.04,702.19 L409.37,702.20 L409.71,702.21 L410.04,702.21 L410.38,702.22 L410.71,702.23 L411.05,702.24 L411.38,702.25 L411.72,702.26 L412.06,702.27 L412.39,702.28 L412.73,702.28 L413.06,702.29 L413.40,702.30 L413.73,702.31 L414.07,702.32 L414.40,702.33 L414.74,702.33 L415.07,702.34 L415.41,702.35 L415.74,702.36 L416.08,702.37" stroke="#2a80ee" stroke-width="2.6" fill="none" stroke-linejoin="round" />
<path d="M238.37,702.83 L238.71,702.83 L239.04,702.82 L239.38,702.82 L239.71,702.81 L240.05,702.80 L240.38,702.79 L240.72,702.79 L241.05,702.78 L241.39,702.77 L241.72,702.76 L242.06,702.76 L242.39,702.75 L242.73,702.74 L243.06,702.73 L243.40,702.72 L243.73,702.71 L244.07,702.70 L244.41,702.69 L244.74,702.68 L245.08,702.67 L245.41,702.66 L245.75,702.65 L246.08,702.64 L246.42,702.63 L246.75,702.62 L247.09,702.60 L247.42,702.59 L247.76,702.58 L248.09,702.56 L248.43,702.55 L248.76,702.53 L249.10,702.51 L249.43,702.50 L249.77,702.48 L250.11,702.46 L250.44,702.44 L250.78,702.43 L251.11,702.41 L251.45,702.38 L251.78,702.36 L252.12,702.34 L252.45,702.32 L252.79,702.30 L253.12,702.27 L253.46,702.25 L253.79,702.22 L254.13,702.20 L254.46,702.17 L254.80,702.14 L255.13,702.11 L255.47,702.09 L255.81,702.06 L256.14,702.03 L256.48,702.00 L256.81,701.96 L257.15,701.93 L257.48,701.90 L257.82,701.87 L258.15,701.83 L258.49,701.80 L258.82,701.76 L259.16,701.73 L259.49,701.69 L259.83,701.65 L260.16,701.62 L260.50,701.58 L260.84,701.54 L261.17,701.50 L261.51,701.46 L261.84,701.41 L262.18,701.37 L262.51,701.33 L262.85,701.28 L263.18,701.23 L263.52,701.18 L263.85,701.13 L264.19,701.08 L264.52,701.02 L264.86,700.96 L265.19,700.90 L265.53,700.83 L265.86,700.76 L266.20,700.69 L266.54,700.60 L266.87,700.51 L267.21,700.41 L267.54,700.30 L267.88,700.18 L268.21,700.03 L268.55,699.87 L268.88,699.68 L269.22,699.46 L269.55,699.20 L269.89,698.90 L270.22,698.54 L270.56,698.11 L270.89,697.61 L271.23,697.02 L271.56,696.33 L271.90,695.53 L272.24,694.59 L272.57,693.52 L272.91,692.30 L273.24,690.92 L273.58,689.37 L273.91,687.67 L274.25,685.80 L274.58,683.79 L274.92,681.65 L275.25,679.40 L275.59,677.08 L275.92,674.74 L276.26,672.42 L276.59,670.19 L276.93,668.14 L277.26,666.34 L277.60,664.89 L277.94,663.87 L278.27,663.34 L278.61,663.32 L278.94,663.72 L279.28,664.52 L279.61,665.66 L279.95,667.09 L280.28,668.76 L280.62,670.61 L280.95,672.58 L281.29,674.62 L281.62,676.67 L281.96,678.72 L282.29,680.71 L282.63,682.63 L282.96,684.46 L283.30,686.18 L283.64,687.79 L283.97,689.27 L284.31,690.62 L284.64,691.85 L284.98,692.96 L285.31,693.95 L285.65,694.83 L285.98,695.60 L286.32,696.28 L286.65,696.87 L286.99,697.38 L287.32,697.82 L287.66,698.20 L287.99,698.53 L288.33,698.81 L288.66,699.06 L289.00,699.27 L289.34,699.45 L289.67,699.61 L290.01,699.74 L290.34,699.86 L290.68,699.97 L291.01,700.06 L291.35,700.15 L291.68,700.22 L292.02,700.29 L292.35,700.35 L292.69,700.41 L293.02,700.46 L293.36,700.51 L293.69,700.56 L294.03,700.60 L294.37,700.63 L294.70,700.67 L295.04,700.70 L295.37,700.73 L295.71,700.76 L296.04,700.79 L296.38,700.81 L296.71,700.84 L297.05,700.86 L297.38,700.88 L297.72,700.90 L298.05,700.91 L298.39,700.93 L298.72,700.95 L299.06,700.96 L299.39,700.97 L299.73,700.99 L300.07,701.00 L300.40,701.01 L300.74,701.02 L301.07,701.03 L301.41,701.04 L301.74,701.05 L302.08,701.05 L302.41,701.06 L302.75,701.07 L303.08,701.07 L303.42,701.08 L303.75,701.08 L304.09,701.09 L304.42,701.09 L304.76,701.10 L305.09,701.10 L305.43,701.11 L305.77,701.11 L306.10,701.11 L306.44,701.12 L306.77,701.12 L307.11,701.12 L307.44,701.12 L307.78,701.12 L308.11,701.13 L308.45,701.13 L308.78,701.13 L309.12,701.13 L309.45,701.13 L309.79,701.13 L310.12,701.14 L310.46,701.14 L310.79,701.14 L311.13,701.14 L311.47,701.14 L311.80,701.14 L312.14,701.14 L312.47,701.14 L312.81,701.14 L313.14,701.14 L313.48,701.14 L313.81,701.14 L314.15,701.14 L314.48,701.14 L314.82,701.14 L315.15,701.14 L315.49,701.14 L315.82,701.15 L316.16,701.15 L316.49,701.15 L316.83,701.15 L317.17,701.15 L317.50,701.15 L317.84,701.15 L318.17,701.15 L318.51,701.15 L318.84,701.15 L319.18,701.15 L319.51,701.15 L319.85,701.15 L320.18,701.15 L320.52,701.15 L320.85,701.16 L321.19,701.16 L321.52,701.16 L321.86,701.16 L322.19,701.16 L322.53,701.16 L322.87,701.16 L323.20,701.16 L323.54,701.16 L323.87,701.17 L324.21,701.17 L324.54,701.17 L324.88,701.17 L325.21,701.17 L325.55,701.18 L325.88,701.18 L326.22,701.18 L326.55,701.18 L326.89,701.18 L327.22,701.19 L327.56,701.19 L327.90,701.19 L328.23,701.19 L328.57,701.19 L328.90,701.20 L329.24,701.20 L329.57,701.20 L329.91,701.20 L330.24,701.21 L330.58,701.21 L330.91,701.21 L331.25,701.21 L331.58,701.22 L331.92,701.22 L332.25,701.22 L332.59,701.22 L332.92,701.23 L333.26,701.23 L333.60,701.23 L333.93,701.23 L334.27,701.24 L334.60,701.24 L334.94,701.24 L335.27,701.25 L335.61,701.25 L335.94,701.25 L336.28,701.26 L336.61,701.26 L336.95,701.26 L337.28,701.27 L337.62,701.27 L337.95,701.27 L338.29,701.28 L338.62,701.28 L338.96,701.28 L339.30,701.29 L339.63,701.29 L339.97,701.29 L340.30,701.30 L340.64,701.30 L340.97,701.31 L341.31,701.31 L341.64,701.31 L341.98,701.32 L342.31,701.32 L342.65,701.33 L342.98,701.33 L343.32,701.33 L343.65,701.34 L343.99,701.34 L344.32,701.35 L344.66,701.35 L345.00,701.36 L345.33,701.36 L345.67,701.36 L346.00,701.37 L346.34,701.37 L346.67,701.38 L347.01,701.38 L347.34,701.39 L347.68,701.39 L348.01,701.40 L348.35,701.40 L348.68,701.41 L349.02,701.41 L349.35,701.42 L349.69,701.42 L350.02,701.43 L350.36,701.43 L350.70,701.44 L351.03,701.44 L351.37,701.45 L351.70,701.45 L352.04,701.46 L352.37,701.46 L352.71,701.47 L353.04,701.47 L353.38,701.48 L353.71,701.49 L354.05,701.49 L354.38,701.50 L354.72,701.50 L355.05,701.51 L355.39,701.51 L355.72,701.52 L356.06,701.52 L356.40,701.53 L356.73,701.54 L357.07,701.54 L357.40,701.55 L357.74,701.55 L358.07,701.56 L358.41,701.57 L358.74,701.57 L359.08,701.58 L359.41,701.58 L359.75,701.59 L360.08,701.60 L360.42,701.60 L360.75,701.61 L361.09,701.62 L361.43,701.62 L361.76,701.63 L362.10,701.63 L362.43,701.64 L362.77,701.65 L363.10,701.65 L363.44,701.66 L363.77,701.67 L364.11,701.67 L364.44,701.68 L364.78,701.69 L365.11,701.69 L365.45,701.70 L365.78,701.71 L366.12,701.71 L366.45,701.72 L366.79,701.73 L367.13,701.73 L367.46,701.74 L367.80,701.75 L368.13,701.75 L368.47,701.76 L368.80,701.77 L369.14,701.77 L369.47,701.78 L369.81,701.79 L370.14,701.79 L370.48,701.80 L370.81,701.81 L371.15,701.81 L371.48,701.82 L371.82,701.83 L372.15,701.84 L372.49,701.84 L372.83,701.85 L373.16,701.86 L373.50,701.86 L373.83,701.87 L374.17,701.88 L374.50,701.88 L374.84,701.89 L375.17,701.90 L375.51,701.91 L375.84,701.91 L376.18,701.92 L376.51,701.93 L376.85,701.93 L377.18,701.94 L377.52,701.95 L377.85,701.96 L378.19,701.96 L378.53,701.97 L378.86,701.98 L379.20,701.98 L379.53,701.99 L379.87,702.00 L380.20,702.00 L380.54,702.01 L380.87,702.02 L381.21,702.03 L381.54,702.03 L381.88,702.04 L382.21,702.05 L382.55,702.05 L382.88,702.06 L383.22,702.07 L383.55,702.08 L383.89,702.08 L384.23,702.09 L384.56,702.10 L384.90,702.10 L385.23,702.11 L385.57,702.12 L385.90,702.12 L386.24,702.13 L386.57,702.14 L386.91,702.15 L387.24,702.15 L387.58,702.16 L387.91,702.17 L388.25,702.17 L388.58,702.18 L388.92,702.19 L389.25,702.19 L389.59,702.20 L389.93,702.21 L390.26,702.22 L390.60,702.22 L390.93,702.23 L391.27,702.24 L391.60,702.24 L391.94,702.25 L392.27,702.26 L392.61,702.26 L392.94,702.27 L393.28,702.28 L393.61,702.28 L393.95,702.29 L394.28,702.30 L394.62,702.30 L394.96,702.31 L395.29,702.32 L395.63,702.32 L395.96,702.33 L396.30,702.34 L396.63,702.34 L396.97,702.35 L397.30,702.36 L397.64,702.36 L397.97,702.37 L398.31,702.38 L398.64,702.38 L398.98,702.39 L399.31,702.39 L399.65,702.40 L399.98,702.41 L400.32,702.41 L400.66,702.42 L400.99,702.43 L401.33,702.43 L401.66,702.44 L402.00,702.44 L402.33,702.45 L402.67,702.46 L403.00,702.46 L403.34,702.47 L403.67,702.48 L404.01,702.48 L404.34,702.49 L404.68,702.49 L405.01,702.50 L405.35,702.51 L405.68,702.51 L406.02,702.52 L406.36,702.52 L406.69,702.53 L407.03,702.53 L407.36,702.54 L407.70,702.55 L408.03,702.55 L408.37,702.56 L408.70,702.56 L409.04,702.57 L409.37,702.57 L409.71,702.58 L410.04,702.59 L410.38,702.59 L410.71,702.60 L411.05,702.60 L411.38,702.61 L411.72,702.61 L412.06,702.62 L412.39,702.62 L412.73,702.63 L413.06,702.63 L413.40,702.64 L413.73,702.65 L414.07,702.65 L414.40,702.66 L414.74,702.66 L415.07,702.67 L415.41,702.67 L415.74,702.68 L416.08,702.68" stroke="#2a2aea" stroke-width="2.0" fill="none" stroke-linejoin="round" />
<path d="M238.37,702.97 L238.71,702.97 L239.04,702.97 L239.38,702.96 L239.71,702.96 L240.05,702.95 L240.38,702.95 L240.72,702.95 L241.05,702.94 L241.39,702.94 L241.72,702.93 L242.06,702.93 L242.39,702.92 L242.73,702.92 L243.06,702.91 L243.40,702.91 L243.73,702.90 L244.07,702.89 L244.41,702.89 L244.74,702.88 L245.08,702.88 L245.41,702.87 L245.75,702.86 L246.08,702.85 L246.42,702.85 L246.75,702.84 L247.09,702.83 L247.42,702.82 L247.76,702.82 L248.09,702.81 L248.43,702.80 L248.76,702.79 L249.10,702.78 L249.43,702.77 L249.77,702.76 L250.11,702.75 L250.44,702.74 L250.78,702.72 L251.11,702.71 L251.45,702.70 L251.78,702.69 L252.12,702.67 L252.45,702.66 L252.79,702.65 L253.12,702.63 L253.46,702.62 L253.79,702.60 L254.13,702.59 L254.46,702.57 L254.80,702.55 L255.13,702.53 L255.47,702.52 L255.81,702.50 L256.14,702.48 L256.48,702.46 L256.81,702.44 L257.15,702.42 L257.48,702.40 L257.82,702.38 L258.15,702.35 L258.49,702.33 L258.82,702.31 L259.16,702.28 L259.49,702.26 L259.83,702.23 L260.16,702.21 L260.50,702.18 L260.84,702.15 L261.17,702.12 L261.51,702.09 L261.84,702.06 L262.18,702.03 L262.51,701.99 L262.85,701.96 L263.18,701.92 L263.52,701.88 L263.85,701.84 L264.19,701.80 L264.52,701.75 L264.86,701.70 L265.19,701.65 L265.53,701.60 L265.86,701.54 L266.20,701.48 L266.54,701.41 L266.87,701.33 L267.21,701.25 L267.54,701.15 L267.88,701.04 L268.21,700.92 L268.55,700.78 L268.88,700.62 L269.22,700.44 L269.55,700.22 L269.89,699.96 L270.22,699.65 L270.56,699.29 L270.89,698.87 L271.23,698.37 L271.56,697.78 L271.90,697.10 L272.24,696.31 L272.57,695.40 L272.91,694.36 L273.24,693.20 L273.58,691.89 L273.91,690.45 L274.25,688.87 L274.58,687.17 L274.92,685.35 L275.25,683.45 L275.59,681.49 L275.92,679.50 L276.26,677.54 L276.59,675.65 L276.93,673.92 L277.26,672.40 L277.60,671.17 L277.94,670.31 L278.27,669.86 L278.61,669.85 L278.94,670.19 L279.28,670.86 L279.61,671.83 L279.95,673.05 L280.28,674.47 L280.62,676.03 L280.95,677.70 L281.29,679.43 L281.62,681.17 L281.96,682.90 L282.29,684.59 L282.63,686.22 L282.96,687.77 L283.30,689.23 L283.64,690.60 L283.97,691.85 L284.31,693.00 L284.64,694.05 L284.98,694.99 L285.31,695.83 L285.65,696.57 L285.98,697.23 L286.32,697.81 L286.65,698.31 L286.99,698.75 L287.32,699.13 L287.66,699.45 L287.99,699.73 L288.33,699.98 L288.66,700.19 L289.00,700.37 L289.34,700.52 L289.67,700.66 L290.01,700.78 L290.34,700.89 L290.68,700.98 L291.01,701.06 L291.35,701.14 L291.68,701.21 L292.02,701.27 L292.35,701.32 L292.69,701.37 L293.02,701.42 L293.36,701.47 L293.69,701.51 L294.03,701.54 L294.37,701.58 L294.70,701.61 L295.04,701.64 L295.37,701.67 L295.71,701.70 L296.04,701.73 L296.38,701.75 L296.71,701.77 L297.05,701.79 L297.38,701.81 L297.72,701.83 L298.05,701.85 L298.39,701.87 L298.72,701.88 L299.06,701.90 L299.39,701.91 L299.73,701.93 L300.07,701.94 L300.40,701.95 L300.74,701.96 L301.07,701.97 L301.41,701.98 L301.74,701.99 L302.08,702.00 L302.41,702.01 L302.75,702.02 L303.08,702.03 L303.42,702.04 L303.75,702.04 L304.09,702.05 L304.42,702.06 L304.76,702.06 L305.09,702.07 L305.43,702.07 L305.77,702.08 L306.10,702.09 L306.44,702.09 L306.77,702.09 L307.11,702.10 L307.44,702.10 L307.78,702.11 L308.11,702.11 L308.45,702.12 L308.78,702.12 L309.12,702.12 L309.45,702.13 L309.79,702.13 L310.12,702.13 L310.46,702.13 L310.79,702.14 L311.13,702.14 L311.47,702.14 L311.80,702.14 L312.14,702.15 L312.47,702.15 L312.81,702.15 L313.14,702.15 L313.48,702.16 L313.81,702.16 L314.15,702.16 L314.48,702.16 L314.82,702.16 L315.15,702.16 L315.49,702.17 L315.82,702.17 L316.16,702.17 L316.49,702.17 L316.83,702.17 L317.17,702.17 L317.50,702.18 L317.84,702.18 L318.17,702.18 L318.51,702.18 L318.84,702.18 L319.18,702.18 L319.51,702.19 L319.85,702.19 L320.18,702.19 L320.52,702.19 L320.85,702.19 L321.19,702.19 L321.52,702.19 L321.86,702.20 L322.19,702.20 L322.53,702.20 L322.87,702.20 L323.20,702.20 L323.54,702.20 L323.87,702.20 L324.21,702.21 L324.54,702.21 L324.88,702.21 L325.21,702.21 L325.55,702.21 L325.88,702.21 L326.22,702.22 L326.55,702.22 L326.89,702.22 L327.22,702.22 L327.56,702.22 L327.90,702.22 L328.23,702.23 L328.57,702.23 L328.90,702.23 L329.24,702.23 L329.57,702.23 L329.91,702.23 L330.24,702.24 L330.58,702.24 L330.91,702.24 L331.25,702.24 L331.58,702.24 L331.92,702.24 L332.25,702.25 L332.59,702.25 L332.92,702.25 L333.26,702.25 L333.60,702.25 L333.93,702.25 L334.27,702.26 L334.60,702.26 L334.94,702.26 L335.27,702.26 L335.61,702.26 L335.94,702.27 L336.28,702.27 L336.61,702.27 L336.95,702.27 L337.28,702.27 L337.62,702.28 L337.95,702.28 L338.29,702.28 L338.62,702.28 L338.96,702.28 L339.30,702.29 L339.63,702.29 L339.97,702.29 L340.30,702.29 L340.64,702.29 L340.97,702.30 L341.31,702.30 L341.64,702.30 L341.98,702.30 L342.31,702.30 L342.65,702.31 L342.98,702.31 L343.32,702.31 L343.65,702.31 L343.99,702.32 L344.32,702.32 L344.66,702.32 L345.00,702.32 L345.33,702.32 L345.67,702.33 L346.00,702.33 L346.34,702.33 L346.67,702.33 L347.01,702.34 L347.34,702.34 L347.68,702.34 L348.01,702.34 L348.35,702.35 L348.68,702.35 L349.02,702.35 L349.35,702.35 L349.69,702.36 L350.02,702.36 L350.36,702.36 L350.70,702.36 L351.03,702.37 L351.37,702.37 L351.70,702.37 L352.04,702.37 L352.37,702.38 L352.71,702.38 L353.04,702.38 L353.38,702.38 L353.71,702.39 L354.05,702.39 L354.38,702.39 L354.72,702.40 L355.05,702.40 L355.39,702.40 L355.72,702.40 L356.06,702.41 L356.40,702.41 L356.73,702.41 L357.07,702.42 L357.40,702.42 L357.74,702.42 L358.07,702.42 L358.41,702.43 L358.74,702.43 L359.08,702.43 L359.41,702.44 L359.75,702.44 L360.08,702.44 L360.42,702.45 L360.75,702.45 L361.09,702.45 L361.43,702.45 L361.76,702.46 L362.10,702.46 L362.43,702.46 L362.77,702.47 L363.10,702.47 L363.44,702.47 L363.77,702.48 L364.11,702.48 L364.44,702.48 L364.78,702.49 L365.11,702.49 L365.45,702.49 L365.78,702.50 L366.12,702.50 L366.45,702.50 L366.79,702.50 L367.13,702.51 L367.46,702.51 L367.80,702.51 L368.13,702.52 L368.47,702.52 L368.80,702.52 L369.14,702.53 L369.47,702.53 L369.81,702.53 L370.14,702.54 L370.48,702.54 L370.81,702.54 L371.15,702.55 L371.48,702.55 L371.82,702.55 L372.15,702.56 L372.49,702.56 L372.83,702.56 L373.16,702.57 L373.50,702.57 L373.83,702.57 L374.17,702.58 L374.50,702.58 L374.84,702.58 L375.17,702.59 L375.51,702.59 L375.84,702.59 L376.18,702.60 L376.51,702.60 L376.85,702.60 L377.18,702.61 L377.52,702.61 L377.85,702.61 L378.19,702.62 L378.53,702.62 L378.86,702.62 L379.20,702.63 L379.53,702.63 L379.87,702.63 L380.20,702.64 L380.54,702.64 L380.87,702.64 L381.21,702.65 L381.54,702.65 L381.88,702.65 L382.21,702.66 L382.55,702.66 L382.88,702.66 L383.22,702.67 L383.55,702.67 L383.89,702.67 L384.23,702.68 L384.56,702.68 L384.90,702.68 L385.23,702.69 L385.57,702.69 L385.90,702.69 L386.24,702.70 L386.57,702.70 L386.91,702.70 L387.24,702.71 L387.58,702.71 L387.91,702.71 L388.25,702.72 L388.58,702.72 L388.92,702.72 L389.25,702.73 L389.59,702.73 L389.93,702.73 L390.26,702.74 L390.60,702.74 L390.93,702.74 L391.27,702.75 L391.60,702.75 L391.94,702.75 L392.27,702.76 L392.61,702.76 L392.94,702.76 L393.28,702.76 L393.61,702.77 L393.95,702.77 L394.28,702.77 L394.62,702.78 L394.96,702.78 L395.29,702.78 L395.63,702.79 L395.96,702.79 L396.30,702.79 L396.63,702.80 L396.97,702.80 L397.30,702.80 L397.64,702.81 L397.97,702.81 L398.31,702.81 L398.64,702.81 L398.98,702.82 L399.31,702.82 L399.65,702.82 L399.98,702.83 L400.32,702.83 L400.66,702.83 L400.99,702.84 L401.33,702.84 L401.66,702.84 L402.00,702.84 L402.33,702.85 L402.67,702.85 L403.00,702.85 L403.34,702.86 L403.67,702.86 L404.01,702.86 L404.34,702.86 L404.68,702.87 L405.01,702.87 L405.35,702.87 L405.68,702.87 L406.02,702.88 L406.36,702.88 L406.69,702.88 L407.03,702.89 L407.36,702.89 L407.70,702.89 L408.03,702.89 L408.37,702.90 L408.70,702.90 L409.04,702.90 L409.37,702.90 L409.71,702.91 L410.04,702.91 L410.38,702.91 L410.71,702.91 L411.05,702.92 L411.38,702.92 L411.72,702.92 L412.06,702.93 L412.39,702.93 L412.73,702.93 L413.06,702.93 L413.40,702.94 L413.73,702.94 L414.07,702.94 L414.40,702.94 L414.74,702.94 L415.07,702.95 L415.41,702.95 L415.74,702.95 L416.08,702.95" stroke="#7a2ab4" stroke-width="2.0" fill="none" stroke-linejoin="round" />
<rect x="239.1" y="574.1" width="177.00000000000003" height="129.10000000000002" fill="none" stroke="#333" stroke-width="1"/>
<line x1="239.10" y1="703.20" x2="241.30" y2="703.20" stroke="#333" stroke-width="0.8" />
<line x1="239.10" y1="685.05" x2="240.40" y2="685.05" stroke="#333" stroke-width="0.8" />
<line x1="239.10" y1="666.90" x2="241.30" y2="666.90" stroke="#333" stroke-width="0.8" />
<line x1="239.10" y1="648.75" x2="240.40" y2="648.75" stroke="#333" stroke-width="0.8" />
<line x1="239.10" y1="630.60" x2="241.30" y2="630.60" stroke="#333" stroke-width="0.8" />
<line x1="239.10" y1="612.45" x2="240.40" y2="612.45" stroke="#333" stroke-width="0.8" />
<line x1="239.10" y1="594.30" x2="241.30" y2="594.30" stroke="#333" stroke-width="0.8" />
<line x1="239.10" y1="576.15" x2="240.40" y2="576.15" stroke="#333" stroke-width="0.8" />
<line x1="238.37" y1="703.20" x2="238.37" y2="701.00" stroke="#333" stroke-width="0.8" />
<line x1="255.13" y1="703.20" x2="255.13" y2="701.90" stroke="#333" stroke-width="0.8" />
<line x1="271.90" y1="703.20" x2="271.90" y2="701.00" stroke="#333" stroke-width="0.8" />
<line x1="288.66" y1="703.20" x2="288.66" y2="701.90" stroke="#333" stroke-width="0.8" />
<line x1="305.43" y1="703.20" x2="305.43" y2="701.00" stroke="#333" stroke-width="0.8" />
<line x1="322.19" y1="703.20" x2="322.19" y2="701.90" stroke="#333" stroke-width="0.8" />
<line x1="338.96" y1="703.20" x2="338.96" y2="701.00" stroke="#333" stroke-width="0.8" />
<line x1="355.72" y1="703.20" x2="355.72" y2="701.90" stroke="#333" stroke-width="0.8" />
<line x1="372.49" y1="703.20" x2="372.49" y2="701.00" stroke="#333" stroke-width="0.8" />
<line x1="389.25" y1="703.20" x2="389.25" y2="701.90" stroke="#333" stroke-width="0.8" />
<line x1="406.02" y1="703.20" x2="406.02" y2="701.00" stroke="#333" stroke-width="0.8" />
<text x="235.2" y="707.5" style="font-family:'Liberation Serif',serif;font-size:12.3px;font-weight:normal" fill="#222" text-anchor="end" >0.0</text>
<text x="235.2" y="671.2" style="font-family:'Liberation Serif',serif;font-size:12.3px;font-weight:normal" fill="#222" text-anchor="end" >0.5</text>
<text x="235.2" y="634.9" style="font-family:'Liberation Serif',serif;font-size:12.3px;font-weight:normal" fill="#222" text-anchor="end" >1.0</text>
<text x="235.2" y="598.6" style="font-family:'Liberation Serif',serif;font-size:12.3px;font-weight:normal" fill="#222" text-anchor="end" >1.5</text>
<text x="238.4" y="715.9" style="font-family:'Liberation Serif',serif;font-size:12.3px;font-weight:normal" fill="#222" text-anchor="middle" >400</text>
<text x="271.9" y="715.9" style="font-family:'Liberation Serif',serif;font-size:12.3px;font-weight:normal" fill="#222" text-anchor="middle" >500</text>
<text x="305.4" y="715.9" style="font-family:'Liberation Serif',serif;font-size:12.3px;font-weight:normal" fill="#222" text-anchor="middle" >600</text>
<text x="339.0" y="715.9" style="font-family:'Liberation Serif',serif;font-size:12.3px;font-weight:normal" fill="#222" text-anchor="middle" >700</text>
<text x="372.5" y="715.9" style="font-family:'Liberation Serif',serif;font-size:12.3px;font-weight:normal" fill="#222" text-anchor="middle" >800</text>
<text x="406.0" y="715.9" style="font-family:'Liberation Serif',serif;font-size:12.3px;font-weight:normal" fill="#222" text-anchor="middle" >900</text>
<text x="325.0" y="728.2" style="font-family:'Liberation Serif',serif;font-size:13.3px;font-weight:normal" fill="#222" text-anchor="middle" >Emission wavelength (nm)</text>
<text transform="translate(217.6,645.5) rotate(-90)" style="font-family:'Liberation Serif',serif;font-size:13.3px" fill="#222" text-anchor="middle">EL intensity (arb. units)</text>
<text x="413.3" y="582.8" style="font-family:'Liberation Serif',serif;font-size:10.5px" fill="#3434d8" text-anchor="end">Device B:</text>
<text x="413.3" y="589.9" style="font-family:'Liberation Serif',serif;font-size:10.5px" fill="#3434d8" text-anchor="end"><tspan style="font-weight:bold" fill="#2020c0">low</tspan> nanowire concentration</text>
<line x1="325.50" y1="594.60" x2="347.90" y2="594.60" stroke="#7a2ab4" stroke-width="1.6" />
<text x="349.3" y="597.9" style="font-family:'Liberation Serif',serif;font-size:9.8px;font-weight:normal" fill="#222" text-anchor="start" >08 V</text>
<line x1="370.30" y1="594.60" x2="392.70" y2="594.60" stroke="#ece824" stroke-width="1.6" />
<text x="394.5" y="597.9" style="font-family:'Liberation Serif',serif;font-size:9.8px;font-weight:normal" fill="#222" text-anchor="start" >14 V</text>
<line x1="325.50" y1="606.02" x2="347.90" y2="606.02" stroke="#2a2aea" stroke-width="1.6" />
<text x="349.3" y="609.3" style="font-family:'Liberation Serif',serif;font-size:9.8px;font-weight:normal" fill="#222" text-anchor="start" >09 V</text>
<line x1="370.30" y1="606.02" x2="392.70" y2="606.02" stroke="#e88a22" stroke-width="1.6" />
<text x="394.5" y="609.3" style="font-family:'Liberation Serif',serif;font-size:9.8px;font-weight:normal" fill="#222" text-anchor="start" >15 V</text>
<line x1="325.50" y1="617.44" x2="347.90" y2="617.44" stroke="#2a80ee" stroke-width="1.6" />
<text x="349.3" y="620.7" style="font-family:'Liberation Serif',serif;font-size:9.8px;font-weight:normal" fill="#222" text-anchor="start" >10 V</text>
<line x1="370.30" y1="617.44" x2="392.70" y2="617.44" stroke="#f0321c" stroke-width="1.6" />
<text x="394.5" y="620.7" style="font-family:'Liberation Serif',serif;font-size:9.8px;font-weight:normal" fill="#222" text-anchor="start" >16 V</text>
<line x1="325.50" y1="628.86" x2="347.90" y2="628.86" stroke="#62e6f2" stroke-width="1.6" />
<text x="349.3" y="632.2" style="font-family:'Liberation Serif',serif;font-size:9.8px;font-weight:normal" fill="#222" text-anchor="start" >11 V</text>
<line x1="370.30" y1="628.86" x2="392.70" y2="628.86" stroke="#f0281a" stroke-width="1.6" />
<text x="394.5" y="632.2" style="font-family:'Liberation Serif',serif;font-size:9.8px;font-weight:normal" fill="#222" text-anchor="start" >17 V</text>
<line x1="325.50" y1="640.28" x2="347.90" y2="640.28" stroke="#64c034" stroke-width="1.6" />
<text x="349.3" y="643.6" style="font-family:'Liberation Serif',serif;font-size:9.8px;font-weight:normal" fill="#222" text-anchor="start" >12 V</text>
<line x1="370.30" y1="640.28" x2="392.70" y2="640.28" stroke="#e42020" stroke-width="1.6" />
<text x="394.5" y="643.6" style="font-family:'Liberation Serif',serif;font-size:9.8px;font-weight:normal" fill="#222" text-anchor="start" >18 V</text>
<line x1="325.50" y1="651.70" x2="347.90" y2="651.70" stroke="#c8e830" stroke-width="1.6" />
<text x="349.3" y="655.0" style="font-family:'Liberation Serif',serif;font-size:9.8px;font-weight:normal" fill="#222" text-anchor="start" >13 V</text>
<line x1="370.30" y1="651.70" x2="392.70" y2="651.70" stroke="#cc1e1e" stroke-width="1.6" />
<text x="394.5" y="655.0" style="font-family:'Liberation Serif',serif;font-size:9.8px;font-weight:normal" fill="#222" text-anchor="start" >19 V</text>
<text x="347.2" y="666.4" style="font-family:'Liberation Serif',serif;font-size:10.5px;font-weight:bold" fill="#111">LED</text>
<line x1="369.50" y1="662.90" x2="380.00" y2="662.90" stroke="#111" stroke-width="0.8" />
<path d="M382.6,662.9 L378.4,661.3 L378.4,664.5 Z" fill="#111"/>
<rect x="383.1" y="656.8" width="32" height="27.5" fill="#58c048"/>
<path d="M386.5,663 Q390,657.5 399,658.5 Q409,657.5 413,663 Q416,670 410,675 Q404,684.5 394,683 Q385.5,681 386,673 Q384,668 386.5,663 Z" fill="#f2f2ea" filter="url(#blur1)"/>
<line x1="483.40" y1="574.30" x2="650.30" y2="574.30" stroke="#999" stroke-width="0.8" />
<line x1="483.40" y1="708.20" x2="650.30" y2="708.20" stroke="#888" stroke-width="0.8" />
<line x1="650.30" y1="574.30" x2="650.30" y2="708.20" stroke="#888" stroke-width="0.8" />
<line x1="483.40" y1="574.30" x2="483.40" y2="708.20" stroke="#e04848" stroke-width="0.9" />
<line x1="484.28" y1="708.20" x2="484.28" y2="706.80" stroke="#888" stroke-width="0.7" />
<line x1="491.49" y1="708.20" x2="491.49" y2="706.80" stroke="#888" stroke-width="0.7" />
<line x1="497.59" y1="708.20" x2="497.59" y2="706.80" stroke="#888" stroke-width="0.7" />
<line x1="502.87" y1="708.20" x2="502.87" y2="706.80" stroke="#888" stroke-width="0.7" />
<line x1="507.53" y1="708.20" x2="507.53" y2="706.80" stroke="#888" stroke-width="0.7" />
<line x1="511.70" y1="708.20" x2="511.70" y2="705.70" stroke="#888" stroke-width="0.7" />
<line x1="539.12" y1="708.20" x2="539.12" y2="706.80" stroke="#888" stroke-width="0.7" />
<line x1="555.17" y1="708.20" x2="555.17" y2="706.80" stroke="#888" stroke-width="0.7" />
<line x1="566.55" y1="708.20" x2="566.55" y2="706.80" stroke="#888" stroke-width="0.7" />
<line x1="575.38" y1="708.20" x2="575.38" y2="706.80" stroke="#888" stroke-width="0.7" />
<line x1="582.59" y1="708.20" x2="582.59" y2="706.80" stroke="#888" stroke-width="0.7" />
<line x1="588.69" y1="708.20" x2="588.69" y2="706.80" stroke="#888" stroke-width="0.7" />
<line x1="593.97" y1="708.20" x2="593.97" y2="706.80" stroke="#888" stroke-width="0.7" />
<line x1="598.63" y1="708.20" x2="598.63" y2="706.80" stroke="#888" stroke-width="0.7" />
<line x1="602.80" y1="708.20" x2="602.80" y2="705.70" stroke="#888" stroke-width="0.7" />
<line x1="630.22" y1="708.20" x2="630.22" y2="706.80" stroke="#888" stroke-width="0.7" />
<line x1="646.27" y1="708.20" x2="646.27" y2="706.80" stroke="#888" stroke-width="0.7" />
<line x1="483.40" y1="708.10" x2="485.90" y2="708.10" stroke="#e04848" stroke-width="0.7" />
<text x="478.2" y="711.4" style="font-family:'Liberation Sans',sans-serif;font-size:9.3px;font-weight:normal" fill="#e04040" text-anchor="end" >0</text>
<line x1="483.40" y1="694.72" x2="484.80" y2="694.72" stroke="#e04848" stroke-width="0.7" />
<line x1="483.40" y1="681.34" x2="485.90" y2="681.34" stroke="#e04848" stroke-width="0.7" />
<text x="478.2" y="684.6" style="font-family:'Liberation Sans',sans-serif;font-size:9.3px;font-weight:normal" fill="#e04040" text-anchor="end" >20</text>
<line x1="483.40" y1="667.96" x2="484.80" y2="667.96" stroke="#e04848" stroke-width="0.7" />
<line x1="483.40" y1="654.58" x2="485.90" y2="654.58" stroke="#e04848" stroke-width="0.7" />
<text x="478.2" y="657.9" style="font-family:'Liberation Sans',sans-serif;font-size:9.3px;font-weight:normal" fill="#e04040" text-anchor="end" >40</text>
<line x1="483.40" y1="641.20" x2="484.80" y2="641.20" stroke="#e04848" stroke-width="0.7" />
<line x1="483.40" y1="627.82" x2="485.90" y2="627.82" stroke="#e04848" stroke-width="0.7" />
<text x="478.2" y="631.1" style="font-family:'Liberation Sans',sans-serif;font-size:9.3px;font-weight:normal" fill="#e04040" text-anchor="end" >60</text>
<line x1="483.40" y1="614.44" x2="484.80" y2="614.44" stroke="#e04848" stroke-width="0.7" />
<line x1="483.40" y1="601.06" x2="485.90" y2="601.06" stroke="#e04848" stroke-width="0.7" />
<text x="478.2" y="604.4" style="font-family:'Liberation Sans',sans-serif;font-size:9.3px;font-weight:normal" fill="#e04040" text-anchor="end" >80</text>
<line x1="483.40" y1="587.68" x2="484.80" y2="587.68" stroke="#e04848" stroke-width="0.7" />
<line x1="483.40" y1="574.30" x2="485.90" y2="574.30" stroke="#e04848" stroke-width="0.7" />
<text x="478.2" y="577.6" style="font-family:'Liberation Sans',sans-serif;font-size:9.3px;font-weight:normal" fill="#e04040" text-anchor="end" >100</text>
<line x1="650.30" y1="700.73" x2="647.80" y2="700.73" stroke="#888" stroke-width="0.7" />
<text x="656.9" y="704.0" style="font-family:'Liberation Sans',sans-serif;font-size:9.3px;font-weight:normal" fill="#333" text-anchor="start" >516</text>
<line x1="650.30" y1="685.38" x2="648.90" y2="685.38" stroke="#888" stroke-width="0.7" />
<line x1="650.30" y1="670.02" x2="647.80" y2="670.02" stroke="#888" stroke-width="0.7" />
<text x="656.9" y="673.3" style="font-family:'Liberation Sans',sans-serif;font-size:9.3px;font-weight:normal" fill="#333" text-anchor="start" >520</text>
<line x1="650.30" y1="654.67" x2="648.90" y2="654.67" stroke="#888" stroke-width="0.7" />
<line x1="650.30" y1="639.32" x2="647.80" y2="639.32" stroke="#888" stroke-width="0.7" />
<text x="656.9" y="642.6" style="font-family:'Liberation Sans',sans-serif;font-size:9.3px;font-weight:normal" fill="#333" text-anchor="start" >524</text>
<line x1="650.30" y1="623.98" x2="648.90" y2="623.98" stroke="#888" stroke-width="0.7" />
<line x1="650.30" y1="608.62" x2="647.80" y2="608.62" stroke="#888" stroke-width="0.7" />
<text x="656.9" y="611.9" style="font-family:'Liberation Sans',sans-serif;font-size:9.3px;font-weight:normal" fill="#333" text-anchor="start" >528</text>
<line x1="650.30" y1="593.27" x2="648.90" y2="593.27" stroke="#888" stroke-width="0.7" />
<line x1="650.30" y1="577.92" x2="647.80" y2="577.92" stroke="#888" stroke-width="0.7" />
<text x="656.9" y="581.2" style="font-family:'Liberation Sans',sans-serif;font-size:9.3px;font-weight:normal" fill="#333" text-anchor="start" >532</text>
<text x="511.7" y="721.3" style="font-family:'Liberation Sans',sans-serif;font-size:9.3px;font-weight:normal" fill="#222" text-anchor="middle" >10</text>
<text x="602.8" y="721.3" style="font-family:'Liberation Sans',sans-serif;font-size:9.3px;font-weight:normal" fill="#222" text-anchor="middle" >100</text>
<text x="566.8" y="732.3" style="font-family:'Liberation Sans',sans-serif;font-size:8.2px;font-weight:normal" fill="#222" text-anchor="middle" >NW diameter (nm)</text>
<text transform="translate(459.3,641.3) rotate(-90)" style="font-family:'Liberation Sans',sans-serif;font-size:8.5px" fill="#e04040" text-anchor="middle">PLQY (%)</text>
<text transform="translate(676.3,641) rotate(90)" style="font-family:'Liberation Sans',sans-serif;font-size:8.1px" fill="#222" text-anchor="middle">PL peak position (nm)</text>
<path d="M493.42,693.05 L515.83,670.02 L538.73,631.65 L573.93,593.27 L644.65,593.27" stroke="#111" stroke-width="1.25" fill="none" stroke-linejoin="round" />
<path d="M493.42,585.00 L515.83,680.00 L538.73,682.01 L573.93,696.73 L644.65,706.76" stroke="#e02020" stroke-width="1.2" fill="none" stroke-linejoin="round" />
<circle cx="493.42" cy="693.05" r="2.4" fill="url(#ballK)"/>
<circle cx="515.83" cy="670.02" r="2.4" fill="url(#ballK)"/>
<circle cx="538.73" cy="631.65" r="2.4" fill="url(#ballK)"/>
<circle cx="573.93" cy="593.27" r="2.4" fill="url(#ballK)"/>
<circle cx="644.65" cy="593.27" r="2.4" fill="url(#ballK)"/>
<circle cx="493.42" cy="585.00" r="2.4" fill="url(#ballR)"/>
<circle cx="515.83" cy="680.00" r="2.4" fill="url(#ballR)"/>
<circle cx="538.73" cy="682.01" r="2.4" fill="url(#ballR)"/>
<circle cx="573.93" cy="696.73" r="2.4" fill="url(#ballR)"/>
<circle cx="644.65" cy="706.76" r="2.4" fill="url(#ballR)"/>
<line x1="501.10" y1="620.50" x2="490.00" y2="620.50" stroke="#e04040" stroke-width="0.8" />
<path d="M487.9,620.5 L491.5,619 L491.5,622 Z" fill="#e04040"/>
<line x1="627.30" y1="606.50" x2="644.50" y2="606.50" stroke="#111" stroke-width="0.8" />
<path d="M646.7,606.5 L643,605 L643,608 Z" fill="#111"/>
<defs>
<radialGradient id="bgL" cx="0.3" cy="0.85" r="0.9"><stop offset="0" stop-color="#ffffff"/><stop offset="0.6" stop-color="#f0f0f0"/><stop offset="1" stop-color="#d4d4d4"/></radialGradient>
<radialGradient id="bgL4" cx="0.35" cy="0.8" r="0.9"><stop offset="0" stop-color="#f4f4f4"/><stop offset="0.6" stop-color="#e0e0e0"/><stop offset="1" stop-color="#c4c4c4"/></radialGradient>
<linearGradient id="pillY" x1="0" y1="0" x2="1" y2="0"><stop offset="0" stop-color="#b4b82c"/><stop offset="0.3" stop-color="#dcde4a"/><stop offset="0.7" stop-color="#cacc3c"/><stop offset="1" stop-color="#9a9e22"/></linearGradient>
<linearGradient id="pillK" x1="0" y1="0" x2="1" y2="0"><stop offset="0" stop-color="#505050"/><stop offset="0.4" stop-color="#808080"/><stop offset="1" stop-color="#404040"/></linearGradient>
<linearGradient id="groove" x1="0" y1="0" x2="1" y2="0"><stop offset="0" stop-color="#8e8e8e"/><stop offset="0.6" stop-color="#a8a8a8"/><stop offset="1" stop-color="#cfcfcf"/></linearGradient>
<linearGradient id="grooveR" x1="0" y1="0" x2="1" y2="0"><stop offset="0" stop-color="#7c7c7c"/><stop offset="0.6" stop-color="#949494"/><stop offset="1" stop-color="#b0b0b0"/></linearGradient>
<linearGradient id="wallW" x1="0" y1="0" x2="1" y2="0"><stop offset="0" stop-color="#cfcfcf"/><stop offset="0.5" stop-color="#f2f2f2"/><stop offset="1" stop-color="#dadada"/></linearGradient>
<linearGradient id="wallG" x1="0" y1="0" x2="1" y2="0"><stop offset="0" stop-color="#a8a8b2"/><stop offset="0.5" stop-color="#d0d0d8"/><stop offset="1" stop-color="#b4b4bc"/></linearGradient>
<pattern id="speck" width="12" height="12" patternUnits="userSpaceOnUse"><rect width="12" height="12" fill="#e4dc2c"/><circle cx="7.47" cy="8.90" r="0.53" fill="#a89a1c"/><circle cx="7.82" cy="6.36" r="0.54" fill="#b0a420"/><circle cx="7.79" cy="10.81" r="0.29" fill="#c8bc28"/><circle cx="10.42" cy="4.57" r="0.29" fill="#b0a420"/><circle cx="0.16" cy="2.60" r="0.35" fill="#c8bc28"/><circle cx="1.92" cy="9.57" r="0.30" fill="#f8f070"/><circle cx="5.34" cy="1.59" r="0.59" fill="#9a8c18"/><circle cx="2.51" cy="2.59" r="0.59" fill="#b0a420"/><circle cx="3.47" cy="11.54" r="0.44" fill="#a89a1c"/><circle cx="7.51" cy="2.18" r="0.59" fill="#b0a420"/><circle cx="11.60" cy="10.72" r="0.35" fill="#8a7c10"/><circle cx="4.98" cy="11.23" r="0.34" fill="#8a7c10"/><circle cx="3.62" cy="7.24" r="0.25" fill="#a89a1c"/><circle cx="8.49" cy="0.79" r="0.37" fill="#8a7c10"/><circle cx="5.77" cy="3.79" r="0.42" fill="#a89a1c"/><circle cx="2.11" cy="3.07" r="0.58" fill="#a89a1c"/><circle cx="4.29" cy="4.85" r="0.44" fill="#c8bc28"/><circle cx="4.39" cy="6.94" r="0.25" fill="#9a8c18"/><circle cx="8.49" cy="7.48" r="0.58" fill="#9a8c18"/><circle cx="9.07" cy="11.16" r="0.58" fill="#8a7c10"/><circle cx="6.15" cy="10.71" r="0.34" fill="#c8bc28"/><circle cx="1.30" cy="8.98" r="0.53" fill="#8a7c10"/><circle cx="0.44" cy="11.35" r="0.28" fill="#8a7c10"/><circle cx="6.15" cy="4.35" r="0.30" fill="#8a7c10"/><circle cx="11.09" cy="6.54" r="0.36" fill="#8a7c10"/><circle cx="3.67" cy="9.59" r="0.47" fill="#a89a1c"/><circle cx="8.27" cy="11.96" r="0.31" fill="#9a8c18"/><circle cx="0.97" cy="7.21" r="0.57" fill="#9a8c18"/><circle cx="2.85" cy="7.13" r="0.54" fill="#c8bc28"/><circle cx="7.81" cy="1.75" r="0.59" fill="#a89a1c"/><circle cx="0.39" cy="5.92" r="0.54" fill="#b0a420"/><circle cx="11.78" cy="6.77" r="0.30" fill="#c8bc28"/><circle cx="1.28" cy="5.21" r="0.30" fill="#c8bc28"/><circle cx="3.54" cy="5.44" r="0.60" fill="#b0a420"/><circle cx="11.71" cy="5.44" r="0.42" fill="#a89a1c"/><circle cx="3.81" cy="3.29" r="0.41" fill="#b0a420"/><circle cx="1.35" cy="9.86" r="0.44" fill="#b0a420"/><circle cx="7.52" cy="5.99" r="0.37" fill="#9a8c18"/><circle cx="5.90" cy="6.18" r="0.44" fill="#f8f070"/><circle cx="4.34" cy="9.43" r="0.52" fill="#a89a1c"/><circle cx="7.05" cy="0.41" r="0.36" fill="#f8f070"/><circle cx="8.45" cy="3.37" r="0.42" fill="#a89a1c"/><circle cx="8.59" cy="11.48" r="0.37" fill="#b0a420"/><circle cx="6.97" cy="0.14" r="0.44" fill="#8a7c10"/><circle cx="3.91" cy="3.28" r="0.35" fill="#f8f070"/><circle cx="7.77" cy="9.57" r="0.37" fill="#a89a1c"/><circle cx="4.15" cy="11.25" r="0.39" fill="#b0a420"/><circle cx="10.44" cy="8.26" r="0.59" fill="#8a7c10"/><circle cx="6.22" cy="6.35" r="0.31" fill="#8a7c10"/><circle cx="11.25" cy="5.73" r="0.49" fill="#a89a1c"/><circle cx="8.05" cy="5.00" r="0.47" fill="#f8f070"/><circle cx="6.20" cy="11.24" r="0.36" fill="#f8f070"/><circle cx="9.30" cy="7.64" r="0.50" fill="#9a8c18"/><circle cx="2.35" cy="7.04" r="0.47" fill="#b0a420"/><circle cx="2.63" cy="8.23" r="0.47" fill="#9a8c18"/><circle cx="11.84" cy="11.76" r="0.31" fill="#b0a420"/><circle cx="1.33" cy="11.62" r="0.42" fill="#f8f070"/><circle cx="0.43" cy="5.58" r="0.38" fill="#f8f070"/><circle cx="0.86" cy="2.45" r="0.50" fill="#8a7c10"/><circle cx="0.01" cy="4.86" r="0.35" fill="#c8bc28"/></pattern>
</defs>
<rect x="20.1" y="739.2" width="153.3" height="94.79999999999995" fill="url(#bgL)"/>
<path d="M27.2,797.0 L116.5,834.5 L171.6,794.7 Z" fill="#999" opacity="0.35" filter="url(#blur2)"/>
<path d="M23.2,784.0 L116.5,819.5 L116.5,830.5 L23.2,795.0 Z" fill="#acacac"/>
<path d="M116.5,819.5 L169.6,781.7 L169.6,792.7 L116.5,830.5 Z" fill="#949494"/>
<path d="M23.2,784.0 L76.3,746.2 L169.6,781.7 L116.5,819.5 Z" fill="#a4a4a4"/>
<path d="M30.2,762.6 L117.8,789.9 L117.8,816.4 L30.2,786.1 Z" fill="#e2e2e2"/>
<path d="M117.8,789.9 L163.3,760.7 L163.3,781.7 L117.8,816.4 Z" fill="#c4c4c4"/>
<rect x="27.4" y="762.1" width="5.6" height="24.0" fill="url(#groove)"/>
<rect x="38.8" y="765.6" width="5.6" height="24.4" fill="url(#groove)"/>
<rect x="51.1" y="769.5" width="5.6" height="24.8" fill="url(#groove)"/>
<rect x="64.2" y="773.6" width="5.6" height="25.3" fill="url(#groove)"/>
<rect x="79.1" y="778.2" width="5.6" height="25.8" fill="url(#groove)"/>
<rect x="94.9" y="783.1" width="5.6" height="26.3" fill="url(#groove)"/>
<rect x="113.2" y="788.9" width="5.6" height="26.9" fill="url(#groove)"/>
<rect x="132.3" y="778.3" width="5.6" height="24.9" fill="url(#grooveR)"/>
<rect x="147.8" y="768.4" width="5.6" height="23.0" fill="url(#grooveR)"/>
<rect x="160.5" y="760.2" width="5.6" height="21.5" fill="url(#grooveR)"/>
<path d="M30.2,762.6 L81.6,745.5 L163.3,760.7 L117.8,789.9 Z" fill="#f6f6f6"/>
<ellipse cx="39.5" cy="763.3" rx="3.5" ry="1.75" fill="#9c9c9c"/>
<ellipse cx="48.0" cy="760.4" rx="3.5" ry="1.75" fill="#9c9c9c"/>
<ellipse cx="56.6" cy="757.6" rx="3.5" ry="1.75" fill="#9c9c9c"/>
<ellipse cx="65.2" cy="754.7" rx="3.5" ry="1.75" fill="#9c9c9c"/>
<ellipse cx="73.7" cy="751.9" rx="3.5" ry="1.75" fill="#9c9c9c"/>
<ellipse cx="82.3" cy="749.0" rx="3.5" ry="1.75" fill="#9c9c9c"/>
<ellipse cx="54.1" cy="767.8" rx="3.5" ry="1.75" fill="#9c9c9c"/>
<ellipse cx="62.6" cy="765.0" rx="3.5" ry="1.75" fill="#9c9c9c"/>
<ellipse cx="71.2" cy="762.1" rx="3.5" ry="1.75" fill="#9c9c9c"/>
<ellipse cx="79.8" cy="759.3" rx="3.5" ry="1.75" fill="#9c9c9c"/>
<ellipse cx="88.3" cy="756.4" rx="3.5" ry="1.75" fill="#9c9c9c"/>
<ellipse cx="96.9" cy="753.6" rx="3.5" ry="1.75" fill="#9c9c9c"/>
<ellipse cx="68.7" cy="772.4" rx="3.5" ry="1.75" fill="#9c9c9c"/>
<ellipse cx="77.2" cy="769.5" rx="3.5" ry="1.75" fill="#9c9c9c"/>
<ellipse cx="85.8" cy="766.7" rx="3.5" ry="1.75" fill="#9c9c9c"/>
<ellipse cx="94.4" cy="763.8" rx="3.5" ry="1.75" fill="#9c9c9c"/>
<ellipse cx="102.9" cy="761.0" rx="3.5" ry="1.75" fill="#9c9c9c"/>
<ellipse cx="111.5" cy="758.1" rx="3.5" ry="1.75" fill="#9c9c9c"/>
<ellipse cx="83.3" cy="776.9" rx="3.5" ry="1.75" fill="#9c9c9c"/>
<ellipse cx="91.8" cy="774.1" rx="3.5" ry="1.75" fill="#9c9c9c"/>
<ellipse cx="100.4" cy="771.2" rx="3.5" ry="1.75" fill="#9c9c9c"/>
<ellipse cx="109.0" cy="768.4" rx="3.5" ry="1.75" fill="#9c9c9c"/>
<ellipse cx="117.5" cy="765.5" rx="3.5" ry="1.75" fill="#9c9c9c"/>
<ellipse cx="126.1" cy="762.7" rx="3.5" ry="1.75" fill="#9c9c9c"/>
<ellipse cx="97.9" cy="781.5" rx="3.5" ry="1.75" fill="#9c9c9c"/>
<ellipse cx="106.4" cy="778.6" rx="3.5" ry="1.75" fill="#9c9c9c"/>
<ellipse cx="115.0" cy="775.8" rx="3.5" ry="1.75" fill="#9c9c9c"/>
<ellipse cx="123.6" cy="772.9" rx="3.5" ry="1.75" fill="#9c9c9c"/>
<ellipse cx="132.1" cy="770.1" rx="3.5" ry="1.75" fill="#9c9c9c"/>
<ellipse cx="140.7" cy="767.2" rx="3.5" ry="1.75" fill="#9c9c9c"/>
<ellipse cx="112.5" cy="786.0" rx="3.5" ry="1.75" fill="#9c9c9c"/>
<ellipse cx="121.0" cy="783.2" rx="3.5" ry="1.75" fill="#9c9c9c"/>
<ellipse cx="129.6" cy="780.3" rx="3.5" ry="1.75" fill="#9c9c9c"/>
<ellipse cx="138.2" cy="777.5" rx="3.5" ry="1.75" fill="#9c9c9c"/>
<ellipse cx="146.7" cy="774.6" rx="3.5" ry="1.75" fill="#9c9c9c"/>
<ellipse cx="155.3" cy="771.8" rx="3.5" ry="1.75" fill="#9c9c9c"/>
<rect x="26.7" y="782.1" width="7" height="5.5" rx="2.2" fill="url(#pillK)"/>
<rect x="38.1" y="786.0" width="7" height="5.5" rx="2.2" fill="url(#pillK)"/>
<rect x="50.4" y="790.3" width="7" height="5.5" rx="2.2" fill="url(#pillK)"/>
<rect x="63.5" y="794.8" width="7" height="5.5" rx="2.2" fill="url(#pillK)"/>
<rect x="78.4" y="800.0" width="7" height="5.5" rx="2.2" fill="url(#pillK)"/>
<rect x="94.2" y="805.4" width="7" height="5.5" rx="2.2" fill="url(#pillK)"/>
<rect x="112.5" y="811.8" width="7" height="5.5" rx="2.2" fill="url(#pillK)"/>
<rect x="131.6" y="799.2" width="7" height="5.5" rx="2.2" fill="url(#pillK)"/>
<rect x="147.1" y="787.4" width="7" height="5.5" rx="2.2" fill="url(#pillK)"/>
<rect x="159.8" y="777.7" width="7" height="5.5" rx="2.2" fill="url(#pillK)"/>
<rect x="172.5" y="738.7" width="165.0" height="95.29999999999995" fill="url(#bgL)"/>
<path d="M177.7,795.3 L276.7,830.8 L337.0,790.3 Z" fill="#999" opacity="0.35" filter="url(#blur2)"/>
<path d="M173.7,783.4 L276.7,816.9 L276.7,826.8 L173.7,793.3 Z" fill="#acacac"/>
<path d="M276.7,816.9 L335.0,778.4 L335.0,788.3 L276.7,826.8 Z" fill="#949494"/>
<path d="M173.7,783.4 L232.0,744.9 L335.0,778.4 L276.7,816.9 Z" fill="#a4a4a4"/>
<path d="M182.4,756.8 L276.7,783.4 L276.7,810.7 L182.4,782.1 Z" fill="#e2e2e2"/>
<path d="M276.7,783.4 L328.8,754.4 L328.8,778.4 L276.7,810.7 Z" fill="#c4c4c4"/>
<rect x="176.8" y="755.5" width="5.6" height="25.7" fill="url(#groove)"/>
<rect x="190.9" y="759.5" width="5.6" height="26.0" fill="url(#groove)"/>
<rect x="204.1" y="763.2" width="5.6" height="26.3" fill="url(#groove)"/>
<rect x="219.2" y="767.5" width="5.6" height="26.6" fill="url(#groove)"/>
<rect x="235.2" y="772.0" width="5.6" height="27.0" fill="url(#groove)"/>
<rect x="252.2" y="776.8" width="5.6" height="27.3" fill="url(#groove)"/>
<rect x="272.0" y="782.4" width="5.6" height="27.8" fill="url(#groove)"/>
<rect x="294.7" y="771.3" width="5.6" height="26.5" fill="url(#grooveR)"/>
<rect x="312.5" y="761.4" width="5.6" height="25.4" fill="url(#grooveR)"/>
<rect x="327.0" y="753.3" width="5.6" height="24.4" fill="url(#grooveR)"/>
<path d="M182.4,756.8 L237.0,742.4 L328.8,754.4 L276.7,783.4 Z" fill="#f6f6f6"/>
<ellipse cx="192.3" cy="757.6" rx="3.5" ry="1.75" fill="#9c9c9c"/>
<ellipse cx="201.4" cy="755.2" rx="3.5" ry="1.75" fill="#9c9c9c"/>
<ellipse cx="210.5" cy="752.8" rx="3.5" ry="1.75" fill="#9c9c9c"/>
<ellipse cx="219.6" cy="750.4" rx="3.5" ry="1.75" fill="#9c9c9c"/>
<ellipse cx="228.7" cy="748.0" rx="3.5" ry="1.75" fill="#9c9c9c"/>
<ellipse cx="237.8" cy="745.6" rx="3.5" ry="1.75" fill="#9c9c9c"/>
<ellipse cx="208.0" cy="762.0" rx="3.5" ry="1.75" fill="#9c9c9c"/>
<ellipse cx="217.1" cy="759.6" rx="3.5" ry="1.75" fill="#9c9c9c"/>
<ellipse cx="226.2" cy="757.2" rx="3.5" ry="1.75" fill="#9c9c9c"/>
<ellipse cx="235.3" cy="754.8" rx="3.5" ry="1.75" fill="#9c9c9c"/>
<ellipse cx="244.4" cy="752.4" rx="3.5" ry="1.75" fill="#9c9c9c"/>
<ellipse cx="253.5" cy="750.0" rx="3.5" ry="1.75" fill="#9c9c9c"/>
<ellipse cx="223.8" cy="766.5" rx="3.5" ry="1.75" fill="#9c9c9c"/>
<ellipse cx="232.9" cy="764.1" rx="3.5" ry="1.75" fill="#9c9c9c"/>
<ellipse cx="242.0" cy="761.7" rx="3.5" ry="1.75" fill="#9c9c9c"/>
<ellipse cx="251.1" cy="759.3" rx="3.5" ry="1.75" fill="#9c9c9c"/>
<ellipse cx="260.2" cy="756.9" rx="3.5" ry="1.75" fill="#9c9c9c"/>
<ellipse cx="269.3" cy="754.5" rx="3.5" ry="1.75" fill="#9c9c9c"/>
<ellipse cx="239.5" cy="770.9" rx="3.5" ry="1.75" fill="#9c9c9c"/>
<ellipse cx="248.6" cy="768.5" rx="3.5" ry="1.75" fill="#9c9c9c"/>
<ellipse cx="257.7" cy="766.1" rx="3.5" ry="1.75" fill="#9c9c9c"/>
<ellipse cx="266.8" cy="763.7" rx="3.5" ry="1.75" fill="#9c9c9c"/>
<ellipse cx="275.9" cy="761.3" rx="3.5" ry="1.75" fill="#9c9c9c"/>
<ellipse cx="285.0" cy="758.9" rx="3.5" ry="1.75" fill="#9c9c9c"/>
<ellipse cx="255.2" cy="775.3" rx="3.5" ry="1.75" fill="#9c9c9c"/>
<ellipse cx="264.3" cy="772.9" rx="3.5" ry="1.75" fill="#9c9c9c"/>
<ellipse cx="273.4" cy="770.5" rx="3.5" ry="1.75" fill="#9c9c9c"/>
<ellipse cx="282.5" cy="768.1" rx="3.5" ry="1.75" fill="#9c9c9c"/>
<ellipse cx="291.6" cy="765.7" rx="3.5" ry="1.75" fill="#9c9c9c"/>
<ellipse cx="300.7" cy="763.3" rx="3.5" ry="1.75" fill="#9c9c9c"/>
<ellipse cx="270.9" cy="779.8" rx="3.5" ry="1.75" fill="#9c9c9c"/>
<ellipse cx="280.0" cy="777.4" rx="3.5" ry="1.75" fill="#9c9c9c"/>
<ellipse cx="289.1" cy="775.0" rx="3.5" ry="1.75" fill="#9c9c9c"/>
<ellipse cx="298.2" cy="772.6" rx="3.5" ry="1.75" fill="#9c9c9c"/>
<ellipse cx="307.3" cy="770.2" rx="3.5" ry="1.75" fill="#9c9c9c"/>
<ellipse cx="316.4" cy="767.8" rx="3.5" ry="1.75" fill="#9c9c9c"/>
<rect x="176.3" y="779.0" width="6.6" height="3" rx="1.2" fill="url(#pillK)"/>
<rect x="176.3" y="773.2" width="6.6" height="6.4" rx="1.2" fill="url(#pillY)"/>
<ellipse cx="179.6" cy="773.2" rx="3.3" ry="1.3" fill="#f4f470"/>
<rect x="190.4" y="783.3" width="6.6" height="3" rx="1.2" fill="url(#pillK)"/>
<rect x="190.4" y="777.5" width="6.6" height="6.4" rx="1.2" fill="url(#pillY)"/>
<ellipse cx="193.7" cy="777.5" rx="3.3" ry="1.3" fill="#f4f470"/>
<rect x="203.6" y="787.3" width="6.6" height="3" rx="1.2" fill="url(#pillK)"/>
<rect x="203.6" y="781.5" width="6.6" height="6.4" rx="1.2" fill="url(#pillY)"/>
<ellipse cx="206.9" cy="781.5" rx="3.3" ry="1.3" fill="#f4f470"/>
<rect x="218.7" y="791.9" width="6.6" height="3" rx="1.2" fill="url(#pillK)"/>
<rect x="218.7" y="786.1" width="6.6" height="6.4" rx="1.2" fill="url(#pillY)"/>
<ellipse cx="222.0" cy="786.1" rx="3.3" ry="1.3" fill="#f4f470"/>
<rect x="234.7" y="796.8" width="6.6" height="3" rx="1.2" fill="url(#pillK)"/>
<rect x="234.7" y="791.0" width="6.6" height="6.4" rx="1.2" fill="url(#pillY)"/>
<ellipse cx="238.0" cy="791.0" rx="3.3" ry="1.3" fill="#f4f470"/>
<rect x="251.7" y="801.9" width="6.6" height="3" rx="1.2" fill="url(#pillK)"/>
<rect x="251.7" y="796.1" width="6.6" height="6.4" rx="1.2" fill="url(#pillY)"/>
<ellipse cx="255.0" cy="796.1" rx="3.3" ry="1.3" fill="#f4f470"/>
<rect x="271.5" y="807.9" width="6.6" height="3" rx="1.2" fill="url(#pillK)"/>
<rect x="271.5" y="802.1" width="6.6" height="6.4" rx="1.2" fill="url(#pillY)"/>
<ellipse cx="274.8" cy="802.1" rx="3.3" ry="1.3" fill="#f4f470"/>
<rect x="294.2" y="795.6" width="6.6" height="3" rx="1.2" fill="url(#pillK)"/>
<rect x="294.2" y="789.8" width="6.6" height="6.4" rx="1.2" fill="url(#pillY)"/>
<ellipse cx="297.5" cy="789.8" rx="3.3" ry="1.3" fill="#f4f470"/>
<rect x="312.0" y="784.6" width="6.6" height="3" rx="1.2" fill="url(#pillK)"/>
<rect x="312.0" y="778.8" width="6.6" height="6.4" rx="1.2" fill="url(#pillY)"/>
<ellipse cx="315.3" cy="778.8" rx="3.3" ry="1.3" fill="#f4f470"/>
<rect x="326.5" y="775.6" width="6.6" height="3" rx="1.2" fill="url(#pillK)"/>
<rect x="326.5" y="769.8" width="6.6" height="6.4" rx="1.2" fill="url(#pillY)"/>
<ellipse cx="329.8" cy="769.8" rx="3.3" ry="1.3" fill="#f4f470"/>
<rect x="337.3" y="739.2" width="153.7" height="94.79999999999995" fill="url(#bgL)"/>
<path d="M343.7,799.0 L431.9,829.0 L490.0,796.6 Z" fill="#999" opacity="0.35" filter="url(#blur2)"/>
<path d="M339.7,787.6 L431.9,815.6 L431.9,825.0 L339.7,797.0 Z" fill="#acacac"/>
<path d="M431.9,815.6 L488.0,785.2 L488.0,794.6 L431.9,825.0 Z" fill="#949494"/>
<path d="M339.7,787.6 L395.8,757.2 L488.0,785.2 L431.9,815.6 Z" fill="#a4a4a4"/>
<path d="M344.3,757.2 L428.4,778.0 L428.4,818.0 L344.3,786.4 Z" fill="#bcbcc0"/>
<path d="M428.4,778.0 L483.3,753.7 L483.3,784.0 L428.4,818.0 Z" fill="#b0b0b4"/>
<rect x="348.4" y="757.4" width="2" height="29.3" fill="#9a9aa4" opacity="0.4"/>
<rect x="359.4" y="760.1" width="2" height="30.7" fill="#9a9aa4" opacity="0.4"/>
<rect x="372.0" y="763.2" width="2" height="32.3" fill="#9a9aa4" opacity="0.4"/>
<rect x="384.6" y="766.4" width="2" height="34.0" fill="#9a9aa4" opacity="0.4"/>
<rect x="398.9" y="769.9" width="2" height="35.8" fill="#9a9aa4" opacity="0.4"/>
<rect x="414.9" y="773.8" width="2" height="37.8" fill="#9a9aa4" opacity="0.4"/>
<rect x="433.4" y="778.4" width="2" height="40.2" fill="#9a9aa4" opacity="0.4"/>
<rect x="454.8" y="767.8" width="2" height="35.9" fill="#9a9aa4" opacity="0.4"/>
<rect x="471.2" y="760.5" width="2" height="33.0" fill="#9a9aa4" opacity="0.4"/>
<rect x="485.5" y="754.2" width="2" height="30.5" fill="#9a9aa4" opacity="0.4"/>
<rect x="341.8" y="765.4" width="6.6" height="21.8" rx="2.2" fill="url(#pillY)"/>
<rect x="352.8" y="768.1" width="6.6" height="23.2" rx="2.2" fill="url(#pillY)"/>
<rect x="365.4" y="771.2" width="6.6" height="24.8" rx="2.2" fill="url(#pillY)"/>
<rect x="378.0" y="774.4" width="6.6" height="26.5" rx="2.2" fill="url(#pillY)"/>
<rect x="392.3" y="777.9" width="6.6" height="28.3" rx="2.2" fill="url(#pillY)"/>
<rect x="408.3" y="781.8" width="6.6" height="30.3" rx="2.2" fill="url(#pillY)"/>
<rect x="426.8" y="786.4" width="6.6" height="32.7" rx="2.2" fill="url(#pillY)"/>
<rect x="448.2" y="775.8" width="6.6" height="28.4" rx="2.2" fill="url(#pillY)"/>
<rect x="464.6" y="768.5" width="6.6" height="25.5" rx="2.2" fill="url(#pillY)"/>
<rect x="478.9" y="762.2" width="6.6" height="23.0" rx="2.2" fill="url(#pillY)"/>
<path d="M344.3,757.2 L428.4,778.0 L428.4,787.5 L344.3,766.7 Z" fill="url(#speck)"/>
<path d="M428.4,778.0 L483.3,753.7 L483.3,763.2 L428.4,787.5 Z" fill="url(#speck)"/>
<path d="M344.3,757.2 L428.4,778.0 L428.4,787.5 L344.3,766.7 Z" fill="#a09020" opacity="0.2"/>
<path d="M428.4,778.0 L483.3,753.7 L483.3,763.2 L428.4,787.5 Z" fill="#a09020" opacity="0.3"/>
<path d="M344.3,757.2 L393.4,742.0 L483.3,753.7 L428.4,778.0 Z" fill="url(#speck)"/>
<rect x="490.0" y="738.5" width="168.0" height="94.0" fill="url(#bgL4)"/>
<path d="M496.8,798.0 L595.3,834.5 L657.1,798.0 Z" fill="#999" opacity="0.35" filter="url(#blur2)"/>
<path d="M492.8,785.5 L595.3,820.0 L595.3,830.5 L492.8,796.0 Z" fill="#acacac"/>
<path d="M595.3,820.0 L655.1,785.5 L655.1,796.0 L595.3,830.5 Z" fill="#949494"/>
<path d="M492.8,785.5 L552.6,751.0 L655.1,785.5 L595.3,820.0 Z" fill="#a4a4a4"/>
<path d="M495.7,760.7 L591.0,785.5 L591.0,817.0 L495.7,785.7 Z" fill="#bcbcc0"/>
<path d="M591.0,785.5 L649.4,759.9 L649.4,786.9 L591.0,817.0 Z" fill="#b0b0b4"/>
<rect x="502.2" y="761.4" width="2" height="25.2" fill="#9a9aa4" opacity="0.4"/>
<rect x="514.5" y="764.7" width="2" height="26.0" fill="#9a9aa4" opacity="0.4"/>
<rect x="527.9" y="768.1" width="2" height="27.0" fill="#9a9aa4" opacity="0.4"/>
<rect x="542.2" y="771.9" width="2" height="27.9" fill="#9a9aa4" opacity="0.4"/>
<rect x="558.4" y="776.1" width="2" height="29.0" fill="#9a9aa4" opacity="0.4"/>
<rect x="575.1" y="780.4" width="2" height="30.2" fill="#9a9aa4" opacity="0.4"/>
<rect x="594.6" y="785.5" width="2" height="31.5" fill="#9a9aa4" opacity="0.4"/>
<rect x="618.5" y="775.0" width="2" height="29.7" fill="#9a9aa4" opacity="0.4"/>
<rect x="637.2" y="766.8" width="2" height="28.2" fill="#9a9aa4" opacity="0.4"/>
<rect x="653.0" y="759.9" width="2" height="27.0" fill="#9a9aa4" opacity="0.4"/>
<path d="M495.7,760.7 L562.6,744.2 L649.4,759.9 L591.0,785.5 Z" fill="#cfcfd2"/>
<ellipse cx="505.0" cy="761.2" rx="3.1" ry="1.45" fill="#e2e040"/>
<ellipse cx="514.5" cy="758.8" rx="3.1" ry="1.45" fill="#e2e040"/>
<ellipse cx="524.1" cy="756.5" rx="3.1" ry="1.45" fill="#e2e040"/>
<ellipse cx="533.6" cy="754.1" rx="3.1" ry="1.45" fill="#e2e040"/>
<ellipse cx="543.2" cy="751.7" rx="3.1" ry="1.45" fill="#e2e040"/>
<ellipse cx="552.8" cy="749.4" rx="3.1" ry="1.45" fill="#e2e040"/>
<ellipse cx="562.3" cy="747.0" rx="3.1" ry="1.45" fill="#e2e040"/>
<ellipse cx="518.6" cy="764.7" rx="3.1" ry="1.45" fill="#e2e040"/>
<ellipse cx="528.1" cy="762.4" rx="3.1" ry="1.45" fill="#e2e040"/>
<ellipse cx="537.7" cy="760.0" rx="3.1" ry="1.45" fill="#e2e040"/>
<ellipse cx="547.3" cy="757.6" rx="3.1" ry="1.45" fill="#e2e040"/>
<ellipse cx="556.8" cy="755.3" rx="3.1" ry="1.45" fill="#e2e040"/>
<ellipse cx="566.4" cy="752.9" rx="3.1" ry="1.45" fill="#e2e040"/>
<ellipse cx="575.9" cy="750.6" rx="3.1" ry="1.45" fill="#e2e040"/>
<ellipse cx="532.2" cy="768.3" rx="3.1" ry="1.45" fill="#e2e040"/>
<ellipse cx="541.8" cy="765.9" rx="3.1" ry="1.45" fill="#e2e040"/>
<ellipse cx="551.3" cy="763.5" rx="3.1" ry="1.45" fill="#e2e040"/>
<ellipse cx="560.9" cy="761.2" rx="3.1" ry="1.45" fill="#e2e040"/>
<ellipse cx="570.4" cy="758.8" rx="3.1" ry="1.45" fill="#e2e040"/>
<ellipse cx="580.0" cy="756.5" rx="3.1" ry="1.45" fill="#e2e040"/>
<ellipse cx="589.5" cy="754.1" rx="3.1" ry="1.45" fill="#e2e040"/>
<ellipse cx="545.8" cy="771.8" rx="3.1" ry="1.45" fill="#e2e040"/>
<ellipse cx="555.4" cy="769.4" rx="3.1" ry="1.45" fill="#e2e040"/>
<ellipse cx="564.9" cy="767.1" rx="3.1" ry="1.45" fill="#e2e040"/>
<ellipse cx="574.5" cy="764.7" rx="3.1" ry="1.45" fill="#e2e040"/>
<ellipse cx="584.0" cy="762.4" rx="3.1" ry="1.45" fill="#e2e040"/>
<ellipse cx="593.6" cy="760.0" rx="3.1" ry="1.45" fill="#e2e040"/>
<ellipse cx="603.2" cy="757.7" rx="3.1" ry="1.45" fill="#e2e040"/>
<ellipse cx="559.4" cy="775.3" rx="3.1" ry="1.45" fill="#e2e040"/>
<ellipse cx="569.0" cy="773.0" rx="3.1" ry="1.45" fill="#e2e040"/>
<ellipse cx="578.5" cy="770.6" rx="3.1" ry="1.45" fill="#e2e040"/>
<ellipse cx="588.1" cy="768.3" rx="3.1" ry="1.45" fill="#e2e040"/>
<ellipse cx="597.7" cy="765.9" rx="3.1" ry="1.45" fill="#e2e040"/>
<ellipse cx="607.2" cy="763.6" rx="3.1" ry="1.45" fill="#e2e040"/>
<ellipse cx="616.8" cy="761.2" rx="3.1" ry="1.45" fill="#e2e040"/>
<ellipse cx="573.0" cy="778.9" rx="3.1" ry="1.45" fill="#e2e040"/>
<ellipse cx="582.6" cy="776.5" rx="3.1" ry="1.45" fill="#e2e040"/>
<ellipse cx="592.2" cy="774.2" rx="3.1" ry="1.45" fill="#e2e040"/>
<ellipse cx="601.7" cy="771.8" rx="3.1" ry="1.45" fill="#e2e040"/>
<ellipse cx="611.3" cy="769.5" rx="3.1" ry="1.45" fill="#e2e040"/>
<ellipse cx="620.8" cy="767.1" rx="3.1" ry="1.45" fill="#e2e040"/>
<ellipse cx="630.4" cy="764.7" rx="3.1" ry="1.45" fill="#e2e040"/>
<ellipse cx="586.7" cy="782.4" rx="3.1" ry="1.45" fill="#e2e040"/>
<ellipse cx="596.2" cy="780.1" rx="3.1" ry="1.45" fill="#e2e040"/>
<ellipse cx="605.8" cy="777.7" rx="3.1" ry="1.45" fill="#e2e040"/>
<ellipse cx="615.3" cy="775.4" rx="3.1" ry="1.45" fill="#e2e040"/>
<ellipse cx="624.9" cy="773.0" rx="3.1" ry="1.45" fill="#e2e040"/>
<ellipse cx="634.4" cy="770.6" rx="3.1" ry="1.45" fill="#e2e040"/>
<ellipse cx="644.0" cy="768.3" rx="3.1" ry="1.45" fill="#e2e040"/>
<rect x="495.0" y="759.9" width="7.2" height="26.7" rx="2.4" fill="url(#pillY)"/>
<ellipse cx="498.6" cy="760.2" rx="3.6" ry="1.4" fill="#eeee60"/>
<rect x="507.3" y="763.2" width="7.2" height="27.5" rx="2.4" fill="url(#pillY)"/>
<ellipse cx="510.9" cy="763.5" rx="3.6" ry="1.4" fill="#eeee60"/>
<rect x="520.7" y="766.6" width="7.2" height="28.5" rx="2.4" fill="url(#pillY)"/>
<ellipse cx="524.3" cy="766.9" rx="3.6" ry="1.4" fill="#eeee60"/>
<rect x="535.0" y="770.4" width="7.2" height="29.4" rx="2.4" fill="url(#pillY)"/>
<ellipse cx="538.6" cy="770.7" rx="3.6" ry="1.4" fill="#eeee60"/>
<rect x="551.2" y="774.6" width="7.2" height="30.5" rx="2.4" fill="url(#pillY)"/>
<ellipse cx="554.8" cy="774.9" rx="3.6" ry="1.4" fill="#eeee60"/>
<rect x="567.9" y="778.9" width="7.2" height="31.7" rx="2.4" fill="url(#pillY)"/>
<ellipse cx="571.5" cy="779.2" rx="3.6" ry="1.4" fill="#eeee60"/>
<rect x="587.4" y="784.0" width="7.2" height="33.0" rx="2.4" fill="url(#pillY)"/>
<ellipse cx="591.0" cy="784.3" rx="3.6" ry="1.4" fill="#eeee60"/>
<rect x="611.3" y="773.5" width="7.2" height="31.2" rx="2.4" fill="url(#pillY)"/>
<ellipse cx="614.9" cy="773.8" rx="3.6" ry="1.4" fill="#eeee60"/>
<rect x="630.0" y="765.3" width="7.2" height="29.7" rx="2.4" fill="url(#pillY)"/>
<ellipse cx="633.6" cy="765.6" rx="3.6" ry="1.4" fill="#eeee60"/>
<rect x="645.8" y="758.4" width="7.2" height="28.5" rx="2.4" fill="url(#pillY)"/>
<ellipse cx="649.4" cy="758.7" rx="3.6" ry="1.4" fill="#eeee60"/>
<text transform="translate(23.34,16.69) scale(0.788,1.058)" style="font-family:'Liberation Sans',sans-serif;font-size:20.0px" fill="#111" stroke="#111" stroke-width="0.44">a</text>
<text transform="translate(407.74,16.69) scale(1.125,1.075)" style="font-family:'Liberation Sans',sans-serif;font-size:20.0px" fill="#111" stroke="#111" stroke-width="0.31">b</text>
<text transform="translate(15.86,216.40) scale(0.880,1.013)" style="font-family:'Liberation Sans',sans-serif;font-size:20.0px" fill="#111" stroke="#111" stroke-width="0.40">c</text>
<text transform="translate(223.94,221.50) scale(1.022,1.014)" style="font-family:'Liberation Sans',sans-serif;font-size:20.0px" fill="#111" stroke="#111" stroke-width="0.34">d</text>
<text transform="translate(458.21,219.70) scale(0.936,1.022)" style="font-family:'Liberation Sans',sans-serif;font-size:20.0px" fill="#111" stroke="#111" stroke-width="0.37">e</text>
<text transform="translate(16.84,365.00) scale(1.283,1.105)" style="font-family:'Liberation Sans',sans-serif;font-size:20.0px" fill="#111" stroke="#111" stroke-width="0.27">f</text>
<text transform="translate(225.10,370.78) scale(1.067,1.013)" style="font-family:'Liberation Sans',sans-serif;font-size:20.0px" fill="#111" stroke="#111" stroke-width="0.33">g</text>
<text transform="translate(457.53,374.10) scale(1.066,1.041)" style="font-family:'Liberation Sans',sans-serif;font-size:20.0px" fill="#111" stroke="#111" stroke-width="0.33">h</text>
<text transform="translate(17.62,561.70) scale(1.705,1.028)" style="font-family:'Liberation Sans',sans-serif;font-size:20.0px" fill="#111" stroke="#111" stroke-width="0.21">i</text>
<text transform="translate(227.68,557.40) scale(1.425,1.034)" style="font-family:'Liberation Sans',sans-serif;font-size:20.0px" fill="#111" stroke="#111" stroke-width="0.25">j</text>
<text transform="translate(456.51,562.70) scale(1.037,1.041)" style="font-family:'Liberation Sans',sans-serif;font-size:20.0px" fill="#111" stroke="#111" stroke-width="0.34">k</text>
<text transform="translate(18.56,736.70) scale(1.818,1.076)" style="font-family:'Liberation Sans',sans-serif;font-size:20.0px" fill="#111" stroke="#111" stroke-width="0.19">l</text>
</svg>
</body></html>
